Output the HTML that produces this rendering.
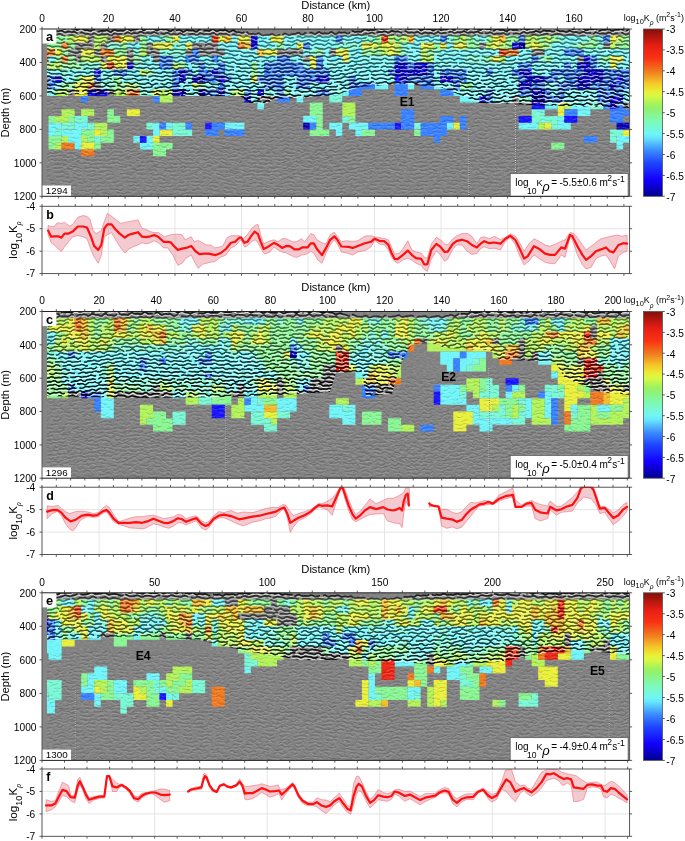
<!DOCTYPE html><html><head><meta charset="utf-8"><style>html,body{margin:0;padding:0;background:#fff;overflow:hidden;width:685px;height:841px;}svg{display:block;will-change:transform;}text{font-family:"Liberation Sans", sans-serif;}</style></head><body><svg width="685" height="841" viewBox="0 0 685 841"><defs><linearGradient id="cbar" x1="0" y1="1" x2="0" y2="0"><stop offset="0.000" stop-color="#00008c"/><stop offset="0.025" stop-color="#0500a9"/><stop offset="0.050" stop-color="#0a00c6"/><stop offset="0.075" stop-color="#0f00e2"/><stop offset="0.100" stop-color="#1400ff"/><stop offset="0.125" stop-color="#1611ff"/><stop offset="0.150" stop-color="#1923ff"/><stop offset="0.175" stop-color="#1c35ff"/><stop offset="0.200" stop-color="#1e46ff"/><stop offset="0.225" stop-color="#285dff"/><stop offset="0.250" stop-color="#3275ff"/><stop offset="0.275" stop-color="#3c8cff"/><stop offset="0.300" stop-color="#4aaaff"/><stop offset="0.325" stop-color="#59c8ff"/><stop offset="0.350" stop-color="#67e6ff"/><stop offset="0.375" stop-color="#70f6f4"/><stop offset="0.400" stop-color="#74f7df"/><stop offset="0.425" stop-color="#79f9c9"/><stop offset="0.450" stop-color="#7dfab4"/><stop offset="0.475" stop-color="#84f79d"/><stop offset="0.500" stop-color="#8bf486"/><stop offset="0.525" stop-color="#92f16f"/><stop offset="0.550" stop-color="#a3f25d"/><stop offset="0.575" stop-color="#bef550"/><stop offset="0.600" stop-color="#d9f843"/><stop offset="0.625" stop-color="#e9f038"/><stop offset="0.650" stop-color="#efdc30"/><stop offset="0.675" stop-color="#f5c828"/><stop offset="0.700" stop-color="#f3ad25"/><stop offset="0.725" stop-color="#f29321"/><stop offset="0.750" stop-color="#f0781e"/><stop offset="0.775" stop-color="#f3611b"/><stop offset="0.800" stop-color="#f74917"/><stop offset="0.825" stop-color="#fa3214"/><stop offset="0.850" stop-color="#f32b14"/><stop offset="0.875" stop-color="#ed2514"/><stop offset="0.900" stop-color="#e61e14"/><stop offset="0.925" stop-color="#cd1a11"/><stop offset="0.950" stop-color="#b4170f"/><stop offset="0.975" stop-color="#9b130d"/><stop offset="1.000" stop-color="#820f0a"/></linearGradient><filter id="tex" x="0" y="0" width="1" height="1" color-interpolation-filters="sRGB"><feTurbulence type="fractalNoise" baseFrequency="0.3 0.75" numOctaves="2" seed="7"/><feColorMatrix type="matrix" values="1.8 0 0 0 -0.4  1.8 0 0 0 -0.4  1.8 0 0 0 -0.4  0 0 0 0 0.08"/></filter><clipPath id="clip0"><rect x="42.0" y="29.0" width="587.6" height="167.3"/></clipPath><clipPath id="kclip0"><rect x="42.0" y="205.8" width="587.6" height="68.3"/></clipPath><linearGradient id="mg0" gradientUnits="userSpaceOnUse" x1="0" y1="29.0" x2="0" y2="99.0"><stop offset="0" stop-color="#fff"/><stop offset="0.1" stop-color="#888"/><stop offset="0.45" stop-color="#b0b0b0"/><stop offset="1" stop-color="#fff"/></linearGradient><mask id="mk0" maskUnits="userSpaceOnUse" x="0" y="0" width="685" height="841"><rect x="0" y="0" width="685" height="841" fill="url(#mg0)"/></mask><clipPath id="zone0"><polygon points="42.0,29.0 42.0,95.0 100.0,94.0 140.0,95.0 200.0,96.0 240.0,96.0 250.0,103.0 265.0,104.0 275.0,99.0 300.0,98.0 336.0,95.0 360.0,87.0 400.0,84.0 440.0,87.0 465.0,97.0 480.0,103.0 530.0,105.0 630.0,108.0 629.6,29.0"/></clipPath><clipPath id="clip1"><rect x="42.0" y="311.5" width="587.6" height="166.7"/></clipPath><clipPath id="kclip1"><rect x="42.0" y="486.7" width="587.6" height="68.3"/></clipPath><linearGradient id="mg1" gradientUnits="userSpaceOnUse" x1="0" y1="311.5" x2="0" y2="381.5"><stop offset="0" stop-color="#fff"/><stop offset="0.1" stop-color="#888"/><stop offset="0.45" stop-color="#b0b0b0"/><stop offset="1" stop-color="#fff"/></linearGradient><mask id="mk1" maskUnits="userSpaceOnUse" x="0" y="0" width="685" height="841"><rect x="0" y="0" width="685" height="841" fill="url(#mg1)"/></mask><clipPath id="zone1"><polygon points="42.0,311.5 42.0,396.0 140.0,398.0 230.0,397.0 300.0,394.0 330.0,392.0 336.0,373.0 362.0,372.0 366.0,396.0 392.0,394.0 398.0,372.0 404.0,357.0 412.0,344.0 432.0,343.0 445.0,348.0 490.0,350.0 500.0,360.0 555.0,362.0 565.0,378.0 600.0,392.0 630.0,395.0 629.6,311.5"/></clipPath><clipPath id="clip2"><rect x="42.0" y="592.8" width="587.6" height="167.6"/></clipPath><clipPath id="kclip2"><rect x="42.0" y="768.5" width="587.6" height="68.3"/></clipPath><linearGradient id="mg2" gradientUnits="userSpaceOnUse" x1="0" y1="592.8" x2="0" y2="662.8"><stop offset="0" stop-color="#fff"/><stop offset="0.1" stop-color="#888"/><stop offset="0.45" stop-color="#b0b0b0"/><stop offset="1" stop-color="#fff"/></linearGradient><mask id="mk2" maskUnits="userSpaceOnUse" x="0" y="0" width="685" height="841"><rect x="0" y="0" width="685" height="841" fill="url(#mg2)"/></mask><clipPath id="zone2"><polygon points="42.0,592.8 42.0,640.0 100.0,638.0 140.0,636.0 200.0,640.0 240.0,650.0 300.0,660.0 340.0,660.0 400.0,662.0 440.0,665.0 500.0,662.0 530.0,655.0 580.0,650.0 630.0,655.0 629.6,592.8"/></clipPath></defs><rect width="685" height="841" fill="#fff"/><g clip-path="url(#clip0)"><rect x="42.0" y="29.0" width="587.6" height="167.3" fill="#838383"/><rect x="42.0" y="29.0" width="587.6" height="167.3" fill="#888" filter="url(#tex)"/><path id="st0" d="M35 27.7l2 1.1 2 -.4 2 -1.8 2 .2 2 1.0 2 -.3 2 .3 2 .8 2 -1.3 2 -1.1 2 1.1 2 .5 2 -.3 2 1.0 2 .3 2 -1.6 2 -.1 2 1.3 2 .1 2 .3 2 1.2 2 -.7 2 -1.3 2 1.1 2 1.1 2 -.2 2 .6 2 .4 2 -1.4 2 -.1 2 1.9 2 .2 2 -.9 2 .2 2 -.2 2 -.6 2 1.3 2 .8 2 -1.8 2 -.8 2 1.1 2 .0 2 -.3 2 .5 2 -1.0 2 -1.4 2 1.1 2 1.1 2 -1.1 2 -.5 2 .2 2 -.9 2 .1 2 1.7 2 -.3 2 -1.5 2 .2 2 .3 2 -.5 2 1.1 2 1.1 2 -1.1 2 -.8 2 .8 2 -.2 2 .0 2 1.6 2 .3 2 -1.4 2 .0 2 .5 2 -.5 2 .7 2 1.5 2 -.9 2 -1.2 2 .5 2 .1 2 -.3 2 1.2 2 .3 2 -1.9 2 -.3 2 1.2 2 -.1 2 -.1 2 .6 2 -1.1 2 -1.1 2 1.5 2 1.0 2 -1.1 2 -.3 2 .4 2 -.5 2 .8 2 1.4 2 -.9 2 -1.2 2 1.2 2 1.0 2 -.2 2 .7 2 .2 2 -1.3 2 .5 2 1.9 2 .1 2 -.5 2 .6 2 -.4 2 -.7 2 1.5 2 1.2 2 -.8 2 -.2 2 .3 2 -1.1 2 .0 2 1.7 2 .1 2 -1.0 2 .2 2 -.4 2 -1.3 2 .8 2 1.3 2 -.8 2 -.7 2 .2 2 -1.0 2 -.5 2 1.6 2 .3 2 -1.5 2 -.2 2 .3 2 -.6 2 .8 2 1.0 2 -1.3 2 -1.2 2 1.1 2 .7 2 -.5 2 .4 2 -.3 2 -1.4 2 .9 2 1.6 2 -.9 2 -1.2 2 .5 2 -.2 2 -.2 2 1.2 2 -.3 2 -2.0 2 -.1 2 1.0 2 -.5 2 .0 2 .4 2 -1.5 2 -1.4 2 1.0 2 .4 2 -.8 2 .3 2 -.2 2 -1.8 2 -.3 2 1.2 2 -.3 2 -.3 2 .7 2 -.9 2 -1.5 2 .8 2 1.0 2 -.4 2 .4 2 .4 2 -1.5 2 -.3 2 1.7 2 .4 2 -.5 2 .4 2 -.3 2 -1.0 2 1.3 2 1.5 2 -1.1 2 -.8 2 .7 2 -.2 2 .2 2 1.3 2 -.7 2 -1.7 2 .7 2 1.3 2 -.6 2 -.3 2 .1 2 -1.2 2 -.1 2 1.7 2 .0 2 -1.6 2 .1 2 .1 2 -.5 2 .9 2 1.1 2 -1.4 2 -1.0 2 .9 2 .0 2 .0 2 1.4 2 .1 2 -1.6 2 .1 2 .8 2 -.3 2 .7 2 1.4 2 -.9 2 -1.2 2 .7 2 .3 2 -.3 2 1.2 2 .5 2 -1.7 2 -.5 2 1.0 2 -.2 2 .0 2 .9 2 -1.1 2 -1.6 2 .8 2 1.0 2 -.8 2 -.3 2 -.1 2 -1.4 2 .2 2 1.6 2 -.7 2 -1.6 2 .2 2 .4 2 -.3 2 .7 2 .2 2 -1.8 2 -.1 2 1.7 2 .1 2 -.6 2 .5 2 -.5 2 -.8 2 1.5 2 1.3 2 -.9 2 -.3 2 .5 2 -.7 2 .2 2 1.9 2 .1 2 -1.1 2 .3 2 .0 2 -.8 2 1.0 2 1.5 2 -.8 2 -.7 2 .4 2 -.7 2 -.4 2 1.7 2 .5 2 -1.3 2 -.2 2 .3 2 -.7 2 .7 2 1.6 2 -.9 2 -1.3 2 .8 2 .5M16 31.4l2 .5 2 -.4 2 -.8 2 1.1 2 .8 2 -1.0 2 -.3 2 .4 2 -.9 2 -.1 2 1.3 2 .0 2 -1.1 2 .3 2 -.1 2 -1.0 2 .7 2 1.2 2 -.7 2 -.5 2 .6 2 -.6 2 -.3 2 1.5 2 .5 2 -1.0 2 .2 2 .5 2 -.5 2 .8 2 1.4 2 -.8 2 -.8 2 1.0 2 .6 2 -.2 2 .8 2 .0 2 -1.2 2 .6 2 1.5 2 -.5 2 -.7 2 .4 2 -.3 2 -.3 2 1.2 2 .0 2 -1.6 2 -.1 2 .8 2 -.4 2 .0 2 .5 2 -1.1 2 -1.1 2 1.0 2 .5 2 -.8 2 .3 2 .1 2 -1.4 2 .0 2 1.3 2 -.2 2 -.3 2 .7 2 -.5 2 -1.1 2 .9 2 1.0 2 -.5 2 .4 2 .5 2 -1.1 2 -.3 2 1.5 2 .3 2 -.6 2 .6 2 -.2 2 -1.1 2 .8 2 1.3 2 -.8 2 -.6 2 .5 2 -.5 2 -.1 2 1.2 2 -.2 2 -1.6 2 .3 2 .9 2 -.4 2 .0 2 .3 2 -1.1 2 -.3 2 1.6 2 .2 2 -1.1 2 .2 2 .4 2 -.5 2 .9 2 1.1 2 -.9 2 -.6 2 1.1 2 .2 2 .0 2 1.3 2 .3 2 -1.2 2 .4 2 1.0 2 -.2 2 .5 2 1.2 2 -.7 2 -.9 2 .9 2 .4 2 -.4 2 .9 2 .5 2 -1.4 2 -.4 2 .9 2 -.2 2 -.1 2 .8 2 -.7 2 -1.4 2 .6 2 .7 2 -.6 2 .0 2 .1 2 -1.2 2 -.2 2 1.5 2 -.3 2 -1.2 2 .3 2 .1 2 -.4 2 .8 2 .5 2 -1.5 2 -.3 2 1.3 2 .0 2 -.4 2 .4 2 -.5 2 -.9 2 1.0 2 1.0 2 -1.1 2 -.4 2 .3 2 -.8 2 -.1 2 1.2 2 -.3 2 -1.3 2 .0 2 -.1 2 -1.0 2 .5 2 .8 2 -1.1 2 -1.0 2 .3 2 -.7 2 -.7 2 1.1 2 .1 2 -1.4 2 -.2 2 .2 2 -.9 2 .4 2 1.2 2 -.8 2 -1.1 2 .5 2 .2 2 -.3 2 1.0 2 .3 2 -1.4 2 .0 2 1.4 2 .0 2 -.3 2 .6 2 -.6 2 -.5 2 1.5 2 .6 2 -1.2 2 -.2 2 .7 2 -.3 2 .2 2 .9 2 -.9 2 -1.2 2 1.0 2 .6 2 -.7 2 .2 2 .0 2 -1.3 2 .0 2 1.3 2 -.2 2 -.7 2 .5 2 -.5 2 -1.1 2 1.0 2 .9 2 -.6 2 .0 2 .5 2 -1.0 2 -.3 2 1.5 2 .3 2 -.5 2 .5 2 .0 2 -1.1 2 .8 2 1.3 2 -.4 2 -.4 2 .5 2 -.6 2 -.4 2 1.5 2 .2 2 -1.4 2 -.1 2 .5 2 -.4 2 .2 2 .6 2 -1.3 2 -1.0 2 1.1 2 .3 2 -1.0 2 -.1 2 -.2 2 -1.0 2 .6 2 1.0 2 -1.1 2 -1.1 2 .6 2 .0 2 -.3 2 1.0 2 -.1 2 -1.4 2 .1 2 1.1 2 -.3 2 .3 2 .9 2 -.8 2 -.9 2 1.1 2 .6 2 -.3 2 .8 2 .5 2 -1.2 2 -.2 2 1.2 2 .0 2 -.1 2 1.0 2 -.4 2 -1.3 2 .7 2 .8 2 -.4 2 .3 2 .4 2 -1.2 2 -.4 2 1.4 2 .2 2 -.8 2 .3 2 -.1 2 -.7 2 1.0 2 1.1 2 -1.1 2 -.6 2 1.0M3 35.9l2 -1.0 2 -.9 2 .6 2 .6 2 .3 2 .5 2 -.4 2 -1.3 2 .0 2 1.0 2 .2 2 .1 2 .2 2 -1.0 2 -1.0 2 .6 2 .7 2 .0 2 .3 2 -.2 2 -1.3 2 -.4 2 .9 2 .5 2 .1 2 .4 2 -.7 2 -1.0 2 .6 2 1.2 2 .2 2 .0 2 .0 2 -.8 2 .3 2 1.6 2 .5 2 -.8 2 -.1 2 .2 2 .3 2 1.1 2 .5 2 -1.1 2 -.6 2 1.1 2 .7 2 -.1 2 -.1 2 -.7 2 -.6 2 1.0 2 1.0 2 -.8 2 -.9 2 -.1 2 -.3 2 .3 2 1.0 2 -.4 2 -1.4 2 -.3 2 .2 2 .0 2 .6 2 .6 2 -1.0 2 -1.0 2 .2 2 .1 2 .3 2 1.0 2 .2 2 -1.2 2 -.4 2 .4 2 .2 2 .7 2 1.0 2 -.6 2 -1.0 2 .2 2 .6 2 .3 2 .8 2 .0 2 -1.3 2 -.3 2 1.2 2 .5 2 -.2 2 -.2 2 -.8 2 -.5 2 1.2 2 .8 2 -1.1 2 -.8 2 .2 2 .2 2 .5 2 .5 2 -1.0 2 -1.1 2 .7 2 1.1 2 -.1 2 -.1 2 -.3 2 -.7 2 .4 2 1.5 2 .4 2 -.6 2 .0 2 -.2 2 .0 2 1.2 2 1.2 2 -.3 2 -.3 2 .1 2 -.3 2 .4 2 1.5 2 .5 2 -.6 2 -.1 2 -.2 2 -.4 2 .8 2 1.2 2 -.3 2 -.7 2 -.2 2 -.4 2 .0 2 1.2 2 .2 2 -1.3 2 -.7 2 .3 2 .1 2 .5 2 .3 2 -1.3 2 -1.0 2 .9 2 .8 2 -.4 2 -.4 2 -.4 2 -.6 2 .9 2 1.1 2 -.7 2 -1.1 2 .1 2 .5 2 .3 2 .7 2 -.4 2 -1.3 2 -.1 2 1.1 2 .2 2 .0 2 -.1 2 -1.0 2 -.9 2 .7 2 .7 2 -.3 2 -.2 2 -.5 2 -1.3 2 -.4 2 .9 2 .1 2 -.4 2 -.1 2 -1.0 2 -1.3 2 .3 2 .8 2 -.2 2 -.2 2 -.4 2 -1.2 2 -.4 2 1.2 2 .5 2 -.6 2 -.4 2 -.4 2 -.3 2 1.0 2 1.1 2 -.8 2 -1.0 2 .4 2 .6 2 .5 2 .5 2 -.6 2 -1.0 2 .7 2 1.3 2 -.1 2 -.5 2 -.2 2 -.4 2 .3 2 1.3 2 -.1 2 -1.3 2 -.4 2 .4 2 .0 2 .6 2 .5 2 -1.2 2 -1.0 2 .4 2 .3 2 .2 2 .6 2 -.1 2 -1.4 2 -.3 2 .6 2 .2 2 .5 2 .8 2 -.7 2 -1.1 2 .4 2 .6 2 .3 2 .8 2 .3 2 -1.2 2 -.4 2 .9 2 .6 2 .3 2 .3 2 -.8 2 -.9 2 .8 2 1.2 2 -.3 2 -.7 2 -.3 2 -.5 2 .5 2 1.0 2 -.6 2 -1.6 2 .0 2 .6 2 .0 2 .0 2 -.4 2 -1.4 2 -.2 2 1.2 2 .2 2 -.8 2 -.4 2 -.5 2 -.4 2 1.0 2 .9 2 -.7 2 -.8 2 .0 2 -.1 2 .3 2 1.4 2 .2 2 -.9 2 -.2 2 .1 2 -.1 2 .9 2 1.2 2 -.3 2 -.7 2 .0 2 -.2 2 .2 2 1.3 2 .5 2 -1.0 2 -.5 2 .1 2 .0 2 .7 2 .9 2 -.8 2 -1.2 2 .3 2 .8 2 .2 2 .2 2 -.4 2 -1.1 2 .4 2 1.5 2 .1 2 -.8 2 -.1 2 .1 2 .4M32 37.8l2 1.7 2 .0 2 -1.5 2 .0 2 .0 2 -.8 2 1.0 2 1.4 2 -1.0 2 -.9 2 .5 2 -.4 2 -.3 2 1.8 2 .7 2 -1.3 2 .0 2 .5 2 -.7 2 .8 2 1.9 2 -.4 2 -1.2 2 .6 2 .3 2 -.1 2 1.5 2 .6 2 -1.7 2 -.3 2 1.4 2 .1 2 .0 2 .6 2 -1.1 2 -1.1 2 1.6 2 1.0 2 -1.4 2 -.7 2 .4 2 -.6 2 .4 2 1.2 2 -1.2 2 -1.8 2 .9 2 .7 2 -.5 2 .4 2 -.1 2 -1.7 2 .0 2 1.7 2 .0 2 -.6 2 .5 2 -.6 2 -1.2 2 1.3 2 1.4 2 -.6 2 .0 2 .4 2 -1.2 2 -.4 2 1.8 2 .6 2 -.7 2 .5 2 -.3 2 -1.4 2 .7 2 1.6 2 -.4 2 -.6 2 .4 2 -1.1 2 -.5 2 1.7 2 .6 2 -1.6 2 -.3 2 .3 2 -.5 2 .7 2 1.1 2 -1.4 2 -1.4 2 1.3 2 .9 2 -.5 2 .3 2 -.2 2 -1.2 2 1.1 2 1.9 2 -.7 2 -1.0 2 .7 2 .2 2 .1 2 1.7 2 .3 2 -1.6 2 .2 2 1.3 2 .1 2 .5 2 1.2 2 -1.0 2 -1.2 2 1.1 2 .8 2 -.3 2 .9 2 .3 2 -1.7 2 -.5 2 1.2 2 .0 2 -.1 2 1.0 2 -.7 2 -1.8 2 .4 2 .9 2 -.5 2 .4 2 .4 2 -1.7 2 -.8 2 1.5 2 .5 2 -.8 2 .3 2 -.5 2 -1.2 2 1.2 2 1.5 2 -1.2 2 -1.0 2 .6 2 .1 2 .1 2 1.2 2 -.6 2 -1.9 2 .7 2 1.5 2 -.5 2 -.5 2 .2 2 -1.2 2 -.3 2 1.7 2 .0 2 -1.7 2 -.2 2 .0 2 -.9 2 .7 2 1.0 2 -1.4 2 -1.5 2 .4 2 -.5 2 -.5 2 1.3 2 .1 2 -1.8 2 -.5 2 .3 2 -.7 2 .3 2 1.5 2 -.7 2 -1.5 2 .4 2 .1 2 -.4 2 1.3 2 .9 2 -1.6 2 -.6 2 1.0 2 .1 2 .3 2 1.1 2 -.8 2 -1.5 2 1.1 2 1.4 2 -.6 2 -.2 2 .2 2 -1.1 2 .4 2 1.8 2 -.5 2 -1.8 2 .3 2 .7 2 -.4 2 .7 2 .1 2 -1.8 2 -.4 2 1.6 2 .1 2 -.7 2 .3 2 -.6 2 -1.2 2 1.2 2 1.4 2 -.8 2 -.4 2 .4 2 -1.0 2 -.2 2 1.9 2 .5 2 -.9 2 .3 2 .0 2 -1.1 2 .8 2 1.8 2 -.4 2 -.6 2 .5 2 -.8 2 -.7 2 1.7 2 .8 2 -1.2 2 -.3 2 .1 2 -1.0 2 .5 2 1.6 2 -1.1 2 -1.7 2 .4 2 .4 2 -.5 2 .7 2 -.3 2 -2.0 2 .0 2 1.7 2 -.3 2 -1.1 2 .1 2 -.5 2 -.4 2 1.5 2 .5 2 -1.9 2 -.3 2 1.1 2 -.1 2 .4 2 1.1 2 -1.1 2 -1.3 2 1.3 2 1.0 2 -.3 2 .6 2 .4 2 -1.6 2 -.2 2 1.7 2 .2 2 -.2 2 .9 2 -.6 2 -1.6 2 .7 2 1.2 2 -.4 2 .4 2 .5 2 -1.5 2 -.9 2 1.5 2 .5 2 -.5 2 .5 2 -.3 2 -1.5 2 .8 2 1.8 2 -.5 2 -.7 2 .4 2 -.4 2 .1M30 41.9l2 -.5 2 1.3 2 .4 2 -.7 2 -.5 2 -.2 2 -.2 2 .9 2 .8 2 -1.1 2 -.9 2 .8 2 .7 2 .1 2 .4 2 -.5 2 -.8 2 1.0 2 1.4 2 -.2 2 -.4 2 .1 2 -.2 2 .4 2 1.5 2 .3 2 -.9 2 -.2 2 .3 2 .0 2 .8 2 1.0 2 -.6 2 -.9 2 .1 2 -.1 2 .0 2 1.0 2 .3 2 -1.1 2 -.7 2 .1 2 -.4 2 .4 2 .9 2 -.4 2 -1.3 2 -.2 2 .1 2 .0 2 .8 2 .3 2 -1.3 2 -.7 2 .9 2 .4 2 .1 2 .2 2 -.7 2 -.7 2 1.1 2 1.2 2 -.6 2 -.6 2 .2 2 .0 2 .6 2 1.0 2 -.5 2 -1.3 2 .5 2 1.0 2 .0 2 .1 2 -.2 2 -1.1 2 -.1 2 1.3 2 .3 2 -.7 2 -.1 2 -.6 2 -.7 2 .8 2 1.0 2 -.4 2 -.6 2 .0 2 -.8 2 -.1 2 1.2 2 .6 2 -.5 2 .0 2 -.2 2 -.7 2 .7 2 1.4 2 .2 2 -.4 2 .1 2 -.2 2 .0 2 1.5 2 .9 2 -.7 2 -.3 2 .3 2 .2 2 .9 2 1.0 2 -.7 2 -1.1 2 .8 2 1.0 2 .0 2 -.1 2 -.3 2 -.9 2 .5 2 1.3 2 -.3 2 -1.2 2 -.1 2 .1 2 .0 2 .8 2 -.1 2 -1.4 2 -.5 2 .8 2 .2 2 .1 2 .3 2 -.9 2 -1.0 2 .6 2 .8 2 .0 2 .2 2 .0 2 -1.1 2 -.4 2 1.0 2 .5 2 .0 2 .4 2 -.5 2 -1.3 2 .3 2 .9 2 .0 2 .1 2 .0 2 -1.2 2 -.8 2 .9 2 .5 2 -.6 2 -.4 2 -.7 2 -1.0 2 .5 2 1.0 2 -.9 2 -1.3 2 -.2 2 .0 2 .0 2 .5 2 -.6 2 -1.6 2 .0 2 1.1 2 .0 2 -.5 2 -.3 2 -.7 2 -.1 2 1.4 2 .3 2 -1.0 2 -.4 2 .3 2 .0 2 .8 2 .9 2 -.7 2 -.9 2 .3 2 .4 2 .2 2 .9 2 .3 2 -1.2 2 -.4 2 .4 2 .0 2 .4 2 .9 2 -.5 2 -1.3 2 .0 2 .2 2 -.1 2 .8 2 .3 2 -1.2 2 -.9 2 .6 2 .2 2 .2 2 .5 2 -.6 2 -1.2 2 .5 2 1.2 2 .0 2 -.3 2 -.1 2 -.6 2 .4 2 1.4 2 .1 2 -1.1 2 -.1 2 .8 2 .3 2 .6 2 .2 2 -1.2 2 -.3 2 1.3 2 .6 2 -.5 2 -.1 2 -.5 2 -.7 2 .8 2 1.0 2 -.6 2 -.8 2 -.2 2 -.7 2 -.2 2 1.1 2 .2 2 -1.1 2 -.5 2 -.3 2 -.7 2 .4 2 1.0 2 -.3 2 -.9 2 -.1 2 -.5 2 -.3 2 1.1 2 .7 2 -.8 2 -.5 2 .1 2 -.2 2 .6 2 1.3 2 -.3 2 -1.2 2 .2 2 .7 2 .4 2 .6 2 .0 2 -1.2 2 .0 2 1.5 2 .4 2 -.7 2 -.2 2 -.2 2 -.1 2 1.2 2 .4 2 -1.2 2 -.7 2 .7 2 .3 2 .2 2 .4 2 -.8 2 -1.0 2 .7 2 1.0 2 -.1 2 .1 2 .0 2 -.9 2 -.1 2 1.3 2 .7 2 -.1M38 46.0l2 .6 2 -.4 2 .0 2 .0 2 -.7 2 .2 2 1.2 2 -.1 2 -.6 2 .2 2 .2 2 .1 2 .9 2 .4 2 -.9 2 .0 2 1.2 2 .3 2 .0 2 .3 2 -.3 2 -.2 2 1.1 2 .7 2 -.7 2 -.2 2 .3 2 -.1 2 .3 2 .8 2 -.5 2 -.9 2 .2 2 .2 2 -.2 2 .4 2 .2 2 -1.0 2 -.6 2 .4 2 -.1 2 -.1 2 .6 2 -.3 2 -1.1 2 .0 2 .4 2 -.2 2 .4 2 .6 2 -.8 2 -.6 2 .5 2 .3 2 .1 2 .6 2 .0 2 -1.0 2 .3 2 1.0 2 .1 2 -.2 2 .2 2 -.5 2 -.1 2 1.0 2 .4 2 -.9 2 -.2 2 .3 2 .0 2 .3 2 .3 2 -.9 2 -.7 2 .8 2 .4 2 -.5 2 .0 2 -.3 2 -.7 2 .4 2 .9 2 -.3 2 -.6 2 .2 2 -.2 2 -.2 2 1.0 2 .6 2 -.6 2 -.1 2 .3 2 -.2 2 .5 2 1.2 2 .1 2 -.4 2 .3 2 .2 2 -.2 2 1.0 2 1.0 2 -.4 2 -.3 2 .4 2 -.1 2 .2 2 1.1 2 .1 2 -1.0 2 .1 2 .4 2 -.1 2 .4 2 .3 2 -1.0 2 -.5 2 .8 2 .3 2 -.5 2 -.2 2 -.3 2 -.5 2 .6 2 .7 2 -.9 2 -.7 2 .4 2 .1 2 .1 2 .5 2 -.4 2 -1.0 2 .4 2 .9 2 -.2 2 .0 2 .2 2 -.7 2 -.3 2 .9 2 .4 2 -.4 2 .0 2 -.2 2 -.8 2 .1 2 .8 2 -.2 2 -.4 2 .0 2 -.7 2 -.9 2 .5 2 .4 2 -.6 2 -.3 2 -.3 2 -1.1 2 -.2 2 .8 2 -.3 2 -.8 2 -.2 2 -.5 2 -.5 2 .6 2 .4 2 -1.0 2 -.6 2 .4 2 .1 2 .0 2 .4 2 -.5 2 -.8 2 .8 2 .9 2 -.4 2 -.3 2 .2 2 -.3 2 .4 2 1.0 2 -.2 2 -.9 2 .2 2 .4 2 .0 2 .5 2 .3 2 -1.0 2 -.5 2 .7 2 .1 2 -.2 2 .5 2 -.4 2 -1.0 2 .0 2 .5 2 -.2 2 .2 2 .4 2 -.8 2 -.8 2 .6 2 .3 2 -.1 2 .5 2 .0 2 -1.0 2 .0 2 .9 2 .2 2 .1 2 .4 2 -.5 2 -.5 2 1.0 2 .8 2 -.4 2 -.1 2 .1 2 -.2 2 .5 2 .9 2 -.6 2 -.9 2 .5 2 .5 2 -.2 2 .1 2 -.2 2 -1.0 2 .1 2 .9 2 -.3 2 -.8 2 -.1 2 -.5 2 -.4 2 .7 2 .2 2 -1.0 2 -.5 2 .1 2 -.4 2 .2 2 .8 2 -.4 2 -.9 2 .1 2 .1 2 -.2 2 .7 2 .7 2 -.7 2 -.4 2 .4 2 -.1 2 .2 2 1.0 2 .2 2 -.8 2 .0 2 .4 2 .0 2 .6 2 .6 2 -.7 2 -.7 2 .7 2 .4 2 -.1 2 .3 2 -.3 2 -.9 2 .5 2 1.0 2 -.4 2 -.7 2 .1 2 .0 2 .0 2 .9 2 -.1 2 -1.1 2 .2 2 .9 2 .0 2 .2 2 .3 2 -.5 2 -.2 2 1.2M20 50.8l2 -.7 2 -.3 2 -.3 2 .4 2 1.0 2 -.5 2 -1.3 2 .0 2 .6 2 .2 2 .3 2 -.3 2 -1.1 2 .1 2 1.5 2 .3 2 -.7 2 -.2 2 .0 2 .3 2 1.2 2 .6 2 -1.0 2 -.4 2 .7 2 .6 2 .6 2 .7 2 -.4 2 -1.0 2 .4 2 1.0 2 .3 2 .4 2 .2 2 -1.0 2 -.6 2 .7 2 .5 2 .1 2 .4 2 -.4 2 -1.3 2 -.2 2 .7 2 .1 2 .2 2 .1 2 -1.1 2 -1.0 2 .6 2 .7 2 -.1 2 .0 2 -.5 2 -1.0 2 .3 2 1.4 2 .0 2 -.8 2 -.2 2 -.1 2 .4 2 1.1 2 .1 2 -1.2 2 -.2 2 1.0 2 .5 2 .1 2 .0 2 -.8 2 -.3 2 1.2 2 .8 2 -.7 2 -.6 2 -.1 2 -.2 2 .6 2 .9 2 -.5 2 -1.1 2 -.2 2 .1 2 .0 2 .8 2 .4 2 -1.1 2 -.7 2 .1 2 .0 2 .4 2 1.0 2 -.1 2 -1.0 2 -.2 2 .3 2 .1 2 1.0 2 .9 2 -.6 2 -.7 2 .4 2 .5 2 .6 2 1.1 2 -.1 2 -1.0 2 .2 2 1.2 2 .6 2 .1 2 .1 2 -.8 2 .0 2 1.5 2 .6 2 -.9 2 -.5 2 .2 2 .2 2 .7 2 .3 2 -1.1 2 -.9 2 .7 2 .7 2 -.2 2 -.1 2 -.6 2 -1.0 2 .5 2 1.1 2 -.1 2 -.6 2 -.3 2 -.6 2 -.2 2 1.2 2 .6 2 -.5 2 -.4 2 -.2 2 -.6 2 .4 2 1.3 2 .1 2 -.6 2 -.1 2 -.5 2 -.4 2 .9 2 .9 2 -.5 2 -.7 2 -.3 2 -.6 2 .1 2 1.1 2 -.2 2 -1.3 2 -.6 2 .0 2 -.1 2 .5 2 .0 2 -1.6 2 -.9 2 .7 2 .4 2 -.5 2 -.5 2 -.8 2 -.6 2 .8 2 .7 2 -1.0 2 -1.0 2 .2 2 .2 2 .4 2 .6 2 -.6 2 -1.2 2 .3 2 1.0 2 .2 2 .3 2 .0 2 -.9 2 -.4 2 1.0 2 .7 2 .0 2 .2 2 -.4 2 -1.0 2 .1 2 1.0 2 .2 2 .0 2 .1 2 -.9 2 -.9 2 .6 2 .7 2 -.1 2 .1 2 -.4 2 -1.2 2 -.1 2 1.2 2 .2 2 -.5 2 -.2 2 -.6 2 -.2 2 1.1 2 .8 2 -1.0 2 -.6 2 .4 2 .4 2 .6 2 .5 2 -.7 2 -.8 2 .9 2 1.2 2 -.1 2 -.3 2 -.2 2 -.4 2 .6 2 1.3 2 -.2 2 -1.1 2 -.1 2 .1 2 .1 2 .8 2 .2 2 -1.2 2 -.8 2 .3 2 .0 2 .2 2 .6 2 -.6 2 -1.4 2 -.3 2 .3 2 -.1 2 .5 2 .4 2 -1.0 2 -1.1 2 .2 2 .2 2 .2 2 .8 2 -.1 2 -1.3 2 -.2 2 .8 2 .4 2 .4 2 .3 2 -.9 2 -.6 2 1.1 2 1.0 2 -.3 2 -.3 2 -.2 2 -.3 2 .9 2 1.1 2 -.7 2 -1.0 2 .3 2 .6 2 .3 2 .3 2 -.5 2 -1.1 2 .2 2 1.3 2 .0 2 -.5 2 -.3 2 -.5 2 -.2 2 1.2 2 .7 2 -.7 2 -.5 2 .0 2 -.2 2 .6 2 1.3 2 .1 2 -.6 2 .0 2 .0M41 52.7l2 .4 2 1.3 2 .0 2 -1.1 2 -.1 2 .6 2 .4 2 .7 2 .1 2 -1.0 2 .0 2 1.4 2 .7 2 -.3 2 -.1 2 -.2 2 .0 2 1.3 2 .9 2 -.7 2 -.7 2 .3 2 .2 2 .5 2 1.0 2 -.4 2 -1.1 2 -.2 2 .4 2 .0 2 .6 2 .4 2 -1.0 2 -.9 2 .1 2 .1 2 .1 2 .7 2 -.1 2 -1.2 2 -.5 2 .3 2 .1 2 .5 2 .6 2 -.7 2 -1.1 2 .3 2 .7 2 .3 2 .5 2 -.3 2 -1.1 2 .2 2 1.4 2 .3 2 -.4 2 -.2 2 -.4 2 .2 2 1.2 2 .4 2 -1.2 2 -.5 2 .6 2 .4 2 .3 2 .0 2 -1.0 2 -.7 2 .8 2 .9 2 -.5 2 -.5 2 -.4 2 -.7 2 .4 2 1.2 2 -.1 2 -.9 2 -.2 2 -.3 2 -.2 2 1.1 2 .8 2 -.4 2 -.5 2 .0 2 -.2 2 .3 2 1.5 2 .5 2 -.6 2 .0 2 .0 2 -.1 2 1.0 2 1.3 2 -.2 2 -.6 2 .1 2 .1 2 .5 2 1.2 2 .2 2 -1.2 2 -.2 2 .8 2 .4 2 .3 2 .0 2 -1.1 2 -.5 2 1.2 2 .6 2 -.8 2 -.6 2 -.2 2 -.1 2 .7 2 .7 2 -1.1 2 -1.0 2 .4 2 .6 2 .1 2 .3 2 -.4 2 -1.1 2 .2 2 1.1 2 .2 2 .0 2 .0 2 -.8 2 -.6 2 1.0 2 .8 2 -.1 2 -.1 2 -.2 2 -1.1 2 -.1 2 1.0 2 .3 2 -.3 2 .0 2 -.9 2 -1.0 2 .4 2 .8 2 -.3 2 -.5 2 -.6 2 -1.1 2 -.2 2 1.0 2 .0 2 -1.1 2 -.7 2 -.4 2 -.2 2 .7 2 .3 2 -1.3 2 -1.0 2 .6 2 .5 2 .0 2 -.1 2 -.7 2 -.7 2 .9 2 1.1 2 -.5 2 -.7 2 .0 2 .0 2 .5 2 1.1 2 -.2 2 -1.2 2 .0 2 .6 2 .2 2 .6 2 .4 2 -1.1 2 -.8 2 .5 2 .4 2 .1 2 .6 2 -.3 2 -1.3 2 -.3 2 .5 2 .1 2 .3 2 .5 2 -.9 2 -1.1 2 .2 2 .6 2 .1 2 .6 2 -.1 2 -1.2 2 -.3 2 1.1 2 .6 2 .0 2 .0 2 -.6 2 -.4 2 1.2 2 1.1 2 -.6 2 -.6 2 .2 2 .2 2 .8 2 .7 2 -.7 2 -1.1 2 .6 2 1.0 2 .0 2 -.2 2 -.5 2 -.8 2 .2 2 1.2 2 -.1 2 -1.1 2 -.4 2 -.4 2 -.3 2 .8 2 .5 2 -1.0 2 -.9 2 -.1 2 -.3 2 .1 2 1.0 2 .0 2 -1.1 2 -.4 2 -.1 2 -.2 2 .8 2 1.0 2 -.5 2 -.8 2 .0 2 .0 2 .3 2 1.2 2 .3 2 -1.0 2 -.4 2 .5 2 .3 2 .7 2 .6 2 -.9 2 -.9 2 .7 2 1.0 2 -.1 2 -.2 2 -.5 2 -.6 2 .6 2 1.2 2 -.5 2 -1.1 2 -.1 2 .4 2 .3 2 .6 2 -.3 2 -1.2 2 .0 2 1.1 2 .4 2 .0 2 .0 2 -.6 2 -.4 2 1.2 2 1.1 2 -.1 2 .0 2 -.1M42 56.5l2 1.3 2 .7 2 -.7 2 -.2 2 .2 2 -.1 2 .8 2 1.0 2 -.7 2 -.8 2 1.0 2 .8 2 .0 2 .6 2 .0 2 -1.0 2 .5 2 1.4 2 .1 2 -.3 2 .2 2 -.5 2 -.5 2 1.1 2 .8 2 -.7 2 -.1 2 -.1 2 -.9 2 .0 2 1.2 2 .0 2 -.8 2 .1 2 -.5 2 -1.0 2 .7 2 .9 2 -.5 2 -.5 2 .1 2 -.8 2 -.1 2 1.3 2 .3 2 -1.0 2 -.1 2 .2 2 -.2 2 .8 2 .8 2 -1.0 2 -.7 2 1.0 2 .6 2 -.2 2 .4 2 -.4 2 -.8 2 .9 2 1.1 2 -.6 2 -.8 2 .3 2 -.1 2 .0 2 1.0 2 -.3 2 -1.4 2 .0 2 .7 2 -.2 2 .2 2 .3 2 -1.1 2 -.8 2 .8 2 .4 2 -.2 2 .4 2 -.1 2 -1.2 2 .1 2 1.0 2 .1 2 .2 2 .7 2 -.5 2 -.9 2 .9 2 1.0 2 .0 2 .6 2 .4 2 -1.0 2 .0 2 1.5 2 .5 2 -.2 2 .4 2 -.3 2 -.6 2 1.2 2 1.1 2 -.7 2 -.6 2 .4 2 -.1 2 .3 2 .9 2 -.7 2 -1.2 2 .5 2 .9 2 -.3 2 -.3 2 -.1 2 -.9 2 .1 2 1.3 2 -.1 2 -1.1 2 .0 2 .0 2 -.2 2 .8 2 .7 2 -1.0 2 -.7 2 .6 2 .0 2 .1 2 1.1 2 -.1 2 -1.1 2 .0 2 .4 2 -.2 2 .5 2 .9 2 -.8 2 -1.0 2 .3 2 .0 2 -.2 2 .8 2 .0 2 -1.5 2 -.5 2 .4 2 -.3 2 .0 2 .4 2 -1.1 2 -1.4 2 .6 2 .5 2 -.7 2 -.3 2 -.4 2 -1.0 2 .2 2 1.1 2 -.7 2 -1.2 2 .1 2 .3 2 -.1 2 .6 2 -.1 2 -1.3 2 .0 2 1.3 2 .0 2 -.3 2 .2 2 -.5 2 -.5 2 1.2 2 .8 2 -.7 2 -.2 2 .1 2 -.6 2 .2 2 1.3 2 -.1 2 -.8 2 .0 2 -.3 2 -.7 2 .8 2 .9 2 -.7 2 -.6 2 .1 2 -.7 2 -.3 2 1.2 2 .3 2 -1.0 2 -.2 2 .0 2 -.5 2 .7 2 1.1 2 -.8 2 -.9 2 .5 2 .4 2 .1 2 .9 2 -.2 2 -1.1 2 .4 2 1.4 2 .0 2 -.3 2 .2 2 -.4 2 .1 2 1.3 2 .2 2 -1.2 2 -.2 2 .7 2 .0 2 .3 2 .4 2 -1.2 2 -.9 2 .8 2 .5 2 -.5 2 .1 2 -.4 2 -1.3 2 .0 2 .9 2 -.2 2 -.4 2 .2 2 -.9 2 -1.0 2 .7 2 .7 2 -.4 2 .1 2 .1 2 -1.1 2 -.3 2 1.2 2 .3 2 -.3 2 .4 2 -.4 2 -.8 2 .8 2 1.3 2 -.4 2 -.4 2 .2 2 -.4 2 .2 2 1.4 2 -.1 2 -1.3 2 .1 2 .7 2 .0 2 .3 2 .2 2 -1.2 2 -.3 2 1.3 2 .3 2 -.9 2 -.1 2 -.1 2 -.4 2 .8 2 .8 2 -1.0 2 -.7 2 .6 2 .2 2 .2 2 1.0 2 .0 2 -1.1 2 .2 2 .9 2 .1 2 .7 2 .9M13 61.6l2 .4 2 .8 2 -.7 2 -1.0 2 .3 2 .2 2 -.3 2 .5 2 -.1 2 -1.1 2 -.1 2 .9 2 .0 2 -.1 2 .4 2 -.5 2 -.6 2 .8 2 .7 2 -.1 2 .3 2 .4 2 -.7 2 .0 2 1.1 2 .4 2 .0 2 .6 2 -.1 2 -.8 2 .7 2 .9 2 .0 2 .1 2 .3 2 -.7 2 -.3 2 1.1 2 .3 2 -.6 2 -.1 2 -.1 2 -.5 2 .5 2 .7 2 -.9 2 -.8 2 .4 2 .1 2 -.2 2 .4 2 -.5 2 -1.0 2 .5 2 .9 2 -.5 2 -.4 2 .1 2 -.3 2 .0 2 1.1 2 .1 2 -1.0 2 .1 2 .5 2 -.1 2 .5 2 .8 2 -.7 2 -.6 2 .6 2 .2 2 -.1 2 .8 2 .1 2 -1.0 2 -.2 2 .6 2 -.2 2 .1 2 .7 2 -.5 2 -1.1 2 .3 2 .2 2 -.3 2 .4 2 .3 2 -1.1 2 -.5 2 .7 2 .1 2 -.2 2 .4 2 -.4 2 -.8 2 .8 2 .9 2 -.4 2 -.2 2 .3 2 -.1 2 .4 2 1.1 2 -.1 2 -.8 2 .6 2 .9 2 .1 2 .4 2 .3 2 -.6 2 .1 2 1.4 2 .2 2 -.4 2 .2 2 .0 2 -.4 2 .8 2 .8 2 -.6 2 -.5 2 .3 2 -.4 2 -.1 2 1.0 2 .1 2 -1.0 2 .0 2 .0 2 -.6 2 .4 2 .9 2 -.5 2 -.7 2 .2 2 -.2 2 -.3 2 1.0 2 .4 2 -.8 2 -.3 2 .4 2 -.2 2 .4 2 .9 2 -.5 2 -1.0 2 .6 2 .6 2 -.2 2 .2 2 -.1 2 -.9 2 .1 2 1.1 2 -.4 2 -.9 2 .0 2 -.1 2 -.4 2 .5 2 .0 2 -1.4 2 -.5 2 .6 2 -.3 2 -.4 2 .1 2 -.9 2 -1.0 2 .5 2 .4 2 -.7 2 -.2 2 -.1 2 -1.0 2 -.2 2 .9 2 .0 2 -.5 2 .3 2 -.3 2 -.9 2 .6 2 .9 2 -.3 2 -.1 2 .3 2 -.6 2 -.3 2 1.0 2 .5 2 -.5 2 .1 2 -.1 2 -.6 2 .4 2 1.0 2 -.4 2 -.8 2 .2 2 -.1 2 -.1 2 .7 2 -.2 2 -1.2 2 -.1 2 .9 2 -.2 2 -.3 2 .1 2 -.7 2 -.3 2 1.0 2 .3 2 -1.0 2 -.1 2 .4 2 -.2 2 .5 2 .7 2 -.6 2 -.6 2 .7 2 .4 2 .0 2 .7 2 .2 2 -.9 2 .1 2 .8 2 .1 2 .2 2 .7 2 -.5 2 -.8 2 .4 2 .5 2 -.3 2 .4 2 .3 2 -1.1 2 -.6 2 .6 2 .0 2 -.3 2 .4 2 -.5 2 -1.2 2 .2 2 .7 2 -.5 2 -.3 2 -.1 2 -.8 2 -.2 2 1.0 2 .0 2 -1.0 2 -.1 2 .4 2 -.2 2 .5 2 .4 2 -.9 2 -.4 2 1.1 2 .4 2 -.4 2 .2 2 -.1 2 -.5 2 .8 2 1.0 2 -.6 2 -.5 2 .4 2 -.2 2 .0 2 1.0 2 .1 2 -1.0 2 -.1 2 .3 2 -.4 2 .4 2 .8 2 -.6 2 -.8 2 .3 2 -.1 2 -.3 2 .9 2 .4 2 -.9 2 -.2 2 .4 2 -.2 2 .3 2 1.1 2 -.2 2 -.8 2 .5 2 .6 2 .1 2 .8 2 .4 2 -.7M19 65.4l2 -.5 2 .7 2 .1 2 -1.5 2 .0 2 1.2 2 -.3 2 -.6 2 .5 2 -.5 2 -.5 2 1.3 2 .6 2 -1.1 2 .0 2 .8 2 -.4 2 .4 2 1.4 2 -.5 2 -.9 2 .9 2 .6 2 -.3 2 1.0 2 .7 2 -1.1 2 -.2 2 1.1 2 -.2 2 .0 2 1.2 2 -.2 2 -1.3 2 .4 2 .6 2 -.6 2 .4 2 .8 2 -1.1 2 -.9 2 .8 2 .0 2 -.5 2 .7 2 -.2 2 -1.5 2 .3 2 1.2 2 -.6 2 -.4 2 .4 2 -.6 2 -.4 2 1.4 2 .2 2 -1.4 2 .2 2 .9 2 -.3 2 .3 2 .7 2 -.9 2 -.6 2 1.4 2 .5 2 -.8 2 .4 2 .1 2 -.9 2 .6 2 1.2 2 -.7 2 -.7 2 .5 2 -.4 2 -.6 2 1.1 2 .4 2 -1.2 2 -.2 2 .4 2 -.9 2 .0 2 1.3 2 -.5 2 -1.0 2 .4 2 -.1 2 -.8 2 1.0 2 .9 2 -1.0 2 -.3 2 .7 2 -.3 2 .0 2 1.5 2 .0 2 -1.1 2 .6 2 .9 2 -.2 2 .6 2 .8 2 -.9 2 -.2 2 1.7 2 .3 2 -.7 2 .5 2 .2 2 -.5 2 1.0 2 .9 2 -1.2 2 -.5 2 1.0 2 .0 2 -.3 2 .8 2 -.4 2 -1.3 2 .6 2 1.0 2 -.7 2 -.1 2 .4 2 -1.0 2 -.6 2 1.3 2 .3 2 -.8 2 .4 2 .0 2 -1.1 2 .3 2 1.3 2 -.4 2 -.2 2 .7 2 -.7 2 -.8 2 1.2 2 .7 2 -.7 2 .2 2 .3 2 -1.1 2 .1 2 1.4 2 -.3 2 -1.0 2 .3 2 -.2 2 -.8 2 .9 2 .3 2 -1.6 2 -.5 2 .7 2 -.4 2 -.5 2 .4 2 -1.0 2 -1.2 2 .8 2 .6 2 -1.3 2 -.5 2 .2 2 -.8 2 .0 2 1.0 2 -.7 2 -1.3 2 .5 2 .4 2 -.6 2 .6 2 .5 2 -1.2 2 -.4 2 1.1 2 -.1 2 -.2 2 1.0 2 -.2 2 -1.3 2 .5 2 .8 2 -.4 2 .3 2 .8 2 -1.0 2 -.8 2 .9 2 .1 2 -.5 2 .8 2 -.1 2 -1.5 2 .1 2 1.0 2 -.4 2 -.3 2 .5 2 -.9 2 -.8 2 1.2 2 .5 2 -1.2 2 .0 2 .4 2 -.6 2 .4 2 1.1 2 -.8 2 -1.0 2 1.2 2 .6 2 -.5 2 .5 2 .2 2 -.9 2 .6 2 1.5 2 -.4 2 -.7 2 .7 2 -.2 2 -.4 2 1.3 2 .5 2 -1.2 2 -.2 2 .6 2 -.6 2 .0 2 1.2 2 -.6 2 -1.2 2 .3 2 .0 2 -.9 2 .7 2 .7 2 -1.3 2 -.7 2 .5 2 -.6 2 -.3 2 1.1 2 -.2 2 -1.4 2 .1 2 .5 2 -.6 2 .5 2 .8 2 -1.1 2 -.7 2 1.2 2 .3 2 -.5 2 .6 2 -.1 2 -.9 2 .8 2 1.3 2 -.8 2 -.7 2 .8 2 .0 2 -.2 2 1.1 2 -.2 2 -1.4 2 .5 2 1.0 2 -.5 2 -.2 2 .5 2 -.9 2 -.6 2 1.3 2 .2 2 -.9 2 .2 2 .1 2 -1.1 2 .5 2 1.3 2 -.5 2 -.5 2 .7 2 -.4 2 -.7 2 1.3 2 .9 2 -.6 2 .2 2 .6 2 -.7 2 .2 2 1.7 2 .2M33 68.1l2 1.3 2 -.4 2 -.2 2 .5 2 -.7 2 -.7 2 1.3 2 .8 2 -.4 2 .4 2 .3 2 -1.0 2 .3 2 1.6 2 .2 2 -.3 2 .5 2 -.3 2 -.6 2 1.2 2 1.1 2 -.7 2 -.3 2 .4 2 -.4 2 .2 2 1.3 2 -.5 2 -1.4 2 .4 2 .7 2 -.3 2 .1 2 .0 2 -1.2 2 -.1 2 1.4 2 -.2 2 -1.2 2 .1 2 .0 2 -.5 2 1.0 2 .6 2 -1.4 2 -.5 2 .9 2 .0 2 .0 2 1.0 2 -.4 2 -1.2 2 .5 2 .9 2 -.2 2 .5 2 .7 2 -1.1 2 -.6 2 .9 2 .3 2 -.2 2 .9 2 .0 2 -1.5 2 .0 2 .9 2 -.3 2 .1 2 .7 2 -1.1 2 -1.1 2 .8 2 .6 2 -.6 2 .2 2 -.2 2 -1.2 2 .2 2 1.4 2 -.4 2 -1.0 2 .3 2 .0 2 -.1 2 1.1 2 .3 2 -1.4 2 .1 2 1.4 2 .1 2 -.1 2 .6 2 -.4 2 -.4 2 1.5 2 1.0 2 -.8 2 .0 2 .5 2 -.4 2 .6 2 1.5 2 -.3 2 -1.0 2 .5 2 .2 2 -.4 2 1.1 2 .7 2 -1.1 2 -.5 2 .5 2 -.4 2 -.1 2 1.3 2 -.1 2 -1.3 2 .1 2 .2 2 -.6 2 .6 2 1.0 2 -.9 2 -.9 2 .6 2 .0 2 -.1 2 1.1 2 -.1 2 -1.4 2 .2 2 1.3 2 -.2 2 -.1 2 .4 2 -.8 2 -.3 2 1.5 2 .4 2 -1.3 2 -.1 2 .4 2 -.3 2 .4 2 .6 2 -1.3 2 -1.0 2 1.0 2 .3 2 -.8 2 .1 2 -.4 2 -1.4 2 .2 2 1.0 2 -.7 2 -.8 2 .0 2 -.9 2 -.9 2 1.0 2 .4 2 -1.0 2 -.2 2 -.1 2 -1.1 2 -.1 2 1.3 2 -.1 2 -.7 2 .3 2 -.4 2 -.9 2 1.0 2 1.0 2 -.7 2 -.3 2 .4 2 -.7 2 .1 2 1.4 2 .0 2 -1.2 2 .1 2 .5 2 -.4 2 .7 2 .4 2 -1.3 2 -.6 2 1.2 2 .2 2 -.8 2 .1 2 -.4 2 -.8 2 .9 2 .9 2 -1.2 2 -.8 2 .6 2 -.1 2 -.1 2 .9 2 -.4 2 -1.3 2 .4 2 1.0 2 -.3 2 .4 2 .6 2 -1.0 2 -.6 2 1.3 2 .5 2 -.2 2 .8 2 .0 2 -1.2 2 .3 2 1.2 2 -.1 2 .1 2 .8 2 -.8 2 -1.0 2 .9 2 .6 2 -.4 2 .3 2 .0 2 -1.4 2 -.2 2 1.3 2 -.2 2 -.8 2 .0 2 -.6 2 -.7 2 1.0 2 .5 2 -1.4 2 -.7 2 .6 2 -.2 2 .0 2 .6 2 -.8 2 -1.2 2 1.1 2 .9 2 -.7 2 -.2 2 .2 2 -.6 2 .3 2 1.5 2 -.3 2 -1.1 2 .4 2 .3 2 -.3 2 1.0 2 .7 2 -1.1 2 -.6 2 .8 2 -.2 2 .0 2 1.2 2 -.2 2 -1.4 2 .1 2 .4 2 -.5 2 .6 2 .9 2 -1.0 2 -1.0 2 .6 2 .0 2 -.2 2 1.0 2 .1 2 -1.4 2 .0 2 1.0 2 .0 2 .2 2 .8 2 -.8 2 -.6 2 1.4 2 1.0 2 -.6 2 .2 2 .4 2 -.4 2 .9M37 72.2l2 .4 2 .0 2 .5 2 -.2 2 -.9 2 .6 2 1.2 2 .0 2 .0 2 .2 2 -.4 2 .2 2 1.4 2 .4 2 -.8 2 .0 2 .5 2 .2 2 .6 2 .4 2 -.9 2 -.5 2 1.1 2 .5 2 -.5 2 -.1 2 -.3 2 -.5 2 .6 2 .8 2 -.7 2 -.8 2 .1 2 -.2 2 .0 2 .8 2 .0 2 -1.2 2 -.2 2 .3 2 -.1 2 .4 2 .8 2 -.6 2 -.8 2 .3 2 .2 2 .0 2 .9 2 .5 2 -.9 2 -.4 2 .5 2 .0 2 .4 2 .9 2 -.3 2 -1.0 2 .2 2 .6 2 -.1 2 .5 2 .1 2 -1.2 2 -.3 2 1.0 2 .2 2 -.6 2 -.2 2 -.4 2 -.5 2 .8 2 .6 2 -1.1 2 -.7 2 .4 2 .2 2 .0 2 .5 2 -.6 2 -.9 2 .7 2 .9 2 -.2 2 -.1 2 .2 2 -.5 2 .2 2 1.4 2 .4 2 -.5 2 .2 2 .1 2 -.3 2 .9 2 1.2 2 -.2 2 -.2 2 .3 2 -.3 2 -.1 2 1.2 2 .6 2 -.5 2 -.1 2 .0 2 -.5 2 .4 2 1.1 2 -.3 2 -.7 2 .0 2 -.2 2 -.2 2 .9 2 .3 2 -1.1 2 -.5 2 .6 2 .1 2 .1 2 .4 2 -.8 2 -.7 2 1.0 2 .8 2 -.5 2 -.3 2 .1 2 -.3 2 .6 2 1.0 2 -.5 2 -.9 2 .4 2 .5 2 .0 2 .5 2 .0 2 -1.2 2 -.1 2 .9 2 .0 2 -.3 2 .2 2 -.8 2 -1.0 2 .4 2 .5 2 -.5 2 -.2 2 -.1 2 -1.2 2 -.7 2 .6 2 .1 2 -.5 2 .0 2 -.6 2 -1.2 2 .1 2 .7 2 -.2 2 -.3 2 -.1 2 -.8 2 -.5 2 1.0 2 .5 2 -.7 2 -.2 2 .0 2 -.3 2 .6 2 .9 2 -.7 2 -.9 2 .6 2 .6 2 -.1 2 .3 2 -.3 2 -.9 2 .5 2 1.0 2 -.3 2 -.8 2 .0 2 -.2 2 -.1 2 .9 2 .0 2 -1.3 2 -.3 2 .4 2 -.2 2 .3 2 .5 2 -.7 2 -1.0 2 .4 2 .3 2 -.1 2 .6 2 .3 2 -1.0 2 -.3 2 .6 2 .2 2 .3 2 .9 2 -.2 2 -.9 2 .3 2 .7 2 .1 2 .6 2 .5 2 -.9 2 -.4 2 .9 2 .5 2 -.1 2 .2 2 -.4 2 -.8 2 .6 2 1.0 2 -.6 2 -.8 2 .0 2 -.2 2 .0 2 .7 2 -.5 2 -1.4 2 .1 2 .7 2 -.3 2 -.2 2 -.2 2 -.9 2 -.2 2 1.0 2 .2 2 -.8 2 -.2 2 -.1 2 -.4 2 .6 2 1.0 2 -.5 2 -.6 2 .2 2 -.2 2 .0 2 1.2 2 .4 2 -.8 2 -.1 2 .2 2 -.4 2 .4 2 1.1 2 -.2 2 -.7 2 .0 2 -.1 2 -.3 2 .9 2 .5 2 -1.0 2 -.5 2 .2 2 -.1 2 .2 2 .7 2 -.6 2 -1.1 2 .4 2 .8 2 -.1 2 .0 2 -.1 2 -.7 2 .4 2 1.3 2 .0 2 -.8 2 .3 2 .4 2 .3 2 .9 2 .4 2 -.8 2 .0 2 1.2 2 .5M4 77.4l2 .9 2 -.5 2 -1.0 2 -.2 2 -.4 2 -.2 2 1.0 2 .4 2 -1.0 2 -.7 2 .0 2 -.2 2 .6 2 1.0 2 -.6 2 -1.2 2 .3 2 .7 2 .3 2 .6 2 -.1 2 -1.1 2 .3 2 1.6 2 .4 2 -.5 2 -.1 2 .0 2 .3 2 1.4 2 .4 2 -1.1 2 -.3 2 .8 2 .6 2 .3 2 .3 2 -.8 2 -.8 2 .8 2 .9 2 -.2 2 -.2 2 -.3 2 -1.0 2 .0 2 1.1 2 .2 2 -.5 2 -.1 2 -.7 2 -.8 2 .5 2 1.0 2 -.1 2 -.2 2 -.2 2 -.9 2 -.2 2 1.1 2 .7 2 -.3 2 -.1 2 -.3 2 -.7 2 .7 2 1.4 2 -.1 2 -.7 2 -.1 2 -.1 2 .3 2 1.2 2 .1 2 -1.3 2 -.4 2 .8 2 .4 2 .1 2 -.1 2 -1.1 2 -.4 2 1.1 2 .6 2 -1.0 2 -.6 2 -.2 2 -.2 2 .7 2 .7 2 -1.0 2 -1.1 2 .3 2 .4 2 .2 2 .6 2 -.2 2 -1.1 2 -.2 2 1.0 2 .4 2 .4 2 .6 2 -.6 2 -.8 2 .6 2 .9 2 .4 2 .7 2 .4 2 -.9 2 -.4 2 1.0 2 .6 2 .4 2 .7 2 -.4 2 -1.1 2 .4 2 1.1 2 .3 2 .0 2 -.2 2 -.9 2 -.1 2 1.3 2 .4 2 -.9 2 -.5 2 -.1 2 .1 2 .8 2 .4 2 -1.2 2 -.8 2 .8 2 .7 2 -.1 2 .0 2 -.6 2 -.6 2 .9 2 1.2 2 -.4 2 -.7 2 .0 2 -.1 2 .4 2 1.2 2 .1 2 -1.0 2 -.3 2 .2 2 .0 2 .7 2 .8 2 -.7 2 -1.1 2 .0 2 -.1 2 -.1 2 .8 2 .2 2 -1.2 2 -.8 2 -.2 2 -.3 2 .2 2 .7 2 -.7 2 -1.4 2 -.4 2 .1 2 -.1 2 .5 2 -.1 2 -1.5 2 -.7 2 .8 2 .4 2 -.2 2 -.3 2 -.8 2 -.5 2 1.1 2 .9 2 -.9 2 -.8 2 .2 2 .3 2 .5 2 .7 2 -.7 2 -1.1 2 .5 2 1.0 2 .1 2 -.1 2 -.3 2 -1.0 2 .0 2 1.3 2 .2 2 -.7 2 -.3 2 -.5 2 -.6 2 .6 2 1.0 2 -.5 2 -.6 2 -.2 2 -.8 2 -.2 2 1.1 2 .5 2 -.6 2 -.2 2 -.4 2 -.6 2 .5 2 1.3 2 .0 2 -.5 2 -.1 2 -.3 2 .1 2 1.3 2 .7 2 -.8 2 -.5 2 .4 2 .4 2 .7 2 .7 2 -.9 2 -.9 2 .9 2 1.0 2 -.2 2 -.3 2 -.4 2 -.6 2 .6 2 1.1 2 -.6 2 -1.3 2 -.1 2 .2 2 .1 2 .5 2 -.3 2 -1.5 2 -.4 2 .8 2 .2 2 -.1 2 .1 2 -1.0 2 -1.0 2 .5 2 .8 2 .0 2 .2 2 -.1 2 -1.1 2 -.3 2 1.0 2 .5 2 .1 2 .4 2 -.5 2 -1.0 2 .4 2 1.0 2 .3 2 .1 2 .0 2 -.9 2 -.4 2 1.1 2 .7 2 -.4 2 -.4 2 -.4 2 -.5 2 .8 2 1.0 2 -.8 2 -1.2 2 .2 2 .4 2 .2 2 .4 2 -.6 2 -1.1 2 .4 2 1.2 2 .1 2 -.6 2 -.1 2 -.4 2 .4 2 1.4 2 .3 2 -.9 2 -.2 2 .5 2 .4 2 .9 2 1.0 2 -.5 2 -.7 2 .5M16 79.4l2 -.2 2 .9 2 .1 2 .1 2 .2 2 -1.3 2 -.7 2 1.4 2 .9 2 -.7 2 -.3 2 -.1 2 -.2 2 1.1 2 1.2 2 -.9 2 -1.0 2 1.0 2 .9 2 .2 2 .5 2 -.3 2 -1.0 2 .8 2 1.7 2 -.1 2 -.5 2 .1 2 -.5 2 -.1 2 1.5 2 .6 2 -1.1 2 -.4 2 .0 2 -.6 2 .5 2 1.4 2 -.4 2 -1.1 2 -.1 2 -.4 2 -.5 2 1.1 2 .9 2 -1.0 2 -.7 2 .1 2 -.6 2 .2 2 1.6 2 .0 2 -1.2 2 -.2 2 .2 2 .0 2 1.1 2 .8 2 -1.2 2 -.9 2 1.0 2 .7 2 .1 2 .4 2 -.7 2 -1.0 2 1.0 2 1.4 2 -.7 2 -.9 2 .1 2 -.1 2 .3 2 1.1 2 -.6 2 -1.7 2 .1 2 .9 2 -.1 2 .1 2 .0 2 -1.4 2 -.7 2 1.3 2 .5 2 -.5 2 .1 2 -.5 2 -1.1 2 .5 2 1.4 2 .0 2 -.2 2 .3 2 -.8 2 -.6 2 1.4 2 1.1 2 -.2 2 .3 2 .1 2 -1.0 2 .3 2 1.8 2 .4 2 -.3 2 .2 2 -.4 2 -.5 2 1.4 2 1.2 2 -.8 2 -.6 2 .2 2 -.1 2 .6 2 1.1 2 -.8 2 -1.5 2 .6 2 1.1 2 -.2 2 -.1 2 -.3 2 -1.1 2 .3 2 1.6 2 -.1 2 -1.3 2 -.1 2 .2 2 .0 2 1.1 2 .5 2 -1.4 2 -.6 2 .9 2 .4 2 .3 2 .9 2 -.5 2 -1.4 2 .4 2 .9 2 .1 2 .5 2 .5 2 -1.2 2 -1.0 2 .8 2 .3 2 -.1 2 .8 2 -.4 2 -1.7 2 -.3 2 .7 2 -.1 2 .0 2 .2 2 -1.4 2 -1.4 2 .8 2 .6 2 -.6 2 -.3 2 -.6 2 -1.3 2 .4 2 1.3 2 -.6 2 -1.4 2 -.1 2 .1 2 .1 2 .8 2 -.2 2 -1.7 2 .0 2 1.5 2 .2 2 -.5 2 .0 2 -.7 2 -.3 2 1.5 2 .7 2 -1.1 2 -.5 2 .2 2 -.4 2 .6 2 1.3 2 -.6 2 -1.3 2 .0 2 .0 2 -.3 2 1.0 2 .6 2 -1.2 2 -.9 2 .2 2 -.4 2 .1 2 1.3 2 -.1 2 -1.4 2 -.3 2 .2 2 -.3 2 .9 2 1.0 2 -1.0 2 -1.1 2 .6 2 .5 2 .3 2 1.0 2 -.3 2 -1.4 2 .4 2 1.6 2 .2 2 -.3 2 .1 2 -.7 2 .2 2 1.7 2 .3 2 -1.5 2 -.2 2 .7 2 .2 2 .5 2 .3 2 -1.5 2 -.8 2 1.2 2 .6 2 -.6 2 -.1 2 -.6 2 -1.3 2 .5 2 1.2 2 -.4 2 -.7 2 -.1 2 -1.0 2 -.6 2 1.2 2 .8 2 -.8 2 -.2 2 -.2 2 -1.1 2 .2 2 1.6 2 .2 2 -.6 2 .0 2 -.5 2 -.7 2 1.2 2 1.3 2 -.6 2 -.5 2 .1 2 -.5 2 .4 2 1.5 2 -.2 2 -1.5 2 .0 2 .6 2 .1 2 .5 2 .1 2 -1.6 2 -.4 2 1.5 2 .4 2 -.9 2 -.3 2 -.4 2 -.3 2 1.1 2 .8 2 -1.4 2 -.8 2 .7 2 .3 2 .3 2 .9 2 -.5 2 -1.3 2 .6 2 1.3 2 .2 2 .5 2 .5 2 -1.0 2 -.5 2 1.4 2 .9 2 .2 2 .8M6 84.7l2 -.9 2 .0 2 -.1 2 .0 2 .6 2 -.4 2 -1.3 2 .2 2 .9 2 -.1 2 -.3 2 .0 2 -.6 2 .0 2 1.3 2 .3 2 -.9 2 .0 2 .4 2 .1 2 .8 2 .8 2 -.7 2 -.5 2 .8 2 .5 2 .2 2 .8 2 .1 2 -.9 2 .0 2 .8 2 .2 2 .3 2 .6 2 -.6 2 -.9 2 .4 2 .4 2 -.1 2 .5 2 .2 2 -1.2 2 -.5 2 .6 2 .1 2 .0 2 .4 2 -.6 2 -1.1 2 .5 2 .8 2 -.2 2 -.2 2 .0 2 -.7 2 .2 2 1.3 2 .0 2 -1.0 2 .0 2 .5 2 .2 2 .6 2 .2 2 -1.0 2 -.2 2 1.2 2 .4 2 -.4 2 .0 2 -.3 2 -.5 2 .9 2 .8 2 -.7 2 -.7 2 .1 2 -.3 2 .0 2 .9 2 -.1 2 -1.1 2 -.3 2 .1 2 -.5 2 .5 2 .8 2 -.7 2 -.8 2 .1 2 -.2 2 -.1 2 1.0 2 .4 2 -.8 2 -.3 2 .4 2 -.1 2 .6 2 1.1 2 -.3 2 -.8 2 .5 2 .7 2 .2 2 .8 2 .2 2 -.9 2 .1 2 1.4 2 .3 2 -.3 2 .1 2 -.2 2 .0 2 1.1 2 .5 2 -1.1 2 -.4 2 .7 2 .2 2 .1 2 .4 2 -.8 2 -.8 2 .7 2 .7 2 -.3 2 -.1 2 -.1 2 -.9 2 .1 2 1.2 2 .1 2 -.5 2 .2 2 -.3 2 -.6 2 .8 2 1.0 2 -.3 2 -.1 2 .2 2 -.7 2 -.1 2 1.2 2 .5 2 -.5 2 .1 2 -.2 2 -.8 2 .5 2 1.1 2 -.4 2 -.7 2 -.1 2 -.4 2 -.2 2 .8 2 .0 2 -1.4 2 -.5 2 .4 2 -.2 2 -.1 2 -.1 2 -1.1 2 -.9 2 .8 2 .4 2 -1.0 2 -.5 2 -.2 2 -.5 2 .4 2 .7 2 -.9 2 -1.0 2 .3 2 .3 2 .0 2 .5 2 -.1 2 -1.2 2 .0 2 .9 2 .1 2 .1 2 .4 2 -.6 2 -.9 2 .6 2 .6 2 -.1 2 .3 2 .1 2 -1.1 2 -.5 2 .8 2 .1 2 -.1 2 .3 2 -.5 2 -1.2 2 .2 2 .8 2 -.2 2 -.2 2 .0 2 -1.0 2 -.3 2 1.1 2 .3 2 -.8 2 -.1 2 .0 2 -.2 2 .8 2 .7 2 -.9 2 -.6 2 .9 2 .6 2 .0 2 .4 2 -.3 2 -.6 2 .8 2 1.2 2 -.3 2 -.5 2 .3 2 -.2 2 .2 2 1.1 2 .0 2 -1.0 2 -.1 2 .3 2 -.3 2 .5 2 .6 2 -.8 2 -1.0 2 .2 2 -.1 2 -.3 2 .7 2 .1 2 -1.2 2 -.5 2 .2 2 -.3 2 .2 2 .8 2 -.6 2 -1.1 2 .2 2 .2 2 -.1 2 .7 2 .3 2 -1.1 2 -.4 2 .9 2 .4 2 .0 2 .2 2 -.5 2 -.6 2 1.0 2 1.0 2 -.7 2 -.5 2 .3 2 -.1 2 .3 2 .8 2 -.6 2 -1.1 2 .4 2 .8 2 -.3 2 .0 2 -.2 2 -.9 2 -.1 2 1.1 2 .0 2 -.7 2 .0 2 -.3 2 -.5 2 .7 2 .9 2 -.4 2 -.4 2 .2 2 -.4 2 .1 2 1.2 2 .6 2 -.5 2 .2 2 .1 2 -.3 2 .7 2 1.4 2 .0 2 -.3 2 .4 2 -.1M16 88.4l2 -.4 2 -.8 2 -.1 2 -.3 2 -.2 2 1.0 2 .6 2 -.8 2 -.3 2 .2 2 -.3 2 .5 2 1.3 2 .1 2 -.7 2 .2 2 .1 2 -.1 2 1.0 2 1.1 2 -.5 2 -.4 2 .3 2 -.1 2 .3 2 1.3 2 .1 2 -1.0 2 -.1 2 .4 2 .1 2 .5 2 .3 2 -1.1 2 -.7 2 .9 2 .5 2 -.4 2 -.2 2 -.4 2 -.6 2 .7 2 .8 2 -.8 2 -.9 2 .3 2 .3 2 .2 2 .6 2 -.4 2 -1.1 2 .3 2 1.1 2 .0 2 .1 2 .1 2 -.7 2 -.3 2 1.2 2 .6 2 -.3 2 .1 2 -.2 2 -.8 2 .4 2 1.1 2 .0 2 -.3 2 .1 2 -.7 2 -.7 2 .7 2 .7 2 -.4 2 -.2 2 -.2 2 -1.0 2 -.1 2 1.0 2 .1 2 -.8 2 -.2 2 -.4 2 -.4 2 .9 2 .7 2 -.9 2 -.7 2 .4 2 .3 2 .4 2 .6 2 -.6 2 -.8 2 .9 2 1.2 2 -.1 2 -.2 2 .1 2 -.1 2 .6 2 1.3 2 .0 2 -.9 2 .2 2 .6 2 .2 2 .8 2 .4 2 -.9 2 -.5 2 .8 2 .4 2 .1 2 .5 2 -.3 2 -1.1 2 .1 2 .6 2 .0 2 .3 2 .4 2 -.9 2 -.8 2 .5 2 .4 2 .0 2 .6 2 .0 2 -1.2 2 -.1 2 1.0 2 .3 2 .1 2 .3 2 -.6 2 -.6 2 1.0 2 .9 2 -.3 2 -.3 2 .0 2 -.3 2 .6 2 1.0 2 -.5 2 -1.1 2 .3 2 .5 2 -.1 2 .2 2 -.4 2 -1.2 2 .0 2 1.0 2 -.2 2 -.9 2 -.4 2 -.5 2 -.5 2 .7 2 .3 2 -1.2 2 -.8 2 -.1 2 -.4 2 .1 2 .8 2 -.5 2 -1.2 2 -.1 2 -.1 2 -.2 2 .6 2 .6 2 -.8 2 -.7 2 .2 2 -.1 2 .1 2 1.1 2 .1 2 -1.1 2 -.2 2 .3 2 .0 2 .6 2 .6 2 -.9 2 -.9 2 .5 2 .5 2 -.1 2 .2 2 -.5 2 -1.1 2 .3 2 1.1 2 -.4 2 -.8 2 -.2 2 -.3 2 .1 2 .8 2 -.2 2 -1.3 2 -.1 2 .8 2 .1 2 .0 2 .1 2 -.8 2 -.4 2 1.1 2 .7 2 -.3 2 .0 2 .0 2 -.6 2 .6 2 1.3 2 .1 2 -.4 2 .2 2 -.3 2 -.3 2 1.0 2 .9 2 -.4 2 -.2 2 .0 2 -.7 2 .0 2 1.2 2 .1 2 -.7 2 -.1 2 -.5 2 -.6 2 .6 2 .8 2 -.8 2 -.8 2 -.1 2 -.3 2 .1 2 .8 2 -.4 2 -1.4 2 .0 2 .8 2 -.1 2 .0 2 -.1 2 -.9 2 .0 2 1.3 2 .2 2 -.9 2 -.2 2 .3 2 .0 2 .8 2 .5 2 -1.0 2 -.5 2 .7 2 .4 2 .1 2 .5 2 -.4 2 -1.1 2 .3 2 .8 2 .0 2 .0 2 .2 2 -1.0 2 -.7 2 .6 2 .5 2 -.2 2 .2 2 -.2 2 -1.2 2 -.1 2 .8 2 .2 2 .0 2 .3 2 -.6 2 -.8 2 .8 2 .9 2 .0 2 .0 2 .1 2 -.6 2 .5 2 1.5 2 .2 2 -.6 2 .1 2 .5 2 .3 2 1.1 2 .4 2 -.9M11 91.7l2 -.6 2 -.4 2 -.5 2 .8 2 1.2 2 -1.0 2 -1.5 2 .5 2 .9 2 .1 2 .5 2 -.3 2 -1.3 2 .4 2 1.8 2 .3 2 -.4 2 .1 2 -.5 2 -.3 2 1.6 2 1.2 2 -.6 2 -.2 2 .0 2 -.6 2 .4 2 1.7 2 .3 2 -.8 2 .0 2 -.5 2 -.7 2 1.0 2 1.3 2 -.5 2 -.7 2 -.2 2 -.8 2 -.1 2 1.5 2 .4 2 -1.3 2 -.5 2 .0 2 -.3 2 1.0 2 1.0 2 -1.3 2 -1.2 2 .7 2 .8 2 .1 2 .4 2 -.6 2 -1.1 2 .9 2 1.7 2 -.4 2 -.9 2 .1 2 .0 2 .4 2 1.4 2 -.2 2 -1.6 2 -.1 2 1.1 2 .2 2 .3 2 .2 2 -1.3 2 -1.0 2 1.1 2 .7 2 -.4 2 .2 2 -.5 2 -1.6 2 .0 2 1.2 2 .1 2 -.2 2 .2 2 -1.1 2 -1.2 2 .8 2 1.0 2 -.1 2 .2 2 .0 2 -1.3 2 -.3 2 1.6 2 .7 2 -.2 2 .2 2 -.5 2 -.7 2 1.3 2 1.6 2 -.5 2 -.6 2 .2 2 .1 2 .7 2 1.5 2 -.4 2 -1.5 2 .5 2 1.3 2 .2 2 .0 2 -.2 2 -1.0 2 .1 2 1.8 2 .2 2 -1.3 2 -.3 2 .0 2 -.1 2 1.1 2 .7 2 -1.3 2 -1.0 2 .5 2 .3 2 .2 2 1.1 2 -.2 2 -1.5 2 -.1 2 .8 2 .1 2 .8 2 .9 2 -.9 2 -1.1 2 .5 2 .5 2 .2 2 1.2 2 .3 2 -1.5 2 -.5 2 .8 2 .3 2 .4 2 .6 2 -1.0 2 -1.5 2 .6 2 1.0 2 -.3 2 -.2 2 -.6 2 -1.4 2 .2 2 1.5 2 -.5 2 -1.7 2 -.4 2 .0 2 .0 2 .7 2 -.3 2 -2.0 2 -.5 2 1.3 2 .2 2 -.6 2 -.2 2 -.9 2 -.8 2 1.3 2 1.0 2 -.9 2 -.6 2 -.1 2 -.6 2 .5 2 1.5 2 .0 2 -1.2 2 -.1 2 -.2 2 -.4 2 1.1 2 1.2 2 -.8 2 -.9 2 .0 2 -.6 2 -.1 2 1.4 2 .4 2 -1.3 2 -.6 2 -.1 2 -.6 2 .8 2 1.1 2 -.9 2 -1.4 2 .1 2 .2 2 .2 2 .9 2 -.3 2 -1.8 2 .1 2 1.5 2 .3 2 -.4 2 -.1 2 -.7 2 .0 2 1.8 2 .6 2 -1.4 2 -.3 2 .8 2 .4 2 .7 2 .7 2 -1.1 2 -1.0 2 1.2 2 1.1 2 -.2 2 .2 2 -.3 2 -1.4 2 .3 2 1.5 2 .1 2 -.6 2 .0 2 -.9 2 -1.1 2 .9 2 1.0 2 -.5 2 -.3 2 -.2 2 -1.5 2 -.3 2 1.3 2 .4 2 -.6 2 .0 2 -.8 2 -1.1 2 .8 2 1.4 2 -.3 2 -.7 2 -.1 2 -.6 2 .2 2 1.7 2 .2 2 -1.5 2 -.3 2 .8 2 .2 2 .7 2 .3 2 -1.4 2 -.6 2 1.6 2 .7 2 -.8 2 -.4 2 -.3 2 -.5 2 1.1 2 1.0 2 -1.2 2 -1.3 2 .4 2 .2 2 .2 2 .9 2 -.5 2 -1.7 2 -.1 2 .9 2 .1 2 .5 2 .6 2 -1.2 2 -1.0 2 .8 2 .7 2 .2 2 1.0 2 .2 2 -1.3 2 -.2 2 1.2 2 .5 2 .6 2 1.0 2 -.5 2 -1.2 2 .8 2 1.3 2 .3 2 .5M8 95.1l2 .2 2 .8 2 -.4 2 -1.5 2 -.3 2 .5 2 .1 2 .7 2 .5 2 -1.1 2 -.9 2 .7 2 .8 2 .4 2 .4 2 -.4 2 -1.0 2 .7 2 1.6 2 .2 2 -.5 2 -.1 2 -.2 2 .6 2 1.5 2 .1 2 -1.3 2 -.2 2 1.0 2 .5 2 .3 2 -.1 2 -1.1 2 -.4 2 1.3 2 .7 2 -.6 2 -.5 2 -.4 2 -.6 2 .7 2 1.2 2 -.5 2 -.9 2 -.3 2 -.3 2 -.1 2 1.2 2 .6 2 -.8 2 -.6 2 -.1 2 -.3 2 .5 2 1.4 2 .1 2 -.8 2 -.2 2 -.2 2 -.1 2 1.2 2 1.1 2 -.7 2 -.8 2 .1 2 .0 2 .6 2 1.1 2 -.4 2 -1.4 2 -.1 2 .8 2 .3 2 .1 2 -.4 2 -1.2 2 -.2 2 1.3 2 .3 2 -1.1 2 -.7 2 -.1 2 .0 2 .9 2 .3 2 -1.4 2 -.9 2 .7 2 .7 2 .1 2 .2 2 -.6 2 -1.0 2 .6 2 1.3 2 .3 2 -.1 2 .0 2 -.7 2 -.2 2 1.4 2 1.0 2 .0 2 .1 2 -.2 2 -.8 2 .5 2 1.4 2 .4 2 .0 2 .1 2 -.8 2 -.6 2 1.1 2 1.0 2 -.1 2 -.3 2 -.4 2 -.8 2 .4 2 1.4 2 .0 2 -1.1 2 -.3 2 -.1 2 .3 2 1.0 2 .2 2 -1.4 2 -.5 2 1.0 2 .7 2 .0 2 -.1 2 -.8 2 -.3 2 1.4 2 1.0 2 -.7 2 -.7 2 .2 2 .2 2 .8 2 1.0 2 -.6 2 -1.2 2 .2 2 .6 2 .3 2 .6 2 .0 2 -1.3 2 -.8 2 .6 2 .3 2 .1 2 .4 2 -.7 2 -1.5 2 -.3 2 .4 2 .0 2 .2 2 .1 2 -1.3 2 -1.3 2 .3 2 .3 2 .0 2 .3 2 -.6 2 -1.5 2 -.2 2 1.1 2 .2 2 -.3 2 -.3 2 -.9 2 -.3 2 1.4 2 .7 2 -1.1 2 -.7 2 .2 2 .3 2 .7 2 .5 2 -1.2 2 -.9 2 .9 2 .9 2 -.2 2 -.4 2 -.6 2 -.7 2 .6 2 1.2 2 -.4 2 -1.1 2 -.4 2 -.3 2 .0 2 1.0 2 .3 2 -1.2 2 -.7 2 -.1 2 -.2 2 .5 2 1.1 2 -.3 2 -1.1 2 -.2 2 .0 2 .0 2 1.1 2 .9 2 -.7 2 -.7 2 .1 2 .1 2 .6 2 1.4 2 .1 2 -1.2 2 -.2 2 .7 2 .4 2 .8 2 .4 2 -1.2 2 -.7 2 1.1 2 .9 2 -.3 2 -.3 2 -.7 2 -.5 2 1.0 2 .9 2 -1.0 2 -1.2 2 .1 2 .3 2 .2 2 .4 2 -.8 2 -1.5 2 .2 2 1.1 2 .1 2 -.4 2 -.3 2 -1.0 2 -.3 2 1.2 2 .7 2 -.5 2 -.3 2 -.4 2 -.7 2 .6 2 1.3 2 .2 2 -.5 2 -.1 2 -.6 2 -.4 2 1.1 2 1.0 2 -.3 2 -.3 2 -.3 2 -.9 2 .2 2 1.4 2 .2 2 -.8 2 -.5 2 -.4 2 -.3 2 1.1 2 .7 2 -1.2 2 -1.1 2 .3 2 .4 2 .4 2 .3 2 -.9 2 -1.2 2 .8 2 1.3 2 -.2 2 -.5 2 -.2 2 -.3 2 .8 2 1.4 2 -.1 2 -1.1 2 .1 2 .8 2 .6 2 .9 2 .4 2 -1.0 2 -.3 2 1.1 2 .9 2 .4 2 .5M7 99.6l2 -.6 2 .2 2 -.6 2 -.4 2 .9 2 .3 2 -.7 2 -.1 2 .1 2 -.6 2 .4 2 1.1 2 -.1 2 -.4 2 .4 2 -.1 2 -.2 2 1.1 2 .8 2 -.7 2 -.1 2 .6 2 -.1 2 .4 2 1.0 2 -.3 2 -.8 2 .6 2 .7 2 -.2 2 .2 2 .1 2 -.8 2 .1 2 1.2 2 -.3 2 -.9 2 .1 2 .1 2 -.3 2 .6 2 .2 2 -1.1 2 -.3 2 .7 2 .0 2 -.1 2 .4 2 -.4 2 -.9 2 .6 2 .8 2 -.3 2 .2 2 .3 2 -.7 2 -.2 2 1.0 2 .3 2 -.2 2 .5 2 .0 2 -.9 2 .4 2 .9 2 -.1 2 -.1 2 .4 2 -.7 2 -.6 2 .9 2 .4 2 -.6 2 .0 2 -.2 2 -.8 2 .2 2 .9 2 -.5 2 -1.0 2 .2 2 -.1 2 -.3 2 .6 2 -.1 2 -1.2 2 .0 2 1.0 2 -.1 2 -.4 2 .3 2 -.4 2 -.2 2 1.1 2 .5 2 -.8 2 .0 2 .6 2 -.1 2 .6 2 1.0 2 -.4 2 -.6 2 .7 2 .4 2 .0 2 .9 2 .4 2 -.8 2 -.2 2 .8 2 .0 2 .1 2 .9 2 -.3 2 -.9 2 .2 2 .4 2 -.2 2 .4 2 .5 2 -.9 2 -.6 2 .7 2 .1 2 -.1 2 .6 2 -.3 2 -1.0 2 .4 2 1.0 2 -.2 2 -.1 2 .2 2 -.4 2 .0 2 1.2 2 .3 2 -1.0 2 .2 2 .6 2 .0 2 .4 2 .5 2 -.8 2 -.4 2 1.0 2 .4 2 -.5 2 .0 2 -.1 2 -.8 2 .5 2 .8 2 -.7 2 -.8 2 .1 2 -.5 2 -.5 2 .8 2 .0 2 -1.2 2 -.4 2 .0 2 -.8 2 .0 2 .7 2 -.5 2 -1.0 2 .1 2 -.4 2 -.6 2 .7 2 .5 2 -.9 2 -.4 2 .2 2 -.4 2 .1 2 1.0 2 -.3 2 -1.0 2 .2 2 .5 2 -.2 2 .4 2 .3 2 -1.1 2 -.2 2 1.0 2 .1 2 -.6 2 .0 2 -.2 2 -.5 2 .7 2 .4 2 -1.1 2 -.6 2 .5 2 -.1 2 -.2 2 .4 2 -.6 2 -1.1 2 .5 2 .7 2 -.5 2 -.1 2 .2 2 -.8 2 -.3 2 1.1 2 .2 2 -.4 2 .3 2 .0 2 -.7 2 .5 2 1.1 2 -.1 2 .0 2 .5 2 -.5 2 -.4 2 1.1 2 .7 2 -.4 2 .2 2 .2 2 -.8 2 .3 2 1.1 2 -.1 2 -.7 2 .2 2 -.3 2 -.3 2 .7 2 .3 2 -1.2 2 -.4 2 .5 2 -.1 2 -.2 2 .2 2 -.8 2 -.8 2 .8 2 .5 2 -.8 2 -.4 2 .2 2 -.5 2 .3 2 .9 2 -.5 2 -1.0 2 .5 2 .4 2 -.2 2 .6 2 .3 2 -1.0 2 -.2 2 .9 2 .1 2 .0 2 .6 2 -.3 2 -.9 2 .3 2 .6 2 -.3 2 .3 2 .4 2 -.9 2 -.7 2 .6 2 .1 2 -.3 2 .5 2 -.2 2 -1.2 2 .0 2 .8 2 -.3 2 -.1 2 .3 2 -.8 2 -.5 2 1.1 2 .5 2 -.7 2 -.1 2 .3 2 -.2 2 .7 2 .9 2 -.6 2 -.5 2 1.0 2 .6 2 .0 2 .6 2 .1 2 -.6 2 .7 2 1.3 2 -.1 2 -.3 2 .4 2 .0M23 104.0l2 -1.4 2 -.8 2 1.0 2 .4 2 .2 2 .7 2 -.5 2 -1.1 2 1.1 2 1.6 2 -.4 2 -.3 2 .4 2 -.6 2 .2 2 1.8 2 .3 2 -1.2 2 .1 2 .2 2 -.5 2 1.0 2 1.3 2 -.9 2 -.9 2 .3 2 -.4 2 -.2 2 1.4 2 .4 2 -1.4 2 -.3 2 .1 2 -.7 2 .5 2 1.4 2 -.5 2 -1.3 2 .3 2 .0 2 -.2 2 1.2 2 .6 2 -1.5 2 -.5 2 1.1 2 .3 2 .2 2 .7 2 -.9 2 -1.0 2 1.4 2 1.2 2 -.7 2 -.4 2 .2 2 -.4 2 .6 2 1.3 2 -.8 2 -1.5 2 .6 2 .7 2 -.3 2 .4 2 -.2 2 -1.6 2 -.2 2 1.4 2 .0 2 -.7 2 .1 2 -.8 2 -1.1 2 .9 2 1.1 2 -.7 2 -.3 2 .2 2 -1.2 2 -.3 2 1.6 2 .5 2 -.6 2 .3 2 -.2 2 -1.0 2 .8 2 1.6 2 -.1 2 -.3 2 .5 2 -.7 2 -.2 2 1.7 2 .9 2 -.9 2 -.1 2 .3 2 -.3 2 .9 2 1.3 2 -1.0 2 -1.2 2 .9 2 .8 2 -.2 2 .4 2 -.4 2 -1.3 2 .7 2 1.6 2 -.6 2 -1.1 2 .3 2 -.2 2 .0 2 1.3 2 .1 2 -1.6 2 -.1 2 1.0 2 .0 2 .4 2 .9 2 -1.0 2 -1.1 2 1.0 2 .9 2 -.1 2 .8 2 .3 2 -1.4 2 -.3 2 1.3 2 .2 2 .1 2 .9 2 -.6 2 -1.5 2 .5 2 .9 2 -.3 2 .3 2 .3 2 -1.6 2 -.9 2 1.1 2 .3 2 -.6 2 .0 2 -.8 2 -1.4 2 .7 2 1.1 2 -1.0 2 -1.2 2 .0 2 -.4 2 .0 2 1.0 2 -.6 2 -1.9 2 .3 2 1.1 2 -.3 2 -.2 2 .0 2 -1.1 2 -.2 2 1.6 2 .3 2 -1.2 2 -.2 2 .2 2 -.5 2 .9 2 1.1 2 -1.0 2 -1.1 2 .5 2 -.1 2 -.2 2 1.2 2 .2 2 -1.6 2 -.4 2 .4 2 -.6 2 .4 2 1.1 2 -.7 2 -1.5 2 .2 2 -.1 2 -.4 2 1.0 2 .6 2 -1.5 2 -.8 2 .7 2 .0 2 .2 2 1.0 2 -.7 2 -1.4 2 .7 2 1.3 2 -.2 2 .1 2 .1 2 -.9 2 .4 2 1.9 2 .0 2 -1.3 2 .3 2 .6 2 .0 2 1.0 2 .4 2 -1.5 2 -.4 2 1.5 2 .3 2 -.4 2 .2 2 -.7 2 -1.1 2 1.0 2 1.1 2 -.8 2 -.6 2 .0 2 -1.0 2 -.3 2 1.5 2 .1 2 -1.1 2 -.1 2 -.3 2 -1.1 2 .6 2 1.4 2 -.5 2 -.7 2 .2 2 -.7 2 -.5 2 1.5 2 .8 2 -1.0 2 -.2 2 .1 2 -.6 2 .6 2 1.6 2 -.5 2 -1.3 2 .3 2 .4 2 .0 2 .9 2 .0 2 -1.7 2 -.1 2 1.5 2 .0 2 -.7 2 .0 2 -.7 2 -.5 2 1.4 2 .4 2 -1.6 2 -.6 2 .6 2 -.1 2 .3 2 .7 2 -1.0 2 -1.3 2 .9 2 .9 2 -.3 2 .5 2 .2 2 -1.3 2 -.1 2 1.6 2 .4 2 -.1 2 .9 2 -.4 2 -1.1 2 .9 2 1.4 2 .0 2 .5 2 .7 2 -1.1 2 -.5 2 1.5 2 .8 2 -.2M24 105.8l2 .5 2 -.3 2 .5 2 1.6 2 -.4 2 -1.4 2 .5 2 1.0 2 .1 2 .7 2 .4 2 -1.4 2 .0 2 1.9 2 .5 2 -.9 2 .1 2 -.1 2 -.2 2 1.3 2 .8 2 -1.6 2 -.7 2 1.0 2 .3 2 -.1 2 .6 2 -.9 2 -1.4 2 .9 2 1.2 2 -.5 2 -.2 2 .0 2 -1.2 2 -.3 2 1.6 2 .4 2 -.7 2 .2 2 -.3 2 -1.1 2 .7 2 1.5 2 -.2 2 -.2 2 .4 2 -.9 2 -.6 2 1.5 2 1.0 2 -.6 2 .1 2 .0 2 -1.1 2 .5 2 1.7 2 -.3 2 -1.1 2 .1 2 -.2 2 -.3 2 1.3 2 .3 2 -1.9 2 -.6 2 1.0 2 .1 2 -.2 2 .2 2 -1.2 2 -1.0 2 1.4 2 .8 2 -1.2 2 -.6 2 .2 2 -.4 2 .6 2 1.3 2 -.9 2 -1.4 2 .7 2 .7 2 .0 2 1.0 2 .3 2 -1.4 2 -.2 2 1.4 2 .3 2 .3 2 1.0 2 -.4 2 -1.3 2 .7 2 1.1 2 -.1 2 .7 2 .7 2 -1.3 2 -.8 2 1.1 2 .5 2 -.1 2 .9 2 -.4 2 -1.6 2 .2 2 1.4 2 -.1 2 -.2 2 .2 2 -1.1 2 -.5 2 1.7 2 .6 2 -1.2 2 -.3 2 .3 2 -.2 2 .9 2 1.1 2 -1.3 2 -1.0 2 1.3 2 .9 2 -.2 2 .3 2 -.2 2 -1.0 2 .9 2 1.7 2 -.5 2 -.9 2 .3 2 -.2 2 -.1 2 1.5 2 .3 2 -1.5 2 -.5 2 .4 2 -.5 2 .4 2 1.1 2 -.9 2 -1.5 2 .0 2 -.1 2 -.6 2 .9 2 .5 2 -1.6 2 -.9 2 .2 2 -.6 2 .0 2 1.2 2 -.5 2 -1.7 2 -.1 2 .4 2 -.3 2 .7 2 .5 2 -1.6 2 -.8 2 1.3 2 .5 2 -.4 2 .2 2 -.6 2 -1.0 2 1.2 2 1.3 2 -1.1 2 -1.0 2 .5 2 .0 2 .1 2 1.0 2 -.7 2 -1.8 2 .5 2 1.2 2 -.4 2 -.3 2 .0 2 -1.4 2 -.4 2 1.4 2 .3 2 -1.0 2 -.1 2 -.4 2 -1.1 2 .7 2 1.4 2 -.5 2 -.7 2 .2 2 -.7 2 -.5 2 1.5 2 .9 2 -.7 2 .0 2 .1 2 -.9 2 .5 2 1.8 2 .1 2 -.8 2 .3 2 -.2 2 -.4 2 1.5 2 1.1 2 -1.3 2 -.7 2 .7 2 .0 2 .4 2 .9 2 -1.0 2 -1.5 2 .9 2 1.1 2 -.6 2 -.4 2 -.2 2 -1.1 2 .4 2 1.4 2 -.6 2 -1.7 2 .2 2 .3 2 -.2 2 .8 2 .2 2 -1.8 2 -.5 2 1.3 2 .2 2 -.1 2 .6 2 -.7 2 -1.3 2 .7 2 1.3 2 -.2 2 .2 2 .5 2 -1.3 2 -.7 2 1.3 2 .6 2 -.3 2 .6 2 -.3 2 -1.6 2 .2 2 1.3 2 -.1 2 -.2 2 .3 2 -1.2 2 -1.0 2 1.2 2 .8 2 -.9 2 -.3 2 -.2 2 -1.0 2 .7 2 1.4 2 -.8 2 -1.5 2 .5 2 .5 2 .0 2 .8 2 -.1 2 -1.5 2 .4 2 1.9 2 .0 2 -.6 2 .4 2 -.3 2 .0 2 1.8 2 .8 2 -1.2 2 -.2 2 .8 2 .1 2 .7 2 1.5 2 -.6 2 -1.2 2 .6" fill="none"/><g opacity="0.13"><use href="#st0" xlink:href="#st0" stroke="#000" stroke-width="1.1" stroke-dasharray="9 6 14 5" transform="translate(0,62)"/><use href="#st0" xlink:href="#st0" stroke="#fff" stroke-width="1.0" stroke-dasharray="9 6 14 5" transform="translate(0,63.6)"/><use href="#st0" xlink:href="#st0" stroke="#000" stroke-width="1.1" stroke-dasharray="9 6 14 5" transform="translate(0,118)"/><use href="#st0" xlink:href="#st0" stroke="#fff" stroke-width="1.0" stroke-dasharray="9 6 14 5" transform="translate(0,119.6)"/></g><g clip-path="url(#zone0)" mask="url(#mk0)"><use href="#st0" xlink:href="#st0" stroke="#fafafa" stroke-opacity="0.85" stroke-width="1.15" stroke-dasharray="41 3 29 2 33 3" transform="translate(0,1.8)"/><use href="#st0" xlink:href="#st0" stroke="#000" stroke-opacity="0.92" stroke-width="1.6" stroke-dasharray="37 2 27 3 45 2"/></g><g style="mix-blend-mode:overlay"><path d="M55.06 35.69h13.06v6.69h-13.06zM139.93 35.69h6.53v6.69h-6.53zM166.05 35.69h6.53v6.69h-6.53zM374.97 35.69h6.53v6.69h-6.53zM394.56 35.69h6.53v6.69h-6.53zM453.32 35.69h6.53v6.69h-6.53zM466.38 35.69h6.53v6.69h-6.53zM485.96 35.69h6.53v6.69h-6.53zM505.55 35.69h13.06v6.69h-13.06zM538.20 35.69h6.53v6.69h-6.53zM551.25 35.69h6.53v6.69h-6.53zM590.43 35.69h6.53v6.69h-6.53zM623.07 35.69h6.53v6.69h-6.53zM42.00 42.38h19.59v6.69h-19.59zM68.12 42.38h6.53v6.69h-6.53zM120.35 42.38h6.53v6.69h-6.53zM139.93 42.38h6.53v6.69h-6.53zM277.04 42.38h6.53v6.69h-6.53zM433.73 42.38h6.53v6.69h-6.53zM466.38 42.38h13.06v6.69h-13.06zM505.55 42.38h6.53v6.69h-6.53zM544.72 42.38h6.53v6.69h-6.53zM577.37 42.38h19.59v6.69h-19.59zM616.54 42.38h13.06v6.69h-13.06zM61.59 49.08h6.53v6.69h-6.53zM113.82 49.08h13.06v6.69h-13.06zM316.21 49.08h6.53v6.69h-6.53zM361.92 49.08h19.59v6.69h-19.59zM427.20 49.08h6.53v6.69h-6.53zM55.06 55.77h6.53v6.69h-6.53zM68.12 55.77h6.53v6.69h-6.53zM133.40 55.77h6.53v6.69h-6.53zM485.96 55.77h6.53v6.69h-6.53zM544.72 55.77h6.53v6.69h-6.53zM603.48 55.77h6.53v6.69h-6.53zM42.00 62.46h6.53v6.69h-6.53zM61.59 62.46h19.59v6.69h-19.59zM179.11 62.46h6.53v6.69h-6.53zM250.92 62.46h6.53v6.69h-6.53zM146.46 69.15h6.53v6.69h-6.53zM250.92 69.15h6.53v6.69h-6.53zM74.64 75.84h6.53v6.69h-6.53zM113.82 75.84h6.53v6.69h-6.53zM61.59 82.54h13.06v6.69h-13.06zM113.82 82.54h13.06v6.69h-13.06zM133.40 82.54h6.53v6.69h-6.53zM198.69 82.54h6.53v6.69h-6.53zM459.85 82.54h13.06v6.69h-13.06zM283.57 89.23h6.53v6.69h-6.53zM309.68 102.61h13.06v6.69h-13.06zM107.29 109.30h6.53v6.69h-6.53zM309.68 109.30h13.06v6.69h-13.06zM48.53 116.00h6.53v6.69h-6.53zM68.12 116.00h6.53v6.69h-6.53zM107.29 116.00h13.06v6.69h-13.06zM316.21 116.00h6.53v6.69h-6.53zM348.86 116.00h6.53v6.69h-6.53zM316.21 122.69h6.53v6.69h-6.53zM81.17 129.38h13.06v6.69h-13.06zM107.29 129.38h6.53v6.69h-6.53zM309.68 129.38h19.59v6.69h-19.59zM361.92 129.38h13.06v6.69h-13.06zM414.15 129.38h6.53v6.69h-6.53zM48.53 136.07h13.06v6.69h-13.06zM87.70 136.07h6.53v6.69h-6.53zM100.76 136.07h13.06v6.69h-13.06zM48.53 142.76h6.53v6.69h-6.53zM94.23 142.76h6.53v6.69h-6.53zM152.99 142.76h19.59v6.69h-19.59zM551.25 142.76h13.06v6.69h-13.06zM152.99 149.46h13.06v6.69h-13.06z" fill="#88f692"/><path d="M68.12 35.69h6.53v6.69h-6.53zM94.23 35.69h13.06v6.69h-13.06zM388.03 35.69h6.53v6.69h-6.53zM401.09 35.69h6.53v6.69h-6.53zM459.85 35.69h6.53v6.69h-6.53zM525.14 35.69h13.06v6.69h-13.06zM544.72 35.69h6.53v6.69h-6.53zM616.54 35.69h6.53v6.69h-6.53zM94.23 42.38h6.53v6.69h-6.53zM374.97 42.38h6.53v6.69h-6.53zM394.56 42.38h6.53v6.69h-6.53zM485.96 42.38h6.53v6.69h-6.53zM499.02 42.38h6.53v6.69h-6.53zM525.14 42.38h6.53v6.69h-6.53zM538.20 42.38h6.53v6.69h-6.53zM610.01 42.38h6.53v6.69h-6.53zM139.93 49.08h6.53v6.69h-6.53zM381.50 49.08h6.53v6.69h-6.53zM394.56 49.08h6.53v6.69h-6.53zM420.68 49.08h6.53v6.69h-6.53zM81.17 55.77h19.59v6.69h-19.59zM420.68 55.77h13.06v6.69h-13.06zM499.02 55.77h6.53v6.69h-6.53zM48.53 62.46h13.06v6.69h-13.06zM172.58 62.46h6.53v6.69h-6.53zM139.93 69.15h6.53v6.69h-6.53zM126.88 82.54h6.53v6.69h-6.53zM192.16 82.54h6.53v6.69h-6.53zM55.06 89.23h13.06v6.69h-13.06zM113.82 89.23h13.06v6.69h-13.06zM159.52 89.23h13.06v6.69h-13.06zM231.34 89.23h13.06v6.69h-13.06zM159.52 95.92h13.06v6.69h-13.06zM342.33 102.61h13.06v6.69h-13.06zM564.31 102.61h6.53v6.69h-6.53zM61.59 109.30h13.06v6.69h-13.06zM81.17 109.30h13.06v6.69h-13.06zM342.33 109.30h13.06v6.69h-13.06zM55.06 116.00h13.06v6.69h-13.06zM94.23 122.69h13.06v6.69h-13.06zM538.20 122.69h6.53v6.69h-6.53zM100.76 129.38h6.53v6.69h-6.53zM61.59 136.07h6.53v6.69h-6.53zM81.17 136.07h6.53v6.69h-6.53zM55.06 142.76h6.53v6.69h-6.53z" fill="#b1f357"/><path d="M74.64 35.69h13.06v6.69h-13.06zM120.35 35.69h13.06v6.69h-13.06zM172.58 35.69h6.53v6.69h-6.53zM218.28 35.69h6.53v6.69h-6.53zM237.87 35.69h13.06v6.69h-13.06zM270.51 35.69h13.06v6.69h-13.06zM492.49 35.69h6.53v6.69h-6.53zM610.01 35.69h6.53v6.69h-6.53zM152.99 42.38h19.59v6.69h-19.59zM185.64 42.38h6.53v6.69h-6.53zM296.63 42.38h6.53v6.69h-6.53zM361.92 42.38h13.06v6.69h-13.06zM381.50 42.38h13.06v6.69h-13.06zM420.68 42.38h13.06v6.69h-13.06zM440.26 42.38h6.53v6.69h-6.53zM453.32 42.38h13.06v6.69h-13.06zM492.49 42.38h6.53v6.69h-6.53zM531.67 42.38h6.53v6.69h-6.53zM55.06 49.08h6.53v6.69h-6.53zM81.17 49.08h13.06v6.69h-13.06zM263.98 49.08h13.06v6.69h-13.06zM335.80 49.08h13.06v6.69h-13.06zM388.03 49.08h6.53v6.69h-6.53zM107.29 55.77h19.59v6.69h-19.59zM309.68 55.77h6.53v6.69h-6.53zM342.33 55.77h6.53v6.69h-6.53zM492.49 55.77h6.53v6.69h-6.53zM610.01 55.77h13.06v6.69h-13.06zM100.76 62.46h6.53v6.69h-6.53zM113.82 62.46h13.06v6.69h-13.06zM309.68 62.46h6.53v6.69h-6.53zM610.01 62.46h6.53v6.69h-6.53zM81.17 75.84h13.06v6.69h-13.06zM250.92 75.84h6.53v6.69h-6.53zM74.64 82.54h13.06v6.69h-13.06zM74.64 89.23h13.06v6.69h-13.06zM152.99 89.23h6.53v6.69h-6.53zM557.78 102.61h6.53v6.69h-6.53zM126.88 109.30h13.06v6.69h-13.06zM557.78 109.30h6.53v6.69h-6.53zM453.32 122.69h6.53v6.69h-6.53zM544.72 122.69h6.53v6.69h-6.53zM94.23 129.38h6.53v6.69h-6.53zM159.52 129.38h13.06v6.69h-13.06zM623.07 129.38h6.53v6.69h-6.53zM152.99 136.07h6.53v6.69h-6.53zM81.17 142.76h13.06v6.69h-13.06z" fill="#e9f038"/><path d="M113.82 35.69h6.53v6.69h-6.53zM61.59 42.38h6.53v6.69h-6.53zM237.87 42.38h6.53v6.69h-6.53zM42.00 49.08h13.06v6.69h-13.06zM100.76 49.08h13.06v6.69h-13.06zM505.55 49.08h13.06v6.69h-13.06zM42.00 55.77h6.53v6.69h-6.53zM61.59 55.77h6.53v6.69h-6.53zM87.70 82.54h6.53v6.69h-6.53zM126.88 89.23h13.06v6.69h-13.06zM61.59 142.76h13.06v6.69h-13.06zM81.17 149.46h13.06v6.69h-13.06z" fill="#f0781e"/><path d="M146.46 35.69h13.06v6.69h-13.06zM179.11 35.69h32.64v6.69h-32.64zM231.34 35.69h6.53v6.69h-6.53zM257.45 35.69h13.06v6.69h-13.06zM283.57 35.69h52.23v6.69h-52.23zM342.33 35.69h19.59v6.69h-19.59zM414.15 35.69h26.12v6.69h-26.12zM479.44 35.69h6.53v6.69h-6.53zM564.31 35.69h19.59v6.69h-19.59zM596.96 35.69h6.53v6.69h-6.53zM126.88 42.38h13.06v6.69h-13.06zM218.28 42.38h19.59v6.69h-19.59zM257.45 42.38h19.59v6.69h-19.59zM283.57 42.38h13.06v6.69h-13.06zM309.68 42.38h26.12v6.69h-26.12zM407.62 42.38h13.06v6.69h-13.06zM446.79 42.38h6.53v6.69h-6.53zM551.25 42.38h19.59v6.69h-19.59zM224.81 49.08h32.64v6.69h-32.64zM303.16 49.08h6.53v6.69h-6.53zM322.74 49.08h6.53v6.69h-6.53zM348.86 49.08h13.06v6.69h-13.06zM407.62 49.08h13.06v6.69h-13.06zM440.26 49.08h58.76v6.69h-58.76zM518.61 49.08h13.06v6.69h-13.06zM544.72 49.08h19.59v6.69h-19.59zM583.90 49.08h45.70v6.69h-45.70zM48.53 55.77h6.53v6.69h-6.53zM146.46 55.77h6.53v6.69h-6.53zM172.58 55.77h13.06v6.69h-13.06zM198.69 55.77h13.06v6.69h-13.06zM218.28 55.77h58.76v6.69h-58.76zM290.10 55.77h13.06v6.69h-13.06zM322.74 55.77h19.59v6.69h-19.59zM348.86 55.77h45.70v6.69h-45.70zM407.62 55.77h13.06v6.69h-13.06zM433.73 55.77h32.64v6.69h-32.64zM505.55 55.77h26.12v6.69h-26.12zM551.25 55.77h26.12v6.69h-26.12zM623.07 55.77h6.53v6.69h-6.53zM139.93 62.46h19.59v6.69h-19.59zM185.64 62.46h13.06v6.69h-13.06zM205.22 62.46h13.06v6.69h-13.06zM224.81 62.46h26.12v6.69h-26.12zM257.45 62.46h6.53v6.69h-6.53zM303.16 62.46h6.53v6.69h-6.53zM322.74 62.46h71.82v6.69h-71.82zM433.73 62.46h84.88v6.69h-84.88zM531.67 62.46h32.64v6.69h-32.64zM570.84 62.46h6.53v6.69h-6.53zM596.96 62.46h13.06v6.69h-13.06zM616.54 62.46h13.06v6.69h-13.06zM42.00 69.15h19.59v6.69h-19.59zM68.12 69.15h26.12v6.69h-26.12zM100.76 69.15h13.06v6.69h-13.06zM126.88 69.15h13.06v6.69h-13.06zM152.99 69.15h19.59v6.69h-19.59zM192.16 69.15h6.53v6.69h-6.53zM224.81 69.15h26.12v6.69h-26.12zM257.45 69.15h6.53v6.69h-6.53zM329.27 69.15h58.76v6.69h-58.76zM433.73 69.15h6.53v6.69h-6.53zM466.38 69.15h19.59v6.69h-19.59zM492.49 69.15h19.59v6.69h-19.59zM531.67 69.15h19.59v6.69h-19.59zM61.59 75.84h13.06v6.69h-13.06zM100.76 75.84h6.53v6.69h-6.53zM120.35 75.84h52.23v6.69h-52.23zM185.64 75.84h6.53v6.69h-6.53zM231.34 75.84h19.59v6.69h-19.59zM283.57 75.84h13.06v6.69h-13.06zM329.27 75.84h19.59v6.69h-19.59zM355.39 75.84h39.17v6.69h-39.17zM433.73 75.84h6.53v6.69h-6.53zM466.38 75.84h52.23v6.69h-52.23zM557.78 75.84h6.53v6.69h-6.53zM55.06 82.54h6.53v6.69h-6.53zM139.93 82.54h32.64v6.69h-32.64zM179.11 82.54h13.06v6.69h-13.06zM205.22 82.54h13.06v6.69h-13.06zM224.81 82.54h39.17v6.69h-39.17zM283.57 82.54h13.06v6.69h-13.06zM309.68 82.54h39.17v6.69h-39.17zM374.97 82.54h13.06v6.69h-13.06zM407.62 82.54h6.53v6.69h-6.53zM433.73 82.54h19.59v6.69h-19.59zM472.91 82.54h45.70v6.69h-45.70zM544.72 82.54h13.06v6.69h-13.06zM48.53 89.23h6.53v6.69h-6.53zM185.64 89.23h13.06v6.69h-13.06zM224.81 89.23h6.53v6.69h-6.53zM250.92 89.23h6.53v6.69h-6.53zM270.51 89.23h6.53v6.69h-6.53zM290.10 89.23h26.12v6.69h-26.12zM329.27 89.23h6.53v6.69h-6.53zM342.33 89.23h6.53v6.69h-6.53zM453.32 89.23h32.64v6.69h-32.64zM492.49 89.23h26.12v6.69h-26.12zM551.25 89.23h6.53v6.69h-6.53zM564.31 89.23h32.64v6.69h-32.64zM623.07 89.23h6.53v6.69h-6.53zM250.92 95.92h6.53v6.69h-6.53zM296.63 95.92h6.53v6.69h-6.53zM459.85 95.92h19.59v6.69h-19.59zM492.49 95.92h19.59v6.69h-19.59zM564.31 95.92h32.64v6.69h-32.64zM623.07 95.92h6.53v6.69h-6.53zM257.45 102.61h6.53v6.69h-6.53zM544.72 102.61h13.06v6.69h-13.06zM570.84 102.61h19.59v6.69h-19.59zM577.37 109.30h13.06v6.69h-13.06zM303.16 116.00h13.06v6.69h-13.06zM557.78 116.00h6.53v6.69h-6.53zM48.53 122.69h13.06v6.69h-13.06zM74.64 122.69h13.06v6.69h-13.06zM152.99 122.69h6.53v6.69h-6.53zM166.05 122.69h6.53v6.69h-6.53zM224.81 122.69h19.59v6.69h-19.59zM329.27 122.69h13.06v6.69h-13.06zM348.86 122.69h19.59v6.69h-19.59zM446.79 122.69h6.53v6.69h-6.53zM518.61 122.69h19.59v6.69h-19.59zM557.78 122.69h13.06v6.69h-13.06zM48.53 129.38h6.53v6.69h-6.53zM61.59 129.38h19.59v6.69h-19.59zM152.99 129.38h6.53v6.69h-6.53zM335.80 129.38h6.53v6.69h-6.53zM355.39 129.38h6.53v6.69h-6.53zM68.12 136.07h13.06v6.69h-13.06zM133.40 136.07h6.53v6.69h-6.53zM146.46 136.07h6.53v6.69h-6.53zM616.54 136.07h13.06v6.69h-13.06zM74.64 142.76h6.53v6.69h-6.53zM139.93 142.76h13.06v6.69h-13.06zM616.54 142.76h6.53v6.69h-6.53z" fill="#6ff5f9"/><path d="M159.52 35.69h6.53v6.69h-6.53zM361.92 35.69h13.06v6.69h-13.06zM446.79 35.69h6.53v6.69h-6.53zM472.91 35.69h6.53v6.69h-6.53zM557.78 35.69h6.53v6.69h-6.53zM583.90 35.69h6.53v6.69h-6.53zM107.29 42.38h13.06v6.69h-13.06zM172.58 42.38h13.06v6.69h-13.06zM335.80 42.38h26.12v6.69h-26.12zM401.09 42.38h6.53v6.69h-6.53zM570.84 42.38h6.53v6.69h-6.53zM596.96 42.38h6.53v6.69h-6.53zM133.40 49.08h6.53v6.69h-6.53zM159.52 49.08h26.12v6.69h-26.12zM309.68 49.08h6.53v6.69h-6.53zM401.09 49.08h6.53v6.69h-6.53zM433.73 49.08h6.53v6.69h-6.53zM139.93 55.77h6.53v6.69h-6.53zM466.38 55.77h19.59v6.69h-19.59zM538.20 55.77h6.53v6.69h-6.53zM596.96 55.77h6.53v6.69h-6.53zM81.17 62.46h19.59v6.69h-19.59zM133.40 62.46h6.53v6.69h-6.53zM61.59 69.15h6.53v6.69h-6.53zM107.29 75.84h6.53v6.69h-6.53zM100.76 82.54h13.06v6.69h-13.06zM42.00 89.23h6.53v6.69h-6.53zM139.93 89.23h13.06v6.69h-13.06zM263.98 89.23h6.53v6.69h-6.53zM335.80 89.23h6.53v6.69h-6.53zM329.27 95.92h13.06v6.69h-13.06zM518.61 95.92h13.06v6.69h-13.06zM590.43 102.61h13.06v6.69h-13.06zM531.67 109.30h13.06v6.69h-13.06zM74.64 116.00h13.06v6.69h-13.06zM342.33 116.00h6.53v6.69h-6.53zM531.67 116.00h26.12v6.69h-26.12zM61.59 122.69h13.06v6.69h-13.06zM87.70 122.69h6.53v6.69h-6.53zM146.46 122.69h6.53v6.69h-6.53zM172.58 122.69h13.06v6.69h-13.06zM414.15 122.69h6.53v6.69h-6.53zM551.25 122.69h6.53v6.69h-6.53zM55.06 129.38h6.53v6.69h-6.53zM172.58 129.38h19.59v6.69h-19.59zM610.01 129.38h13.06v6.69h-13.06zM94.23 136.07h6.53v6.69h-6.53zM610.01 136.07h6.53v6.69h-6.53z" fill="#77f8d4"/><path d="M211.75 35.69h6.53v6.69h-6.53zM381.50 35.69h6.53v6.69h-6.53zM499.02 49.08h6.53v6.69h-6.53zM107.29 62.46h6.53v6.69h-6.53z" fill="#f83e16"/><path d="M224.81 35.69h6.53v6.69h-6.53zM407.62 35.69h6.53v6.69h-6.53zM499.02 35.69h6.53v6.69h-6.53zM244.40 42.38h6.53v6.69h-6.53zM257.45 49.08h6.53v6.69h-6.53z" fill="#f4bb26"/><path d="M250.92 35.69h6.53v6.69h-6.53zM250.92 42.38h6.53v6.69h-6.53zM512.08 42.38h6.53v6.69h-6.53zM583.90 55.77h6.53v6.69h-6.53zM126.88 62.46h6.53v6.69h-6.53zM394.56 62.46h13.06v6.69h-13.06zM414.15 62.46h13.06v6.69h-13.06zM577.37 62.46h13.06v6.69h-13.06zM94.23 69.15h6.53v6.69h-6.53zM179.11 69.15h6.53v6.69h-6.53zM211.75 69.15h6.53v6.69h-6.53zM394.56 69.15h32.64v6.69h-32.64zM518.61 69.15h13.06v6.69h-13.06zM583.90 69.15h19.59v6.69h-19.59zM55.06 75.84h6.53v6.69h-6.53zM179.11 75.84h6.53v6.69h-6.53zM192.16 75.84h6.53v6.69h-6.53zM218.28 75.84h6.53v6.69h-6.53zM316.21 75.84h13.06v6.69h-13.06zM394.56 75.84h13.06v6.69h-13.06zM440.26 75.84h13.06v6.69h-13.06zM525.14 75.84h19.59v6.69h-19.59zM577.37 75.84h26.12v6.69h-26.12zM616.54 75.84h6.53v6.69h-6.53zM518.61 82.54h13.06v6.69h-13.06zM577.37 82.54h13.06v6.69h-13.06zM610.01 82.54h6.53v6.69h-6.53zM87.70 89.23h6.53v6.69h-6.53zM100.76 89.23h6.53v6.69h-6.53zM172.58 89.23h6.53v6.69h-6.53zM218.28 89.23h6.53v6.69h-6.53zM257.45 89.23h6.53v6.69h-6.53zM531.67 89.23h13.06v6.69h-13.06zM244.40 95.92h6.53v6.69h-6.53zM479.44 95.92h6.53v6.69h-6.53zM610.01 95.92h13.06v6.69h-13.06zM531.67 102.61h13.06v6.69h-13.06zM610.01 102.61h6.53v6.69h-6.53zM518.61 116.00h13.06v6.69h-13.06zM564.31 116.00h13.06v6.69h-13.06zM205.22 122.69h6.53v6.69h-6.53zM394.56 122.69h6.53v6.69h-6.53zM139.93 136.07h6.53v6.69h-6.53z" fill="#1611ff"/><path d="M335.80 35.69h6.53v6.69h-6.53zM440.26 35.69h6.53v6.69h-6.53zM518.61 35.69h6.53v6.69h-6.53zM603.48 35.69h6.53v6.69h-6.53zM303.16 42.38h6.53v6.69h-6.53zM192.16 49.08h6.53v6.69h-6.53zM564.31 49.08h19.59v6.69h-19.59zM159.52 55.77h13.06v6.69h-13.06zM185.64 55.77h13.06v6.69h-13.06zM211.75 55.77h6.53v6.69h-6.53zM277.04 55.77h13.06v6.69h-13.06zM316.21 55.77h6.53v6.69h-6.53zM394.56 55.77h13.06v6.69h-13.06zM531.67 55.77h6.53v6.69h-6.53zM590.43 55.77h6.53v6.69h-6.53zM159.52 62.46h13.06v6.69h-13.06zM198.69 62.46h6.53v6.69h-6.53zM218.28 62.46h6.53v6.69h-6.53zM263.98 62.46h39.17v6.69h-39.17zM316.21 62.46h6.53v6.69h-6.53zM407.62 62.46h6.53v6.69h-6.53zM427.20 62.46h6.53v6.69h-6.53zM518.61 62.46h13.06v6.69h-13.06zM564.31 62.46h6.53v6.69h-6.53zM590.43 62.46h6.53v6.69h-6.53zM113.82 69.15h13.06v6.69h-13.06zM172.58 69.15h6.53v6.69h-6.53zM185.64 69.15h6.53v6.69h-6.53zM198.69 69.15h13.06v6.69h-13.06zM218.28 69.15h6.53v6.69h-6.53zM263.98 69.15h65.29v6.69h-65.29zM388.03 69.15h6.53v6.69h-6.53zM427.20 69.15h6.53v6.69h-6.53zM440.26 69.15h26.12v6.69h-26.12zM485.96 69.15h6.53v6.69h-6.53zM512.08 69.15h6.53v6.69h-6.53zM551.25 69.15h32.64v6.69h-32.64zM603.48 69.15h26.12v6.69h-26.12zM48.53 75.84h6.53v6.69h-6.53zM94.23 75.84h6.53v6.69h-6.53zM172.58 75.84h6.53v6.69h-6.53zM205.22 75.84h13.06v6.69h-13.06zM224.81 75.84h6.53v6.69h-6.53zM257.45 75.84h26.12v6.69h-26.12zM296.63 75.84h19.59v6.69h-19.59zM348.86 75.84h6.53v6.69h-6.53zM407.62 75.84h26.12v6.69h-26.12zM453.32 75.84h13.06v6.69h-13.06zM518.61 75.84h6.53v6.69h-6.53zM544.72 75.84h13.06v6.69h-13.06zM564.31 75.84h13.06v6.69h-13.06zM603.48 75.84h13.06v6.69h-13.06zM623.07 75.84h6.53v6.69h-6.53zM48.53 82.54h6.53v6.69h-6.53zM172.58 82.54h6.53v6.69h-6.53zM218.28 82.54h6.53v6.69h-6.53zM263.98 82.54h19.59v6.69h-19.59zM296.63 82.54h13.06v6.69h-13.06zM348.86 82.54h26.12v6.69h-26.12zM394.56 82.54h13.06v6.69h-13.06zM420.68 82.54h13.06v6.69h-13.06zM453.32 82.54h6.53v6.69h-6.53zM531.67 82.54h13.06v6.69h-13.06zM557.78 82.54h19.59v6.69h-19.59zM590.43 82.54h19.59v6.69h-19.59zM616.54 82.54h13.06v6.69h-13.06zM205.22 89.23h13.06v6.69h-13.06zM244.40 89.23h6.53v6.69h-6.53zM277.04 89.23h6.53v6.69h-6.53zM316.21 89.23h13.06v6.69h-13.06zM348.86 89.23h13.06v6.69h-13.06zM394.56 89.23h13.06v6.69h-13.06zM440.26 89.23h13.06v6.69h-13.06zM485.96 89.23h6.53v6.69h-6.53zM518.61 89.23h13.06v6.69h-13.06zM544.72 89.23h6.53v6.69h-6.53zM557.78 89.23h6.53v6.69h-6.53zM596.96 89.23h26.12v6.69h-26.12zM81.17 95.92h6.53v6.69h-6.53zM152.99 95.92h6.53v6.69h-6.53zM277.04 95.92h13.06v6.69h-13.06zM485.96 95.92h6.53v6.69h-6.53zM544.72 95.92h19.59v6.69h-19.59zM596.96 95.92h13.06v6.69h-13.06zM603.48 102.61h6.53v6.69h-6.53zM616.54 102.61h6.53v6.69h-6.53zM401.09 109.30h13.06v6.69h-13.06zM564.31 109.30h13.06v6.69h-13.06zM610.01 109.30h19.59v6.69h-19.59zM401.09 116.00h13.06v6.69h-13.06zM440.26 116.00h13.06v6.69h-13.06zM459.85 116.00h6.53v6.69h-6.53zM610.01 116.00h13.06v6.69h-13.06zM159.52 122.69h6.53v6.69h-6.53zM185.64 122.69h6.53v6.69h-6.53zM211.75 122.69h13.06v6.69h-13.06zM309.68 122.69h6.53v6.69h-6.53zM368.44 122.69h26.12v6.69h-26.12zM401.09 122.69h13.06v6.69h-13.06zM420.68 122.69h26.12v6.69h-26.12zM459.85 122.69h6.53v6.69h-6.53zM205.22 129.38h13.06v6.69h-13.06zM224.81 129.38h19.59v6.69h-19.59zM420.68 129.38h26.12v6.69h-26.12zM433.73 136.07h6.53v6.69h-6.53zM583.90 136.07h13.06v6.69h-13.06z" fill="#3780ff"/><path d="M518.61 42.38h6.53v6.69h-6.53zM198.69 75.84h6.53v6.69h-6.53zM94.23 89.23h6.53v6.69h-6.53zM179.11 89.23h6.53v6.69h-6.53zM198.69 89.23h6.53v6.69h-6.53zM531.67 95.92h13.06v6.69h-13.06zM303.16 122.69h6.53v6.69h-6.53zM616.54 122.69h13.06v6.69h-13.06z" fill="#0800b7"/></g><g opacity="1.00"><path d="M469.0 128.0V196.0" stroke="#e8e8e8" stroke-width="0.9" stroke-dasharray="1 1.2"/><path d="M469.4 128.0V196.0" stroke="#333" stroke-width="0.6" stroke-dasharray="1 1.2" stroke-dashoffset="1.1"/></g><g opacity="1.00"><path d="M515.5 105.0V196.0" stroke="#e8e8e8" stroke-width="0.9" stroke-dasharray="1 1.2"/><path d="M515.9 105.0V196.0" stroke="#333" stroke-width="0.6" stroke-dasharray="1 1.2" stroke-dashoffset="1.1"/></g><rect x="42.0" y="29.0" width="5" height="167.3" fill="#858585"/></g><text x="399.7" y="106.3" font-size="12.2" font-weight="bold">E1</text><rect x="42.0" y="29.0" width="14.4" height="14.6" fill="#fff"/><text x="46.0" y="41.2" font-size="12.8" font-weight="bold">a</text><rect x="42.0" y="185.5" width="29" height="10.8" fill="#fff"/><text x="45.8" y="194.0" font-size="9.8">1294</text><rect x="510.2" y="173.6" width="117.9" height="22.7" fill="#fff" stroke="#555" stroke-width="0.7"/><text x="515.3" y="186.3" font-size="10">log</text><text x="527.1" y="193.9" font-size="8.6">10</text><text x="536.4" y="186.3" font-size="9.2">K</text><text x="542.3" y="191.3" font-size="13" font-style="italic" font-family="Liberation Serif">&#961;</text><text x="551.2" y="186.3" font-size="10">=</text><text x="559.4" y="186.3" font-size="10" textLength="37.6" lengthAdjust="spacingAndGlyphs">-5.5±0.6</text><text x="599.6" y="186.3" font-size="10">m</text><text x="607.3" y="181.3" font-size="8.6">2</text><text x="612.2" y="186.3" font-size="10">s</text><text x="617.2" y="181.8" font-size="8.6">-1</text><path d="M42.0 29.0H629.6" stroke="#222" stroke-width="1"/><path d="M42.0 196.3H629.6" stroke="#222" stroke-width="1"/><path d="M42.0 29.0V196.3" stroke="#555" stroke-width="1"/><path d="M629.6 29.0V196.3" stroke="#555" stroke-width="1"/><path d="M42.0 29.0v-2.3M42.0 196.3v2.3M42.0 206.3v-2.3M42.0 273.6v2.3M58.6 29.0v-2.3M58.6 196.3v2.3M58.6 206.3v-2.3M58.6 273.6v2.3M75.3 29.0v-2.3M75.3 196.3v2.3M75.3 206.3v-2.3M75.3 273.6v2.3M91.9 29.0v-2.3M91.9 196.3v2.3M91.9 206.3v-2.3M91.9 273.6v2.3M108.5 29.0v-2.3M108.5 196.3v2.3M108.5 206.3v-2.3M108.5 273.6v2.3M125.1 29.0v-2.3M125.1 196.3v2.3M125.1 206.3v-2.3M125.1 273.6v2.3M141.8 29.0v-2.3M141.8 196.3v2.3M141.8 206.3v-2.3M141.8 273.6v2.3M158.4 29.0v-2.3M158.4 196.3v2.3M158.4 206.3v-2.3M158.4 273.6v2.3M175.0 29.0v-2.3M175.0 196.3v2.3M175.0 206.3v-2.3M175.0 273.6v2.3M191.6 29.0v-2.3M191.6 196.3v2.3M191.6 206.3v-2.3M191.6 273.6v2.3M208.3 29.0v-2.3M208.3 196.3v2.3M208.3 206.3v-2.3M208.3 273.6v2.3M224.9 29.0v-2.3M224.9 196.3v2.3M224.9 206.3v-2.3M224.9 273.6v2.3M241.5 29.0v-2.3M241.5 196.3v2.3M241.5 206.3v-2.3M241.5 273.6v2.3M258.2 29.0v-2.3M258.2 196.3v2.3M258.2 206.3v-2.3M258.2 273.6v2.3M274.8 29.0v-2.3M274.8 196.3v2.3M274.8 206.3v-2.3M274.8 273.6v2.3M291.4 29.0v-2.3M291.4 196.3v2.3M291.4 206.3v-2.3M291.4 273.6v2.3M308.0 29.0v-2.3M308.0 196.3v2.3M308.0 206.3v-2.3M308.0 273.6v2.3M324.7 29.0v-2.3M324.7 196.3v2.3M324.7 206.3v-2.3M324.7 273.6v2.3M341.3 29.0v-2.3M341.3 196.3v2.3M341.3 206.3v-2.3M341.3 273.6v2.3M357.9 29.0v-2.3M357.9 196.3v2.3M357.9 206.3v-2.3M357.9 273.6v2.3M374.5 29.0v-2.3M374.5 196.3v2.3M374.5 206.3v-2.3M374.5 273.6v2.3M391.2 29.0v-2.3M391.2 196.3v2.3M391.2 206.3v-2.3M391.2 273.6v2.3M407.8 29.0v-2.3M407.8 196.3v2.3M407.8 206.3v-2.3M407.8 273.6v2.3M424.4 29.0v-2.3M424.4 196.3v2.3M424.4 206.3v-2.3M424.4 273.6v2.3M441.0 29.0v-2.3M441.0 196.3v2.3M441.0 206.3v-2.3M441.0 273.6v2.3M457.7 29.0v-2.3M457.7 196.3v2.3M457.7 206.3v-2.3M457.7 273.6v2.3M474.3 29.0v-2.3M474.3 196.3v2.3M474.3 206.3v-2.3M474.3 273.6v2.3M490.9 29.0v-2.3M490.9 196.3v2.3M490.9 206.3v-2.3M490.9 273.6v2.3M507.6 29.0v-2.3M507.6 196.3v2.3M507.6 206.3v-2.3M507.6 273.6v2.3M524.2 29.0v-2.3M524.2 196.3v2.3M524.2 206.3v-2.3M524.2 273.6v2.3M540.8 29.0v-2.3M540.8 196.3v2.3M540.8 206.3v-2.3M540.8 273.6v2.3M557.4 29.0v-2.3M557.4 196.3v2.3M557.4 206.3v-2.3M557.4 273.6v2.3M574.1 29.0v-2.3M574.1 196.3v2.3M574.1 206.3v-2.3M574.1 273.6v2.3M590.7 29.0v-2.3M590.7 196.3v2.3M590.7 206.3v-2.3M590.7 273.6v2.3M607.3 29.0v-2.3M607.3 196.3v2.3M607.3 206.3v-2.3M607.3 273.6v2.3M623.9 29.0v-2.3M623.9 196.3v2.3M623.9 206.3v-2.3M623.9 273.6v2.3" stroke="#333" stroke-width="0.8"/><text x="42.0" y="21.7" font-size="10.2" text-anchor="middle">0</text><text x="108.5" y="21.7" font-size="10.2" text-anchor="middle">20</text><text x="175.0" y="21.7" font-size="10.2" text-anchor="middle">40</text><text x="241.5" y="21.7" font-size="10.2" text-anchor="middle">60</text><text x="308.0" y="21.7" font-size="10.2" text-anchor="middle">80</text><text x="374.5" y="21.7" font-size="10.2" text-anchor="middle">100</text><text x="441.0" y="21.7" font-size="10.2" text-anchor="middle">120</text><text x="507.6" y="21.7" font-size="10.2" text-anchor="middle">140</text><text x="574.1" y="21.7" font-size="10.2" text-anchor="middle">160</text><text x="335.8" y="9.0" font-size="11.2" text-anchor="middle">Distance (km)</text><text x="36.5" y="32.7" font-size="10.2" text-anchor="end">200</text><text x="36.5" y="66.2" font-size="10.2" text-anchor="end">400</text><text x="36.5" y="99.6" font-size="10.2" text-anchor="end">600</text><text x="36.5" y="133.1" font-size="10.2" text-anchor="end">800</text><text x="36.5" y="166.5" font-size="10.2" text-anchor="end">1000</text><text x="36.5" y="200.0" font-size="10.2" text-anchor="end">1200</text><path d="M42.0 29.0h-2.5M629.6 29.0h2.5M42.0 62.5h-2.5M629.6 62.5h2.5M42.0 95.9h-2.5M629.6 95.9h2.5M42.0 129.4h-2.5M629.6 129.4h2.5M42.0 162.8h-2.5M629.6 162.8h2.5M42.0 196.3h-2.5M629.6 196.3h2.5" stroke="#333" stroke-width="0.8"/><text transform="translate(8.6,112.7) rotate(-90)" font-size="11.2" text-anchor="middle">Depth (m)</text><rect x="643.5" y="29.0" width="19.0" height="167.3" fill="url(#cbar)" stroke="#555" stroke-width="0.8"/><text x="666.3" y="33.4" font-size="10.2">-3</text><text x="666.3" y="54.3" font-size="10.2">-3.5</text><text x="666.3" y="75.2" font-size="10.2">-4</text><text x="666.3" y="96.1" font-size="10.2">-4.5</text><text x="666.3" y="117.1" font-size="10.2">-5</text><text x="666.3" y="138.0" font-size="10.2">-5.5</text><text x="666.3" y="158.9" font-size="10.2">-6</text><text x="666.3" y="179.8" font-size="10.2">-6.5</text><text x="666.3" y="200.7" font-size="10.2">-7</text><path d="M662.5 29.0h2.3M662.5 49.9h2.3M662.5 70.8h2.3M662.5 91.7h2.3M662.5 112.7h2.3M662.5 133.6h2.3M662.5 154.5h2.3M662.5 175.4h2.3M662.5 196.3h2.3" stroke="#333" stroke-width="0.8"/><text x="623.7" y="20.7" font-size="8.9">log<tspan font-size="7.4" dy="3.2">10</tspan><tspan dy="-3.2">K</tspan><tspan font-size="6.6" font-style="italic" dy="4.4">&#961;</tspan><tspan dy="-4.4"> (m</tspan><tspan font-size="7" dy="-3.6">2</tspan><tspan dy="3.6">s</tspan><tspan font-size="7" dy="-3.6">-1</tspan><tspan dy="3.6">)</tspan></text><rect x="42.0" y="206.3" width="587.6" height="67.3" fill="#fff"/><path d="M108.5 206.3V273.6M175.0 206.3V273.6M241.5 206.3V273.6M308.0 206.3V273.6M374.5 206.3V273.6M441.0 206.3V273.6M507.6 206.3V273.6M574.1 206.3V273.6M42.0 228.7H629.6M42.0 251.2H629.6" stroke="#e2e2e2" stroke-width="0.9"/><g clip-path="url(#kclip0)"><polygon points="48.1,225.5 51.2,226.5 54.3,226.5 57.3,222.8 61.4,223.4 64.5,222.4 69.6,226.1 72.7,224.4 77.8,217.3 82.9,215.6 87.0,216.3 90.0,219.3 93.1,230.6 96.2,233.6 101.3,230.6 104.3,221.4 107.4,213.2 111.5,216.3 115.6,219.3 120.7,223.4 124.8,222.4 129.9,221.4 138.1,219.9 142.1,228.5 146.2,229.5 150.3,231.6 154.4,232.6 158.5,232.6 164.6,236.7 170.8,234.7 176.9,234.2 182.0,234.7 185.1,239.8 191.2,236.7 194.3,241.8 198.3,240.4 202.4,242.8 206.5,244.9 210.6,244.9 214.7,247.9 218.8,247.3 222.9,245.9 227.0,237.7 231.0,235.7 239.2,235.7 241.3,236.7 243.3,238.7 247.4,234.7 251.5,228.5 255.6,225.1 258.0,224.4 260.7,234.7 263.7,243.9 269.9,240.8 274.0,239.8 278.1,241.8 282.1,238.7 286.2,238.7 292.4,241.8 296.4,241.8 301.6,238.7 304.6,241.8 307.7,237.7 310.8,233.6 313.8,234.7 316.9,239.8 322.0,242.8 326.1,243.9 330.2,234.7 334.3,232.2 337.3,236.7 341.4,241.8 346.5,240.8 352.7,241.4 357.8,240.8 364.9,236.1 371.0,235.7 374.7,236.7 379.2,237.7 385.4,238.7 388.4,239.8 391.5,246.9 394.6,254.1 399.7,253.0 402.7,249.0 407.8,240.8 411.9,250.0 416.0,252.0 421.1,253.0 424.2,257.1 427.3,258.2 431.3,243.9 436.4,237.3 440.5,239.8 444.6,243.9 447.7,244.9 452.8,238.7 456.9,235.7 462.0,233.6 467.0,233.3 471.9,236.3 476.9,243.7 480.6,237.5 484.3,236.8 489.3,238.7 494.3,236.3 500.5,239.5 505.4,237.5 510.4,233.8 515.4,236.3 520.3,243.7 524.1,251.2 529.0,243.7 534.0,238.7 538.9,241.2 545.1,245.0 550.1,246.2 556.3,243.7 561.3,241.2 565.0,240.0 570.0,232.5 573.7,233.3 577.4,237.5 582.4,245.0 586.1,249.9 591.1,246.2 596.0,242.5 601.0,238.7 606.0,237.5 610.9,236.3 617.1,235.0 622.1,236.3 627.1,235.0 627.1,251.2 623.3,252.4 618.4,256.1 614.6,269.0 610.9,262.3 606.0,254.9 601.0,256.1 596.0,258.6 591.1,267.3 586.1,269.0 582.4,264.8 577.4,254.9 572.4,240.0 570.0,237.5 565.0,257.4 561.3,254.9 555.1,263.6 550.1,263.6 545.1,262.3 538.9,258.6 534.0,254.9 529.0,261.1 524.1,264.8 520.3,257.4 515.4,245.0 510.4,237.5 505.4,241.2 500.5,249.9 494.3,248.2 489.3,248.7 484.3,246.7 480.6,248.7 476.9,253.6 471.9,254.4 467.0,251.2 462.0,244.9 456.9,244.9 452.8,249.0 447.7,259.2 444.6,261.2 440.5,255.1 436.4,251.0 431.3,259.2 427.3,271.4 424.2,269.4 421.1,265.3 416.0,263.3 411.9,260.2 407.8,258.2 402.7,260.2 397.6,263.3 394.6,261.2 391.5,257.1 388.4,250.0 384.3,244.9 379.2,243.9 374.7,240.4 371.0,246.9 364.9,250.6 357.8,252.0 352.7,255.1 346.5,253.0 341.4,252.0 337.3,243.9 334.3,239.8 330.2,244.9 326.1,253.0 322.0,263.3 317.9,260.2 313.8,253.0 310.8,251.4 306.7,254.1 301.6,255.1 296.4,257.5 292.4,256.1 286.2,253.0 282.1,252.0 278.1,250.0 274.0,246.9 269.9,252.0 264.8,254.1 261.7,250.0 258.6,243.9 255.6,239.8 251.5,241.8 247.4,245.9 244.3,246.9 241.3,239.8 239.2,241.8 235.1,245.9 231.0,247.9 225.9,255.1 220.8,257.1 214.7,261.6 210.6,262.2 206.5,263.3 202.4,264.3 198.3,268.4 195.3,263.3 191.2,255.1 186.1,258.2 182.0,263.3 177.9,265.3 172.8,255.1 167.7,247.9 163.6,247.9 158.5,242.8 154.4,240.8 150.3,242.8 146.2,243.9 142.1,242.8 138.1,244.9 132.9,246.9 128.9,249.0 124.8,253.0 120.7,247.9 115.6,239.8 111.5,232.6 107.4,234.7 104.3,236.7 101.3,255.1 98.2,263.3 93.1,255.1 90.0,246.9 87.0,238.7 82.9,236.7 77.8,235.7 72.7,236.7 68.6,241.8 64.5,246.9 61.4,251.4 58.3,249.0 54.3,244.9 51.2,242.8 48.1,234.7" fill="#e58a96" fill-opacity="0.45" stroke="#f06070" stroke-width="0.6" stroke-opacity="0.9"/><polyline points="48.1,230.6 51.2,236.7 54.3,236.3 58.3,236.3 61.4,237.7 64.5,233.6 68.6,233.6 72.7,231.6 77.8,226.5 82.9,226.5 87.0,227.5 91.0,236.7 94.1,245.9 98.2,250.0 101.3,244.9 104.3,228.5 107.4,224.4 111.5,224.4 115.6,229.5 119.7,233.6 124.8,237.7 128.9,234.7 132.9,233.6 138.1,232.2 142.1,236.7 146.2,237.1 150.3,236.3 154.4,235.1 158.5,237.1 163.6,241.8 167.7,241.8 170.8,242.4 174.8,246.9 177.9,250.0 182.0,248.6 186.1,247.9 191.2,245.9 195.3,251.0 199.4,254.1 204.5,253.7 208.6,253.7 215.7,255.1 220.8,253.0 225.9,249.0 231.0,242.8 235.1,241.8 239.2,237.7 241.3,237.7 244.3,242.8 247.4,241.8 251.5,235.7 254.6,231.6 258.0,234.2 260.7,241.8 263.7,249.0 267.8,246.9 274.0,242.8 278.1,244.9 282.1,247.9 286.2,245.9 290.3,246.3 294.4,249.4 298.5,249.4 302.6,247.3 307.7,247.3 310.8,243.4 313.8,243.4 316.9,249.0 322.0,255.1 326.1,247.9 330.2,239.8 334.3,236.3 337.3,239.8 341.4,246.5 348.6,246.9 352.7,247.9 357.8,245.9 364.9,243.2 371.0,241.8 374.7,238.7 379.2,240.8 384.3,241.2 388.4,244.9 391.5,253.0 394.6,258.8 397.6,259.2 402.7,255.1 407.8,250.6 411.9,255.1 416.0,258.2 421.1,258.8 424.2,264.3 427.3,264.3 431.3,250.0 436.4,243.9 440.5,246.9 444.6,252.0 447.7,251.6 452.8,243.9 456.9,240.8 462.0,239.8 467.0,241.2 471.9,245.0 476.9,247.4 480.6,243.7 484.3,241.2 489.3,243.2 494.3,242.5 500.5,243.7 505.4,238.7 510.4,235.8 515.4,240.0 520.3,249.9 524.1,258.6 527.8,256.1 534.0,246.2 538.9,248.7 545.1,253.6 550.1,254.9 555.1,254.9 561.3,247.4 565.0,248.7 570.0,235.0 572.4,236.3 577.4,246.2 582.4,254.9 586.1,259.8 591.1,256.1 596.0,251.2 601.0,249.4 606.0,247.4 609.7,251.2 613.4,252.4 618.4,245.0 623.3,243.2 627.1,243.7" fill="none" stroke="#ff1010" stroke-width="2.2" stroke-linejoin="round" stroke-linecap="round"/></g><rect x="42.0" y="206.3" width="587.6" height="67.3" fill="none" stroke="#444" stroke-width="0.9"/><text x="35.2" y="210.0" font-size="10.2" text-anchor="end">-4</text><text x="35.2" y="232.4" font-size="10.2" text-anchor="end">-5</text><text x="35.2" y="254.9" font-size="10.2" text-anchor="end">-6</text><text x="35.2" y="277.3" font-size="10.2" text-anchor="end">-7</text><path d="M42.0 206.3h-2.5M629.6 206.3h2.5M42.0 228.7h-2.5M629.6 228.7h2.5M42.0 251.2h-2.5M629.6 251.2h2.5M42.0 273.6h-2.5M629.6 273.6h2.5" stroke="#333" stroke-width="0.8"/><text x="46.2" y="218.7" font-size="12.4" font-weight="bold">b</text><text transform="translate(17.3,240.0) rotate(-90)" font-size="11.6" text-anchor="middle">log<tspan font-size="9.2" dy="5">10</tspan><tspan dy="-5">K</tspan><tspan font-size="8" font-style="italic" font-family="Liberation Serif" dy="4">&#961;</tspan></text><g clip-path="url(#clip1)"><rect x="42.0" y="311.5" width="587.6" height="166.7" fill="#838383"/><rect x="42.0" y="311.5" width="587.6" height="166.7" fill="#888" filter="url(#tex)"/><path id="st1" d="M25 317.6l2 -.2 2 -1.4 2 -.3 2 .7 2 -.1 2 .3 2 .1 2 -1.4 2 -.9 2 1.0 2 .4 2 -.9 2 -.5 2 -.6 2 -.8 2 .7 2 .7 2 -1.4 2 -1.3 2 .4 2 .2 2 -.2 2 .3 2 -.7 2 -1.4 2 .3 2 1.2 2 -.2 2 -.5 2 .0 2 -.9 2 -.3 2 1.3 2 .6 2 -.7 2 -.1 2 -.2 2 -.8 2 .4 2 1.4 2 -.1 2 -.6 2 .0 2 -.6 2 -.7 2 1.1 2 .9 2 -.7 2 -.4 2 -.2 2 -.9 2 .0 2 1.3 2 .0 2 -1.1 2 -.2 2 -.3 2 -.3 2 1.0 2 .6 2 -1.2 2 -.9 2 .7 2 .4 2 .2 2 .5 2 -.7 2 -.9 2 1.0 2 1.4 2 -.4 2 -.5 2 .2 2 .0 2 .6 2 1.4 2 -.2 2 -1.2 2 .3 2 .9 2 .2 2 .6 2 .4 2 -1.2 2 -.5 2 1.1 2 .5 2 -.1 2 .4 2 -.5 2 -1.3 2 .2 2 .9 2 -.1 2 .0 2 .2 2 -1.1 2 -1.0 2 .7 2 .5 2 -.2 2 .3 2 -.3 2 -1.4 2 -.1 2 1.2 2 .2 2 -.2 2 .1 2 -.7 2 -.7 2 1.2 2 1.1 2 -.7 2 -.5 2 .1 2 -.2 2 .7 2 1.2 2 -.6 2 -1.3 2 .6 2 .9 2 .0 2 .1 2 -.2 2 -1.1 2 .3 2 1.4 2 -.1 2 -1.1 2 -.1 2 -.2 2 -.2 2 1.0 2 .4 2 -1.3 2 -.7 2 .4 2 -.1 2 .3 2 1.0 2 -.5 2 -1.3 2 .2 2 .4 2 .0 2 .9 2 .8 2 -.9 2 -.7 2 .7 2 .3 2 .4 2 1.3 2 .2 2 -1.1 2 .1 2 .8 2 .3 2 .8 2 .9 2 -.9 2 -.8 2 1.1 2 .9 2 .0 2 .3 2 -.3 2 -1.0 2 .6 2 1.5 2 -.4 2 -1.0 2 .0 2 .1 2 .1 2 .9 2 -.2 2 -1.6 2 .0 2 1.1 2 .1 2 -.3 2 .0 2 -.9 2 -.4 2 1.3 2 .7 2 -.8 2 -.2 2 -.1 2 -.6 2 .6 2 1.4 2 -.2 2 -.8 2 .1 2 -.3 2 -.3 2 1.1 2 .9 2 -.8 2 -.5 2 .0 2 -.7 2 .1 2 1.3 2 .0 2 -1.1 2 -.4 2 -.3 2 -.7 2 .7 2 .8 2 -1.2 2 -1.2 2 .0 2 -.2 2 .0 2 .6 2 -.7 2 -1.7 2 .1 2 .9 2 -.2 2 -.4 2 -.3 2 -.9 2 -.1 2 1.4 2 .1 2 -1.4 2 -.2 2 .5 2 .0 2 .8 2 .4 2 -1.2 2 -.7 2 1.1 2 .7 2 -.1 2 .3 2 -.4 2 -1.1 2 .4 2 1.3 2 -.1 2 -.2 2 .1 2 -.9 2 -.8 2 1.0 2 .7 2 -.5 2 .1 2 -.3 2 -1.3 2 -.1 2 1.1 2 .2 2 -.4 2 .1 2 -.8 2 -.9 2 .9 2 1.1 2 -.5 2 -.3 2 -.1 2 -.6 2 .4 2 1.5 2 .0 2 -1.2 2 .1 2 .6 2 .2 2 .8 2 .3 2 -1.3 2 -.2 2 1.5 2 .4 2 -.5 2 -.1 2 -.4 2 -.4 2 1.2 2 .7 2 -1.2 2 -.8 2 .3 2 -.1 2 .1 2 .8 2 -.7 2 -1.5 2 -.1 2 .5 2 -.2 2 .3 2 .3M14 319.8l2 1.7 2 -.4 2 -.5 2 .4 2 -1.0 2 -.8 2 1.5 2 .8 2 -1.0 2 -.1 2 -.3 2 -1.4 2 .1 2 1.6 2 -.5 2 -1.3 2 -.2 2 -.6 2 -.7 2 1.2 2 .4 2 -2.0 2 -.9 2 .8 2 -.2 2 -.1 2 .4 2 -1.3 2 -1.4 2 1.4 2 1.0 2 -1.2 2 -.6 2 .2 2 -.7 2 .6 2 1.5 2 -.9 2 -1.6 2 .6 2 .7 2 -.2 2 .9 2 .2 2 -1.8 2 -.4 2 1.4 2 .1 2 -.2 2 .8 2 -.8 2 -1.7 2 .6 2 1.0 2 -.5 2 .3 2 .5 2 -1.7 2 -1.0 2 1.1 2 .3 2 -.3 2 .7 2 -.4 2 -1.8 2 .2 2 1.5 2 -.2 2 .0 2 .4 2 -1.2 2 -.6 2 1.8 2 1.0 2 -1.0 2 -.1 2 .3 2 -.4 2 1.1 2 1.5 2 -1.1 2 -1.2 2 1.3 2 1.0 2 -.2 2 .5 2 -.2 2 -1.3 2 .8 2 1.9 2 -.6 2 -1.0 2 .3 2 -.4 2 -.3 2 1.6 2 .3 2 -1.8 2 -.5 2 .5 2 -.5 2 .4 2 1.3 2 -1.0 2 -1.5 2 .3 2 .1 2 -.4 2 1.2 2 .7 2 -1.6 2 -.7 2 .7 2 -.3 2 .2 2 1.6 2 -.2 2 -1.6 2 .2 2 .7 2 -.2 2 1.0 2 .8 2 -1.5 2 -.9 2 1.4 2 .6 2 -.3 2 .5 2 -.6 2 -1.4 2 1.1 2 1.6 2 -1.0 2 -1.1 2 .3 2 -.2 2 .1 2 1.2 2 -.6 2 -2.0 2 .4 2 1.3 2 -.3 2 -.1 2 .1 2 -1.3 2 -.4 2 1.8 2 .5 2 -1.0 2 .2 2 -.1 2 -.9 2 1.1 2 1.7 2 -.4 2 -.6 2 .6 2 -.5 2 -.3 2 1.9 2 1.1 2 -.8 2 .1 2 .3 2 -.9 2 .6 2 2.0 2 .0 2 -.9 2 .4 2 -.3 2 -.6 2 1.5 2 1.1 2 -1.3 2 -.8 2 .6 2 -.2 2 .3 2 1.2 2 -.9 2 -1.8 2 .8 2 1.2 2 -.5 2 -.1 2 -.1 2 -1.2 2 .3 2 1.9 2 -.3 2 -1.5 2 .2 2 .5 2 -.2 2 1.1 2 .5 2 -1.7 2 -.5 2 1.5 2 .3 2 -.1 2 .7 2 -.7 2 -1.5 2 .8 2 1.3 2 -.5 2 .0 2 .3 2 -1.5 2 -.9 2 1.3 2 .4 2 -.7 2 .3 2 -.5 2 -2.0 2 .0 2 1.3 2 -.5 2 -.4 2 .2 2 -1.4 2 -1.3 2 1.2 2 .8 2 -1.1 2 -.3 2 -.2 2 -1.3 2 .5 2 1.7 2 -.7 2 -1.5 2 .4 2 .3 2 -.1 2 1.1 2 .0 2 -1.8 2 .1 2 1.8 2 .1 2 -.7 2 .2 2 -.6 2 -.4 2 1.7 2 .7 2 -1.6 2 -.5 2 .6 2 -.4 2 .5 2 1.2 2 -1.0 2 -1.6 2 .5 2 .4 2 -.4 2 .9 2 .4 2 -1.7 2 -.8 2 .8 2 -.1 2 .1 2 1.3 2 -.5 2 -1.7 2 .2 2 .8 2 -.3 2 .9 2 1.0 2 -1.3 2 -1.1 2 1.2 2 .6 2 .0 2 1.0 2 -.3 2 -1.6 2 .6 2 1.8 2 -.2 2 -.5 2 .2 2 -.8 2 -.1 2 1.8 2 .1 2 -1.9 2 -.2 2 .9 2 -.3 2 .3 2 .3 2 -1.7 2 -1.0 2 1.5 2 .5 2 -1.1 2 -.2 2 -.4 2 -1.2M12 324.6l2 -.5 2 .7 2 1.0 2 -1.2 2 -.7 2 .9 2 .0 2 -.4 2 .8 2 -.4 2 -1.6 2 .3 2 1.0 2 -.8 2 -.5 2 .2 2 -1.1 2 -.5 2 1.1 2 -.2 2 -1.7 2 -.1 2 .4 2 -.7 2 .1 2 .4 2 -1.4 2 -.9 2 1.2 2 .2 2 -1.0 2 .3 2 -.1 2 -1.2 2 .6 2 1.3 2 -.8 2 -.6 2 .6 2 -.6 2 -.5 2 1.4 2 .4 2 -1.1 2 .1 2 .3 2 -1.0 2 .2 2 1.4 2 -.5 2 -.9 2 .4 2 -.4 2 -.9 2 1.0 2 .7 2 -1.2 2 -.4 2 .4 2 -.8 2 -.1 2 1.3 2 -.5 2 -1.4 2 .4 2 .5 2 -.5 2 .6 2 .5 2 -1.3 2 -.3 2 1.6 2 .2 2 -.8 2 .6 2 .0 2 -.5 2 1.3 2 1.0 2 -1.2 2 -.3 2 1.2 2 .1 2 .0 2 1.1 2 -.3 2 -1.2 2 .9 2 1.0 2 -.5 2 .1 2 .6 2 -1.2 2 -.5 2 1.3 2 .2 2 -.8 2 .5 2 -.2 2 -1.4 2 .2 2 1.1 2 -.6 2 -.3 2 .6 2 -.9 2 -1.1 2 1.1 2 .6 2 -.8 2 .3 2 .2 2 -1.3 2 .2 2 1.6 2 -.3 2 -.8 2 .6 2 -.2 2 -.5 2 1.3 2 .7 2 -1.4 2 -.2 2 1.2 2 -.2 2 -.1 2 .8 2 -.7 2 -1.0 2 1.3 2 .7 2 -1.1 2 -.2 2 .4 2 -.8 2 .2 2 1.2 2 -.8 2 -1.3 2 .5 2 .3 2 -.7 2 .8 2 .4 2 -1.4 2 -.4 2 1.0 2 -.3 2 -.1 2 1.2 2 -.3 2 -1.2 2 .6 2 .8 2 -.4 2 .7 2 1.1 2 -.9 2 -.5 2 1.2 2 .3 2 -.1 2 1.3 2 .2 2 -1.2 2 .4 2 1.4 2 -.2 2 .1 2 .8 2 -.8 2 -.6 2 1.5 2 .6 2 -1.1 2 .1 2 .3 2 -.6 2 .5 2 1.0 2 -1.1 2 -1.0 2 1.0 2 .4 2 -.7 2 .5 2 -.1 2 -1.3 2 .6 2 1.3 2 -.6 2 -.7 2 .6 2 -.4 2 -.4 2 1.4 2 .5 2 -1.2 2 .1 2 .5 2 -.6 2 .3 2 1.4 2 -.4 2 -1.0 2 .6 2 -.1 2 -.8 2 1.0 2 .8 2 -1.2 2 -.5 2 .5 2 -.8 2 -.3 2 1.2 2 -.4 2 -1.6 2 .1 2 .1 2 -.8 2 .3 2 .6 2 -1.6 2 -1.0 2 .9 2 .0 2 -.8 2 .4 2 -.5 2 -1.3 2 .7 2 1.1 2 -1.1 2 -.8 2 .7 2 -.3 2 -.1 2 1.1 2 -.3 2 -1.4 2 .6 2 1.1 2 -.5 2 .1 2 .6 2 -1.0 2 -.5 2 1.4 2 .3 2 -.8 2 .4 2 .0 2 -1.2 2 .4 2 1.2 2 -.6 2 -.5 2 .6 2 -.9 2 -.9 2 1.1 2 .5 2 -1.0 2 .2 2 .1 2 -1.3 2 .0 2 1.4 2 -.2 2 -.8 2 .5 2 -.3 2 -.8 2 1.2 2 1.0 2 -1.1 2 -.3 2 .8 2 -.3 2 .2 2 1.3 2 -.5 2 -1.2 2 1.1 2 1.0 2 -.6 2 .1 2 .4 2 -.9 2 .2 2 1.5 2 -.4 2 -1.3 2 .5 2 .2 2 -.7 2 .7 2 .4 2 -1.5 2 -.6 2 .9 2 -.3 2 -.5 2 .7 2 -.6 2 -1.5 2 .4 2 .6M9 327.6l2 1.1 2 -.4 2 .5 2 .6 2 -1.5 2 -.7 2 1.3 2 .2 2 -.4 2 .7 2 -.6 2 -1.8 2 .4 2 1.2 2 -.7 2 -.5 2 .1 2 -1.3 2 -.8 2 1.5 2 .1 2 -1.7 2 -.4 2 .1 2 -.7 2 .6 2 .6 2 -1.7 2 -1.2 2 1.3 2 .4 2 -.8 2 .2 2 -.4 2 -1.2 2 .9 2 1.5 2 -1.0 2 -.9 2 .5 2 -.3 2 -.2 2 1.6 2 .1 2 -1.7 2 -.1 2 .7 2 -.5 2 .4 2 1.3 2 -1.1 2 -1.4 2 .6 2 .0 2 -.6 2 1.1 2 .5 2 -1.7 2 -.6 2 .6 2 -.5 2 .0 2 1.4 2 -.7 2 -1.7 2 .4 2 .6 2 -.3 2 .7 2 .6 2 -1.6 2 -.5 2 1.7 2 .4 2 -.5 2 .5 2 -.3 2 -.8 2 1.5 2 1.5 2 -1.2 2 -.6 2 1.0 2 .2 2 .2 2 1.2 2 -.5 2 -1.5 2 1.0 2 1.4 2 -.5 2 -.1 2 .2 2 -1.1 2 -.2 2 1.7 2 .1 2 -1.2 2 .1 2 -.3 2 -1.1 2 .9 2 1.3 2 -1.0 2 -.8 2 .3 2 -.8 2 -.5 2 1.5 2 .5 2 -1.2 2 .0 2 .1 2 -1.0 2 .5 2 1.7 2 -.3 2 -1.0 2 .4 2 -.2 2 -.4 2 1.5 2 .9 2 -1.6 2 -.4 2 1.0 2 -.2 2 .3 2 1.0 2 -1.0 2 -1.4 2 1.3 2 1.0 2 -.9 2 -.2 2 .0 2 -1.0 2 .4 2 1.6 2 -.9 2 -1.7 2 .6 2 .4 2 -.4 2 .7 2 .2 2 -1.8 2 -.3 2 1.5 2 .1 2 -.3 2 .7 2 -.7 2 -1.2 2 1.2 2 1.3 2 -.4 2 .4 2 .6 2 -1.2 2 -.3 2 1.8 2 .6 2 -.3 2 1.0 2 -.1 2 -1.4 2 .8 2 1.7 2 -.2 2 .0 2 .6 2 -1.0 2 -.6 2 1.7 2 .8 2 -1.1 2 .0 2 .1 2 -.9 2 .8 2 1.4 2 -1.1 2 -1.4 2 .8 2 .4 2 -.3 2 .7 2 -.2 2 -1.7 2 .6 2 1.7 2 -.5 2 -.8 2 .4 2 -.4 2 -.2 2 1.6 2 .4 2 -1.6 2 -.1 2 .9 2 -.3 2 .6 2 1.2 2 -1.0 2 -1.3 2 .8 2 .5 2 -.5 2 1.0 2 .3 2 -1.7 2 -.6 2 .9 2 -.4 2 -.1 2 1.0 2 -.8 2 -1.8 2 .1 2 .5 2 -.8 2 .5 2 .5 2 -1.9 2 -1.1 2 1.0 2 .1 2 -.6 2 .5 2 -.7 2 -1.7 2 .8 2 1.4 2 -.8 2 -.8 2 .3 2 -.5 2 .0 2 1.6 2 -.3 2 -1.8 2 .4 2 1.2 2 -.2 2 .2 2 .4 2 -1.3 2 -.4 2 1.8 2 .4 2 -1.2 2 .1 2 -.1 2 -.9 2 .9 2 1.3 2 -1.0 2 -1.1 2 .5 2 -.6 2 -.5 2 1.5 2 .3 2 -1.5 2 -.2 2 .2 2 -.9 2 .4 2 1.6 2 -.6 2 -1.2 2 .5 2 -.2 2 -.6 2 1.4 2 1.0 2 -1.3 2 -.4 2 .7 2 -.2 2 .4 2 1.5 2 -.5 2 -1.5 2 .8 2 1.1 2 -.3 2 .4 2 .3 2 -1.4 2 .0 2 1.9 2 -.1 2 -1.4 2 .2 2 .0 2 -.5 2 1.0 2 .4 2 -1.9 2 -.7 2 1.2 2 -.1 2 -.5 2 .5 2 -1.0 2 -1.5 2 .9 2 1.0 2 -.8M41 330.1l2 1.4 2 -.6 2 -1.7 2 -.1 2 .1 2 -.6 2 .6 2 .4 2 -1.7 2 -1.0 2 .7 2 -.1 2 -.2 2 1.0 2 -.5 2 -1.6 2 .0 2 .8 2 -.4 2 .5 2 .9 2 -1.1 2 -1.2 2 .8 2 .3 2 -.2 2 1.0 2 .1 2 -1.6 2 -.3 2 1.0 2 -.1 2 .1 2 .6 2 -1.1 2 -1.3 2 1.0 2 .9 2 -.8 2 -.4 2 -.1 2 -1.0 2 .4 2 1.4 2 -.9 2 -1.5 2 .4 2 .5 2 -.2 2 .6 2 -.1 2 -1.6 2 .2 2 1.7 2 .0 2 -.7 2 .4 2 -.4 2 -.4 2 1.6 2 1.0 2 -1.0 2 -.2 2 .5 2 -.4 2 .5 2 1.7 2 .0 2 -1.1 2 .3 2 .2 2 -.5 2 1.1 2 1.2 2 -.9 2 -.8 2 .4 2 -.5 2 -.2 2 1.5 2 .2 2 -1.5 2 -.2 2 .1 2 -.6 2 .7 2 1.0 2 -1.2 2 -1.3 2 .7 2 .4 2 -.2 2 .6 2 -.3 2 -1.6 2 .5 2 1.6 2 -.3 2 -.8 2 .3 2 -.3 2 .0 2 1.5 2 .2 2 -1.6 2 .0 2 1.2 2 .0 2 .2 2 .6 2 -1.2 2 -.8 2 1.4 2 .7 2 -.7 2 .2 2 -.2 2 -1.4 2 .3 2 1.4 2 -.3 2 -.6 2 .2 2 -.8 2 -1.1 2 1.1 2 .9 2 -.8 2 -.1 2 .1 2 -1.2 2 -.2 2 1.6 2 .2 2 -.6 2 .3 2 -.3 2 -.9 2 1.2 2 1.5 2 -.6 2 -.5 2 .6 2 -.2 2 .4 2 1.7 2 .0 2 -1.4 2 .5 2 1.2 2 .1 2 .4 2 .4 2 -1.1 2 -.1 2 1.9 2 .3 2 -1.1 2 .0 2 .2 2 -.4 2 1.0 2 .9 2 -1.4 2 -.9 2 .9 2 .1 2 -.1 2 .9 2 -.4 2 -1.6 2 .3 2 1.0 2 -.2 2 .3 2 .7 2 -1.1 2 -1.0 2 1.0 2 .6 2 -.2 2 .9 2 .2 2 -1.5 2 -.1 2 1.2 2 .1 2 .1 2 .9 2 -.8 2 -1.4 2 .9 2 1.0 2 -.4 2 .0 2 .0 2 -1.4 2 -.1 2 1.5 2 -.2 2 -1.4 2 -.2 2 -.2 2 -.5 2 .8 2 .2 2 -1.9 2 -.8 2 1.1 2 -.1 2 -.6 2 .1 2 -1.0 2 -1.1 2 1.1 2 .9 2 -1.2 2 -.6 2 .2 2 -.6 2 .2 2 1.5 2 -.4 2 -1.4 2 .2 2 .4 2 -.4 2 1.0 2 1.0 2 -1.2 2 -.8 2 .6 2 -.2 2 .0 2 1.4 2 .2 2 -1.5 2 -.2 2 .4 2 -.6 2 .6 2 1.1 2 -1.0 2 -1.3 2 .4 2 .1 2 -.2 2 .9 2 -.1 2 -1.8 2 -.2 2 1.3 2 .0 2 -.4 2 .3 2 -.9 2 -.6 2 1.6 2 .8 2 -1.4 2 -.3 2 .7 2 -.1 2 .6 2 1.1 2 -1.1 2 -1.0 2 1.3 2 1.0 2 -.4 2 .3 2 .0 2 -1.1 2 .4 2 1.7 2 -.2 2 -.8 2 .3 2 -.6 2 -.8 2 1.2 2 .9 2 -1.0 2 -.5 2 .1 2 -1.2 2 -.2 2 1.4 2 -.1 2 -1.1 2 .0 2 -.5 2 -1.2 2 .8 2 1.2 2 -.8M40 333.4l2 .7 2 .7 2 -.9 2 -1.0 2 -.3 2 -.8 2 .0 2 1.0 2 -.1 2 -1.3 2 -.5 2 -.1 2 -.2 2 .7 2 .6 2 -1.3 2 -1.0 2 .6 2 .6 2 .1 2 .1 2 -.7 2 -.9 2 .8 2 1.2 2 -.4 2 -.9 2 -.1 2 -.1 2 .4 2 1.0 2 -.5 2 -1.5 2 .0 2 .8 2 .0 2 .1 2 -.1 2 -1.3 2 -.7 2 1.0 2 .5 2 -.4 2 -.1 2 -.6 2 -1.1 2 .2 2 1.1 2 .1 2 -.3 2 .1 2 -.9 2 -.7 2 1.0 2 1.0 2 -.1 2 .2 2 -.1 2 -1.0 2 .2 2 1.5 2 .6 2 -.2 2 .1 2 -.5 2 -.3 2 1.3 2 1.2 2 -.6 2 -.6 2 .1 2 .1 2 .6 2 1.0 2 -.6 2 -1.3 2 .4 2 1.0 2 .0 2 -.2 2 -.4 2 -1.0 2 .2 2 1.3 2 -.1 2 -1.2 2 -.4 2 .0 2 .0 2 .9 2 .3 2 -1.2 2 -.8 2 .6 2 .3 2 .3 2 .7 2 -.4 2 -1.3 2 .2 2 .8 2 .2 2 .6 2 .5 2 -.9 2 -.8 2 .6 2 .5 2 .2 2 .8 2 -.1 2 -1.3 2 -.2 2 .7 2 .2 2 .3 2 .4 2 -1.1 2 -1.1 2 .7 2 .8 2 -.3 2 -.2 2 -.5 2 -1.0 2 .4 2 1.3 2 -.4 2 -1.2 2 -.1 2 .2 2 .3 2 .8 2 -.1 2 -1.4 2 .0 2 1.4 2 .5 2 -.2 2 .0 2 -.5 2 .0 2 1.4 2 1.0 2 -.6 2 -.3 2 .3 2 -.1 2 .8 2 1.5 2 -.1 2 -.9 2 .1 2 .2 2 .0 2 1.1 2 .9 2 -.8 2 -.7 2 .2 2 -.3 2 .3 2 1.2 2 .1 2 -1.1 2 -.4 2 .1 2 -.2 2 .8 2 .9 2 -.9 2 -1.1 2 .3 2 .4 2 .3 2 .8 2 -.4 2 -1.3 2 .3 2 1.3 2 .3 2 -.3 2 -.2 2 -.5 2 .2 2 1.4 2 .4 2 -1.3 2 -.3 2 .6 2 .3 2 .5 2 .2 2 -1.2 2 -.8 2 .9 2 .6 2 -.4 2 -.2 2 -.7 2 -1.1 2 .2 2 1.0 2 -.2 2 -.8 2 -.4 2 -1.0 2 -.7 2 .8 2 .6 2 -.7 2 -.5 2 -.4 2 -1.1 2 -.1 2 1.1 2 .2 2 -.6 2 -.2 2 -.6 2 -.7 2 .8 2 1.1 2 -.4 2 -.6 2 -.1 2 -.4 2 .4 2 1.3 2 .0 2 -1.3 2 -.2 2 .6 2 .3 2 .5 2 .0 2 -1.3 2 -.4 2 1.2 2 .5 2 -.8 2 -.4 2 -.4 2 -.3 2 .9 2 .6 2 -1.2 2 -1.0 2 .3 2 .3 2 .2 2 .6 2 -.6 2 -1.4 2 .2 2 .9 2 .2 2 .3 2 .2 2 -1.0 2 -.6 2 .9 2 .7 2 .2 2 .6 2 -.1 2 -1.1 2 .0 2 1.1 2 .4 2 .3 2 .5 2 -.7 2 -1.0 2 .7 2 .9 2 .0 2 .1 2 -.3 2 -1.2 2 -.1 2 1.3 2 .2 2 -.9 2 -.5 2 -.5 2 -.2 2 .9 2 .3 2 -1.5 2 -.9 2 .6 2 .3 2 .0 2 .0 2 -1.0M12 340.0l2 1.2 2 -1.1 2 -.6 2 .7 2 -.5 2 -.2 2 1.1 2 -.5 2 -1.7 2 .4 2 .7 2 -.9 2 .0 2 .3 2 -1.5 2 -.8 2 1.2 2 -.1 2 -1.1 2 .3 2 -.3 2 -1.6 2 .4 2 1.1 2 -.9 2 -.4 2 .6 2 -1.0 2 -1.0 2 1.3 2 .4 2 -.9 2 .4 2 .2 2 -1.3 2 .1 2 1.4 2 -.3 2 -.7 2 .6 2 -.4 2 -1.0 2 1.1 2 .8 2 -1.3 2 -.4 2 .6 2 -.6 2 -.1 2 1.1 2 -.9 2 -1.5 2 .8 2 .7 2 -1.0 2 .0 2 .2 2 -1.2 2 .0 2 1.4 2 -.5 2 -1.3 2 .6 2 .2 2 -.7 2 1.0 2 .7 2 -1.4 2 -.2 2 1.2 2 -.1 2 -.1 2 1.3 2 -.3 2 -1.2 2 .9 2 1.0 2 -.5 2 .7 2 1.0 2 -1.1 2 -.5 2 1.3 2 .1 2 -.4 2 1.2 2 .0 2 -1.5 2 .3 2 1.1 2 -.6 2 .0 2 .8 2 -1.0 2 -1.1 2 1.1 2 .5 2 -1.0 2 .2 2 .1 2 -1.2 2 .3 2 1.4 2 -.8 2 -1.1 2 .7 2 .1 2 -.5 2 1.0 2 .2 2 -1.6 2 .4 2 1.4 2 -.4 2 -.4 2 .8 2 -.6 2 -.5 2 1.5 2 .6 2 -1.3 2 .1 2 .6 2 -.7 2 .3 2 1.3 2 -.6 2 -1.2 2 .6 2 .0 2 -.8 2 .9 2 .7 2 -1.4 2 -.5 2 .7 2 -.8 2 -.3 2 1.4 2 -.3 2 -1.4 2 .3 2 .3 2 -.8 2 .7 2 1.1 2 -1.2 2 -.7 2 1.1 2 .1 2 -.3 2 1.2 2 .0 2 -1.3 2 .8 2 1.5 2 -.4 2 -.1 2 .8 2 -.5 2 .0 2 1.7 2 .3 2 -1.3 2 .5 2 1.0 2 -.4 2 .4 2 .9 2 -1.1 2 -.6 2 1.5 2 .3 2 -.8 2 .5 2 .0 2 -1.3 2 .6 2 1.3 2 -.7 2 -.5 2 .6 2 -.7 2 -.7 2 1.3 2 .6 2 -1.0 2 .2 2 .5 2 -1.2 2 .2 2 1.6 2 -.2 2 -.7 2 .8 2 -.2 2 -1.0 2 1.3 2 1.1 2 -1.0 2 -.2 2 .7 2 -.7 2 -.1 2 1.5 2 -.3 2 -1.5 2 .5 2 .5 2 -.7 2 .3 2 .4 2 -1.6 2 -.5 2 1.4 2 -.4 2 -1.2 2 .2 2 -.3 2 -1.1 2 .7 2 .6 2 -1.7 2 -.8 2 .9 2 -.5 2 -.4 2 .8 2 -.6 2 -1.5 2 .6 2 .8 2 -.7 2 .1 2 .7 2 -1.2 2 -.6 2 1.3 2 .2 2 -.6 2 .8 2 .1 2 -1.5 2 .3 2 1.2 2 -.5 2 .0 2 .9 2 -.9 2 -1.2 2 1.1 2 .5 2 -.8 2 .3 2 .2 2 -1.5 2 .0 2 1.4 2 -.5 2 -1.0 2 .5 2 -.4 2 -.7 2 1.1 2 .4 2 -1.6 2 -.2 2 1.1 2 -.3 2 -.2 2 .8 2 -.7 2 -.8 2 1.4 2 .8 2 -1.0 2 .1 2 .7 2 -.7 2 .4 2 1.6 2 -.5 2 -1.1 2 .9 2 .3 2 -.6 2 1.0 2 .8 2 -1.4 2 -.4 2 1.0 2 -.5 2 -.2 2 1.2 2 -.3 2 -1.6 2 .3 2 .4 2 -1.0 2 .4 2 .9 2 -1.3 2 -1.0 2 .7 2 -.2 2 -.7 2 1.0 2 -.1 2 -1.7 2 .1M27 343.6l2 -.5 2 .1 2 -1.2 2 -.9 2 1.0 2 .6 2 -1.1 2 -.4 2 -.4 2 -1.1 2 .4 2 1.2 2 -.9 2 -1.5 2 .2 2 .1 2 -.2 2 .7 2 -.3 2 -1.7 2 .1 2 1.4 2 -.1 2 -.7 2 .1 2 -.6 2 -.3 2 1.4 2 .5 2 -1.5 2 -.4 2 .6 2 -.2 2 .4 2 .9 2 -1.0 2 -1.4 2 .6 2 .4 2 -.3 2 .6 2 .0 2 -1.6 2 -.6 2 .8 2 -.1 2 -.1 2 .8 2 -.7 2 -1.6 2 .2 2 .7 2 -.3 2 .5 2 .5 2 -1.3 2 -.8 2 1.0 2 .5 2 -.1 2 .7 2 -.2 2 -1.3 2 .7 2 1.6 2 -.1 2 -.3 2 .3 2 -.5 2 .2 2 1.7 2 .3 2 -1.4 2 .1 2 1.0 2 .0 2 .5 2 .4 2 -1.2 2 -.6 2 1.5 2 .6 2 -.9 2 -.1 2 -.3 2 -.8 2 .8 2 1.2 2 -.9 2 -1.1 2 .3 2 -.4 2 -.2 2 1.3 2 .2 2 -1.3 2 -.4 2 .4 2 -.5 2 .5 2 1.3 2 -.4 2 -1.1 2 .3 2 .1 2 -.3 2 1.2 2 .9 2 -1.1 2 -.5 2 .5 2 -.1 2 .3 2 1.3 2 -.4 2 -1.4 2 .2 2 .8 2 -.1 2 .3 2 .2 2 -1.5 2 -.4 2 1.5 2 .2 2 -1.1 2 -.2 2 -.3 2 -.5 2 1.0 2 .6 2 -1.5 2 -.9 2 1.0 2 .2 2 -.1 2 .5 2 -.6 2 -1.2 2 .9 2 1.3 2 -.3 2 -.1 2 .3 2 -.8 2 .0 2 1.7 2 .6 2 -.5 2 .3 2 .0 2 -.7 2 .8 2 1.6 2 -.1 2 -.2 2 .4 2 -.6 2 -.5 2 1.4 2 1.0 2 -.7 2 .0 2 .0 2 -.9 2 .3 2 1.6 2 -.2 2 -1.1 2 .1 2 -.1 2 -.3 2 1.2 2 .4 2 -1.5 2 -.5 2 1.1 2 .2 2 .0 2 .4 2 -.8 2 -.8 2 1.4 2 1.1 2 -1.0 2 -.4 2 .5 2 -.2 2 .6 2 1.3 2 -.7 2 -1.3 2 .7 2 .7 2 -.1 2 .6 2 .2 2 -1.5 2 -.4 2 1.1 2 .1 2 -.3 2 .5 2 -.8 2 -1.5 2 .3 2 .7 2 -.5 2 .1 2 .1 2 -1.5 2 -1.1 2 .8 2 .2 2 -.5 2 .4 2 -.6 2 -1.6 2 .0 2 1.1 2 -.2 2 -.4 2 .2 2 -1.1 2 -.6 2 1.5 2 .6 2 -1.1 2 -.4 2 .3 2 -.3 2 .8 2 .9 2 -1.1 2 -1.1 2 1.0 2 .8 2 -.4 2 .1 2 -.3 2 -1.1 2 .6 2 1.4 2 -.6 2 -1.1 2 .1 2 -.2 2 -.3 2 1.1 2 .2 2 -1.5 2 -.5 2 .4 2 -.3 2 .3 2 1.0 2 -.7 2 -1.3 2 .3 2 .2 2 -.2 2 1.0 2 .7 2 -1.2 2 -.6 2 .7 2 .0 2 .3 2 1.4 2 -.1 2 -1.4 2 .3 2 .8 2 .0 2 .7 2 .7 2 -1.2 2 -.7 2 1.3 2 .6 2 -.4 2 .2 2 -.5 2 -1.0 2 .9 2 1.2 2 -1.0 2 -1.1 2 .3 2 -.1 2 .0 2 .7 2 -.7 2 -1.7 2 .3 2 1.1 2 -.4 2 -.4 2 .0 2 -1.2 2 -.4 2 1.5 2 .3M7 347.7l2 .0 2 .7 2 -.3 2 -1.7 2 .4 2 1.8 2 -.5 2 -1.1 2 .1 2 -.7 2 -.5 2 1.4 2 .3 2 -1.9 2 -.7 2 .3 2 -.6 2 .3 2 1.1 2 -1.1 2 -1.8 2 .2 2 .1 2 -.5 2 1.0 2 .5 2 -1.7 2 -.8 2 .6 2 -.4 2 .1 2 1.5 2 -.4 2 -1.7 2 .1 2 .5 2 -.3 2 .9 2 .8 2 -1.5 2 -1.2 2 1.1 2 .5 2 -.3 2 .6 2 -.7 2 -1.7 2 .7 2 1.6 2 -.8 2 -1.0 2 .0 2 -.6 2 -.1 2 1.5 2 -.5 2 -2.1 2 .1 2 1.1 2 -.3 2 .0 2 .2 2 -1.5 2 -.6 2 1.8 2 .6 2 -1.0 2 .1 2 -.1 2 -.9 2 1.0 2 1.8 2 -.5 2 -.7 2 .5 2 -.5 2 -.3 2 1.9 2 1.0 2 -1.0 2 .0 2 .3 2 -.9 2 .5 2 1.9 2 -.1 2 -1.0 2 .3 2 -.4 2 -.7 2 1.4 2 1.1 2 -1.3 2 -.8 2 .3 2 -.4 2 .2 2 1.4 2 -.7 2 -1.9 2 .4 2 1.0 2 -.3 2 .2 2 .0 2 -1.5 2 .0 2 1.9 2 .1 2 -1.4 2 .1 2 .2 2 -.2 2 1.3 2 .7 2 -1.7 2 -.6 2 1.4 2 .4 2 -.1 2 .8 2 -.6 2 -1.5 2 .8 2 1.4 2 -.4 2 .0 2 .3 2 -1.4 2 -.8 2 1.5 2 .5 2 -.7 2 .4 2 -.4 2 -1.8 2 .2 2 1.4 2 -.3 2 -.3 2 .4 2 -1.2 2 -1.2 2 1.3 2 1.0 2 -.7 2 .0 2 .0 2 -1.2 2 .5 2 2.0 2 -.2 2 -1.2 2 .4 2 .3 2 .0 2 1.6 2 .4 2 -1.7 2 .0 2 1.9 2 .4 2 -.2 2 .4 2 -.7 2 -.4 2 1.8 2 1.1 2 -1.3 2 -.5 2 .6 2 -.3 2 .6 2 1.4 2 -.8 2 -1.6 2 .6 2 .5 2 -.2 2 .9 2 .5 2 -1.7 2 -.7 2 1.0 2 .1 2 .0 2 1.3 2 -.3 2 -1.7 2 .3 2 .8 2 -.2 2 .9 2 1.0 2 -1.3 2 -1.0 2 1.1 2 .5 2 .0 2 1.1 2 -.2 2 -1.7 2 .3 2 1.7 2 -.1 2 -.4 2 .2 2 -1.1 2 -.4 2 1.7 2 .4 2 -1.8 2 -.5 2 .5 2 -.4 2 .4 2 .5 2 -1.8 2 -1.3 2 1.2 2 .5 2 -1.0 2 -.2 2 -.5 2 -1.4 2 .6 2 1.4 2 -.8 2 -1.3 2 .2 2 -.6 2 -.4 2 1.5 2 .6 2 -1.5 2 -.4 2 .3 2 -.7 2 .5 2 1.7 2 -.3 2 -1.3 2 .2 2 -.1 2 -.7 2 1.3 2 1.2 2 -1.2 2 -.8 2 .3 2 -.5 2 .1 2 1.6 2 -.3 2 -1.9 2 .0 2 .5 2 -.3 2 .6 2 .4 2 -1.8 2 -.9 2 1.6 2 .4 2 -.9 2 .0 2 -.5 2 -.8 2 1.3 2 1.3 2 -1.5 2 -1.0 2 1.0 2 .3 2 .2 2 1.0 2 -.5 2 -1.6 2 .9 2 1.6 2 -.2 2 .0 2 .5 2 -1.2 2 -.4 2 1.8 2 .7 2 -.7 2 .3 2 -.3 2 -1.4 2 .6 2 1.6 2 -.4 2 -.5 2 .3 2 -1.1 2 -1.2 2 1.2 2 .9 2 -.9 2 -.2 2 -.2 2 -1.5 2 .0 2 1.7 2 -.2 2 -1.2 2 .0 2 -.5 2 -.7 2 1.4 2 .9M5 351.2l2 -1.0 2 .8 2 1.2 2 -.4 2 -.6 2 .0 2 -.7 2 -.1 2 1.2 2 .0 2 -1.2 2 -.4 2 -.2 2 -.7 2 .4 2 .9 2 -.9 2 -1.1 2 -.1 2 -.5 2 -.5 2 .9 2 .4 2 -1.2 2 -.6 2 .0 2 -.7 2 .3 2 1.1 2 -.3 2 -1.2 2 .0 2 .0 2 -.1 2 .9 2 .4 2 -1.3 2 -.6 2 .8 2 .3 2 .0 2 .3 2 -.9 2 -.9 2 .9 2 .9 2 -.8 2 -.7 2 -.1 2 -.3 2 .2 2 .9 2 -.8 2 -1.5 2 .2 2 .6 2 -.2 2 .1 2 -.2 2 -1.3 2 -.3 2 1.2 2 .2 2 -.5 2 .1 2 -.5 2 -.8 2 .7 2 1.2 2 -.2 2 -.1 2 .3 2 -.8 2 -.2 2 1.4 2 .7 2 -.2 2 .3 2 -.1 2 -.8 2 .5 2 1.5 2 .1 2 -.3 2 .2 2 -.6 2 -.3 2 1.3 2 .7 2 -.9 2 -.5 2 .1 2 -.2 2 .5 2 .9 2 -1.0 2 -1.3 2 .6 2 .7 2 -.3 2 .0 2 -.3 2 -1.1 2 .5 2 1.3 2 -.4 2 -1.0 2 .1 2 .1 2 .0 2 1.1 2 .2 2 -1.3 2 -.2 2 .9 2 .2 2 .3 2 .7 2 -.7 2 -1.0 2 .6 2 .8 2 .0 2 .5 2 .2 2 -1.2 2 -.5 2 .8 2 .2 2 .0 2 .6 2 -.5 2 -1.4 2 .0 2 .7 2 -.2 2 .2 2 .2 2 -1.2 2 -.9 2 .9 2 .6 2 -.5 2 .0 2 -.4 2 -.9 2 .7 2 1.3 2 -.5 2 -.8 2 .3 2 .2 2 .3 2 1.1 2 -.1 2 -1.2 2 .5 2 1.4 2 .2 2 .0 2 .2 2 -.5 2 .1 2 1.5 2 .6 2 -.8 2 -.1 2 .3 2 -.2 2 .8 2 1.1 2 -.6 2 -.9 2 .3 2 .0 2 -.1 2 1.1 2 .4 2 -1.2 2 -.4 2 .3 2 -.3 2 .4 2 1.1 2 -.3 2 -1.1 2 .1 2 .2 2 -.2 2 1.0 2 .8 2 -1.0 2 -.6 2 .6 2 .3 2 .4 2 .9 2 -.5 2 -1.1 2 .6 2 1.2 2 -.1 2 -.1 2 .0 2 -.7 2 .2 2 1.3 2 -.1 2 -1.3 2 -.1 2 .4 2 -.2 2 .4 2 .0 2 -1.5 2 -.6 2 .9 2 .2 2 -.7 2 -.2 2 -.7 2 -1.1 2 .5 2 .8 2 -.6 2 -.7 2 -.2 2 -.9 2 -.4 2 1.1 2 .4 2 -.9 2 -.1 2 -.3 2 -.8 2 .4 2 1.2 2 -.1 2 -.6 2 .1 2 -.5 2 -.5 2 1.1 2 .9 2 -.8 2 -.4 2 .1 2 -.6 2 .4 2 1.2 2 -.4 2 -1.4 2 .1 2 .4 2 -.1 2 .5 2 -.2 2 -1.5 2 -.2 2 1.2 2 .0 2 -.8 2 -.2 2 -.4 2 -.3 2 1.0 2 .5 2 -1.3 2 -.6 2 .7 2 .1 2 .3 2 .7 2 -.6 2 -1.1 2 .8 2 .9 2 .0 2 .5 2 .2 2 -1.0 2 -.2 2 1.2 2 .5 2 .0 2 .6 2 -.4 2 -1.1 2 .4 2 1.0 2 -.1 2 .2 2 .3 2 -1.1 2 -.9 2 .9 2 .5 2 -.4 2 .1 2 -.5 2 -1.3 2 .2 2 1.1 2 -.3 2 -.8 2 -.2 2 -.6 2 -.2 2 1.1 2 .2 2 -1.5 2 -.4 2 .7 2 .1M13 355.6l2 -.6 2 -1.3 2 .5 2 .9 2 -.4 2 -.1 2 .0 2 -1.4 2 -.8 2 1.1 2 .2 2 -.8 2 -.1 2 -.6 2 -1.3 2 .6 2 1.1 2 -.9 2 -1.1 2 .1 2 -.3 2 .0 2 1.0 2 -.4 2 -1.7 2 .2 2 1.1 2 -.2 2 -.2 2 .1 2 -1.0 2 -.2 2 1.6 2 .2 2 -1.3 2 -.2 2 .2 2 -.4 2 .7 2 .8 2 -1.2 2 -1.1 2 .5 2 .1 2 -.2 2 .8 2 -.2 2 -1.7 2 -.3 2 .5 2 -.3 2 .2 2 .7 2 -.9 2 -1.3 2 .3 2 .3 2 -.3 2 .8 2 .4 2 -1.4 2 -.5 2 .9 2 .1 2 .2 2 .9 2 -.5 2 -1.2 2 .9 2 1.3 2 -.1 2 .1 2 .2 2 -.8 2 .3 2 1.8 2 .1 2 -1.2 2 .2 2 .5 2 .0 2 .9 2 .3 2 -1.4 2 -.4 2 1.4 2 .3 2 -.6 2 .1 2 -.6 2 -.8 2 .9 2 1.0 2 -.9 2 -.7 2 .2 2 -.6 2 .0 2 1.3 2 .1 2 -1.2 2 -.1 2 .1 2 -.6 2 .8 2 1.3 2 -.6 2 -.7 2 .3 2 -.3 2 -.2 2 1.5 2 .6 2 -1.0 2 -.2 2 .3 2 -.4 2 .5 2 1.4 2 -.6 2 -1.3 2 .4 2 .3 2 -.1 2 .7 2 .0 2 -1.6 2 -.3 2 1.3 2 .0 2 -.7 2 -.1 2 -.7 2 -.5 2 1.2 2 .5 2 -1.5 2 -.6 2 .7 2 -.1 2 .3 2 .6 2 -.9 2 -1.1 2 1.1 2 1.0 2 -.3 2 .3 2 .1 2 -1.0 2 .2 2 1.7 2 .4 2 -.3 2 .5 2 -.3 2 -.8 2 1.1 2 1.3 2 -.2 2 .1 2 .4 2 -.9 2 -.3 2 1.4 2 .6 2 -.5 2 .2 2 -.2 2 -1.1 2 .6 2 1.4 2 -.3 2 -.7 2 .1 2 -.5 2 -.2 2 1.4 2 .3 2 -1.4 2 -.2 2 .7 2 .1 2 .4 2 .5 2 -1.1 2 -.6 2 1.5 2 .9 2 -.8 2 .0 2 .1 2 -.4 2 .9 2 1.3 2 -.8 2 -1.0 2 .7 2 .3 2 .0 2 .9 2 .0 2 -1.5 2 -.2 2 .9 2 -.1 2 .0 2 .6 2 -1.1 2 -1.4 2 .5 2 .4 2 -.5 2 .3 2 .1 2 -1.7 2 -.8 2 .7 2 -.1 2 -.2 2 .5 2 -.7 2 -1.6 2 .2 2 .9 2 -.4 2 .1 2 .1 2 -1.3 2 -.4 2 1.4 2 .4 2 -.9 2 .0 2 -.1 2 -.5 2 1.0 2 .9 2 -1.2 2 -.9 2 .9 2 .4 2 -.2 2 .4 2 -.6 2 -1.2 2 .8 2 1.2 2 -.8 2 -.7 2 .0 2 -.6 2 -.2 2 1.3 2 -.1 2 -1.4 2 -.2 2 .1 2 -.5 2 .6 2 1.0 2 -.9 2 -1.0 2 .3 2 -.1 2 -.1 2 1.2 2 .5 2 -1.1 2 -.3 2 .5 2 -.3 2 .6 2 1.4 2 -.3 2 -1.0 2 .4 2 .4 2 -.1 2 1.1 2 .6 2 -1.4 2 -.4 2 1.1 2 .3 2 -.1 2 .4 2 -.8 2 -1.0 2 1.0 2 1.0 2 -1.0 2 -.7 2 .1 2 -.5 2 .3 2 .9 2 -.9 2 -1.6 2 .4 2 .8 2 -.4 2 .0 2 -.1 2 -1.3 2 -.2 2 1.4 2 .1 2 -.7 2 .1M20 358.3l2 -1.1 2 .2 2 -.3 2 .2 2 1.0 2 -.9 2 -1.9 2 .0 2 .6 2 -.3 2 .4 2 .2 2 -1.7 2 -1.2 2 .9 2 .3 2 -.2 2 .7 2 -.4 2 -1.8 2 -.1 2 .9 2 .0 2 .4 2 .7 2 -1.2 2 -1.4 2 .8 2 .7 2 -.1 2 .6 2 -.2 2 -1.7 2 -.2 2 1.5 2 .2 2 -.6 2 -.1 2 -1.0 2 -.8 2 1.4 2 .8 2 -1.6 2 -.9 2 .2 2 -.1 2 .4 2 .6 2 -1.3 2 -1.6 2 1.0 2 1.1 2 -.6 2 -.3 2 -.3 2 -1.0 2 .5 2 1.8 2 -.3 2 -1.2 2 .1 2 .1 2 -.1 2 1.5 2 1.0 2 -1.2 2 -.6 2 .6 2 .0 2 .5 2 1.7 2 .0 2 -1.3 2 .0 2 .4 2 -.3 2 1.2 2 1.2 2 -1.0 2 -1.0 2 .3 2 -.1 2 .1 2 1.3 2 .1 2 -1.8 2 -.4 2 .7 2 .0 2 .4 2 .6 2 -1.5 2 -1.2 2 1.3 2 .9 2 -.6 2 -.2 2 -.4 2 -.7 2 1.0 2 1.5 2 -.9 2 -1.3 2 .6 2 .6 2 .2 2 .9 2 -.3 2 -1.6 2 .4 2 1.7 2 .1 2 -.4 2 .2 2 -1.0 2 -.5 2 1.5 2 .9 2 -.9 2 -.3 2 -.2 2 -1.2 2 .3 2 1.5 2 -.1 2 -1.0 2 .0 2 -.8 2 -1.0 2 1.0 2 1.2 2 -.8 2 -.5 2 -.1 2 -1.1 2 .0 2 1.7 2 .3 2 -1.1 2 -.1 2 -.1 2 -.4 2 1.3 2 1.4 2 -1.1 2 -1.0 2 .9 2 .6 2 .4 2 1.0 2 -.5 2 -1.3 2 1.0 2 1.8 2 -.2 2 -.6 2 .2 2 -.4 2 .5 2 1.7 2 -.1 2 -1.6 2 .0 2 .9 2 .1 2 .6 2 .4 2 -1.5 2 -.9 2 1.2 2 .7 2 -.2 2 .5 2 -.4 2 -1.6 2 .3 2 1.4 2 .1 2 .1 2 .5 2 -1.0 2 -1.1 2 1.1 2 1.1 2 -.1 2 .6 2 .1 2 -1.4 2 -.1 2 1.6 2 .5 2 -.1 2 .4 2 -.8 2 -1.1 2 1.3 2 1.4 2 -.8 2 -.6 2 -.1 2 -.6 2 .4 2 1.4 2 -.8 2 -1.9 2 .1 2 .8 2 -.2 2 .0 2 -.4 2 -1.8 2 -.2 2 1.6 2 -.1 2 -1.4 2 -.4 2 -.4 2 -.5 2 1.1 2 .7 2 -1.6 2 -1.0 2 .5 2 -.1 2 .2 2 1.3 2 -.5 2 -1.6 2 .0 2 .6 2 -.2 2 .9 2 .9 2 -1.2 2 -1.1 2 .5 2 .1 2 .1 2 1.2 2 .1 2 -1.7 2 -.5 2 .6 2 -.1 2 .5 2 .8 2 -1.3 2 -1.6 2 .7 2 .7 2 -.2 2 .1 2 -.5 2 -1.5 2 .3 2 1.7 2 -.3 2 -1.2 2 -.1 2 -.1 2 .1 2 1.3 2 .2 2 -1.8 2 -.2 2 1.5 2 .4 2 .0 2 .3 2 -.9 2 -.6 2 1.7 2 1.2 2 -.7 2 -.3 2 .1 2 -.7 2 .6 2 1.7 2 -.1 2 -1.1 2 .0 2 -.3 2 -.6 2 1.2 2 1.0 2 -.9 2 -.8 2 -.1 2 -.9 2 -.1 2 1.5 2 .1 2 -1.3 2 -.4 2 -.3 2 -.8 2 .9 2 1.2 2 -1.0 2 -1.3 2 .2 2 .0 2 .1 2 1.3 2 -.3M22 361.4l2 -.4 2 .0 2 -.6 2 .6 2 1.0 2 -1.2 2 -1.3 2 .0 2 -.3 2 -.2 2 1.1 2 .0 2 -1.9 2 -.5 2 .7 2 .0 2 .3 2 .4 2 -1.4 2 -1.1 2 1.3 2 .9 2 -.7 2 -.4 2 -.2 2 -.6 2 .9 2 1.2 2 -1.0 2 -1.5 2 .6 2 .5 2 .0 2 .5 2 -.6 2 -1.7 2 .2 2 1.3 2 -.1 2 -.7 2 -.1 2 -1.1 2 -.8 2 1.2 2 .7 2 -.9 2 -.5 2 -.3 2 -1.2 2 .2 2 1.5 2 .0 2 -.8 2 .0 2 -.6 2 -.9 2 1.2 2 1.3 2 -.4 2 -.3 2 .1 2 -.8 2 .1 2 1.9 2 .6 2 -.9 2 -.1 2 .1 2 -.2 2 1.3 2 1.2 2 -1.1 2 -1.0 2 .8 2 .7 2 .2 2 .5 2 -.7 2 -1.3 2 .8 2 1.6 2 -.6 2 -.9 2 -.1 2 -.4 2 .2 2 1.4 2 -.4 2 -1.7 2 -.1 2 .8 2 .0 2 .5 2 .3 2 -1.3 2 -1.0 2 1.2 2 .7 2 -.1 2 .6 2 -.3 2 -1.4 2 .2 2 1.3 2 .2 2 .3 2 .6 2 -1.0 2 -1.1 2 .9 2 1.0 2 -.1 2 .5 2 .0 2 -1.5 2 -.4 2 1.4 2 .3 2 -.3 2 .1 2 -.9 2 -1.2 2 1.1 2 1.1 2 -.9 2 -.9 2 -.1 2 -.5 2 .4 2 1.2 2 -.8 2 -1.7 2 .3 2 1.1 2 -.1 2 .1 2 -.1 2 -1.3 2 .3 2 1.8 2 .3 2 -1.1 2 .1 2 .1 2 -.1 2 1.5 2 1.0 2 -1.1 2 -.6 2 .7 2 .3 2 .5 2 1.4 2 -.1 2 -1.3 2 .1 2 .6 2 .0 2 .9 2 1.1 2 -1.0 2 -1.1 2 .4 2 .1 2 .1 2 1.3 2 .2 2 -1.6 2 -.5 2 .7 2 .0 2 .6 2 .9 2 -1.1 2 -1.3 2 .9 2 1.0 2 .0 2 .2 2 -.2 2 -1.2 2 .7 2 1.9 2 -.1 2 -1.1 2 .1 2 .3 2 .3 2 1.3 2 .1 2 -1.6 2 -.2 2 1.5 2 .4 2 -.3 2 .2 2 -1.0 2 -.8 2 1.3 2 1.0 2 -1.0 2 -.6 2 -.3 2 -1.0 2 .2 2 1.4 2 -.3 2 -1.4 2 -.3 2 -.6 2 -.8 2 .8 2 1.0 2 -1.0 2 -.9 2 -.1 2 -1.0 2 -.2 2 1.5 2 .3 2 -1.2 2 -.3 2 -.3 2 -.6 2 .9 2 1.4 2 -.9 2 -1.2 2 .3 2 .1 2 .2 2 1.2 2 -.3 2 -1.8 2 .1 2 1.4 2 .1 2 -.4 2 -.1 2 -1.1 2 -.2 2 1.6 2 .2 2 -1.6 2 -.6 2 .4 2 -.1 2 .5 2 .5 2 -1.5 2 -1.3 2 1.0 2 .6 2 -.3 2 .3 2 -.5 2 -1.4 2 .2 2 1.4 2 .1 2 -.1 2 .3 2 -.9 2 -.9 2 1.2 2 1.2 2 -.2 2 .4 2 .1 2 -1.2 2 -.1 2 1.6 2 .5 2 -.1 2 .4 2 -.7 2 -1.1 2 1.0 2 1.4 2 -.4 2 -.5 2 -.1 2 -.9 2 .1 2 1.6 2 -.1 2 -1.7 2 -.3 2 .3 2 .0 2 .5 2 .1 2 -1.7 2 -.8 2 1.4 2 .5 2 -.8 2 -.3 2 -.6 2 -.6 2 1.2 2 1.1 2 -1.2 2 -1.1 2 .5M18 366.6l2 -.5 2 -1.3 2 .0 2 .4 2 -.4 2 .1 2 .1 2 -1.2 2 -.8 2 .7 2 .1 2 -.5 2 .0 2 -.5 2 -1.0 2 .5 2 .9 2 -.7 2 -.8 2 .2 2 -.1 2 .0 2 .8 2 -.4 2 -1.2 2 .3 2 .9 2 -.2 2 -.2 2 .0 2 -.7 2 -.2 2 1.1 2 .1 2 -1.0 2 -.2 2 -.1 2 -.6 2 .5 2 .7 2 -.9 2 -1.0 2 .2 2 -.4 2 -.3 2 .7 2 .1 2 -1.2 2 -.4 2 .2 2 -.6 2 .2 2 1.0 2 -.4 2 -1.0 2 .2 2 .1 2 -.3 2 .9 2 .7 2 -.9 2 -.4 2 .7 2 .2 2 .3 2 .9 2 -.3 2 -.9 2 .7 2 1.1 2 -.1 2 .0 2 .2 2 -.6 2 .3 2 1.3 2 -.1 2 -1.0 2 .2 2 .4 2 -.2 2 .5 2 .2 2 -1.2 2 -.3 2 .9 2 .2 2 -.5 2 .2 2 -.5 2 -.8 2 .6 2 .9 2 -.5 2 -.3 2 .1 2 -.6 2 -.2 2 1.1 2 .4 2 -.6 2 .2 2 .0 2 -.7 2 .5 2 1.2 2 -.1 2 -.3 2 .3 2 -.4 2 -.4 2 1.1 2 .6 2 -.6 2 -.2 2 .1 2 -.6 2 .3 2 1.1 2 -.6 2 -1.0 2 .1 2 .2 2 -.2 2 .4 2 -.1 2 -1.4 2 -.1 2 1.0 2 -.2 2 -.6 2 -.1 2 -.4 2 -.3 2 .9 2 .4 2 -1.1 2 -.3 2 .6 2 .0 2 .4 2 .7 2 -.5 2 -.8 2 .8 2 .8 2 .0 2 .5 2 .4 2 -.8 2 -.1 2 1.2 2 .3 2 .1 2 .7 2 -.2 2 -.9 2 .5 2 .9 2 -.1 2 .3 2 .4 2 -.8 2 -.6 2 .9 2 .4 2 -.3 2 .4 2 -.3 2 -1.0 2 .4 2 1.1 2 -.2 2 -.5 2 .2 2 -.4 2 .0 2 1.1 2 .3 2 -1.1 2 .0 2 .8 2 .1 2 .4 2 .5 2 -.8 2 -.3 2 1.3 2 .6 2 -.5 2 .0 2 .2 2 -.4 2 .6 2 1.1 2 -.6 2 -.8 2 .3 2 .0 2 -.2 2 .8 2 .0 2 -1.2 2 -.4 2 .3 2 -.5 2 .1 2 .6 2 -.7 2 -1.2 2 .0 2 -.1 2 -.5 2 .5 2 .3 2 -1.2 2 -.7 2 .3 2 -.3 2 .0 2 .7 2 -.4 2 -1.3 2 .2 2 .7 2 -.2 2 .2 2 .2 2 -1.0 2 -.3 2 1.2 2 .3 2 -.8 2 .0 2 -.1 2 -.3 2 .7 2 .6 2 -1.1 2 -.7 2 .7 2 .2 2 -.3 2 .2 2 -.6 2 -1.0 2 .4 2 .8 2 -.5 2 -.6 2 .0 2 -.7 2 -.3 2 1.0 2 .2 2 -.9 2 -.1 2 .0 2 -.7 2 .5 2 1.1 2 -.4 2 -.5 2 .3 2 -.2 2 -.3 2 1.1 2 .8 2 -.6 2 .0 2 .3 2 -.5 2 .4 2 1.3 2 .0 2 -.8 2 .2 2 .2 2 -.2 2 .9 2 .4 2 -1.1 2 -.5 2 .8 2 .1 2 -.2 2 .1 2 -.7 2 -.8 2 .8 2 .6 2 -1.0 2 -.6 2 .1 2 -.3 2 .1 2 .7 2 -.7 2 -1.2 2 .4 2 .6 2 -.3 2 .3 2 .1 2 -1.1 2 -.2 2 1.1M26 368.4l2 .5 2 -.4 2 -.3 2 -.7 2 -1.1 2 .5 2 1.2 2 -.8 2 -1.3 2 .0 2 .1 2 .1 2 .7 2 -.5 2 -1.5 2 .1 2 1.2 2 .1 2 -.4 2 -.1 2 -.8 2 -.4 2 1.3 2 .6 2 -.9 2 -.4 2 -.2 2 -.6 2 .5 2 1.2 2 -.5 2 -1.0 2 -.2 2 -.5 2 -.5 2 .9 2 .6 2 -1.0 2 -.7 2 -.3 2 -.8 2 .1 2 1.1 2 .0 2 -1.2 2 -.3 2 -.3 2 -.4 2 .9 2 .9 2 -1.0 2 -.9 2 .3 2 .4 2 .3 2 .9 2 -.4 2 -1.3 2 .7 2 1.4 2 .1 2 -.2 2 .0 2 -.5 2 .4 2 1.6 2 .2 2 -1.3 2 .0 2 .7 2 .2 2 .7 2 .3 2 -1.3 2 -.6 2 1.1 2 .6 2 -.3 2 .2 2 -.6 2 -1.2 2 .4 2 1.2 2 -.2 2 -.2 2 .0 2 -1.0 2 -.7 2 1.0 2 .8 2 -.3 2 .1 2 -.2 2 -1.1 2 .1 2 1.4 2 .3 2 -.2 2 .2 2 -.7 2 -.6 2 1.1 2 1.2 2 -.4 2 -.4 2 .0 2 -.5 2 .5 2 1.4 2 -.3 2 -1.3 2 .0 2 .5 2 .1 2 .5 2 -.2 2 -1.5 2 -.2 2 1.3 2 .1 2 -.9 2 -.4 2 -.5 2 -.3 2 1.0 2 .5 2 -1.3 2 -.8 2 .4 2 .1 2 .3 2 .8 2 -.6 2 -1.2 2 .2 2 .9 2 .1 2 .7 2 .5 2 -1.0 2 -.6 2 .9 2 .6 2 .3 2 1.1 2 .0 2 -1.2 2 .1 2 .9 2 .3 2 .6 2 .8 2 -.9 2 -1.0 2 .8 2 .8 2 .1 2 .4 2 -.3 2 -1.3 2 .3 2 1.4 2 .1 2 -.7 2 -.2 2 -.4 2 .1 2 1.2 2 .3 2 -1.4 2 -.4 2 1.0 2 .4 2 .2 2 .3 2 -.9 2 -.5 2 1.4 2 1.0 2 -.5 2 -.2 2 .0 2 -.3 2 .7 2 1.5 2 -.2 2 -1.0 2 .1 2 .1 2 -.1 2 1.2 2 .7 2 -1.1 2 -.6 2 .1 2 -.4 2 .2 2 1.1 2 -.2 2 -1.3 2 -.4 2 -.2 2 -.5 2 .6 2 .7 2 -1.1 2 -1.2 2 .0 2 -.3 2 .0 2 .9 2 -.4 2 -1.6 2 -.3 2 .8 2 .0 2 .1 2 .0 2 -1.2 2 -.5 2 1.4 2 .6 2 -1.0 2 -.4 2 .0 2 -.1 2 .9 2 .7 2 -1.2 2 -1.0 2 .8 2 .6 2 -.1 2 .2 2 -.6 2 -1.3 2 .4 2 1.2 2 -.2 2 -.6 2 -.2 2 -.9 2 -.6 2 1.0 2 .6 2 -.7 2 -.3 2 -.4 2 -1.1 2 .2 2 1.2 2 .1 2 -.6 2 .0 2 -.6 2 -.7 2 1.0 2 1.1 2 -.3 2 -.3 2 .0 2 -.6 2 .3 2 1.6 2 .4 2 -1.0 2 -.1 2 .3 2 .1 2 1.1 2 .6 2 -1.2 2 -.7 2 1.1 2 .6 2 -.1 2 .0 2 -.7 2 -.8 2 1.0 2 1.1 2 -1.0 2 -1.0 2 .1 2 -.2 2 .3 2 .8 2 -.7 2 -1.5 2 .0 2 .6 2 .0 2 .3 2 .1 2 -1.3 2 -.8 2 .9 2 .5 2 -.1 2 .5 2 -.4 2 -1.3 2 .1M35 371.9l2 -.7 2 -.7 2 .1 2 -.7 2 -.1 2 1.1 2 -.3 2 -1.4 2 .1 2 .6 2 -.2 2 .2 2 .2 2 -1.2 2 -.3 2 1.4 2 .1 2 -.9 2 .0 2 -.1 2 -.5 2 .7 2 .8 2 -1.1 2 -.9 2 .4 2 -.2 2 -.2 2 .8 2 -.3 2 -1.5 2 -.2 2 .4 2 -.6 2 .2 2 .7 2 -1.0 2 -1.1 2 .3 2 -.1 2 -.3 2 .8 2 .2 2 -1.3 2 -.4 2 .7 2 -.2 2 .2 2 1.0 2 -.5 2 -1.1 2 .7 2 .9 2 -.1 2 .4 2 .3 2 -.9 2 .1 2 1.6 2 .2 2 -.7 2 .3 2 .1 2 -.2 2 1.1 2 .5 2 -1.3 2 -.3 2 1.0 2 .1 2 -.2 2 .4 2 -.7 2 -.9 2 1.0 2 .8 2 -.8 2 -.3 2 .1 2 -.8 2 .0 2 1.3 2 -.1 2 -1.0 2 .2 2 -.1 2 -.6 2 .8 2 1.1 2 -.6 2 -.5 2 .5 2 -.5 2 -.1 2 1.4 2 .4 2 -.8 2 .1 2 .2 2 -.6 2 .6 2 1.3 2 -.5 2 -.9 2 .4 2 -.1 2 -.2 2 1.0 2 .1 2 -1.5 2 -.2 2 .9 2 -.2 2 -.3 2 .2 2 -1.0 2 -.7 2 1.1 2 .4 2 -1.2 2 -.4 2 .3 2 -.4 2 .4 2 .7 2 -.9 2 -1.0 2 .8 2 .6 2 -.2 2 .5 2 .1 2 -1.1 2 .3 2 1.4 2 .1 2 -.1 2 .6 2 -.4 2 -.7 2 1.1 2 1.0 2 -.2 2 .2 2 .4 2 -.9 2 -.1 2 1.3 2 .3 2 -.3 2 .5 2 -.3 2 -1.0 2 .6 2 1.1 2 -.4 2 -.3 2 .3 2 -.8 2 -.2 2 1.3 2 .3 2 -1.1 2 .0 2 .3 2 -.2 2 .7 2 .7 2 -1.0 2 -.6 2 1.2 2 .6 2 -.3 2 .3 2 .0 2 -.6 2 .9 2 1.3 2 -.6 2 -.6 2 .6 2 .1 2 .0 2 1.1 2 .0 2 -1.2 2 .0 2 .7 2 -.2 2 .2 2 .6 2 -1.0 2 -1.0 2 .5 2 .1 2 -.5 2 .5 2 .0 2 -1.5 2 -.5 2 .5 2 -.4 2 -.1 2 .6 2 -.8 2 -1.3 2 .2 2 .5 2 -.5 2 .3 2 .2 2 -1.3 2 -.4 2 1.1 2 .2 2 -.6 2 .2 2 -.3 2 -.7 2 .9 2 .9 2 -1.0 2 -.6 2 .5 2 .0 2 .0 2 .7 2 -.6 2 -1.2 2 .6 2 .9 2 -.7 2 -.3 2 .0 2 -.9 2 -.2 2 1.2 2 -.2 2 -1.2 2 -.1 2 -.1 2 -.6 2 .6 2 .8 2 -1.0 2 -.7 2 .3 2 -.3 2 -.2 2 1.2 2 .3 2 -1.1 2 .0 2 .4 2 -.5 2 .6 2 1.3 2 -.3 2 -.8 2 .5 2 .1 2 -.1 2 1.2 2 .6 2 -1.1 2 -.3 2 .8 2 .0 2 .3 2 .7 2 -.8 2 -1.0 2 .9 2 .8 2 -.7 2 -.3 2 .0 2 -.8 2 .2 2 1.1 2 -.7 2 -1.4 2 .4 2 .3 2 -.4 2 .4 2 -.1 2 -1.3 2 -.2 2 1.2 2 -.1 2 -.5 2 .3 2 -.5 2 -.8 2 .9 2 .9 2 -.5 2 -.1M12 377.7l2 .2 2 -1.2 2 -.4 2 .2 2 -.5 2 .1 2 .7 2 -1.0 2 -1.1 2 .3 2 .1 2 -.5 2 .5 2 .1 2 -1.3 2 -.4 2 .6 2 -.3 2 .0 2 .7 2 -.5 2 -1.1 2 .3 2 .4 2 -.3 2 .5 2 .5 2 -1.1 2 -.6 2 .7 2 .1 2 -.3 2 .6 2 -.4 2 -1.3 2 .3 2 .8 2 -.5 2 -.4 2 .0 2 -.9 2 -.3 2 .9 2 -.1 2 -1.4 2 -.2 2 .3 2 -.4 2 .2 2 .2 2 -1.2 2 -.6 2 1.0 2 .2 2 -.6 2 .1 2 -.2 2 -.7 2 .7 2 1.1 2 -.5 2 -.5 2 .5 2 -.2 2 .0 2 1.2 2 .5 2 -.8 2 .1 2 .4 2 -.3 2 .5 2 1.2 2 -.3 2 -.6 2 .4 2 -.1 2 -.4 2 1.0 2 .6 2 -.9 2 -.4 2 .4 2 -.5 2 .1 2 1.0 2 -.4 2 -1.1 2 .2 2 .4 2 -.3 2 .4 2 .2 2 -1.1 2 -.3 2 1.2 2 .1 2 -.5 2 .2 2 -.2 2 -.3 2 1.0 2 .7 2 -1.0 2 -.3 2 .8 2 .2 2 .1 2 .7 2 -.4 2 -.9 2 .7 2 .9 2 -.4 2 .0 2 .3 2 -.9 2 -.3 2 1.1 2 .1 2 -.7 2 .2 2 -.3 2 -1.1 2 .4 2 .8 2 -.5 2 -.4 2 .1 2 -.8 2 -.7 2 .9 2 .4 2 -.7 2 .0 2 .0 2 -.9 2 .3 2 1.2 2 -.2 2 -.6 2 .3 2 -.1 2 -.1 2 1.1 2 .6 2 -1.0 2 .0 2 .9 2 .2 2 .2 2 .7 2 -.5 2 -.5 2 1.2 2 .8 2 -.6 2 -.1 2 .3 2 -.3 2 .4 2 1.1 2 -.6 2 -.9 2 .5 2 .3 2 -.2 2 .6 2 .2 2 -1.1 2 -.3 2 .9 2 .0 2 .0 2 .7 2 -.4 2 -1.0 2 .6 2 .7 2 -.2 2 .5 2 .6 2 -.8 2 -.4 2 1.0 2 .4 2 .0 2 .8 2 .0 2 -1.0 2 .4 2 1.1 2 -.1 2 .1 2 .4 2 -.7 2 -.4 2 1.1 2 .4 2 -.8 2 -.2 2 .1 2 -.6 2 .4 2 .6 2 -1.1 2 -1.0 2 .6 2 .1 2 -.6 2 .1 2 -.4 2 -1.2 2 .2 2 .9 2 -.7 2 -.8 2 .1 2 -.4 2 -.4 2 .9 2 .2 2 -1.2 2 -.2 2 .4 2 -.4 2 .3 2 .9 2 -.6 2 -.8 2 .3 2 .1 2 -.4 2 .8 2 .6 2 -1.1 2 -.4 2 .4 2 -.4 2 .0 2 .9 2 -.3 2 -1.2 2 .0 2 .2 2 -.5 2 .4 2 .4 2 -1.2 2 -.8 2 .7 2 .1 2 -.5 2 .3 2 -.5 2 -1.0 2 .7 2 .9 2 -.8 2 -.5 2 .4 2 -.1 2 .1 2 .9 2 -.2 2 -1.1 2 .6 2 1.0 2 -.1 2 .1 2 .5 2 -.8 2 .0 2 1.3 2 .4 2 -.6 2 .3 2 .0 2 -.7 2 .6 2 1.0 2 -.4 2 -.5 2 .3 2 -.6 2 -.5 2 .9 2 .4 2 -.9 2 -.1 2 -.1 2 -.9 2 .0 2 1.0 2 -.3 2 -.8 2 .1 2 -.4 2 -.6 2 .9 2 .6 2 -1.0 2 -.5 2 .5 2 -.2 2 .1 2 .9 2 -.5 2 -1.0 2 .7M33 379.0l2 .5 2 -1.1 2 -.9 2 .5 2 .2 2 -.2 2 .3 2 -.4 2 -1.1 2 .3 2 1.0 2 -.3 2 -.2 2 .2 2 -.8 2 -.5 2 1.0 2 .4 2 -.5 2 .0 2 -.2 2 -1.0 2 .1 2 .9 2 -.2 2 -.5 2 .1 2 -.8 2 -.9 2 .5 2 .6 2 -.7 2 -.3 2 -.2 2 -1.0 2 -.2 2 1.0 2 -.2 2 -1.0 2 -.1 2 -.2 2 -.4 2 .8 2 .4 2 -1.1 2 -.5 2 .8 2 .3 2 -.1 2 .4 2 -.4 2 -.6 2 1.1 2 1.0 2 -.5 2 -.3 2 .4 2 -.1 2 .4 2 1.1 2 -.2 2 -.9 2 .3 2 .6 2 .0 2 .5 2 .4 2 -1.0 2 -.5 2 .8 2 .1 2 -.1 2 .6 2 -.3 2 -1.2 2 .1 2 .6 2 -.2 2 .2 2 .5 2 -.8 2 -.9 2 .6 2 .4 2 -.2 2 .6 2 .1 2 -1.1 2 .0 2 1.1 2 .1 2 .0 2 .3 2 -.5 2 -.4 2 1.1 2 .8 2 -.7 2 -.2 2 .3 2 -.1 2 .4 2 .8 2 -.7 2 -.9 2 .6 2 .6 2 -.3 2 -.1 2 -.2 2 -.9 2 .1 2 1.0 2 -.3 2 -1.0 2 .0 2 -.3 2 -.4 2 .7 2 .4 2 -1.1 2 -.5 2 .3 2 -.4 2 .2 2 1.0 2 -.2 2 -.9 2 .1 2 .2 2 -.2 2 .8 2 .9 2 -.5 2 -.5 2 .5 2 .1 2 .1 2 1.3 2 .3 2 -.9 2 .0 2 .7 2 .0 2 .6 2 .7 2 -.8 2 -.7 2 .9 2 .6 2 -.2 2 .1 2 -.2 2 -.7 2 .6 2 1.1 2 -.6 2 -.8 2 .3 2 .1 2 .0 2 .8 2 -.2 2 -1.1 2 .3 2 1.0 2 .0 2 .0 2 .3 2 -.5 2 -.3 2 1.2 2 .7 2 -.4 2 .2 2 .1 2 -.5 2 .5 2 1.3 2 .0 2 -.4 2 .3 2 -.3 2 -.5 2 .9 2 .8 2 -.5 2 -.2 2 .1 2 -.8 2 -.2 2 1.0 2 .0 2 -.9 2 -.1 2 -.4 2 -.7 2 .5 2 .6 2 -1.0 2 -1.0 2 .2 2 -.2 2 -.1 2 .5 2 -.6 2 -1.3 2 .3 2 .8 2 -.4 2 -.3 2 -.1 2 -.6 2 .0 2 1.2 2 -.1 2 -1.2 2 .1 2 .4 2 -.1 2 .5 2 .3 2 -1.0 2 -.6 2 .8 2 .2 2 -.2 2 .3 2 -.3 2 -1.2 2 .1 2 .7 2 -.3 2 -.1 2 .2 2 -1.0 2 -.9 2 .5 2 .4 2 -.5 2 .3 2 -.2 2 -1.2 2 -.2 2 .8 2 .0 2 -.2 2 .4 2 -.6 2 -.8 2 .8 2 .9 2 -.4 2 -.1 2 .2 2 -.5 2 .4 2 1.4 2 -.2 2 -.9 2 .4 2 .6 2 .1 2 .6 2 .1 2 -1.0 2 .1 2 1.2 2 .1 2 -.6 2 .1 2 -.3 2 -.4 2 .9 2 .5 2 -1.1 2 -.6 2 .3 2 -.3 2 .0 2 .8 2 -.5 2 -1.2 2 .0 2 .3 2 -.4 2 .5 2 .5 2 -.9 2 -.8 2 .5 2 -.1 2 .0 2 .9 2 .1 2 -1.1 2 -.1 2 .5 2 -.1 2 .5M35 382.3l2 .3 2 -.7 2 -1.1 2 1.1 2 1.0 2 -.9 2 -.4 2 .3 2 -1.0 2 -.3 2 1.6 2 .2 2 -1.0 2 .3 2 -.2 2 -1.3 2 .7 2 1.4 2 -.7 2 -.7 2 .3 2 -.9 2 -.7 2 1.5 2 .3 2 -1.6 2 -.4 2 .2 2 -.8 2 .4 2 .9 2 -1.5 2 -1.4 2 .9 2 .4 2 -.7 2 .1 2 -.3 2 -1.4 2 .6 2 1.5 2 -.9 2 -1.1 2 .5 2 .0 2 -.1 2 1.3 2 .1 2 -1.6 2 .1 2 1.4 2 -.1 2 .3 2 .9 2 -.9 2 -1.0 2 1.3 2 .9 2 -.4 2 .7 2 .3 2 -1.4 2 -.2 2 1.5 2 .0 2 -.2 2 .8 2 -.6 2 -1.5 2 .7 2 1.0 2 -.6 2 .3 2 .4 2 -1.5 2 -.6 2 1.4 2 .3 2 -.7 2 .3 2 -.3 2 -1.1 2 1.0 2 1.4 2 -1.0 2 -.8 2 .7 2 .0 2 .1 2 1.3 2 -.4 2 -1.5 2 .8 2 1.5 2 -.4 2 -.2 2 .4 2 -.8 2 -.1 2 1.8 2 .1 2 -1.4 2 .1 2 .3 2 -.6 2 .7 2 1.0 2 -1.3 2 -1.1 2 .6 2 -.1 2 -.4 2 1.1 2 .0 2 -1.8 2 -.3 2 .6 2 -.6 2 .2 2 1.2 2 -.8 2 -1.4 2 .5 2 .2 2 -.4 2 1.1 2 .7 2 -1.5 2 -.5 2 1.2 2 .1 2 .1 2 1.2 2 -.6 2 -1.2 2 1.1 2 1.4 2 -.5 2 .1 2 .3 2 -.8 2 .4 2 1.8 2 -.2 2 -1.4 2 .5 2 .7 2 -.3 2 .7 2 .4 2 -1.6 2 -.2 2 1.6 2 .1 2 -.7 2 .3 2 -.4 2 -1.0 2 1.2 2 1.2 2 -.9 2 -.5 2 .5 2 -.7 2 .0 2 1.8 2 .3 2 -1.1 2 .4 2 .2 2 -.8 2 1.0 2 1.6 2 -.5 2 -.5 2 .6 2 -.4 2 -.4 2 1.7 2 .8 2 -1.1 2 -.1 2 .4 2 -.7 2 .5 2 1.5 2 -.9 2 -1.4 2 .5 2 .3 2 -.4 2 .6 2 -.2 2 -1.8 2 -.1 2 1.4 2 -.4 2 -1.1 2 .1 2 -.7 2 -.6 2 1.2 2 .3 2 -1.9 2 -.4 2 .8 2 -.3 2 .0 2 .8 2 -1.1 2 -1.3 2 1.1 2 .8 2 -.6 2 .3 2 .1 2 -1.4 2 -.1 2 1.5 2 .0 2 -.6 2 .6 2 -.6 2 -1.4 2 .8 2 1.0 2 -.6 2 -.1 2 .3 2 -1.4 2 -.8 2 1.3 2 .2 2 -.8 2 .2 2 -.4 2 -1.6 2 .5 2 1.4 2 -.8 2 -.9 2 .3 2 -.6 2 -.3 2 1.5 2 .0 2 -1.7 2 .0 2 1.1 2 -.1 2 .2 2 .6 2 -1.1 2 -.5 2 1.8 2 .7 2 -1.0 2 .1 2 .4 2 -.5 2 .9 2 1.4 2 -1.0 2 -1.0 2 .9 2 .2 2 -.2 2 1.1 2 .1 2 -1.7 2 -.1 2 .9 2 -.4 2 .2 2 .9 2 -1.0 2 -1.5 2 .6 2 .3 2 -.6 2 .8 2 .4 2 -1.7 2 -.6 2 .9 2 -.2 2 -.1 2 1.0 2 -.5 2 -1.6 2 .5 2 1.1 2 -.4 2 .3 2 .3 2 -1.2 2 -.3 2 1.8 2 .3M41 384.9l2 -.7 2 1.5 2 .5 2 -1.0 2 -.2 2 .0 2 -.7 2 .8 2 1.2 2 -.9 2 -1.2 2 .5 2 -.1 2 -.2 2 1.1 2 .2 2 -1.7 2 -.4 2 .5 2 -.5 2 .2 2 1.0 2 -.9 2 -1.5 2 .1 2 .0 2 -.7 2 .9 2 .5 2 -1.6 2 -1.0 2 .5 2 -.3 2 -.1 2 1.1 2 -.6 2 -1.7 2 .3 2 .9 2 -.2 2 .3 2 .3 2 -1.3 2 -.3 2 1.8 2 .5 2 -1.0 2 .2 2 .1 2 -.2 2 1.2 2 1.0 2 -1.4 2 -.6 2 1.3 2 .5 2 -.2 2 .7 2 -.6 2 -1.2 2 1.0 2 1.4 2 -.6 2 -.5 2 .2 2 -.9 2 -.2 2 1.5 2 .3 2 -1.2 2 .0 2 -.1 2 -1.0 2 .7 2 1.4 2 -.6 2 -.8 2 .4 2 -.6 2 -.6 2 1.5 2 .9 2 -.9 2 -.2 2 .3 2 -.8 2 .5 2 1.8 2 -.2 2 -1.1 2 .3 2 .2 2 -.2 2 1.3 2 .6 2 -1.6 2 -.5 2 1.3 2 .2 2 -.3 2 .4 2 -.9 2 -1.0 2 1.3 2 .9 2 -1.3 2 -.8 2 .3 2 -.4 2 .2 2 1.0 2 -1.0 2 -1.6 2 .5 2 .7 2 -.4 2 .3 2 .1 2 -1.5 2 -.3 2 1.4 2 .2 2 -.3 2 .6 2 -.5 2 -1.2 2 .9 2 1.3 2 -.2 2 .3 2 .6 2 -1.1 2 -.5 2 1.5 2 .7 2 -.2 2 .6 2 -.1 2 -1.3 2 .5 2 1.6 2 -.1 2 -.3 2 .3 2 -.8 2 -.5 2 1.5 2 .8 2 -1.3 2 -.4 2 .4 2 -.3 2 .6 2 1.0 2 -1.2 2 -1.2 2 1.2 2 .9 2 -.5 2 .2 2 -.1 2 -.9 2 .8 2 1.7 2 -.5 2 -.9 2 .6 2 .2 2 .0 2 1.5 2 .4 2 -1.4 2 .0 2 1.0 2 .0 2 .4 2 1.2 2 -.7 2 -1.3 2 .6 2 .6 2 -.3 2 .8 2 .5 2 -1.5 2 -.8 2 .7 2 -.2 2 -.2 2 1.0 2 -.5 2 -1.9 2 .0 2 .6 2 -.4 2 .2 2 .4 2 -1.6 2 -1.0 2 1.1 2 .5 2 -.8 2 .0 2 -.4 2 -1.1 2 .9 2 1.3 2 -1.1 2 -1.1 2 .6 2 .1 2 .1 2 .9 2 -.5 2 -1.6 2 .6 2 1.3 2 -.4 2 -.4 2 .1 2 -1.0 2 -.3 2 1.5 2 .2 2 -1.3 2 -.3 2 .0 2 -.9 2 .5 2 1.2 2 -.9 2 -1.2 2 .2 2 -.6 2 -.5 2 1.2 2 .5 2 -1.3 2 -.5 2 .2 2 -.8 2 .3 2 1.5 2 -.2 2 -1.2 2 .3 2 .0 2 -.4 2 1.3 2 1.0 2 -1.2 2 -.6 2 .9 2 .3 2 .2 2 1.1 2 -.6 2 -1.3 2 1.0 2 1.4 2 -.5 2 -.3 2 .2 2 -.8 2 .3 2 1.6 2 -.5 2 -1.6 2 .2 2 .6 2 -.3 2 .5 2 .1 2 -1.6 2 -.6 2 1.3 2 .2 2 -.7 2 .3 2 -.6 2 -1.3 2 .7 2 1.2 2 -.5 2 -.3 2 .3 2 -1.1 2 -.5 2 1.5 2 .6 2 -.7 2 .4 2 -.2 2 -1.2 2 .4 2 1.5M13 391.5l2 .0 2 -.3 2 -1.0 2 .3 2 .8 2 -.7 2 -.7 2 .0 2 -.3 2 -.2 2 .7 2 -.1 2 -1.2 2 -.1 2 .8 2 -.2 2 -.1 2 .2 2 -.7 2 -.4 2 1.0 2 .3 2 -.9 2 -.1 2 .2 2 -.4 2 .4 2 .6 2 -.8 2 -.9 2 .4 2 .1 2 -.4 2 .4 2 -.2 2 -1.2 2 -.4 2 .5 2 -.4 2 -.2 2 .4 2 -.8 2 -1.1 2 .2 2 .2 2 -.5 2 .3 2 .2 2 -1.1 2 -.5 2 .6 2 .1 2 -.2 2 .6 2 -.3 2 -.9 2 .5 2 .9 2 -.2 2 .1 2 .3 2 -.5 2 .0 2 1.3 2 .3 2 -.8 2 .2 2 .4 2 -.1 2 .6 2 .6 2 -.9 2 -.4 2 1.0 2 .2 2 -.4 2 .2 2 -.2 2 -.7 2 .6 2 .8 2 -.7 2 -.5 2 .2 2 -.4 2 -.1 2 .9 2 .1 2 -1.0 2 .0 2 .3 2 -.4 2 .5 2 .9 2 -.5 2 -.6 2 .5 2 .0 2 -.2 2 1.0 2 .6 2 -.8 2 -.1 2 .5 2 -.2 2 .3 2 1.0 2 -.2 2 -.9 2 .4 2 .3 2 -.2 2 .5 2 .2 2 -1.1 2 -.3 2 .8 2 .0 2 -.5 2 .0 2 -.5 2 -.6 2 .7 2 .4 2 -1.1 2 -.5 2 .3 2 -.2 2 .0 2 .5 2 -.6 2 -1.0 2 .6 2 .7 2 -.4 2 .1 2 .2 2 -.7 2 .1 2 1.2 2 .2 2 -.4 2 .4 2 .0 2 -.5 2 .8 2 1.0 2 -.3 2 -.1 2 .5 2 -.5 2 -.1 2 1.0 2 .5 2 -.5 2 .2 2 .0 2 -.7 2 .4 2 1.0 2 -.2 2 -.6 2 .3 2 -.3 2 -.3 2 .9 2 .4 2 -1.0 2 -.2 2 .6 2 -.1 2 .3 2 .6 2 -.6 2 -.6 2 1.0 2 .7 2 -.3 2 .1 2 .3 2 -.4 2 .7 2 1.1 2 -.3 2 -.6 2 .6 2 .4 2 .0 2 .7 2 .3 2 -.9 2 .0 2 .8 2 .0 2 -.1 2 .5 2 -.6 2 -.9 2 .5 2 .4 2 -.4 2 .0 2 .1 2 -1.1 2 -.6 2 .6 2 -.1 2 -.4 2 .3 2 -.5 2 -1.2 2 .1 2 .6 2 -.4 2 -.1 2 .2 2 -.9 2 -.5 2 .9 2 .3 2 -.7 2 .0 2 .0 2 -.6 2 .6 2 .8 2 -.8 2 -.7 2 .5 2 .3 2 -.3 2 .4 2 -.3 2 -1.0 2 .4 2 .8 2 -.5 2 -.6 2 .0 2 -.5 2 -.3 2 .8 2 -.1 2 -1.2 2 -.2 2 .2 2 -.5 2 .1 2 .6 2 -.8 2 -.9 2 .3 2 .0 2 -.3 2 .7 2 .3 2 -.9 2 -.2 2 .5 2 -.2 2 .3 2 .9 2 -.1 2 -.8 2 .4 2 .4 2 -.1 2 .8 2 .6 2 -.8 2 -.3 2 .8 2 .3 2 -.1 2 .5 2 -.3 2 -.8 2 .6 2 .9 2 -.6 2 -.5 2 .2 2 -.4 2 .0 2 .8 2 -.5 2 -1.2 2 .2 2 .5 2 -.3 2 .0 2 .0 2 -.9 2 -.3 2 1.0 2 .0 2 -.6 2 .1 2 -.1 2 -.6 2 .6 2 .8 2 -.5 2 -.3 2 .3 2 -.3 2 -.2 2 1.0 2 .4 2 -.7M4 396.2l2 -1.3 2 .2 2 1.4 2 -.6 2 -1.0 2 .2 2 -.6 2 -.9 2 1.1 2 .7 2 -1.3 2 -.5 2 .3 2 -1.0 2 -.1 2 1.4 2 -.1 2 -1.1 2 .2 2 -.2 2 -.9 2 .8 2 1.3 2 -.9 2 -.7 2 .4 2 -.6 2 -.2 2 1.4 2 .1 2 -1.5 2 -.1 2 .5 2 -.5 2 .3 2 .6 2 -1.5 2 -1.1 2 1.2 2 .3 2 -1.0 2 -.1 2 -.4 2 -1.2 2 .6 2 1.1 2 -1.4 2 -1.2 2 .5 2 .0 2 -.4 2 .8 2 -.4 2 -1.6 2 .2 2 1.2 2 -.3 2 -.1 2 .6 2 -1.0 2 -.7 2 1.4 2 .7 2 -.5 2 .5 2 .2 2 -1.2 2 .2 2 1.6 2 .0 2 -.2 2 .8 2 -.6 2 -1.1 2 1.1 2 1.0 2 -.5 2 .1 2 .4 2 -1.3 2 -.3 2 1.6 2 .1 2 -.9 2 .1 2 -.2 2 -.9 2 1.0 2 1.1 2 -1.4 2 -.8 2 .8 2 .0 2 .0 2 .9 2 -.6 2 -1.3 2 1.0 2 1.3 2 -.7 2 -.3 2 .5 2 -.6 2 .3 2 1.6 2 -.1 2 -1.3 2 .4 2 .7 2 -.4 2 .9 2 .8 2 -1.2 2 -.8 2 1.0 2 .1 2 -.3 2 1.0 2 -.1 2 -1.7 2 .0 2 .8 2 -.6 2 .2 2 .9 2 -1.2 2 -1.3 2 .6 2 .2 2 -.6 2 .8 2 .2 2 -1.7 2 -.4 2 1.1 2 -.1 2 -.1 2 .7 2 -.8 2 -1.1 2 1.2 2 1.1 2 -.7 2 -.1 2 .4 2 -.6 2 .6 2 1.6 2 -.5 2 -1.3 2 .9 2 .9 2 -.3 2 .7 2 .2 2 -1.3 2 .2 2 1.7 2 .0 2 -.9 2 .4 2 -.3 2 -.6 2 1.2 2 .9 2 -1.2 2 -.4 2 .5 2 -.6 2 .0 2 1.6 2 -.2 2 -1.2 2 .3 2 .2 2 -.7 2 1.0 2 1.3 2 -.8 2 -.6 2 .7 2 -.2 2 -.1 2 1.6 2 .6 2 -1.2 2 .1 2 .7 2 -.3 2 .8 2 1.4 2 -.9 2 -1.1 2 1.1 2 .6 2 -.3 2 .6 2 -.1 2 -1.4 2 .5 2 1.5 2 -.6 2 -1.1 2 .3 2 -.4 2 -.4 2 1.1 2 -.1 2 -1.9 2 -.2 2 1.0 2 -.5 2 -.2 2 .4 2 -1.3 2 -1.0 2 1.1 2 .6 2 -.9 2 .0 2 .0 2 -1.3 2 .1 2 1.5 2 -.3 2 -.6 2 .4 2 -.5 2 -1.1 2 1.0 2 1.1 2 -.8 2 .0 2 .3 2 -1.3 2 -.3 2 1.4 2 .2 2 -1.0 2 .2 2 -.4 2 -1.2 2 .7 2 1.2 2 -1.1 2 -1.0 2 .3 2 -.5 2 -.3 2 1.1 2 -.4 2 -1.8 2 .1 2 1.0 2 -.5 2 -.1 2 .2 2 -1.1 2 -.3 2 1.6 2 .2 2 -1.3 2 .1 2 .5 2 -.4 2 .9 2 1.0 2 -1.1 2 -.8 2 1.2 2 .4 2 -.1 2 1.0 2 .0 2 -1.4 2 .3 2 1.3 2 -.3 2 .2 2 .9 2 -1.0 2 -1.1 2 .9 2 .5 2 -.6 2 .7 2 .2 2 -1.7 2 -.4 2 1.1 2 -.2 2 -.3 2 .7 2 -.8 2 -1.5 2 .8 2 .9 2 -.6 2 -.1 2 .2 2 -1.2 2 .0 2 1.7 2 -.2 2 -1.2 2 .2 2 .4 2 -.3 2 .9 2 .5 2 -1.5 2 -.3 2 1.5 2 .2M17 399.0l2 .1 2 -.6 2 -.1 2 -1.0 2 -.9 2 1.1 2 1.0 2 -.8 2 -.6 2 -.3 2 -.6 2 .6 2 1.4 2 -.6 2 -1.5 2 .1 2 .7 2 .2 2 .4 2 -.3 2 -1.4 2 -.1 2 1.6 2 .1 2 -1.0 2 -.4 2 -.4 2 -.3 2 1.1 2 .4 2 -1.6 2 -1.0 2 .4 2 -.1 2 .1 2 .6 2 -1.0 2 -1.7 2 .1 2 .5 2 -.2 2 .4 2 .1 2 -1.5 2 -.9 2 .6 2 .3 2 .1 2 .8 2 -.3 2 -1.5 2 -.1 2 .9 2 .3 2 .6 2 .6 2 -1.0 2 -1.0 2 1.0 2 1.0 2 .1 2 .4 2 -.2 2 -1.2 2 .5 2 1.7 2 .0 2 -.8 2 -.1 2 -.3 2 .2 2 1.3 2 .2 2 -1.7 2 -.4 2 1.0 2 .3 2 .0 2 .0 2 -1.2 2 -.6 2 1.4 2 .8 2 -.9 2 -.5 2 -.1 2 -.5 2 .8 2 1.4 2 -.4 2 -1.1 2 .1 2 .0 2 .1 2 1.4 2 .8 2 -1.1 2 -.5 2 .4 2 -.2 2 .6 2 1.5 2 -.1 2 -1.1 2 -.1 2 .1 2 -.2 2 1.0 2 1.0 2 -1.0 2 -1.1 2 .1 2 .0 2 .2 2 1.0 2 -.4 2 -1.8 2 -.2 2 .9 2 .0 2 .0 2 -.3 2 -1.3 2 -.4 2 1.5 2 .4 2 -1.2 2 -.6 2 .1 2 .0 2 .9 2 .7 2 -1.3 2 -.9 2 1.1 2 .9 2 .0 2 .3 2 -.4 2 -1.0 2 .8 2 1.6 2 .0 2 -.3 2 .1 2 -.7 2 -.2 2 1.5 2 .9 2 -.5 2 -.2 2 -.2 2 -.9 2 .4 2 1.5 2 .1 2 -.5 2 .0 2 -.8 2 -.7 2 1.1 2 1.2 2 -.6 2 -.4 2 -.1 2 -.8 2 .4 2 1.6 2 .2 2 -1.2 2 -.1 2 .3 2 .2 2 1.2 2 .7 2 -1.4 2 -.5 2 1.5 2 .8 2 .0 2 .2 2 -.6 2 -.4 2 1.5 2 1.3 2 -.9 2 -.8 2 .4 2 .1 2 .6 2 1.0 2 -.7 2 -1.5 2 .2 2 .8 2 .0 2 .3 2 .0 2 -1.6 2 -.9 2 .9 2 .4 2 -.3 2 .3 2 -.7 2 -1.6 2 -.1 2 .9 2 .0 2 .1 2 .2 2 -1.2 2 -1.2 2 .8 2 .7 2 -.1 2 .3 2 -.2 2 -1.5 2 .0 2 1.4 2 .3 2 -.5 2 -.1 2 -.8 2 -.5 2 1.4 2 .8 2 -1.3 2 -.8 2 .2 2 .1 2 .4 2 .5 2 -1.3 2 -1.4 2 .8 2 1.0 2 -.6 2 -.6 2 -.5 2 -1.0 2 .4 2 1.3 2 -.5 2 -1.4 2 -.2 2 -.1 2 -.1 2 1.1 2 .4 2 -1.3 2 -.8 2 .5 2 .1 2 .5 2 1.2 2 -.3 2 -1.2 2 .0 2 .5 2 .1 2 1.1 2 1.0 2 -.9 2 -.9 2 .5 2 .2 2 .3 2 1.3 2 .0 2 -1.5 2 -.2 2 .7 2 .2 2 .5 2 .3 2 -1.3 2 -1.1 2 1.1 2 .9 2 -.6 2 -.4 2 -.6 2 -.7 2 .8 2 1.2 2 -1.0 2 -1.4 2 .3 2 .4 2 .2 2 .6 2 -.6 2 -1.4 2 .3 2 1.5 2 .1 2 -.5 2 .0 2 -.8 2 -.2 2 1.5 2 .8 2 -.8 2 -.3 2 -.1 2 -.7M42 402.0l2 -.4 2 -.8 2 -.1 2 -.3 2 .3 2 1.2 2 -.3 2 -1.5 2 -.1 2 .9 2 .1 2 -.1 2 -.2 2 -1.2 2 -.4 2 1.3 2 .2 2 -1.2 2 -.6 2 -.3 2 -.6 2 .7 2 .7 2 -1.2 2 -1.2 2 .0 2 -.3 2 .0 2 .9 2 -.1 2 -1.5 2 -.5 2 .3 2 -.3 2 .6 2 1.0 2 -.6 2 -1.1 2 .1 2 .2 2 .0 2 1.2 2 .6 2 -1.0 2 -.6 2 .6 2 .3 2 .5 2 1.1 2 -.6 2 -1.2 2 .5 2 1.0 2 .2 2 .1 2 -.1 2 -1.1 2 .1 2 1.5 2 .1 2 -1.1 2 -.3 2 .1 2 .0 2 .9 2 .2 2 -1.5 2 -.6 2 1.1 2 .4 2 -.2 2 .1 2 -.7 2 -.8 2 1.0 2 1.2 2 -.4 2 -.4 2 .1 2 -.7 2 .2 2 1.6 2 .5 2 -.7 2 .0 2 -.1 2 -.6 2 .9 2 1.4 2 -.2 2 -.6 2 .1 2 -.6 2 -.3 2 1.3 2 .7 2 -.8 2 -.4 2 -.3 2 -.7 2 .4 2 1.3 2 -.6 2 -1.3 2 -.2 2 .0 2 .0 2 .8 2 -.1 2 -1.7 2 -.4 2 1.0 2 .3 2 -.3 2 -.1 2 -.9 2 -.3 2 1.4 2 .7 2 -1.1 2 -.5 2 .4 2 .2 2 .7 2 .9 2 -.8 2 -1.0 2 .8 2 1.0 2 .2 2 .5 2 .0 2 -1.2 2 .0 2 1.3 2 .4 2 .0 2 .3 2 -.6 2 -1.1 2 .7 2 1.0 2 -.1 2 .2 2 .1 2 -1.2 2 -.6 2 1.1 2 .6 2 -.2 2 .3 2 -.4 2 -1.2 2 .5 2 1.4 2 .1 2 -.3 2 .0 2 -.5 2 .0 2 1.7 2 .6 2 -1.0 2 -.2 2 .6 2 .3 2 .9 2 .7 2 -1.0 2 -.7 2 1.4 2 1.0 2 -.4 2 -.1 2 -.2 2 -.6 2 .9 2 1.3 2 -.7 2 -1.2 2 .1 2 .0 2 .1 2 .9 2 -.1 2 -1.6 2 -.5 2 .4 2 -.1 2 .2 2 .6 2 -1.0 2 -1.3 2 .1 2 .2 2 -.1 2 .7 2 .2 2 -1.4 2 -.7 2 .4 2 .1 2 .3 2 .9 2 -.5 2 -1.4 2 .1 2 .7 2 .1 2 .4 2 .1 2 -1.3 2 -.6 2 1.3 2 .5 2 -.6 2 -.3 2 -.6 2 -.6 2 1.0 2 .8 2 -1.3 2 -1.2 2 .4 2 .2 2 .0 2 .2 2 -.9 2 -1.4 2 .4 2 1.1 2 -.4 2 -.6 2 -.3 2 -.9 2 .0 2 1.3 2 .3 2 -1.0 2 -.3 2 -.1 2 -.4 2 .9 2 1.3 2 -.4 2 -.8 2 .2 2 -.2 2 .1 2 1.4 2 .7 2 -.7 2 -.3 2 .1 2 -.4 2 .6 2 1.4 2 -.2 2 -1.0 2 -.1 2 .0 2 -.1 2 1.1 2 .4 2 -1.4 2 -.8 2 .6 2 .2 2 .2 2 .3 2 -1.1 2 -1.2 2 .9 2 1.0 2 -.6 2 -.7 2 -.2 2 -.4 2 .6 2 1.1 2 -.6 2 -1.4 2 .3 2 .8 2 .2 2 .4 2 .0 2 -1.3 2 -.1 2 1.3 2 .5 2 -.3 2 .2 2 -.6 2 -.9" fill="none"/><g opacity="0.13"><use href="#st1" xlink:href="#st1" stroke="#000" stroke-width="1.1" stroke-dasharray="9 6 14 5" transform="translate(0,62)"/><use href="#st1" xlink:href="#st1" stroke="#fff" stroke-width="1.0" stroke-dasharray="9 6 14 5" transform="translate(0,63.6)"/><use href="#st1" xlink:href="#st1" stroke="#000" stroke-width="1.1" stroke-dasharray="9 6 14 5" transform="translate(0,118)"/><use href="#st1" xlink:href="#st1" stroke="#fff" stroke-width="1.0" stroke-dasharray="9 6 14 5" transform="translate(0,119.6)"/></g><g clip-path="url(#zone1)" mask="url(#mk1)"><use href="#st1" xlink:href="#st1" stroke="#fafafa" stroke-opacity="0.85" stroke-width="1.15" stroke-dasharray="41 3 29 2 33 3" transform="translate(0,1.8)"/><use href="#st1" xlink:href="#st1" stroke="#000" stroke-opacity="0.92" stroke-width="1.6" stroke-dasharray="37 2 27 3 45 2"/></g><g style="mix-blend-mode:overlay"><path d="M55.06 318.17h13.06v6.67h-13.06zM87.70 318.17h6.53v6.67h-6.53zM107.29 318.17h6.53v6.67h-6.53zM126.88 318.17h6.53v6.67h-6.53zM139.93 318.17h13.06v6.67h-13.06zM198.69 318.17h19.59v6.67h-19.59zM322.74 318.17h26.12v6.67h-26.12zM394.56 318.17h6.53v6.67h-6.53zM407.62 318.17h6.53v6.67h-6.53zM453.32 318.17h6.53v6.67h-6.53zM472.91 318.17h13.06v6.67h-13.06zM499.02 318.17h6.53v6.67h-6.53zM544.72 318.17h6.53v6.67h-6.53zM570.84 318.17h13.06v6.67h-13.06zM610.01 318.17h19.59v6.67h-19.59zM87.70 324.84h6.53v6.67h-6.53zM100.76 324.84h13.06v6.67h-13.06zM133.40 324.84h6.53v6.67h-6.53zM205.22 324.84h13.06v6.67h-13.06zM231.34 324.84h6.53v6.67h-6.53zM257.45 324.84h13.06v6.67h-13.06zM309.68 324.84h26.12v6.67h-26.12zM355.39 324.84h13.06v6.67h-13.06zM407.62 324.84h6.53v6.67h-6.53zM446.79 324.84h13.06v6.67h-13.06zM466.38 324.84h19.59v6.67h-19.59zM499.02 324.84h6.53v6.67h-6.53zM538.20 324.84h13.06v6.67h-13.06zM564.31 324.84h19.59v6.67h-19.59zM596.96 324.84h19.59v6.67h-19.59zM61.59 331.50h6.53v6.67h-6.53zM87.70 331.50h6.53v6.67h-6.53zM100.76 331.50h13.06v6.67h-13.06zM126.88 331.50h13.06v6.67h-13.06zM166.05 331.50h13.06v6.67h-13.06zM192.16 331.50h6.53v6.67h-6.53zM205.22 331.50h13.06v6.67h-13.06zM224.81 331.50h6.53v6.67h-6.53zM250.92 331.50h6.53v6.67h-6.53zM263.98 331.50h6.53v6.67h-6.53zM303.16 331.50h6.53v6.67h-6.53zM322.74 331.50h6.53v6.67h-6.53zM342.33 331.50h6.53v6.67h-6.53zM355.39 331.50h6.53v6.67h-6.53zM407.62 331.50h6.53v6.67h-6.53zM433.73 331.50h13.06v6.67h-13.06zM453.32 331.50h6.53v6.67h-6.53zM472.91 331.50h6.53v6.67h-6.53zM485.96 331.50h13.06v6.67h-13.06zM531.67 331.50h13.06v6.67h-13.06zM610.01 331.50h6.53v6.67h-6.53zM55.06 338.17h6.53v6.67h-6.53zM68.12 338.17h6.53v6.67h-6.53zM87.70 338.17h13.06v6.67h-13.06zM107.29 338.17h6.53v6.67h-6.53zM139.93 338.17h13.06v6.67h-13.06zM237.87 338.17h6.53v6.67h-6.53zM263.98 338.17h6.53v6.67h-6.53zM316.21 338.17h6.53v6.67h-6.53zM342.33 338.17h6.53v6.67h-6.53zM401.09 338.17h13.06v6.67h-13.06zM427.20 338.17h6.53v6.67h-6.53zM446.79 338.17h19.59v6.67h-19.59zM525.14 338.17h13.06v6.67h-13.06zM551.25 338.17h19.59v6.67h-19.59zM596.96 338.17h13.06v6.67h-13.06zM55.06 344.84h26.12v6.67h-26.12zM87.70 344.84h19.59v6.67h-19.59zM231.34 344.84h6.53v6.67h-6.53zM316.21 344.84h13.06v6.67h-13.06zM427.20 344.84h39.17v6.67h-39.17zM499.02 344.84h6.53v6.67h-6.53zM525.14 344.84h19.59v6.67h-19.59zM564.31 344.84h13.06v6.67h-13.06zM590.43 344.84h6.53v6.67h-6.53zM492.49 351.51h6.53v6.67h-6.53zM525.14 351.51h6.53v6.67h-6.53zM551.25 358.18h13.06v6.67h-13.06zM42.00 364.84h13.06v6.67h-13.06zM107.29 364.84h6.53v6.67h-6.53zM368.44 364.84h6.53v6.67h-6.53zM388.03 364.84h13.06v6.67h-13.06zM564.31 364.84h6.53v6.67h-6.53zM42.00 371.51h13.06v6.67h-13.06zM107.29 371.51h6.53v6.67h-6.53zM394.56 371.51h6.53v6.67h-6.53zM283.57 378.18h6.53v6.67h-6.53zM355.39 378.18h6.53v6.67h-6.53zM466.38 378.18h13.06v6.67h-13.06zM159.52 384.85h13.06v6.67h-13.06zM211.75 384.85h13.06v6.67h-13.06zM283.57 384.85h13.06v6.67h-13.06zM466.38 384.85h13.06v6.67h-13.06zM577.37 384.85h6.53v6.67h-6.53zM42.00 391.52h6.53v6.67h-6.53zM61.59 391.52h6.53v6.67h-6.53zM185.64 391.52h13.06v6.67h-13.06zM257.45 391.52h19.59v6.67h-19.59zM283.57 391.52h13.06v6.67h-13.06zM472.91 391.52h6.53v6.67h-6.53zM512.08 391.52h13.06v6.67h-13.06zM583.90 391.52h6.53v6.67h-6.53zM185.64 398.18h13.06v6.67h-13.06zM237.87 398.18h6.53v6.67h-6.53zM335.80 398.18h13.06v6.67h-13.06zM531.67 398.18h13.06v6.67h-13.06zM623.07 398.18h6.53v6.67h-6.53zM139.93 404.85h13.06v6.67h-13.06zM231.34 404.85h13.06v6.67h-13.06zM492.49 404.85h6.53v6.67h-6.53zM512.08 404.85h6.53v6.67h-6.53zM531.67 404.85h13.06v6.67h-13.06zM590.43 404.85h6.53v6.67h-6.53zM623.07 404.85h6.53v6.67h-6.53zM139.93 411.52h13.06v6.67h-13.06zM231.34 411.52h13.06v6.67h-13.06zM512.08 411.52h6.53v6.67h-6.53zM531.67 411.52h13.06v6.67h-13.06zM590.43 411.52h6.53v6.67h-6.53zM610.01 411.52h19.59v6.67h-19.59zM139.93 418.19h6.53v6.67h-6.53zM270.51 418.19h6.53v6.67h-6.53zM531.67 418.19h19.59v6.67h-19.59zM590.43 418.19h32.64v6.67h-32.64zM401.09 424.86h13.06v6.67h-13.06z" fill="#b1f357"/><path d="M68.12 318.17h6.53v6.67h-6.53zM348.86 318.17h13.06v6.67h-13.06zM401.09 318.17h6.53v6.67h-6.53zM48.53 324.84h26.12v6.67h-26.12zM139.93 324.84h6.53v6.67h-6.53zM152.99 324.84h13.06v6.67h-13.06zM192.16 324.84h13.06v6.67h-13.06zM335.80 324.84h19.59v6.67h-19.59zM394.56 324.84h13.06v6.67h-13.06zM583.90 324.84h6.53v6.67h-6.53zM616.54 324.84h6.53v6.67h-6.53zM68.12 331.50h13.06v6.67h-13.06zM113.82 331.50h13.06v6.67h-13.06zM139.93 331.50h13.06v6.67h-13.06zM198.69 331.50h6.53v6.67h-6.53zM231.34 331.50h13.06v6.67h-13.06zM257.45 331.50h6.53v6.67h-6.53zM309.68 331.50h13.06v6.67h-13.06zM329.27 331.50h13.06v6.67h-13.06zM348.86 331.50h6.53v6.67h-6.53zM394.56 331.50h13.06v6.67h-13.06zM446.79 331.50h6.53v6.67h-6.53zM479.44 331.50h6.53v6.67h-6.53zM557.78 331.50h26.12v6.67h-26.12zM596.96 331.50h13.06v6.67h-13.06zM623.07 331.50h6.53v6.67h-6.53zM61.59 338.17h6.53v6.67h-6.53zM74.64 338.17h13.06v6.67h-13.06zM100.76 338.17h6.53v6.67h-6.53zM152.99 338.17h6.53v6.67h-6.53zM231.34 338.17h6.53v6.67h-6.53zM250.92 338.17h13.06v6.67h-13.06zM322.74 338.17h19.59v6.67h-19.59zM433.73 338.17h13.06v6.67h-13.06zM466.38 338.17h19.59v6.67h-19.59zM538.20 338.17h13.06v6.67h-13.06zM570.84 338.17h13.06v6.67h-13.06zM81.17 344.84h6.53v6.67h-6.53zM329.27 344.84h6.53v6.67h-6.53zM342.33 344.84h6.53v6.67h-6.53zM472.91 344.84h26.12v6.67h-26.12zM283.57 351.51h6.53v6.67h-6.53zM499.02 351.51h6.53v6.67h-6.53zM583.90 351.51h13.06v6.67h-13.06zM348.86 364.84h6.53v6.67h-6.53zM374.97 364.84h13.06v6.67h-13.06zM551.25 364.84h13.06v6.67h-13.06zM570.84 364.84h13.06v6.67h-13.06zM374.97 371.51h19.59v6.67h-19.59zM557.78 371.51h26.12v6.67h-26.12zM107.29 378.18h6.53v6.67h-6.53zM257.45 378.18h13.06v6.67h-13.06zM361.92 378.18h6.53v6.67h-6.53zM374.97 378.18h13.06v6.67h-13.06zM557.78 378.18h26.12v6.67h-26.12zM603.48 378.18h6.53v6.67h-6.53zM107.29 384.85h6.53v6.67h-6.53zM257.45 384.85h19.59v6.67h-19.59zM564.31 384.85h13.06v6.67h-13.06zM610.01 384.85h13.06v6.67h-13.06zM107.29 391.52h6.53v6.67h-6.53zM564.31 391.52h19.59v6.67h-19.59zM610.01 391.52h19.59v6.67h-19.59zM479.44 398.18h19.59v6.67h-19.59zM564.31 398.18h13.06v6.67h-13.06zM610.01 398.18h13.06v6.67h-13.06zM479.44 404.85h13.06v6.67h-13.06zM564.31 404.85h6.53v6.67h-6.53zM263.98 411.52h13.06v6.67h-13.06zM453.32 411.52h19.59v6.67h-19.59zM453.32 418.19h19.59v6.67h-19.59zM453.32 424.86h13.06v6.67h-13.06z" fill="#e9f038"/><path d="M74.64 318.17h6.53v6.67h-6.53zM113.82 318.17h6.53v6.67h-6.53zM74.64 324.84h6.53v6.67h-6.53zM113.82 324.84h6.53v6.67h-6.53zM159.52 331.50h6.53v6.67h-6.53zM551.25 331.50h6.53v6.67h-6.53zM414.15 338.17h6.53v6.67h-6.53zM583.90 338.17h13.06v6.67h-13.06zM407.62 344.84h6.53v6.67h-6.53zM505.55 351.51h13.06v6.67h-13.06zM499.02 358.18h13.06v6.67h-13.06zM388.03 378.18h13.06v6.67h-13.06zM590.43 391.52h13.06v6.67h-13.06zM590.43 398.18h13.06v6.67h-13.06zM564.31 411.52h6.53v6.67h-6.53zM564.31 418.19h6.53v6.67h-6.53z" fill="#f0781e"/><path d="M81.17 318.17h6.53v6.67h-6.53zM120.35 318.17h6.53v6.67h-6.53zM596.96 318.17h13.06v6.67h-13.06zM81.17 324.84h6.53v6.67h-6.53zM120.35 324.84h6.53v6.67h-6.53zM146.46 324.84h6.53v6.67h-6.53zM623.07 324.84h6.53v6.67h-6.53zM81.17 331.50h6.53v6.67h-6.53zM152.99 331.50h6.53v6.67h-6.53zM544.72 331.50h6.53v6.67h-6.53zM616.54 331.50h6.53v6.67h-6.53zM159.52 338.17h6.53v6.67h-6.53zM485.96 338.17h6.53v6.67h-6.53zM466.38 344.84h6.53v6.67h-6.53zM505.55 344.84h13.06v6.67h-13.06zM577.37 344.84h13.06v6.67h-13.06zM577.37 351.51h6.53v6.67h-6.53zM368.44 371.51h6.53v6.67h-6.53zM368.44 378.18h6.53v6.67h-6.53zM603.48 391.52h6.53v6.67h-6.53zM603.48 398.18h6.53v6.67h-6.53zM263.98 404.85h13.06v6.67h-13.06z" fill="#f4bb26"/><path d="M94.23 318.17h13.06v6.67h-13.06zM133.40 318.17h6.53v6.67h-6.53zM152.99 318.17h26.12v6.67h-26.12zM218.28 318.17h6.53v6.67h-6.53zM263.98 318.17h13.06v6.67h-13.06zM283.57 318.17h13.06v6.67h-13.06zM303.16 318.17h19.59v6.67h-19.59zM361.92 318.17h6.53v6.67h-6.53zM381.50 318.17h13.06v6.67h-13.06zM414.15 318.17h6.53v6.67h-6.53zM446.79 318.17h6.53v6.67h-6.53zM459.85 318.17h13.06v6.67h-13.06zM485.96 318.17h13.06v6.67h-13.06zM505.55 318.17h13.06v6.67h-13.06zM538.20 318.17h6.53v6.67h-6.53zM564.31 318.17h6.53v6.67h-6.53zM583.90 318.17h13.06v6.67h-13.06zM42.00 324.84h6.53v6.67h-6.53zM94.23 324.84h6.53v6.67h-6.53zM126.88 324.84h6.53v6.67h-6.53zM166.05 324.84h13.06v6.67h-13.06zM237.87 324.84h19.59v6.67h-19.59zM270.51 324.84h39.17v6.67h-39.17zM368.44 324.84h26.12v6.67h-26.12zM414.15 324.84h13.06v6.67h-13.06zM459.85 324.84h6.53v6.67h-6.53zM485.96 324.84h13.06v6.67h-13.06zM505.55 324.84h6.53v6.67h-6.53zM551.25 324.84h6.53v6.67h-6.53zM55.06 331.50h6.53v6.67h-6.53zM94.23 331.50h6.53v6.67h-6.53zM179.11 331.50h13.06v6.67h-13.06zM218.28 331.50h6.53v6.67h-6.53zM244.40 331.50h6.53v6.67h-6.53zM270.51 331.50h32.64v6.67h-32.64zM361.92 331.50h6.53v6.67h-6.53zM374.97 331.50h6.53v6.67h-6.53zM388.03 331.50h6.53v6.67h-6.53zM414.15 331.50h19.59v6.67h-19.59zM459.85 331.50h13.06v6.67h-13.06zM499.02 331.50h32.64v6.67h-32.64zM113.82 338.17h26.12v6.67h-26.12zM166.05 338.17h19.59v6.67h-19.59zM198.69 338.17h19.59v6.67h-19.59zM244.40 338.17h6.53v6.67h-6.53zM270.51 338.17h19.59v6.67h-19.59zM296.63 338.17h19.59v6.67h-19.59zM348.86 338.17h13.06v6.67h-13.06zM381.50 338.17h19.59v6.67h-19.59zM499.02 338.17h19.59v6.67h-19.59zM42.00 344.84h13.06v6.67h-13.06zM107.29 344.84h6.53v6.67h-6.53zM237.87 344.84h52.23v6.67h-52.23zM303.16 344.84h13.06v6.67h-13.06zM348.86 344.84h6.53v6.67h-6.53zM388.03 344.84h19.59v6.67h-19.59zM544.72 344.84h19.59v6.67h-19.59zM596.96 344.84h13.06v6.67h-13.06zM257.45 351.51h26.12v6.67h-26.12zM309.68 351.51h26.12v6.67h-26.12zM551.25 351.51h26.12v6.67h-26.12zM596.96 351.51h13.06v6.67h-13.06zM42.00 358.18h13.06v6.67h-13.06zM263.98 358.18h26.12v6.67h-26.12zM309.68 358.18h26.12v6.67h-26.12zM388.03 358.18h13.06v6.67h-13.06zM479.44 358.18h6.53v6.67h-6.53zM564.31 358.18h13.06v6.67h-13.06zM55.06 364.84h6.53v6.67h-6.53zM263.98 364.84h32.64v6.67h-32.64zM309.68 364.84h13.06v6.67h-13.06zM472.91 364.84h13.06v6.67h-13.06zM603.48 364.84h13.06v6.67h-13.06zM623.07 364.84h6.53v6.67h-6.53zM55.06 371.51h6.53v6.67h-6.53zM277.04 371.51h45.70v6.67h-45.70zM603.48 371.51h26.12v6.67h-26.12zM42.00 378.18h19.59v6.67h-19.59zM159.52 378.18h6.53v6.67h-6.53zM250.92 378.18h6.53v6.67h-6.53zM270.51 378.18h6.53v6.67h-6.53zM290.10 378.18h6.53v6.67h-6.53zM479.44 378.18h6.53v6.67h-6.53zM610.01 378.18h19.59v6.67h-19.59zM42.00 384.85h26.12v6.67h-26.12zM113.82 384.85h26.12v6.67h-26.12zM179.11 384.85h6.53v6.67h-6.53zM459.85 384.85h6.53v6.67h-6.53zM479.44 384.85h6.53v6.67h-6.53zM518.61 384.85h6.53v6.67h-6.53zM557.78 384.85h6.53v6.67h-6.53zM583.90 384.85h6.53v6.67h-6.53zM48.53 391.52h13.06v6.67h-13.06zM211.75 391.52h19.59v6.67h-19.59zM211.75 398.18h19.59v6.67h-19.59zM263.98 398.18h13.06v6.67h-13.06zM499.02 398.18h19.59v6.67h-19.59zM505.55 404.85h6.53v6.67h-6.53zM518.61 404.85h6.53v6.67h-6.53zM577.37 404.85h13.06v6.67h-13.06zM610.01 404.85h13.06v6.67h-13.06zM152.99 411.52h13.06v6.67h-13.06zM361.92 411.52h19.59v6.67h-19.59zM505.55 411.52h6.53v6.67h-6.53zM577.37 411.52h13.06v6.67h-13.06zM596.96 411.52h13.06v6.67h-13.06zM146.46 418.19h26.12v6.67h-26.12zM361.92 418.19h19.59v6.67h-19.59zM388.03 418.19h13.06v6.67h-13.06zM570.84 418.19h19.59v6.67h-19.59zM152.99 424.86h19.59v6.67h-19.59zM388.03 424.86h13.06v6.67h-13.06zM564.31 424.86h26.12v6.67h-26.12z" fill="#88f692"/><path d="M179.11 318.17h19.59v6.67h-19.59zM244.40 318.17h19.59v6.67h-19.59zM296.63 318.17h6.53v6.67h-6.53zM427.20 318.17h19.59v6.67h-19.59zM551.25 318.17h13.06v6.67h-13.06zM224.81 324.84h6.53v6.67h-6.53zM433.73 324.84h6.53v6.67h-6.53zM525.14 324.84h6.53v6.67h-6.53zM557.78 324.84h6.53v6.67h-6.53zM42.00 331.50h13.06v6.67h-13.06zM381.50 331.50h6.53v6.67h-6.53zM42.00 338.17h13.06v6.67h-13.06zM218.28 338.17h6.53v6.67h-6.53zM290.10 338.17h6.53v6.67h-6.53zM610.01 338.17h19.59v6.67h-19.59zM185.64 344.84h39.17v6.67h-39.17zM296.63 344.84h6.53v6.67h-6.53zM361.92 344.84h13.06v6.67h-13.06zM610.01 344.84h19.59v6.67h-19.59zM55.06 351.51h13.06v6.67h-13.06zM74.64 351.51h130.58v6.67h-130.58zM211.75 351.51h19.59v6.67h-19.59zM237.87 351.51h13.06v6.67h-13.06zM296.63 351.51h13.06v6.67h-13.06zM355.39 351.51h13.06v6.67h-13.06zM374.97 351.51h6.53v6.67h-6.53zM440.26 351.51h19.59v6.67h-19.59zM466.38 351.51h19.59v6.67h-19.59zM538.20 351.51h13.06v6.67h-13.06zM610.01 351.51h19.59v6.67h-19.59zM61.59 358.18h45.70v6.67h-45.70zM113.82 358.18h26.12v6.67h-26.12zM146.46 358.18h13.06v6.67h-13.06zM166.05 358.18h32.64v6.67h-32.64zM211.75 358.18h45.70v6.67h-45.70zM296.63 358.18h6.53v6.67h-6.53zM348.86 358.18h26.12v6.67h-26.12zM440.26 358.18h13.06v6.67h-13.06zM459.85 358.18h13.06v6.67h-13.06zM538.20 358.18h13.06v6.67h-13.06zM610.01 358.18h13.06v6.67h-13.06zM61.59 364.84h39.17v6.67h-39.17zM113.82 364.84h26.12v6.67h-26.12zM146.46 364.84h117.52v6.67h-117.52zM355.39 364.84h13.06v6.67h-13.06zM446.79 364.84h6.53v6.67h-6.53zM459.85 364.84h6.53v6.67h-6.53zM68.12 371.51h32.64v6.67h-32.64zM113.82 371.51h91.40v6.67h-91.40zM211.75 371.51h26.12v6.67h-26.12zM244.40 371.51h32.64v6.67h-32.64zM355.39 371.51h13.06v6.67h-13.06zM551.25 371.51h6.53v6.67h-6.53zM61.59 378.18h45.70v6.67h-45.70zM224.81 378.18h26.12v6.67h-26.12zM296.63 378.18h13.06v6.67h-13.06zM74.64 384.85h32.64v6.67h-32.64zM224.81 384.85h13.06v6.67h-13.06zM244.40 384.85h13.06v6.67h-13.06zM296.63 384.85h6.53v6.67h-6.53zM440.26 384.85h19.59v6.67h-19.59zM512.08 384.85h6.53v6.67h-6.53zM100.76 391.52h6.53v6.67h-6.53zM172.58 391.52h13.06v6.67h-13.06zM244.40 391.52h13.06v6.67h-13.06zM440.26 391.52h19.59v6.67h-19.59zM505.55 391.52h6.53v6.67h-6.53zM544.72 391.52h6.53v6.67h-6.53zM100.76 398.18h13.06v6.67h-13.06zM250.92 398.18h6.53v6.67h-6.53zM277.04 398.18h19.59v6.67h-19.59zM440.26 398.18h26.12v6.67h-26.12zM525.14 398.18h6.53v6.67h-6.53zM544.72 398.18h6.53v6.67h-6.53zM100.76 404.85h13.06v6.67h-13.06zM244.40 404.85h19.59v6.67h-19.59zM277.04 404.85h19.59v6.67h-19.59zM329.27 404.85h13.06v6.67h-13.06zM348.86 404.85h6.53v6.67h-6.53zM466.38 404.85h13.06v6.67h-13.06zM525.14 404.85h6.53v6.67h-6.53zM544.72 404.85h6.53v6.67h-6.53zM570.84 404.85h6.53v6.67h-6.53zM596.96 404.85h13.06v6.67h-13.06zM100.76 411.52h13.06v6.67h-13.06zM329.27 411.52h26.12v6.67h-26.12zM472.91 411.52h6.53v6.67h-6.53zM525.14 411.52h6.53v6.67h-6.53zM544.72 411.52h6.53v6.67h-6.53zM342.33 418.19h13.06v6.67h-13.06zM472.91 418.19h39.17v6.67h-39.17zM479.44 424.86h13.06v6.67h-13.06z" fill="#6ff5f9"/><path d="M224.81 318.17h19.59v6.67h-19.59zM277.04 318.17h6.53v6.67h-6.53zM368.44 318.17h13.06v6.67h-13.06zM420.68 318.17h6.53v6.67h-6.53zM518.61 318.17h6.53v6.67h-6.53zM179.11 324.84h13.06v6.67h-13.06zM218.28 324.84h6.53v6.67h-6.53zM427.20 324.84h6.53v6.67h-6.53zM440.26 324.84h6.53v6.67h-6.53zM512.08 324.84h13.06v6.67h-13.06zM531.67 324.84h6.53v6.67h-6.53zM368.44 331.50h6.53v6.67h-6.53zM185.64 338.17h13.06v6.67h-13.06zM224.81 338.17h6.53v6.67h-6.53zM361.92 338.17h19.59v6.67h-19.59zM113.82 344.84h71.82v6.67h-71.82zM224.81 344.84h6.53v6.67h-6.53zM355.39 344.84h6.53v6.67h-6.53zM374.97 344.84h13.06v6.67h-13.06zM42.00 351.51h13.06v6.67h-13.06zM231.34 351.51h6.53v6.67h-6.53zM250.92 351.51h6.53v6.67h-6.53zM348.86 351.51h6.53v6.67h-6.53zM368.44 351.51h6.53v6.67h-6.53zM381.50 351.51h6.53v6.67h-6.53zM55.06 358.18h6.53v6.67h-6.53zM107.29 358.18h6.53v6.67h-6.53zM257.45 358.18h6.53v6.67h-6.53zM290.10 358.18h6.53v6.67h-6.53zM303.16 358.18h6.53v6.67h-6.53zM374.97 358.18h13.06v6.67h-13.06zM472.91 358.18h6.53v6.67h-6.53zM596.96 358.18h13.06v6.67h-13.06zM623.07 358.18h6.53v6.67h-6.53zM100.76 364.84h6.53v6.67h-6.53zM296.63 364.84h13.06v6.67h-13.06zM466.38 364.84h6.53v6.67h-6.53zM616.54 364.84h6.53v6.67h-6.53zM61.59 371.51h6.53v6.67h-6.53zM100.76 371.51h6.53v6.67h-6.53zM237.87 371.51h6.53v6.67h-6.53zM113.82 378.18h45.70v6.67h-45.70zM166.05 378.18h58.76v6.67h-58.76zM485.96 378.18h6.53v6.67h-6.53zM139.93 384.85h13.06v6.67h-13.06zM172.58 384.85h6.53v6.67h-6.53zM185.64 384.85h26.12v6.67h-26.12zM485.96 384.85h13.06v6.67h-13.06zM544.72 384.85h13.06v6.67h-13.06zM198.69 391.52h13.06v6.67h-13.06zM459.85 391.52h6.53v6.67h-6.53zM479.44 391.52h19.59v6.67h-19.59zM551.25 391.52h13.06v6.67h-13.06zM198.69 398.18h13.06v6.67h-13.06zM257.45 398.18h6.53v6.67h-6.53zM518.61 398.18h6.53v6.67h-6.53zM342.33 404.85h6.53v6.67h-6.53zM499.02 404.85h6.53v6.67h-6.53zM172.58 411.52h13.06v6.67h-13.06zM250.92 411.52h13.06v6.67h-13.06zM277.04 411.52h13.06v6.67h-13.06zM479.44 411.52h26.12v6.67h-26.12zM518.61 411.52h6.53v6.67h-6.53zM570.84 411.52h6.53v6.67h-6.53zM172.58 418.19h13.06v6.67h-13.06zM250.92 418.19h19.59v6.67h-19.59zM512.08 418.19h13.06v6.67h-13.06zM263.98 424.86h13.06v6.67h-13.06z" fill="#77f8d4"/><path d="M525.14 318.17h13.06v6.67h-13.06zM290.10 344.84h6.53v6.67h-6.53zM68.12 351.51h6.53v6.67h-6.53zM205.22 351.51h6.53v6.67h-6.53zM388.03 351.51h19.59v6.67h-19.59zM459.85 351.51h6.53v6.67h-6.53zM139.93 358.18h6.53v6.67h-6.53zM159.52 358.18h6.53v6.67h-6.53zM198.69 358.18h13.06v6.67h-13.06zM453.32 358.18h6.53v6.67h-6.53zM139.93 364.84h6.53v6.67h-6.53zM453.32 364.84h6.53v6.67h-6.53zM205.22 371.51h6.53v6.67h-6.53zM68.12 384.85h6.53v6.67h-6.53zM303.16 384.85h6.53v6.67h-6.53zM361.92 384.85h13.06v6.67h-13.06zM433.73 384.85h6.53v6.67h-6.53zM505.55 384.85h6.53v6.67h-6.53zM87.70 391.52h13.06v6.67h-13.06zM361.92 391.52h13.06v6.67h-13.06zM538.20 391.52h6.53v6.67h-6.53zM94.23 398.18h6.53v6.67h-6.53zM244.40 398.18h6.53v6.67h-6.53zM551.25 398.18h6.53v6.67h-6.53zM94.23 404.85h6.53v6.67h-6.53zM551.25 404.85h6.53v6.67h-6.53zM551.25 411.52h6.53v6.67h-6.53zM551.25 418.19h6.53v6.67h-6.53zM420.68 424.86h13.06v6.67h-13.06z" fill="#3780ff"/><path d="M583.90 331.50h6.53v6.67h-6.53zM342.33 351.51h6.53v6.67h-6.53zM342.33 358.18h6.53v6.67h-6.53zM583.90 358.18h13.06v6.67h-13.06zM335.80 364.84h6.53v6.67h-6.53zM583.90 364.84h13.06v6.67h-13.06zM583.90 371.51h13.06v6.67h-13.06z" fill="#ed2514"/><path d="M290.10 351.51h6.53v6.67h-6.53zM81.17 391.52h6.53v6.67h-6.53z" fill="#0800b7"/><path d="M335.80 351.51h6.53v6.67h-6.53zM335.80 358.18h6.53v6.67h-6.53zM342.33 364.84h6.53v6.67h-6.53zM596.96 364.84h6.53v6.67h-6.53z" fill="#f83e16"/><path d="M505.55 378.18h13.06v6.67h-13.06zM433.73 391.52h6.53v6.67h-6.53zM433.73 398.18h6.53v6.67h-6.53zM211.75 404.85h13.06v6.67h-13.06zM211.75 411.52h13.06v6.67h-13.06z" fill="#1611ff"/></g><g opacity="0.80"><path d="M226.0 405.0V478.0" stroke="#e8e8e8" stroke-width="0.9" stroke-dasharray="1 1.2"/><path d="M226.4 405.0V478.0" stroke="#333" stroke-width="0.6" stroke-dasharray="1 1.2" stroke-dashoffset="1.1"/></g><g opacity="0.80"><path d="M489.0 368.0V478.0" stroke="#e8e8e8" stroke-width="0.9" stroke-dasharray="1 1.2"/><path d="M489.4 368.0V478.0" stroke="#333" stroke-width="0.6" stroke-dasharray="1 1.2" stroke-dashoffset="1.1"/></g><rect x="42.0" y="311.5" width="5" height="166.7" fill="#858585"/></g><text x="441.2" y="381.1" font-size="12.2" font-weight="bold">E2</text><rect x="42.0" y="311.5" width="14.4" height="14.6" fill="#fff"/><text x="46.0" y="323.7" font-size="12.8" font-weight="bold">c</text><rect x="42.0" y="467.4" width="29" height="10.8" fill="#fff"/><text x="45.8" y="475.9" font-size="9.8">1296</text><rect x="510.2" y="455.5" width="117.9" height="22.7" fill="#fff" stroke="#555" stroke-width="0.7"/><text x="515.3" y="468.2" font-size="10">log</text><text x="527.1" y="475.8" font-size="8.6">10</text><text x="536.4" y="468.2" font-size="9.2">K</text><text x="542.3" y="473.2" font-size="13" font-style="italic" font-family="Liberation Serif">&#961;</text><text x="551.2" y="468.2" font-size="10">=</text><text x="559.4" y="468.2" font-size="10" textLength="37.6" lengthAdjust="spacingAndGlyphs">-5.0±0.4</text><text x="599.6" y="468.2" font-size="10">m</text><text x="607.3" y="463.2" font-size="8.6">2</text><text x="612.2" y="468.2" font-size="10">s</text><text x="617.2" y="463.7" font-size="8.6">-1</text><path d="M42.0 311.5H629.6" stroke="#222" stroke-width="1"/><path d="M42.0 478.2H629.6" stroke="#222" stroke-width="1"/><path d="M42.0 311.5V478.2" stroke="#555" stroke-width="1"/><path d="M629.6 311.5V478.2" stroke="#555" stroke-width="1"/><path d="M42.0 311.5v-2.3M42.0 478.2v2.3M42.0 487.2v-2.3M42.0 554.5v2.3M56.3 311.5v-2.3M56.3 478.2v2.3M56.3 487.2v-2.3M56.3 554.5v2.3M70.6 311.5v-2.3M70.6 478.2v2.3M70.6 487.2v-2.3M70.6 554.5v2.3M84.8 311.5v-2.3M84.8 478.2v2.3M84.8 487.2v-2.3M84.8 554.5v2.3M99.1 311.5v-2.3M99.1 478.2v2.3M99.1 487.2v-2.3M99.1 554.5v2.3M113.4 311.5v-2.3M113.4 478.2v2.3M113.4 487.2v-2.3M113.4 554.5v2.3M127.7 311.5v-2.3M127.7 478.2v2.3M127.7 487.2v-2.3M127.7 554.5v2.3M141.9 311.5v-2.3M141.9 478.2v2.3M141.9 487.2v-2.3M141.9 554.5v2.3M156.2 311.5v-2.3M156.2 478.2v2.3M156.2 487.2v-2.3M156.2 554.5v2.3M170.5 311.5v-2.3M170.5 478.2v2.3M170.5 487.2v-2.3M170.5 554.5v2.3M184.8 311.5v-2.3M184.8 478.2v2.3M184.8 487.2v-2.3M184.8 554.5v2.3M199.0 311.5v-2.3M199.0 478.2v2.3M199.0 487.2v-2.3M199.0 554.5v2.3M213.3 311.5v-2.3M213.3 478.2v2.3M213.3 487.2v-2.3M213.3 554.5v2.3M227.6 311.5v-2.3M227.6 478.2v2.3M227.6 487.2v-2.3M227.6 554.5v2.3M241.9 311.5v-2.3M241.9 478.2v2.3M241.9 487.2v-2.3M241.9 554.5v2.3M256.1 311.5v-2.3M256.1 478.2v2.3M256.1 487.2v-2.3M256.1 554.5v2.3M270.4 311.5v-2.3M270.4 478.2v2.3M270.4 487.2v-2.3M270.4 554.5v2.3M284.7 311.5v-2.3M284.7 478.2v2.3M284.7 487.2v-2.3M284.7 554.5v2.3M299.0 311.5v-2.3M299.0 478.2v2.3M299.0 487.2v-2.3M299.0 554.5v2.3M313.2 311.5v-2.3M313.2 478.2v2.3M313.2 487.2v-2.3M313.2 554.5v2.3M327.5 311.5v-2.3M327.5 478.2v2.3M327.5 487.2v-2.3M327.5 554.5v2.3M341.8 311.5v-2.3M341.8 478.2v2.3M341.8 487.2v-2.3M341.8 554.5v2.3M356.1 311.5v-2.3M356.1 478.2v2.3M356.1 487.2v-2.3M356.1 554.5v2.3M370.3 311.5v-2.3M370.3 478.2v2.3M370.3 487.2v-2.3M370.3 554.5v2.3M384.6 311.5v-2.3M384.6 478.2v2.3M384.6 487.2v-2.3M384.6 554.5v2.3M398.9 311.5v-2.3M398.9 478.2v2.3M398.9 487.2v-2.3M398.9 554.5v2.3M413.2 311.5v-2.3M413.2 478.2v2.3M413.2 487.2v-2.3M413.2 554.5v2.3M427.5 311.5v-2.3M427.5 478.2v2.3M427.5 487.2v-2.3M427.5 554.5v2.3M441.7 311.5v-2.3M441.7 478.2v2.3M441.7 487.2v-2.3M441.7 554.5v2.3M456.0 311.5v-2.3M456.0 478.2v2.3M456.0 487.2v-2.3M456.0 554.5v2.3M470.3 311.5v-2.3M470.3 478.2v2.3M470.3 487.2v-2.3M470.3 554.5v2.3M484.6 311.5v-2.3M484.6 478.2v2.3M484.6 487.2v-2.3M484.6 554.5v2.3M498.8 311.5v-2.3M498.8 478.2v2.3M498.8 487.2v-2.3M498.8 554.5v2.3M513.1 311.5v-2.3M513.1 478.2v2.3M513.1 487.2v-2.3M513.1 554.5v2.3M527.4 311.5v-2.3M527.4 478.2v2.3M527.4 487.2v-2.3M527.4 554.5v2.3M541.7 311.5v-2.3M541.7 478.2v2.3M541.7 487.2v-2.3M541.7 554.5v2.3M555.9 311.5v-2.3M555.9 478.2v2.3M555.9 487.2v-2.3M555.9 554.5v2.3M570.2 311.5v-2.3M570.2 478.2v2.3M570.2 487.2v-2.3M570.2 554.5v2.3M584.5 311.5v-2.3M584.5 478.2v2.3M584.5 487.2v-2.3M584.5 554.5v2.3M598.8 311.5v-2.3M598.8 478.2v2.3M598.8 487.2v-2.3M598.8 554.5v2.3M613.0 311.5v-2.3M613.0 478.2v2.3M613.0 487.2v-2.3M613.0 554.5v2.3M627.3 311.5v-2.3M627.3 478.2v2.3M627.3 487.2v-2.3M627.3 554.5v2.3" stroke="#333" stroke-width="0.8"/><text x="42.0" y="304.2" font-size="10.2" text-anchor="middle">0</text><text x="99.1" y="304.2" font-size="10.2" text-anchor="middle">20</text><text x="156.2" y="304.2" font-size="10.2" text-anchor="middle">40</text><text x="213.3" y="304.2" font-size="10.2" text-anchor="middle">60</text><text x="270.4" y="304.2" font-size="10.2" text-anchor="middle">80</text><text x="327.5" y="304.2" font-size="10.2" text-anchor="middle">100</text><text x="384.6" y="304.2" font-size="10.2" text-anchor="middle">120</text><text x="441.7" y="304.2" font-size="10.2" text-anchor="middle">140</text><text x="498.8" y="304.2" font-size="10.2" text-anchor="middle">160</text><text x="555.9" y="304.2" font-size="10.2" text-anchor="middle">180</text><text x="613.0" y="304.2" font-size="10.2" text-anchor="middle">200</text><text x="335.8" y="291.3" font-size="11.2" text-anchor="middle">Distance (km)</text><text x="36.5" y="315.2" font-size="10.2" text-anchor="end">200</text><text x="36.5" y="348.5" font-size="10.2" text-anchor="end">400</text><text x="36.5" y="381.9" font-size="10.2" text-anchor="end">600</text><text x="36.5" y="415.2" font-size="10.2" text-anchor="end">800</text><text x="36.5" y="448.6" font-size="10.2" text-anchor="end">1000</text><text x="36.5" y="481.9" font-size="10.2" text-anchor="end">1200</text><path d="M42.0 311.5h-2.5M629.6 311.5h2.5M42.0 344.8h-2.5M629.6 344.8h2.5M42.0 378.2h-2.5M629.6 378.2h2.5M42.0 411.5h-2.5M629.6 411.5h2.5M42.0 444.9h-2.5M629.6 444.9h2.5M42.0 478.2h-2.5M629.6 478.2h2.5" stroke="#333" stroke-width="0.8"/><text transform="translate(8.6,394.9) rotate(-90)" font-size="11.2" text-anchor="middle">Depth (m)</text><rect x="643.5" y="311.5" width="19.0" height="166.7" fill="url(#cbar)" stroke="#555" stroke-width="0.8"/><text x="666.3" y="315.9" font-size="10.2">-3</text><text x="666.3" y="336.7" font-size="10.2">-3.5</text><text x="666.3" y="357.6" font-size="10.2">-4</text><text x="666.3" y="378.4" font-size="10.2">-4.5</text><text x="666.3" y="399.2" font-size="10.2">-5</text><text x="666.3" y="420.1" font-size="10.2">-5.5</text><text x="666.3" y="440.9" font-size="10.2">-6</text><text x="666.3" y="461.8" font-size="10.2">-6.5</text><text x="666.3" y="482.6" font-size="10.2">-7</text><path d="M662.5 311.5h2.3M662.5 332.3h2.3M662.5 353.2h2.3M662.5 374.0h2.3M662.5 394.9h2.3M662.5 415.7h2.3M662.5 436.5h2.3M662.5 457.4h2.3M662.5 478.2h2.3" stroke="#333" stroke-width="0.8"/><text x="623.7" y="303.2" font-size="8.9">log<tspan font-size="7.4" dy="3.2">10</tspan><tspan dy="-3.2">K</tspan><tspan font-size="6.6" font-style="italic" dy="4.4">&#961;</tspan><tspan dy="-4.4"> (m</tspan><tspan font-size="7" dy="-3.6">2</tspan><tspan dy="3.6">s</tspan><tspan font-size="7" dy="-3.6">-1</tspan><tspan dy="3.6">)</tspan></text><rect x="42.0" y="487.2" width="587.6" height="67.3" fill="#fff"/><path d="M99.1 487.2V554.5M156.2 487.2V554.5M213.3 487.2V554.5M270.4 487.2V554.5M327.5 487.2V554.5M384.6 487.2V554.5M441.7 487.2V554.5M498.8 487.2V554.5M555.9 487.2V554.5M613.0 487.2V554.5M42.0 509.6H629.6M42.0 532.1H629.6" stroke="#e2e2e2" stroke-width="0.9"/><g clip-path="url(#kclip1)"><polygon points="47.1,505.8 52.2,506.5 58.3,505.4 61.4,508.5 65.5,511.6 69.6,513.6 75.7,511.6 82.9,511.2 89.0,512.2 93.1,513.6 98.2,512.6 103.3,507.5 106.4,505.4 109.4,507.5 113.5,514.6 118.6,521.8 123.7,520.2 129.9,518.1 136.0,516.7 142.1,516.7 148.3,515.7 153.4,515.2 158.5,516.7 163.6,518.7 168.7,517.7 173.8,516.7 177.9,514.2 182.0,515.2 186.1,518.7 191.2,516.7 196.3,515.7 201.4,520.8 205.5,522.8 208.6,521.8 213.7,515.7 218.8,511.6 223.9,512.6 231.0,510.5 237.2,513.2 243.3,512.0 252.5,512.6 259.7,510.5 265.8,508.5 271.9,507.5 278.1,507.5 283.2,504.4 286.2,505.4 289.3,510.5 293.4,515.7 298.5,513.6 304.6,511.6 310.8,509.5 314.8,506.5 318.9,503.4 322.0,503.8 327.1,501.3 332.2,498.3 336.3,493.2 340.4,486.6 342.4,486.0 344.5,488.1 348.6,499.3 352.7,509.5 355.7,514.6 359.8,511.6 364.9,505.4 370.0,498.9 376.2,503.8 383.3,500.3 387.4,498.3 393.5,498.3 399.7,495.2 403.7,492.2 405.8,488.1 408.9,487.5 409.5,491.1 408.9,506.5 405.8,501.3 403.7,513.6 402.1,527.5 399.7,523.8 393.5,522.8 387.4,520.8 383.3,513.6 376.2,514.0 370.0,514.6 364.9,516.7 359.8,519.7 355.7,521.8 352.7,519.7 348.6,510.5 344.5,497.3 342.4,488.7 340.4,489.1 336.3,502.4 332.2,515.2 327.1,509.5 322.0,507.9 318.9,507.1 314.8,509.5 310.8,513.6 304.6,517.7 298.5,520.8 293.4,526.9 290.3,532.4 287.3,517.7 284.2,508.5 280.1,511.6 276.0,516.1 271.9,517.7 265.8,518.7 259.7,520.8 252.5,522.2 243.3,525.9 237.2,523.8 231.0,520.8 223.9,517.7 218.8,518.1 213.7,520.8 208.6,527.9 205.5,530.0 201.4,527.9 196.3,520.8 191.2,522.8 186.1,524.9 182.0,522.8 177.9,522.8 173.8,525.9 168.7,528.3 163.6,526.9 158.5,524.9 153.4,523.8 146.2,527.9 142.1,528.9 136.0,528.3 129.9,527.9 123.7,525.9 118.6,524.4 113.5,521.8 109.4,515.7 106.4,511.6 102.3,513.6 98.2,516.7 93.1,517.3 87.0,516.7 80.8,519.7 75.7,527.9 72.7,531.0 69.6,528.9 65.5,523.8 61.4,515.7 57.3,511.6 52.2,513.6 47.1,518.7" fill="#e58a96" fill-opacity="0.45" stroke="#f06070" stroke-width="0.6" stroke-opacity="0.9"/><polygon points="429.3,503.0 433.4,505.0 438.5,505.4 441.6,509.5 446.7,509.1 452.8,512.6 456.9,513.6 462.0,511.6 465.7,507.3 470.7,502.4 475.7,502.9 479.4,501.9 484.3,500.4 488.1,501.1 493.0,502.4 499.2,494.9 505.4,491.9 512.9,488.0 515.4,499.9 521.6,504.9 526.5,502.4 531.5,500.4 535.2,502.4 540.2,504.4 547.6,506.1 550.1,501.1 556.3,506.1 561.3,506.1 566.2,502.4 572.4,497.4 577.4,491.9 581.1,487.0 586.1,487.0 593.5,487.0 597.3,497.4 599.8,506.1 604.7,506.8 609.7,509.8 613.4,512.8 618.4,509.8 623.3,504.4 627.1,502.4 627.1,511.1 623.3,516.0 618.4,521.0 613.4,524.7 609.7,519.7 604.7,512.3 599.8,513.5 596.0,504.9 591.1,498.7 583.6,496.9 581.1,499.9 577.4,502.9 572.4,511.1 566.2,511.8 561.3,512.3 556.3,515.3 550.1,509.8 547.6,518.5 540.2,521.0 535.2,518.5 531.5,506.1 526.5,506.1 521.6,507.3 515.4,507.3 512.9,496.9 505.4,498.7 499.2,501.1 493.0,504.4 488.1,504.4 484.3,505.4 479.4,506.1 475.7,509.8 470.7,516.0 465.7,522.2 462.0,526.9 456.9,528.9 452.8,526.9 446.7,528.3 441.6,525.9 438.5,507.1 433.4,506.5 429.3,507.1" fill="#e58a96" fill-opacity="0.45" stroke="#f06070" stroke-width="0.6" stroke-opacity="0.9"/><polyline points="47.1,511.6 52.2,510.1 57.3,509.9 61.4,512.6 65.5,517.7 70.6,521.4 75.7,519.7 81.9,515.7 88.0,514.6 93.1,515.7 97.2,515.2 102.3,511.6 106.4,509.9 109.4,512.6 113.5,518.7 118.6,522.8 123.7,522.8 129.9,522.8 136.0,522.2 142.1,522.8 147.3,521.4 153.4,518.7 158.5,520.8 163.6,522.8 167.7,523.2 172.8,521.4 177.9,518.3 182.0,519.3 186.1,521.8 191.2,519.7 196.3,518.1 201.4,523.8 205.5,525.9 208.6,524.9 213.7,518.7 218.8,515.7 223.9,514.6 231.0,516.1 239.2,519.3 245.4,518.1 252.5,516.7 259.7,515.7 265.8,514.0 271.9,512.6 276.0,511.6 280.1,509.1 284.2,507.5 287.3,513.6 290.3,522.8 293.4,520.8 298.5,517.7 304.6,515.2 310.8,511.6 314.8,507.9 318.9,505.0 322.0,505.8 327.1,505.4 332.2,506.5 336.3,497.3 340.4,488.1 342.4,487.5 344.5,493.2 348.6,505.4 352.7,514.6 355.7,518.7 359.8,515.7 364.9,510.5 370.0,507.1 376.2,509.1 383.3,507.1 387.4,509.5 393.5,510.5 397.6,509.1 399.7,507.9 402.1,510.5 403.7,501.3 405.8,495.2 407.8,493.6 408.9,505.4" fill="none" stroke="#ff1010" stroke-width="2.2" stroke-linejoin="round" stroke-linecap="round"/><polyline points="429.3,503.4 430.3,504.8 433.4,505.8 438.5,506.5 441.6,517.7 446.7,518.7 452.8,519.7 456.9,521.8 462.0,519.7 465.7,514.8 470.7,509.8 475.7,506.8 479.4,504.4 484.3,503.6 488.1,501.9 493.0,503.6 499.2,498.7 505.4,496.2 512.9,494.9 515.4,506.8 521.6,506.8 526.5,503.6 531.5,502.9 535.2,509.8 540.2,512.3 547.6,513.5 550.1,506.8 556.3,510.3 561.3,509.3 566.2,506.8 572.4,504.9 577.4,497.9 581.1,488.0 583.6,487.0 591.1,487.0 593.5,490.0 596.0,497.4 599.8,508.6 604.7,507.8 608.4,512.3 613.4,518.0 618.4,515.3 623.3,509.3 627.1,506.8" fill="none" stroke="#ff1010" stroke-width="2.2" stroke-linejoin="round" stroke-linecap="round"/></g><rect x="42.0" y="487.2" width="587.6" height="67.3" fill="none" stroke="#444" stroke-width="0.9"/><text x="35.2" y="490.9" font-size="10.2" text-anchor="end">-4</text><text x="35.2" y="513.3" font-size="10.2" text-anchor="end">-5</text><text x="35.2" y="535.8" font-size="10.2" text-anchor="end">-6</text><text x="35.2" y="558.2" font-size="10.2" text-anchor="end">-7</text><path d="M42.0 487.2h-2.5M629.6 487.2h2.5M42.0 509.6h-2.5M629.6 509.6h2.5M42.0 532.1h-2.5M629.6 532.1h2.5M42.0 554.5h-2.5M629.6 554.5h2.5" stroke="#333" stroke-width="0.8"/><text x="46.2" y="499.6" font-size="12.4" font-weight="bold">d</text><text transform="translate(17.3,520.9) rotate(-90)" font-size="11.6" text-anchor="middle">log<tspan font-size="9.2" dy="5">10</tspan><tspan dy="-5">K</tspan><tspan font-size="8" font-style="italic" font-family="Liberation Serif" dy="4">&#961;</tspan></text><g clip-path="url(#clip2)"><rect x="42.0" y="592.8" width="587.6" height="167.6" fill="#838383"/><rect x="42.0" y="592.8" width="587.6" height="167.6" fill="#888" filter="url(#tex)"/><path id="st2" d="M39 594.2l2 -.9 2 1.0 2 .8 2 -.9 2 -.4 2 .2 2 -.7 2 .0 2 1.1 2 -.5 2 -1.5 2 .3 2 .3 2 -.6 2 .2 2 .0 2 -1.4 2 -.4 2 1.1 2 -.2 2 -1.1 2 .1 2 -.3 2 -.7 2 .8 2 .5 2 -1.3 2 -.5 2 .8 2 -.1 2 -.1 2 .9 2 -.4 2 -1.1 2 .7 2 .9 2 -.3 2 .5 2 .7 2 -.9 2 -.4 2 1.2 2 .3 2 -.1 2 .9 2 .0 2 -1.1 2 .3 2 1.0 2 -.2 2 .2 2 .7 2 -.8 2 -.9 2 .9 2 .5 2 -.5 2 .3 2 .0 2 -1.1 2 .1 2 1.3 2 -.3 2 -.8 2 .3 2 -.2 2 -.4 2 1.1 2 .4 2 -1.3 2 -.1 2 1.1 2 .0 2 -.1 2 .7 2 -.6 2 -.6 2 1.4 2 .8 2 -.9 2 .1 2 .4 2 -.5 2 .5 2 1.3 2 -.5 2 -.9 2 .5 2 .1 2 -.5 2 .9 2 .5 2 -1.2 2 -.5 2 .5 2 -.4 2 -.2 2 1.0 2 -.3 2 -1.4 2 .1 2 .2 2 -.7 2 .4 2 .8 2 -1.0 2 -.9 2 .6 2 -.1 2 -.2 2 .9 2 .0 2 -1.3 2 .2 2 1.1 2 -.2 2 .1 2 .6 2 -.7 2 -.3 2 1.5 2 .5 2 -.9 2 .2 2 .5 2 -.2 2 .7 2 .9 2 -.9 2 -.7 2 1.1 2 .5 2 -.4 2 .4 2 -.1 2 -1.0 2 .5 2 1.2 2 -.5 2 -.5 2 .4 2 -.6 2 -.5 2 1.2 2 .5 2 -.9 2 .0 2 .3 2 -.8 2 .2 2 1.4 2 -.1 2 -.6 2 .5 2 -.1 2 -.6 2 1.1 2 1.1 2 -.6 2 -.1 2 .5 2 -.5 2 .2 2 1.4 2 .2 2 -1.0 2 .3 2 .4 2 -.4 2 .7 2 .7 2 -1.3 2 -.6 2 1.1 2 .1 2 -.7 2 .3 2 -.5 2 -1.1 2 .7 2 .8 2 -1.3 2 -.8 2 .4 2 -.4 2 -.3 2 .7 2 -.6 2 -1.5 2 .3 2 .6 2 -.6 2 .1 2 .3 2 -1.1 2 -.7 2 1.1 2 .2 2 -.6 2 .5 2 -.1 2 -1.3 2 .3 2 1.0 2 -.3 2 -.1 2 .6 2 -.9 2 -.9 2 .8 2 .5 2 -.6 2 .2 2 .1 2 -1.4 2 -.1 2 1.1 2 -.3 2 -.8 2 .2 2 -.6 2 -.9 2 .9 2 .5 2 -1.2 2 -.6 2 .4 2 -.3 2 .0 2 .7 2 -.7 2 -1.1 2 .8 2 .9 2 -.6 2 -.1 2 .3 2 -.6 2 .3 2 1.5 2 -.3 2 -.9 2 .6 2 .4 2 -.3 2 1.0 2 .7 2 -1.0 2 -.3 2 .9 2 .0 2 .0 2 1.1 2 -.3 2 -1.2 2 .3 2 .5 2 -.5 2 .5 2 .7 2 -1.0 2 -.9 2 .6 2 -.1 2 -.4 2 .8 2 .0 2 -1.5 2 -.1 2 .8 2 -.4 2 .1 2 .6 2 -.9 2 -.9 2 1.1 2 .6 2 -.6 2 .1 2 .1 2 -.7 2 .5 2 1.3 2 -.6 2 -1.0 2 .8 2 .3 2 -.2 2 .7 2 .0 2 -1.3 2 .3 2 1.2 2 -.3 2 -.6 2 .3 2 -.6M15 599.0l2 -.9 2 -.8 2 .8 2 1.0 2 -.6 2 -.8 2 -.1 2 .0 2 .5 2 .8 2 -.6 2 -1.2 2 .1 2 .8 2 .1 2 .1 2 -.3 2 -1.2 2 -.3 2 .9 2 .3 2 -.4 2 -.3 2 -.8 2 -1.0 2 .4 2 .8 2 -.3 2 -.5 2 -.4 2 -1.1 2 -.5 2 .7 2 .5 2 -.4 2 -.2 2 -.6 2 -1.0 2 .3 2 1.1 2 .1 2 -.4 2 -.1 2 -.6 2 -.2 2 1.2 2 .9 2 -.6 2 -.5 2 .2 2 .2 2 .8 2 .9 2 -.6 2 -.9 2 .7 2 1.0 2 .2 2 .0 2 -.3 2 -.7 2 .5 2 1.3 2 -.1 2 -1.0 2 -.1 2 .0 2 .3 2 .8 2 .1 2 -1.3 2 -.5 2 .6 2 .3 2 .3 2 .4 2 -.7 2 -1.0 2 .3 2 .7 2 .2 2 .5 2 .2 2 -1.0 2 -.4 2 .7 2 .6 2 .4 2 .7 2 -.3 2 -1.0 2 .2 2 .8 2 .4 2 .5 2 .2 2 -.9 2 -.6 2 .9 2 .8 2 -.2 2 -.1 2 -.6 2 -.7 2 .6 2 1.0 2 -.5 2 -1.1 2 -.2 2 .0 2 .2 2 .6 2 -.6 2 -1.4 2 .0 2 1.0 2 .0 2 -.4 2 -.3 2 -.7 2 -.1 2 1.2 2 .4 2 -.8 2 -.4 2 .1 2 .0 2 .8 2 1.0 2 -.4 2 -.7 2 .1 2 .2 2 .3 2 1.2 2 .5 2 -.7 2 -.4 2 .2 2 .0 2 .6 2 1.1 2 -.1 2 -.9 2 -.2 2 .1 2 .1 2 .9 2 .5 2 -.9 2 -.8 2 .3 2 .3 2 .3 2 .6 2 -.6 2 -1.1 2 .3 2 1.1 2 .2 2 -.3 2 -.2 2 -.5 2 .4 2 1.4 2 .1 2 -1.0 2 .0 2 .6 2 .5 2 .7 2 .2 2 -.9 2 -.2 2 1.2 2 .7 2 -.1 2 .0 2 -.4 2 -.6 2 .7 2 1.1 2 -.2 2 -.5 2 -.2 2 -.7 2 -.3 2 1.0 2 .4 2 -.7 2 -.5 2 -.5 2 -.9 2 .1 2 .9 2 -.1 2 -.8 2 -.3 2 -.9 2 -.5 2 .8 2 .6 2 -.7 2 -.7 2 -.3 2 -.4 2 .4 2 1.0 2 -.4 2 -1.2 2 -.1 2 .5 2 .2 2 .5 2 -.2 2 -1.2 2 -.1 2 1.1 2 .4 2 -.7 2 -.4 2 -.4 2 -.1 2 .9 2 .3 2 -1.2 2 -.8 2 .2 2 .2 2 .2 2 .2 2 -.9 2 -1.3 2 .2 2 .6 2 .0 2 .0 2 -.2 2 -1.2 2 -.6 2 .8 2 .4 2 .0 2 .3 2 -.5 2 -1.1 2 .3 2 .9 2 .3 2 .3 2 .3 2 -.8 2 -.5 2 .9 2 .9 2 .2 2 .2 2 -.2 2 -.8 2 .4 2 1.4 2 .2 2 -.6 2 -.2 2 -.3 2 .2 2 1.1 2 .2 2 -1.2 2 -.6 2 .6 2 .3 2 .2 2 -.1 2 -1.1 2 -.6 2 1.0 2 .6 2 -.7 2 -.6 2 -.3 2 -.3 2 .6 2 .9 2 -.5 2 -1.0 2 .0 2 .2 2 .2 2 .9 2 .3 2 -1.0 2 -.5 2 .4 2 .2 2 .6 2 .8 2 -.3 2 -1.0 2 .0 2 .3 2 .1 2 .7 2 .5 2 -.9 2 -.9 2 .2 2 .2 2 .2M35 602.4l2 .9 2 -.8 2 -.6 2 -.2 2 -.6 2 .1 2 1.2 2 .1 2 -1.0 2 -.4 2 -.5 2 -.8 2 .6 2 1.0 2 -.7 2 -1.0 2 -.4 2 -.7 2 -.1 2 1.1 2 .1 2 -1.5 2 -.7 2 .1 2 .0 2 .6 2 .4 2 -1.2 2 -1.1 2 .9 2 .9 2 -.2 2 -.1 2 -.4 2 -.6 2 1.0 2 1.4 2 -.5 2 -1.0 2 .3 2 .5 2 .5 2 1.0 2 -.2 2 -1.3 2 .2 2 1.2 2 .4 2 .1 2 .2 2 -.9 2 -.7 2 1.0 2 .9 2 -.2 2 .0 2 -.3 2 -1.2 2 .0 2 1.1 2 .3 2 -.2 2 .2 2 -.8 2 -1.0 2 .6 2 1.1 2 .0 2 .0 2 .0 2 -1.1 2 -.1 2 1.4 2 .7 2 -.4 2 -.1 2 -.3 2 -.4 2 1.3 2 1.2 2 -.7 2 -.9 2 .4 2 .5 2 .5 2 .8 2 -.7 2 -1.3 2 .6 2 1.3 2 -.1 2 -.6 2 -.3 2 -.7 2 .2 2 1.3 2 -.2 2 -1.4 2 -.5 2 .2 2 .0 2 .6 2 .4 2 -1.3 2 -1.1 2 .4 2 .3 2 .1 2 .8 2 -.3 2 -1.4 2 -.2 2 .7 2 .2 2 .6 2 .8 2 -.8 2 -1.0 2 .5 2 .7 2 .3 2 .9 2 .3 2 -1.2 2 -.4 2 1.1 2 .5 2 .4 2 .5 2 -.8 2 -1.0 2 .9 2 1.3 2 -.3 2 -.4 2 -.3 2 -.5 2 .5 2 1.4 2 -.5 2 -1.4 2 .0 2 .7 2 .3 2 .4 2 -.2 2 -1.3 2 .0 2 1.5 2 .4 2 -.6 2 -.1 2 -.3 2 -.2 2 1.3 2 1.1 2 -.6 2 -.6 2 .2 2 -.1 2 .6 2 1.5 2 .2 2 -.9 2 -.1 2 .1 2 -.1 2 1.0 2 1.1 2 -.6 2 -.8 2 .0 2 -.4 2 .1 2 1.2 2 .3 2 -1.3 2 -.7 2 .0 2 -.4 2 .6 2 .7 2 -1.0 2 -1.5 2 .1 2 .4 2 .0 2 .2 2 -.6 2 -1.5 2 .1 2 1.3 2 -.1 2 -1.0 2 -.3 2 -.4 2 .1 2 1.2 2 .1 2 -1.5 2 -.5 2 .9 2 .3 2 .2 2 .1 2 -1.0 2 -.9 2 1.0 2 .9 2 -.4 2 -.2 2 -.5 2 -1.1 2 .1 2 1.2 2 .0 2 -.6 2 -.3 2 -.8 2 -1.0 2 .6 2 .9 2 -.4 2 -.5 2 -.3 2 -1.2 2 -.3 2 1.1 2 .5 2 -.6 2 -.3 2 -.5 2 -.8 2 .8 2 1.3 2 -.3 2 -.8 2 .0 2 -.1 2 .5 2 1.3 2 .1 2 -1.4 2 .0 2 1.2 2 .5 2 .3 2 .0 2 -1.0 2 -.1 2 1.6 2 .7 2 -1.0 2 -.4 2 .0 2 .0 2 .9 2 .7 2 -1.2 2 -1.1 2 .5 2 .4 2 .1 2 .5 2 -.5 2 -1.5 2 -.2 2 .9 2 .1 2 .2 2 .3 2 -1.0 2 -1.1 2 .5 2 .8 2 .0 2 .6 2 .0 2 -1.2 2 -.5 2 1.0 2 .5 2 .3 2 .5 2 -.6 2 -1.2 2 .6 2 1.1 2 .1 2 .0 2 -.2 2 -1.1 2 .0 2 1.5 2 .3 2 -1.2 2 -.5 2 .0 2 .0M16 605.9l2 .2 2 .6 2 -.4 2 .3 2 .4 2 -1.1 2 -.5 2 1.2 2 .2 2 -.7 2 .3 2 -.3 2 -1.0 2 .6 2 1.0 2 -.8 2 -.6 2 .3 2 -.8 2 -.7 2 1.0 2 .2 2 -1.1 2 -.2 2 -.1 2 -1.2 2 .0 2 1.0 2 -.5 2 -.9 2 .2 2 -.6 2 -.9 2 .9 2 .6 2 -1.0 2 -.3 2 .3 2 -.6 2 .1 2 1.3 2 -.3 2 -1.1 2 .5 2 .7 2 -.3 2 .7 2 .4 2 -1.1 2 .1 2 1.6 2 .1 2 -.7 2 .5 2 .0 2 -.4 2 1.1 2 .7 2 -1.2 2 -.4 2 .9 2 -.1 2 .0 2 .8 2 -.6 2 -1.2 2 .6 2 .8 2 -.6 2 .3 2 .3 2 -1.1 2 -.5 2 1.2 2 .1 2 -.4 2 .7 2 -.1 2 -1.2 2 .4 2 1.1 2 -.2 2 .2 2 .7 2 -.7 2 -.6 2 1.2 2 .6 2 -.4 2 .5 2 .2 2 -1.0 2 .4 2 1.5 2 -.3 2 -.7 2 .4 2 -.2 2 -.4 2 1.1 2 .3 2 -1.5 2 -.2 2 .8 2 -.3 2 -.2 2 .4 2 -1.0 2 -.9 2 1.1 2 .4 2 -1.1 2 -.3 2 .2 2 -.7 2 .3 2 1.0 2 -.7 2 -1.0 2 .5 2 .2 2 -.3 2 .9 2 .5 2 -1.1 2 -.2 2 .9 2 -.1 2 .1 2 1.3 2 -.2 2 -1.0 2 .5 2 .6 2 -.4 2 .8 2 .9 2 -.9 2 -.6 2 .9 2 .0 2 -.2 2 1.0 2 -.1 2 -1.3 2 .2 2 1.0 2 -.4 2 .0 2 .4 2 -.9 2 -.5 2 1.3 2 .4 2 -1.0 2 .0 2 .4 2 -.5 2 .7 2 .9 2 -.9 2 -.7 2 1.2 2 .5 2 -.3 2 .7 2 .0 2 -.9 2 .8 2 1.4 2 -.3 2 -.4 2 .7 2 -.4 2 -.2 2 1.3 2 .5 2 -.9 2 .0 2 .3 2 -.8 2 .3 2 1.2 2 -.5 2 -.9 2 .3 2 -.4 2 -.9 2 .8 2 .6 2 -1.2 2 -.5 2 .2 2 -.9 2 -.2 2 1.1 2 -.4 2 -1.3 2 .1 2 .1 2 -.6 2 .6 2 .5 2 -1.3 2 -.7 2 1.1 2 .1 2 -.5 2 .4 2 -.4 2 -.9 2 .9 2 .9 2 -1.0 2 -.6 2 .6 2 -.3 2 -.1 2 .9 2 -.5 2 -1.4 2 .4 2 .7 2 -.6 2 -.1 2 .2 2 -1.2 2 -.7 2 1.0 2 .0 2 -.8 2 .3 2 -.4 2 -1.3 2 .2 2 1.0 2 -.6 2 -.3 2 .5 2 -.9 2 -.8 2 1.0 2 .6 2 -.6 2 .4 2 .2 2 -1.1 2 .3 2 1.4 2 .0 2 -.4 2 .5 2 -.2 2 -.5 2 1.3 2 .8 2 -.9 2 -.2 2 .7 2 -.2 2 .2 2 1.0 2 -.7 2 -1.1 2 .9 2 .8 2 -.7 2 -.1 2 .1 2 -.9 2 .2 2 1.2 2 -.6 2 -1.2 2 .3 2 .1 2 -.5 2 .8 2 .3 2 -1.3 2 -.4 2 .9 2 -.2 2 -.1 2 1.0 2 -.4 2 -1.2 2 .5 2 .7 2 -.4 2 .6 2 .8 2 -1.0 2 -.6 2 .9 2 .1 2 -.2 2 1.0 2 .0 2 -1.4 2 .2 2 .8 2 -.3 2 .0 2 .6 2 -1.1 2 -.9 2 1.0M25 610.5l2 1.1 2 -1.0 2 -.7 2 .3 2 -.4 2 .2 2 1.3 2 -.7 2 -1.7 2 .4 2 .9 2 -.4 2 -.1 2 -.2 2 -1.5 2 -.1 2 1.5 2 -.3 2 -1.6 2 -.2 2 -.1 2 -.6 2 .9 2 .4 2 -1.8 2 -.9 2 .8 2 -.1 2 -.2 2 .9 2 -.6 2 -1.7 2 .4 2 .9 2 -.2 2 .5 2 .7 2 -1.2 2 -.9 2 1.1 2 .5 2 .0 2 1.1 2 .1 2 -1.5 2 .1 2 1.3 2 .0 2 .3 2 .9 2 -.9 2 -1.2 2 1.2 2 1.0 2 -.5 2 .2 2 -.1 2 -1.3 2 .4 2 1.7 2 -.4 2 -1.3 2 .2 2 .1 2 -.2 2 1.1 2 .1 2 -1.8 2 -.1 2 1.6 2 .0 2 -.4 2 .4 2 -.7 2 -.6 2 1.6 2 1.0 2 -1.1 2 -.2 2 .5 2 -.4 2 .6 2 1.6 2 -.3 2 -1.2 2 .5 2 .2 2 -.3 2 1.2 2 1.0 2 -1.2 2 -.7 2 .5 2 -.4 2 .0 2 1.5 2 -.1 2 -1.5 2 -.2 2 .2 2 -.7 2 .7 2 1.0 2 -1.3 2 -1.3 2 .5 2 .0 2 -.2 2 .9 2 -.3 2 -1.8 2 .2 2 1.4 2 -.2 2 -.4 2 .3 2 -.9 2 -.2 2 1.8 2 .4 2 -1.4 2 -.1 2 .9 2 .0 2 .7 2 .8 2 -1.2 2 -.8 2 1.5 2 .9 2 -.5 2 .4 2 -.2 2 -1.2 2 .7 2 1.6 2 -.3 2 -.7 2 .4 2 -.8 2 -.7 2 1.4 2 .9 2 -.9 2 -.2 2 .1 2 -1.1 2 .1 2 1.6 2 .1 2 -.8 2 .4 2 -.5 2 -.8 2 1.2 2 1.4 2 -.7 2 -.3 2 .4 2 -.5 2 .3 2 1.8 2 .2 2 -1.4 2 .3 2 .8 2 .0 2 .9 2 .6 2 -1.4 2 -.5 2 1.8 2 .5 2 -.9 2 .1 2 -.3 2 -.7 2 1.1 2 1.0 2 -1.5 2 -1.0 2 .6 2 -.1 2 -.1 2 .8 2 -.8 2 -1.8 2 .2 2 .9 2 -.5 2 .1 2 .3 2 -1.5 2 -1.0 2 1.0 2 .4 2 -.5 2 .6 2 -.2 2 -1.7 2 .0 2 1.2 2 -.1 2 .0 2 .7 2 -1.0 2 -1.3 2 .9 2 .9 2 -.5 2 .3 2 .0 2 -1.6 2 -.1 2 1.6 2 -.1 2 -1.0 2 -.1 2 -.5 2 -.7 2 1.1 2 .6 2 -1.8 2 -.9 2 .8 2 -.1 2 -.2 2 .4 2 -1.1 2 -1.4 2 1.1 2 1.0 2 -1.0 2 -.5 2 .1 2 -.7 2 .4 2 1.5 2 -.3 2 -1.4 2 .3 2 .5 2 -.2 2 1.1 2 .9 2 -1.2 2 -.6 2 .9 2 .1 2 .2 2 1.4 2 .0 2 -1.4 2 .1 2 .7 2 -.4 2 .8 2 1.1 2 -1.0 2 -1.2 2 .6 2 .1 2 -.2 2 1.1 2 .0 2 -1.8 2 -.3 2 1.0 2 -.1 2 .0 2 .4 2 -1.2 2 -1.0 2 1.4 2 .8 2 -1.1 2 -.3 2 .2 2 -.5 2 .7 2 1.3 2 -1.1 2 -1.2 2 1.0 2 .8 2 -.3 2 .5 2 -.1 2 -1.3 2 .5 2 1.6 2 -.2 2 -.7 2 .3 2 -.6 2 -.6 2 1.4 2 .8 2 -1.2 2 -.5 2 .1 2 -.9 2 .0 2 1.5M22 614.3l2 -.4 2 -.7 2 .9 2 .8 2 -1.0 2 -.5 2 .4 2 -.3 2 -.1 2 .9 2 -.4 2 -1.3 2 .1 2 .3 2 -.5 2 .2 2 .3 2 -1.2 2 -.9 2 .4 2 -.1 2 -.5 2 .5 2 -.2 2 -1.4 2 -.3 2 .5 2 -.5 2 .0 2 .7 2 -.8 2 -1.1 2 .6 2 .3 2 -.3 2 .6 2 .2 2 -1.1 2 .0 2 1.2 2 .1 2 -.2 2 .4 2 -.3 2 -.4 2 1.2 2 .8 2 -.9 2 -.2 2 .7 2 -.1 2 .3 2 .8 2 -.7 2 -.9 2 .9 2 .8 2 -.6 2 .0 2 .0 2 -.8 2 .2 2 1.2 2 -.3 2 -.9 2 .2 2 -.1 2 -.5 2 .9 2 .7 2 -.9 2 -.3 2 .5 2 -.4 2 .1 2 1.2 2 .2 2 -.9 2 .3 2 .3 2 -.4 2 .8 2 1.1 2 -.5 2 -.5 2 .6 2 -.1 2 .0 2 1.1 2 .3 2 -1.1 2 .0 2 .6 2 -.2 2 .2 2 .6 2 -1.0 2 -.8 2 .9 2 .4 2 -.8 2 -.1 2 -.2 2 -.8 2 .4 2 .9 2 -1.0 2 -1.0 2 .5 2 .1 2 -.3 2 .5 2 -.1 2 -1.3 2 .2 2 1.1 2 -.2 2 -.2 2 .5 2 -.6 2 -.5 2 1.2 2 .7 2 -.5 2 .2 2 .3 2 -.7 2 .2 2 1.3 2 .1 2 -.4 2 .5 2 -.2 2 -.8 2 .8 2 .9 2 -.4 2 -.1 2 .3 2 -.8 2 -.3 2 1.2 2 .2 2 -.9 2 .1 2 .0 2 -.6 2 .7 2 .9 2 -.9 2 -.7 2 .7 2 .3 2 -.1 2 .7 2 -.2 2 -.9 2 .7 2 1.3 2 -.4 2 -.3 2 .6 2 -.2 2 .2 2 1.3 2 .1 2 -.9 2 .3 2 .8 2 -.1 2 .5 2 .7 2 -.9 2 -.6 2 .9 2 .3 2 -.4 2 .6 2 -.1 2 -1.3 2 .0 2 .7 2 -.4 2 -.1 2 .4 2 -.8 2 -1.2 2 .4 2 .3 2 -.5 2 .2 2 .1 2 -1.4 2 -.4 2 .9 2 -.1 2 -.4 2 .3 2 -.5 2 -1.0 2 .8 2 .8 2 -.7 2 -.4 2 .2 2 -.4 2 .1 2 1.1 2 -.5 2 -1.2 2 .4 2 .6 2 -.4 2 .1 2 .1 2 -1.2 2 -.1 2 1.1 2 -.2 2 -1.1 2 .0 2 -.2 2 -.7 2 .6 2 .4 2 -1.2 2 -.7 2 .3 2 -.4 2 -.3 2 .9 2 -.3 2 -1.2 2 .0 2 .3 2 -.5 2 .5 2 .8 2 -.7 2 -.7 2 .6 2 .0 2 -.2 2 1.2 2 .4 2 -1.0 2 .0 2 .7 2 -.1 2 .4 2 1.0 2 -.5 2 -.9 2 .8 2 .7 2 -.3 2 .3 2 .1 2 -1.0 2 .2 2 1.3 2 -.4 2 -.9 2 .2 2 .0 2 -.4 2 .8 2 .1 2 -1.4 2 -.2 2 .9 2 -.2 2 -.2 2 .3 2 -.7 2 -.7 2 .9 2 .7 2 -.7 2 .0 2 .2 2 -.8 2 .2 2 1.3 2 .0 2 -.6 2 .3 2 -.1 2 -.6 2 .8 2 1.0 2 -.6 2 -.2 2 .3 2 -.6 2 -.3 2 1.2 2 .2 2 -.9 2 .0 2 -.1 2 -.8 2 .4 2 .9 2 -.8M24 618.6l2 -.6 2 -1.1 2 .5 2 1.5 2 -.3 2 -1.1 2 -.4 2 .0 2 .3 2 .8 2 -.4 2 -1.7 2 -.4 2 1.0 2 .1 2 -.4 2 -.4 2 -1.2 2 -.7 2 1.0 2 .6 2 -.9 2 -.8 2 -.5 2 -.8 2 .3 2 1.2 2 -.2 2 -1.0 2 -.3 2 -.5 2 -.3 2 1.0 2 1.0 2 -.5 2 -.6 2 -.1 2 -.5 2 .3 2 1.5 2 .5 2 -.7 2 -.2 2 -.1 2 -.2 2 1.1 2 1.2 2 -.6 2 -.9 2 .1 2 .3 2 .5 2 .9 2 -.3 2 -1.5 2 .0 2 1.2 2 .3 2 -.3 2 -.4 2 -.8 2 .0 2 1.5 2 .2 2 -1.3 2 -.5 2 .4 2 .3 2 .7 2 .4 2 -1.2 2 -.7 2 .9 2 .9 2 .2 2 .3 2 -.4 2 -1.0 2 .5 2 1.4 2 .4 2 .0 2 .2 2 -.8 2 -.6 2 1.1 2 1.0 2 .0 2 .2 2 -.3 2 -1.1 2 -.1 2 1.2 2 .4 2 -.2 2 -.1 2 -.9 2 -1.0 2 .7 2 1.0 2 -.3 2 -.7 2 -.5 2 -.8 2 .1 2 1.3 2 -.1 2 -1.4 2 -.4 2 .3 2 .3 2 .6 2 .0 2 -1.4 2 -.4 2 1.4 2 .7 2 -.4 2 -.3 2 -.3 2 -.2 2 1.4 2 1.0 2 -.8 2 -.8 2 .3 2 .4 2 .6 2 1.1 2 -.4 2 -1.2 2 .0 2 .7 2 .3 2 .6 2 .5 2 -1.1 2 -1.0 2 .5 2 .4 2 .3 2 .7 2 -.1 2 -1.4 2 -.4 2 .6 2 .2 2 .6 2 .6 2 -.8 2 -1.1 2 .4 2 .9 2 .4 2 .5 2 -.1 2 -1.1 2 .1 2 1.6 2 .6 2 -.3 2 -.1 2 -.4 2 .2 2 1.5 2 .8 2 -1.1 2 -.6 2 .8 2 .6 2 .5 2 .2 2 -1.0 2 -.8 2 1.0 2 1.1 2 -.5 2 -.6 2 -.4 2 -.8 2 .4 2 1.2 2 -.3 2 -1.2 2 -.5 2 -.4 2 -.2 2 .8 2 .6 2 -1.0 2 -1.0 2 -.2 2 -.4 2 .2 2 1.2 2 .0 2 -1.1 2 -.5 2 -.1 2 -.3 2 .8 2 1.1 2 -.7 2 -1.0 2 -.1 2 -.1 2 .3 2 1.1 2 .0 2 -1.5 2 -.5 2 .6 2 .3 2 .3 2 -.1 2 -1.3 2 -.9 2 1.1 2 .7 2 -.9 2 -.8 2 -.5 2 -.4 2 .7 2 .7 2 -1.2 2 -1.4 2 .2 2 .6 2 .1 2 .1 2 -.6 2 -1.4 2 .2 2 1.3 2 .2 2 -.3 2 -.1 2 -.8 2 -.4 2 1.2 2 1.1 2 -.2 2 -.1 2 -.2 2 -.8 2 .3 2 1.5 2 .5 2 -.2 2 .0 2 -.5 2 -.7 2 .8 2 1.3 2 -.1 2 -.4 2 -.3 2 -.8 2 .0 2 1.3 2 .4 2 -1.0 2 -.6 2 -.2 2 -.1 2 .9 2 .6 2 -1.3 2 -1.1 2 .6 2 .6 2 .2 2 .0 2 -.8 2 -.9 2 .9 2 1.3 2 -.4 2 -.9 2 .0 2 .0 2 .6 2 1.2 2 -.2 2 -1.4 2 .0 2 .8 2 .4 2 .5 2 .3 2 -1.1 2 -.9 2 .8 2 .6 2 .1 2 .4 2 -.4 2 -1.5 2 -.3 2 .8 2 .2 2 .1 2 .2M26 621.6l2 -.1 2 .9 2 -.3 2 -1.6 2 .1 2 1.1 2 -.3 2 -.2 2 .2 2 -1.2 2 -1.0 2 .9 2 .5 2 -.8 2 .0 2 -.3 2 -1.6 2 -.3 2 1.1 2 -.2 2 -.6 2 .2 2 -.9 2 -1.4 2 .7 2 .9 2 -.6 2 .0 2 .1 2 -1.3 2 -.3 2 1.5 2 .4 2 -.8 2 .2 2 -.2 2 -.6 2 1.2 2 1.2 2 -1.0 2 -.7 2 .8 2 .2 2 .3 2 .9 2 -.5 2 -1.3 2 .9 2 1.4 2 -.5 2 -.4 2 .1 2 -.6 2 .1 2 1.5 2 -.2 2 -1.4 2 .0 2 .4 2 -.3 2 .7 2 .7 2 -1.3 2 -.8 2 .8 2 .2 2 -.1 2 1.1 2 -.1 2 -1.4 2 .1 2 .9 2 -.1 2 .6 2 1.1 2 -.8 2 -1.0 2 .8 2 .6 2 .0 2 1.1 2 .4 2 -1.4 2 -.2 2 1.2 2 .2 2 .1 2 .6 2 -.8 2 -1.1 2 1.0 2 1.1 2 -.8 2 -.4 2 .0 2 -.8 2 .3 2 1.2 2 -.7 2 -1.6 2 .3 2 .5 2 -.3 2 .3 2 -.2 2 -1.5 2 .0 2 1.4 2 .0 2 -.9 2 .2 2 -.4 2 -.6 2 1.3 2 1.0 2 -1.0 2 -.5 2 .5 2 -.4 2 .3 2 1.6 2 .1 2 -1.1 2 .2 2 .3 2 -.5 2 1.0 2 1.3 2 -.8 2 -.7 2 .4 2 -.3 2 -.2 2 1.5 2 .3 2 -1.3 2 -.2 2 .3 2 -.4 2 .5 2 1.1 2 -.9 2 -1.3 2 .7 2 .6 2 -.2 2 .6 2 -.2 2 -1.3 2 .4 2 1.7 2 -.2 2 -.7 2 .3 2 .0 2 .1 2 1.4 2 .4 2 -1.4 2 .1 2 1.3 2 .2 2 .3 2 .7 2 -.8 2 -.7 2 1.3 2 1.0 2 -.5 2 .1 2 .0 2 -1.1 2 .2 2 1.4 2 -.1 2 -.6 2 .2 2 -.7 2 -1.1 2 .8 2 .9 2 -.8 2 -.3 2 .0 2 -1.3 2 -.5 2 1.3 2 .1 2 -.9 2 .0 2 -.4 2 -1.1 2 .7 2 1.2 2 -.8 2 -.8 2 .2 2 -.3 2 .0 2 1.2 2 -.1 2 -1.7 2 .1 2 1.1 2 -.2 2 .0 2 .2 2 -1.2 2 -.4 2 1.5 2 .2 2 -1.3 2 -.3 2 .1 2 -.6 2 .6 2 .7 2 -1.5 2 -1.2 2 .7 2 .0 2 -.3 2 .5 2 -.4 2 -1.7 2 -.1 2 .8 2 -.3 2 .0 2 .6 2 -1.1 2 -1.2 2 .8 2 .6 2 -.3 2 .7 2 .3 2 -1.4 2 -.3 2 1.3 2 .2 2 .1 2 .9 2 -.6 2 -1.1 2 .9 2 1.2 2 -.2 2 .1 2 .2 2 -1.0 2 .1 2 1.6 2 .1 2 -1.2 2 .1 2 .1 2 -.2 2 .8 2 .4 2 -1.6 2 -.6 2 1.3 2 .2 2 -.6 2 .1 2 -.6 2 -.9 2 1.0 2 1.1 2 -1.1 2 -.6 2 .3 2 -.4 2 .2 2 1.4 2 -.2 2 -1.3 2 .2 2 .4 2 -.3 2 .9 2 1.1 2 -.9 2 -.8 2 .6 2 -.1 2 -.1 2 1.4 2 .3 2 -1.4 2 -.2 2 .4 2 -.5 2 .5 2 1.1 2 -.9 2 -1.3 2 .3 2 .2 2 -.3 2 .6 2 .0M19 624.0l2 1.4 2 1.2 2 -1.0 2 -.5 2 .1 2 -1.1 2 -.1 2 1.7 2 .2 2 -1.2 2 -.2 2 -.5 2 -1.1 2 .9 2 1.3 2 -1.2 2 -1.3 2 .0 2 -.6 2 -.1 2 1.3 2 -.5 2 -2.2 2 -.2 2 1.0 2 -.3 2 .0 2 -.1 2 -1.6 2 -.5 2 1.9 2 .4 2 -1.5 2 -.3 2 .2 2 -.2 2 1.1 2 1.0 2 -1.5 2 -1.0 2 1.2 2 .7 2 .0 2 .9 2 -.4 2 -1.5 2 .5 2 1.6 2 .0 2 .0 2 .5 2 -1.1 2 -1.1 2 1.4 2 .9 2 -.4 2 .4 2 -.1 2 -1.7 2 -.2 2 1.5 2 .1 2 -.2 2 .5 2 -.9 2 -1.5 2 1.1 2 1.3 2 -.4 2 -.1 2 .0 2 -1.2 2 .2 2 2.1 2 .2 2 -1.3 2 .1 2 .3 2 .0 2 1.4 2 .7 2 -1.6 2 -.6 2 1.7 2 .7 2 -.3 2 .3 2 -.6 2 -.8 2 1.5 2 1.4 2 -1.2 2 -.9 2 .4 2 -.4 2 .3 2 1.4 2 -.5 2 -1.9 2 .0 2 .5 2 -.3 2 .7 2 .6 2 -1.6 2 -1.3 2 .7 2 .1 2 -.1 2 1.2 2 -.2 2 -1.8 2 -.2 2 .7 2 -.1 2 .6 2 1.2 2 -1.0 2 -1.4 2 .7 2 .8 2 .0 2 1.1 2 .1 2 -1.7 2 .0 2 1.7 2 .4 2 -.3 2 .3 2 -.8 2 -.6 2 1.7 2 1.1 2 -1.5 2 -.7 2 .6 2 .0 2 .5 2 .9 2 -1.3 2 -1.5 2 1.3 2 1.1 2 -.6 2 -.1 2 -.2 2 -1.2 2 .5 2 1.9 2 -.2 2 -1.1 2 .2 2 -.2 2 -.4 2 1.6 2 1.2 2 -1.0 2 -.5 2 .5 2 -.4 2 .4 2 2.0 2 .3 2 -1.1 2 .2 2 .1 2 -.6 2 1.2 2 1.7 2 -.7 2 -1.0 2 .4 2 -.4 2 .0 2 1.7 2 .2 2 -1.8 2 -.4 2 .6 2 -.2 2 .5 2 .6 2 -1.7 2 -1.4 2 1.3 2 .8 2 -.9 2 -.4 2 -.4 2 -1.1 2 .9 2 1.4 2 -1.3 2 -1.5 2 .5 2 .4 2 -.1 2 .9 2 -.4 2 -1.9 2 .2 2 1.6 2 -.1 2 -.2 2 .3 2 -1.2 2 -1.0 2 1.5 2 .9 2 -.8 2 .0 2 -.2 2 -1.6 2 .0 2 1.5 2 .0 2 -.7 2 .1 2 -1.0 2 -1.5 2 .8 2 1.1 2 -.7 2 -.4 2 -.1 2 -1.6 2 -.5 2 1.7 2 .2 2 -1.2 2 -.3 2 -.4 2 -.7 2 1.2 2 1.2 2 -1.4 2 -1.2 2 .9 2 .4 2 .2 2 .9 2 -.7 2 -1.5 2 1.2 2 1.8 2 -.5 2 -.6 2 .2 2 -.4 2 .4 2 1.8 2 -.1 2 -1.7 2 .1 2 .8 2 -.1 2 .8 2 .7 2 -1.6 2 -1.1 2 1.0 2 .4 2 -.2 2 .9 2 -.3 2 -1.9 2 -.2 2 1.1 2 -.2 2 .3 2 .9 2 -1.2 2 -1.5 2 .7 2 .7 2 -.2 2 .9 2 .3 2 -1.8 2 -.4 2 1.5 2 .4 2 .0 2 .6 2 -.9 2 -1.2 2 1.4 2 1.5 2 -.8 2 -.5 2 .1 2 -.6 2 .6 2 1.6 2 -.8 2 -1.8 2 .4 2 1.0 2 -.3 2 .2 2 -.2 2 -1.8 2 -.1 2 1.8 2 -.1 2 -1.3M40 628.3l2 -.2 2 -.3 2 .7 2 -.6 2 -1.6 2 .0 2 .4 2 -.6 2 .2 2 .4 2 -1.3 2 -1.1 2 .5 2 -.1 2 -.4 2 .7 2 -.2 2 -1.6 2 -.1 2 .9 2 -.2 2 .0 2 .4 2 -.9 2 -.7 2 1.3 2 .8 2 -.8 2 -.1 2 .3 2 -.4 2 .7 2 1.2 2 -.8 2 -.9 2 .9 2 .6 2 -.2 2 .5 2 -.1 2 -1.2 2 .5 2 1.4 2 -.4 2 -.7 2 .3 2 -.5 2 -.4 2 1.2 2 .5 2 -1.2 2 -.3 2 .3 2 -.6 2 .3 2 1.3 2 -.3 2 -1.0 2 .3 2 .0 2 -.4 2 1.1 2 .9 2 -.8 2 -.3 2 .5 2 -.3 2 .2 2 1.5 2 .2 2 -1.0 2 .2 2 .5 2 -.2 2 .9 2 .9 2 -1.0 2 -.8 2 1.1 2 .3 2 -.2 2 .4 2 -.4 2 -1.1 2 .7 2 1.1 2 -.8 2 -.9 2 .3 2 -.4 2 -.1 2 .9 2 -.4 2 -1.6 2 .1 2 .9 2 -.4 2 .0 2 .2 2 -1.1 2 -.6 2 1.3 2 .4 2 -.6 2 .2 2 .0 2 -1.0 2 .5 2 1.4 2 -.2 2 -.3 2 .6 2 -.6 2 -.6 2 1.3 2 .8 2 -.5 2 .2 2 .2 2 -1.0 2 .1 2 1.5 2 .0 2 -.6 2 .3 2 -.4 2 -.8 2 1.0 2 1.0 2 -1.0 2 -.6 2 .4 2 -.4 2 .2 2 1.1 2 -.6 2 -1.3 2 .6 2 1.0 2 -.3 2 .0 2 .3 2 -.9 2 .3 2 1.6 2 .0 2 -1.0 2 .5 2 .4 2 .0 2 1.0 2 .8 2 -1.1 2 -.3 2 1.2 2 .3 2 .1 2 .9 2 -.3 2 -1.1 2 .5 2 .9 2 -.2 2 .3 2 .5 2 -1.1 2 -.8 2 .8 2 .2 2 -.4 2 .6 2 -.2 2 -1.6 2 -.2 2 .9 2 -.4 2 -.1 2 .4 2 -1.0 2 -1.2 2 .9 2 .6 2 -.7 2 .0 2 -.1 2 -1.0 2 .2 2 1.4 2 -.5 2 -1.1 2 .3 2 .2 2 -.2 2 .8 2 .1 2 -1.5 2 .0 2 1.2 2 -.1 2 -.6 2 .2 2 -.7 2 -.7 2 1.1 2 .5 2 -1.3 2 -.5 2 .1 2 -.7 2 .1 2 1.0 2 -.8 2 -1.4 2 .1 2 .0 2 -.7 2 .7 2 .5 2 -1.3 2 -.8 2 .5 2 -.4 2 -.2 2 1.2 2 -.1 2 -1.2 2 .1 2 .4 2 -.4 2 .7 2 1.1 2 -.9 2 -.8 2 .9 2 .3 2 .0 2 1.0 2 -.1 2 -1.2 2 .4 2 1.4 2 -.2 2 -.3 2 .3 2 -.6 2 -.2 2 1.3 2 .2 2 -1.4 2 -.1 2 .7 2 -.3 2 .2 2 .5 2 -1.2 2 -.9 2 1.2 2 .4 2 -.7 2 .1 2 -.2 2 -1.0 2 .4 2 1.3 2 -.4 2 -.6 2 .4 2 -.5 2 -.5 2 1.3 2 .8 2 -.8 2 .0 2 .3 2 -.8 2 .2 2 1.5 2 .0 2 -.7 2 .4 2 -.3 2 -.8 2 1.0 2 1.0 2 -.8 2 -.6 2 .2 2 -.6 2 -.1 2 1.2 2 -.3 2 -1.5 2 -.1 2 .5 2 -.4 2 .2M22 632.6l2 1.3 2 -.6 2 -1.0 2 .0 2 -.6 2 -.4 2 1.3 2 .5 2 -1.2 2 -.6 2 -.3 2 -.9 2 .3 2 1.3 2 -.6 2 -1.6 2 -.3 2 -.3 2 -.3 2 .9 2 .2 2 -1.8 2 -.9 2 .8 2 .2 2 -.1 2 .1 2 -1.1 2 -1.0 2 1.3 2 1.1 2 -.9 2 -.7 2 .2 2 -.1 2 .7 2 1.2 2 -.8 2 -1.3 2 .7 2 1.0 2 .1 2 .5 2 .0 2 -1.3 2 -.1 2 1.5 2 .4 2 -.3 2 .2 2 -.7 2 -1.1 2 .9 2 1.2 2 -.3 2 -.2 2 .1 2 -1.3 2 -.5 2 1.3 2 .6 2 -.4 2 .1 2 -.4 2 -1.3 2 .5 2 1.5 2 .1 2 -.4 2 .1 2 -.7 2 -.3 2 1.7 2 .9 2 -.9 2 -.4 2 .4 2 .0 2 1.0 2 1.1 2 -.9 2 -1.2 2 1.1 2 1.1 2 -.1 2 .1 2 -.4 2 -.9 2 .7 2 1.6 2 -.6 2 -1.2 2 .0 2 .0 2 .0 2 1.1 2 -.1 2 -1.7 2 -.6 2 .7 2 .0 2 .2 2 .6 2 -1.0 2 -1.5 2 .4 2 .6 2 -.1 2 .7 2 .2 2 -1.4 2 -.7 2 .9 2 .3 2 .3 2 1.0 2 -.4 2 -1.4 2 .3 2 1.0 2 .2 2 .6 2 .5 2 -1.3 2 -.7 2 1.4 2 .8 2 -.2 2 .0 2 -.4 2 -.9 2 1.0 2 1.4 2 -.8 2 -1.1 2 .2 2 .2 2 .2 2 .9 2 -.6 2 -1.6 2 .4 2 1.4 2 -.1 2 -.4 2 -.1 2 -.8 2 .0 2 1.7 2 .5 2 -1.1 2 -.2 2 .2 2 -.2 2 1.1 2 1.4 2 -.5 2 -.9 2 .4 2 .1 2 .2 2 1.6 2 .7 2 -1.0 2 -.3 2 .4 2 -.3 2 .7 2 1.5 2 -.2 2 -1.3 2 .1 2 .0 2 -.2 2 1.1 2 .7 2 -1.5 2 -1.0 2 .5 2 .0 2 .2 2 .6 2 -.9 2 -1.7 2 .5 2 1.2 2 -.4 2 -.6 2 -.3 2 -1.0 2 .3 2 1.5 2 -.3 2 -1.7 2 .0 2 .6 2 .1 2 .6 2 .0 2 -1.5 2 -.4 2 1.4 2 .4 2 -.4 2 .0 2 -.7 2 -1.0 2 .9 2 1.2 2 -.6 2 -.5 2 -.2 2 -1.1 2 -.5 2 1.3 2 .4 2 -.9 2 -.3 2 -.6 2 -1.4 2 .3 2 1.2 2 -.3 2 -.8 2 -.2 2 -1.0 2 -.8 2 1.2 2 .8 2 -1.0 2 -.5 2 -.2 2 -.6 2 .6 2 1.5 2 -.6 2 -1.4 2 .3 2 .7 2 .3 2 .8 2 -.1 2 -1.4 2 .2 2 1.8 2 .3 2 -.7 2 .0 2 -.3 2 .0 2 1.5 2 .5 2 -1.5 2 -.6 2 .8 2 .2 2 .3 2 .7 2 -1.0 2 -1.4 2 .5 2 .9 2 -.2 2 .3 2 .0 2 -1.5 2 -.6 2 1.1 2 .3 2 -.1 2 .6 2 -.6 2 -1.4 2 .3 2 1.1 2 .1 2 .4 2 .4 2 -1.2 2 -.8 2 1.2 2 .9 2 -.1 2 .4 2 -.4 2 -1.2 2 .6 2 1.6 2 -.1 2 -.8 2 -.1 2 -.4 2 .0 2 1.4 2 .1 2 -1.8 2 -.4 2 .8 2 .1 2 .0 2 .0 2 -1.4 2 -.8 2 1.4 2 .5M15 634.9l2 1.4 2 .6 2 -.5 2 .6 2 -.3 2 -1.8 2 .2 2 1.4 2 -.2 2 -.4 2 .3 2 -1.4 2 -1.2 2 1.3 2 .8 2 -1.3 2 -.5 2 -.2 2 -1.2 2 .4 2 1.4 2 -1.2 2 -1.9 2 .4 2 .4 2 -.4 2 .5 2 -.4 2 -1.9 2 .2 2 1.8 2 -.3 2 -1.1 2 .2 2 -.4 2 -.3 2 1.6 2 .7 2 -1.7 2 -.4 2 1.0 2 -.2 2 .5 2 1.5 2 -.8 2 -1.5 2 .7 2 .7 2 -.3 2 1.1 2 .7 2 -1.6 2 -.8 2 1.0 2 -.1 2 .0 2 1.4 2 -.4 2 -1.8 2 .1 2 .8 2 -.4 2 .7 2 .8 2 -1.5 2 -1.2 2 1.2 2 .7 2 -.3 2 .7 2 -.4 2 -1.5 2 .8 2 1.9 2 -.4 2 -.8 2 .5 2 -.2 2 .2 2 1.8 2 .1 2 -1.8 2 .3 2 1.5 2 .1 2 .2 2 .5 2 -1.3 2 -.5 2 1.9 2 .7 2 -1.1 2 -.1 2 -.1 2 -1.0 2 .8 2 1.5 2 -.9 2 -1.2 2 .2 2 -.5 2 -.6 2 1.4 2 .6 2 -1.5 2 -.5 2 .1 2 -.9 2 .2 2 1.7 2 -.3 2 -1.4 2 .2 2 -.1 2 -.7 2 1.4 2 1.2 2 -1.2 2 -.8 2 .7 2 -.2 2 .3 2 1.7 2 -.4 2 -1.8 2 .6 2 1.4 2 -.2 2 .3 2 .3 2 -1.4 2 -.1 2 2.0 2 .2 2 -1.5 2 .0 2 .3 2 -.4 2 1.1 2 .7 2 -1.8 2 -.9 2 1.3 2 .4 2 -.4 2 .7 2 -.7 2 -1.5 2 .9 2 1.5 2 -.4 2 -.2 2 .5 2 -1.1 2 -.5 2 1.8 2 .9 2 -.6 2 .5 2 .1 2 -1.3 2 .6 2 1.9 2 .1 2 -.2 2 .7 2 -.8 2 -.9 2 1.6 2 1.3 2 -.7 2 .0 2 .1 2 -1.1 2 .3 2 1.9 2 -.3 2 -1.5 2 .1 2 .1 2 -.4 2 1.1 2 .2 2 -2.1 2 -.6 2 1.5 2 .0 2 -.7 2 .2 2 -1.0 2 -.9 2 1.5 2 .9 2 -1.7 2 -.7 2 .5 2 -.3 2 .3 2 1.4 2 -.9 2 -1.7 2 .6 2 .8 2 -.4 2 .8 2 .4 2 -1.7 2 -.7 2 1.2 2 .1 2 -.2 2 1.0 2 -.6 2 -2.0 2 .2 2 .8 2 -.5 2 .3 2 .7 2 -1.7 2 -1.5 2 .9 2 .3 2 -.5 2 .5 2 -.4 2 -2.1 2 .0 2 1.5 2 -.4 2 -.6 2 .1 2 -1.1 2 -.6 2 1.7 2 .7 2 -1.7 2 -.4 2 .8 2 -.1 2 .6 2 .9 2 -1.3 2 -1.0 2 1.6 2 1.1 2 -.7 2 .2 2 .0 2 -1.0 2 .8 2 1.9 2 -.6 2 -1.2 2 .4 2 -.1 2 -.4 2 1.6 2 .6 2 -1.7 2 -.5 2 .5 2 -.6 2 .3 2 1.5 2 -.5 2 -1.6 2 .2 2 .0 2 -.7 2 1.2 2 1.1 2 -1.4 2 -.9 2 .6 2 -.3 2 .1 2 1.6 2 .0 2 -1.8 2 .1 2 1.0 2 -.1 2 .7 2 .8 2 -1.5 2 -.8 2 1.8 2 .8 2 -.8 2 .0 2 -.2 2 -.8 2 1.1 2 1.4 2 -1.4 2 -1.3 2 .8 2 .2 2 -.2 2 .8 2 -.8 2 -1.9 2 .5 2 1.4 2 -.6 2 -.5 2 .1 2 -1.3M34 641.0l2 -1.4 2 -1.0 2 .2 2 -.6 2 -.3 2 1.3 2 -.2 2 -1.8 2 -.4 2 .1 2 -.9 2 .4 2 1.1 2 -1.1 2 -1.4 2 .3 2 -.4 2 -.6 2 1.3 2 .5 2 -1.6 2 -.5 2 .5 2 -.4 2 .5 2 1.3 2 -.7 2 -1.5 2 .7 2 .9 2 -.1 2 .5 2 .2 2 -1.4 2 .1 2 1.9 2 .1 2 -1.1 2 .2 2 .0 2 -.3 2 1.3 2 .5 2 -1.8 2 -.4 2 1.2 2 .1 2 -.2 2 .5 2 -.9 2 -1.3 2 1.2 2 1.1 2 -.8 2 -.1 2 .1 2 -1.1 2 .0 2 1.7 2 .2 2 -.8 2 .4 2 -.3 2 -.9 2 1.1 2 1.5 2 -.4 2 -.2 2 .5 2 -.8 2 -.3 2 1.8 2 .8 2 -.7 2 .2 2 .0 2 -.9 2 .8 2 1.7 2 -.6 2 -1.0 2 .3 2 -.1 2 -.2 2 1.3 2 .1 2 -1.9 2 -.3 2 1.2 2 -.2 2 -.3 2 .2 2 -1.2 2 -.8 2 1.5 2 .6 2 -1.5 2 -.5 2 .4 2 -.5 2 .6 2 1.1 2 -1.2 2 -1.3 2 1.0 2 .6 2 -.2 2 .8 2 .1 2 -1.6 2 .1 2 1.5 2 .1 2 .0 2 .9 2 -.8 2 -1.2 2 1.0 2 1.0 2 -.3 2 .5 2 .4 2 -1.4 2 -.6 2 1.3 2 .2 2 -.3 2 .7 2 -.5 2 -1.6 2 .6 2 1.3 2 -.4 2 -.3 2 .2 2 -1.1 2 -.3 2 1.8 2 .4 2 -1.4 2 .0 2 .4 2 -.2 2 1.0 2 .9 2 -1.3 2 -.7 2 1.6 2 .8 2 -.3 2 .4 2 -.1 2 -.8 2 1.3 2 1.6 2 -.7 2 -.7 2 .6 2 -.1 2 .1 2 1.6 2 .2 2 -1.6 2 .0 2 .6 2 -.4 2 .6 2 1.1 2 -1.1 2 -1.3 2 .5 2 .0 2 -.5 2 1.1 2 .3 2 -1.7 2 -.6 2 .5 2 -.5 2 .2 2 1.2 2 -.7 2 -1.7 2 .3 2 .6 2 -.4 2 .8 2 .3 2 -1.6 2 -.6 2 1.5 2 .3 2 -.6 2 .3 2 -.6 2 -.9 2 1.3 2 1.1 2 -1.4 2 -.9 2 .6 2 -.1 2 .0 2 .8 2 -1.0 2 -1.6 2 .7 2 1.0 2 -.8 2 -.4 2 -.1 2 -1.5 2 -.3 2 1.5 2 -.1 2 -1.4 2 -.1 2 -.4 2 -1.1 2 .9 2 1.1 2 -.9 2 -.9 2 .3 2 -.7 2 -.4 2 1.6 2 .5 2 -1.1 2 .1 2 .1 2 -.9 2 .7 2 1.7 2 -.3 2 -.9 2 .4 2 -.2 2 -.2 2 1.5 2 .8 2 -1.5 2 -.4 2 .8 2 .0 2 .3 2 .9 2 -1.1 2 -1.3 2 1.2 2 1.0 2 -.9 2 -.3 2 .0 2 -1.0 2 .5 2 1.5 2 -.9 2 -1.5 2 .5 2 .5 2 -.3 2 .8 2 .1 2 -1.7 2 -.1 2 1.5 2 .1 2 -.2 2 .7 2 -.8 2 -1.1 2 1.2 2 1.2 2 -.4 2 .2 2 .4 2 -1.3 2 -.3 2 1.5 2 .4 2 -.5 2 .6 2 -.4 2 -1.5 2 .5 2 1.3 2 -.4 2 -.3 2 .2 2 -1.3 2 -.8 2 1.4 2 .5 2 -1.2 2 -.3 2 -.2 2 -1.0 2 .7M18 643.7l2 .5 2 1.4 2 -.7 2 -1.5 2 .1 2 -.1 2 -.4 2 1.0 2 .7 2 -1.6 2 -1.1 2 .2 2 -.4 2 .0 2 1.1 2 -.7 2 -2.1 2 -.1 2 .6 2 -.3 2 .3 2 -.1 2 -1.8 2 -.7 2 1.6 2 .3 2 -1.0 2 -.3 2 -.4 2 -.5 2 1.3 2 1.0 2 -1.5 2 -1.0 2 1.1 2 .5 2 .1 2 .7 2 -.7 2 -1.4 2 1.1 2 1.5 2 -.3 2 -.3 2 .1 2 -1.0 2 -.1 2 1.7 2 .5 2 -1.0 2 -.1 2 -.3 2 -1.0 2 .7 2 1.6 2 -.5 2 -.8 2 .2 2 -.9 2 -.6 2 1.4 2 1.0 2 -.9 2 -.3 2 .0 2 -1.0 2 .5 2 1.8 2 .0 2 -1.1 2 .1 2 .0 2 .0 2 1.6 2 .8 2 -1.5 2 -.5 2 1.3 2 .5 2 .3 2 .6 2 -.9 2 -.9 2 1.6 2 1.3 2 -.9 2 -.6 2 .2 2 -.3 2 .6 2 1.3 2 -.9 2 -1.7 2 .4 2 .7 2 -.2 2 .5 2 -.1 2 -1.8 2 -.5 2 1.3 2 .1 2 -.3 2 .4 2 -.8 2 -1.6 2 .6 2 1.2 2 -.3 2 .2 2 .4 2 -1.4 2 -.8 2 1.4 2 .7 2 -.2 2 .7 2 -.3 2 -1.5 2 .4 2 1.7 2 .1 2 -.1 2 .3 2 -1.0 2 -.6 2 1.7 2 1.0 2 -1.2 2 -.4 2 .1 2 -.3 2 .8 2 1.1 2 -1.2 2 -1.5 2 .9 2 .9 2 -.3 2 .1 2 -.5 2 -1.3 2 .7 2 1.8 2 -.5 2 -1.2 2 .2 2 -.1 2 .1 2 1.5 2 .5 2 -1.5 2 -.3 2 .9 2 .1 2 .8 2 1.4 2 -.6 2 -1.3 2 .7 2 .7 2 .1 2 1.3 2 .8 2 -1.3 2 -.7 2 .9 2 .1 2 .3 2 1.4 2 -.2 2 -1.7 2 .0 2 .7 2 -.1 2 .6 2 .5 2 -1.6 2 -1.1 2 1.1 2 .6 2 -.5 2 .0 2 -.7 2 -1.3 2 .8 2 1.5 2 -1.0 2 -1.3 2 .3 2 -.1 2 .2 2 1.1 2 -.5 2 -1.9 2 .4 2 1.5 2 -.2 2 -.2 2 .0 2 -1.1 2 -.3 2 1.7 2 .5 2 -1.2 2 -.2 2 -.2 2 -.9 2 .8 2 1.4 2 -.8 2 -1.2 2 .0 2 -.7 2 -.6 2 1.3 2 .5 2 -1.4 2 -.7 2 -.2 2 -1.1 2 .1 2 1.5 2 -.4 2 -1.4 2 -.2 2 -.4 2 -.7 2 1.2 2 .9 2 -1.4 2 -1.0 2 .5 2 .1 2 .3 2 1.2 2 -.8 2 -1.6 2 .8 2 1.5 2 -.2 2 -.1 2 .0 2 -.9 2 .5 2 1.9 2 -.1 2 -1.5 2 .1 2 .7 2 .0 2 .9 2 .3 2 -1.7 2 -.6 2 1.4 2 .4 2 -.4 2 .4 2 -.8 2 -1.5 2 .8 2 1.3 2 -.4 2 -.3 2 .1 2 -1.3 2 -.6 2 1.4 2 .7 2 -.5 2 .3 2 -.3 2 -1.5 2 .4 2 1.7 2 .0 2 -.2 2 .4 2 -.9 2 -.8 2 1.6 2 1.2 2 -.7 2 -.2 2 .0 2 -.8 2 .6 2 1.8 2 -.6 2 -1.5 2 .2 2 .5 2 -.1 2 .8 2 -.3 2 -1.9 2 -.1 2 1.6 2 -.1 2 -1.0 2 -.2 2 -.8 2 -.5 2 1.4 2 .5 2 -1.8M19 649.4l2 -1.5 2 -1.1 2 .9 2 -.1 2 -.3 2 1.1 2 -.2 2 -2.0 2 -.3 2 .7 2 -.6 2 .1 2 .8 2 -1.5 2 -1.6 2 .7 2 .4 2 -.7 2 .2 2 -.3 2 -1.8 2 .1 2 1.6 2 -.5 2 -1.2 2 .2 2 -.4 2 -.4 2 1.4 2 .3 2 -1.8 2 -.2 2 1.4 2 .0 2 -.1 2 .7 2 -1.0 2 -.8 2 1.6 2 1.0 2 -1.0 2 -.1 2 .3 2 -.9 2 .5 2 1.7 2 -.5 2 -1.2 2 .4 2 -.2 2 -.7 2 1.3 2 .9 2 -1.3 2 -.6 2 .4 2 -.8 2 .0 2 1.7 2 .0 2 -1.4 2 .1 2 .1 2 -.8 2 1.1 2 1.4 2 -1.0 2 -.9 2 .8 2 .0 2 .0 2 1.6 2 .2 2 -1.7 2 .4 2 1.5 2 -.1 2 .2 2 .7 2 -1.1 2 -.4 2 2.0 2 .6 2 -1.3 2 .0 2 .4 2 -.4 2 .8 2 1.0 2 -1.5 2 -1.2 2 1.2 2 .5 2 -.6 2 .4 2 -.4 2 -1.7 2 .4 2 1.4 2 -.6 2 -.5 2 .4 2 -1.1 2 -1.0 2 1.4 2 .7 2 -.9 2 .2 2 .1 2 -1.4 2 .1 2 1.7 2 .0 2 -.5 2 .7 2 -.6 2 -1.1 2 1.3 2 1.4 2 -.7 2 -.1 2 .4 2 -1.0 2 .0 2 1.9 2 .1 2 -1.4 2 .1 2 .4 2 -.5 2 1.0 2 .7 2 -1.7 2 -.8 2 1.5 2 .2 2 -.6 2 .3 2 -.6 2 -1.1 2 1.3 2 1.3 2 -1.4 2 -.8 2 .8 2 -.2 2 .2 2 1.4 2 -.3 2 -1.6 2 .6 2 1.2 2 -.2 2 .7 2 1.0 2 -1.2 2 -.7 2 1.5 2 .5 2 -.1 2 1.3 2 .1 2 -1.5 2 .2 2 1.4 2 -.2 2 .4 2 1.1 2 -1.0 2 -1.4 2 1.0 2 .7 2 -.5 2 .7 2 .1 2 -1.9 2 -.2 2 1.5 2 -.1 2 -.8 2 .3 2 -.8 2 -1.0 2 1.3 2 .9 2 -1.7 2 -.7 2 .7 2 -.2 2 .1 2 1.0 2 -1.1 2 -1.5 2 1.3 2 1.1 2 -.9 2 -.1 2 .2 2 -1.1 2 .3 2 1.8 2 -.5 2 -1.3 2 .3 2 -.1 2 -.6 2 1.1 2 .8 2 -1.6 2 -.8 2 .5 2 -.7 2 -.2 2 1.4 2 -.4 2 -1.8 2 -.1 2 .0 2 -.9 2 .6 2 1.0 2 -1.3 2 -1.4 2 .4 2 -.3 2 -.5 2 1.3 2 .1 2 -1.9 2 -.2 2 .9 2 -.3 2 .3 2 .9 2 -1.2 2 -1.1 2 1.5 2 1.0 2 -.8 2 .1 2 .2 2 -.9 2 .9 2 1.7 2 -.9 2 -1.3 2 .9 2 .5 2 -.2 2 .9 2 -.1 2 -1.7 2 .3 2 1.6 2 -.4 2 -.5 2 .4 2 -1.0 2 -.9 2 1.5 2 .7 2 -1.1 2 -.2 2 .2 2 -1.3 2 .1 2 1.8 2 -.2 2 -.9 2 .4 2 -.5 2 -1.0 2 1.2 2 1.4 2 -.8 2 -.2 2 .5 2 -1.0 2 -.1 2 1.9 2 .4 2 -1.1 2 .2 2 .1 2 -.7 2 1.1 2 1.3 2 -1.3 2 -1.1 2 1.0 2 .2 2 -.3 2 .8 2 -.6 2 -1.7 2 .7 2 1.4 2 -.9 2 -.9 2 .2 2 -.8 2 -.2 2 1.4 2 -.3 2 -2.0 2 .1 2 .7M40 649.9l2 .3 2 -.1 2 -1.4 2 -.7 2 .6 2 .1 2 -.5 2 -.2 2 -.7 2 -1.0 2 .4 2 .7 2 -.3 2 -.5 2 -.1 2 -.8 2 -.3 2 1.0 2 .5 2 -.5 2 .0 2 -.1 2 -.8 2 .4 2 1.1 2 .2 2 -.3 2 .1 2 -.5 2 -.4 2 1.0 2 .8 2 -.4 2 -.3 2 -.1 2 -.5 2 .3 2 1.1 2 -.2 2 -1.1 2 .0 2 .2 2 .0 2 .6 2 -.1 2 -1.2 2 -.2 2 1.0 2 .3 2 -.5 2 -.1 2 -.4 2 -.1 2 1.0 2 .7 2 -.9 2 -.4 2 .5 2 .3 2 .5 2 .8 2 -.4 2 -.8 2 .6 2 .9 2 .2 2 .5 2 .3 2 -.8 2 -.3 2 1.0 2 .4 2 .1 2 .5 2 -.3 2 -1.0 2 .1 2 .8 2 .0 2 .1 2 .2 2 -.9 2 -.9 2 .6 2 .4 2 -.2 2 .1 2 -.4 2 -1.2 2 .1 2 .9 2 .0 2 -.6 2 -.1 2 -.5 2 -.1 2 1.0 2 .3 2 -1.0 2 -.4 2 .7 2 .2 2 .4 2 .3 2 -.7 2 -.5 2 1.1 2 .8 2 -.4 2 -.2 2 .0 2 -.4 2 .7 2 1.0 2 -.4 2 -.8 2 .1 2 .1 2 .0 2 .8 2 .2 2 -1.0 2 -.5 2 .3 2 -.1 2 .2 2 .8 2 -.3 2 -1.1 2 .0 2 .2 2 -.1 2 .7 2 .7 2 -.8 2 -.6 2 .4 2 .2 2 .4 2 1.0 2 .0 2 -.9 2 .1 2 1.0 2 .3 2 .5 2 .4 2 -.7 2 -.2 2 1.4 2 .7 2 -.4 2 -.1 2 .1 2 -.1 2 .9 2 .7 2 -.8 2 -.8 2 .6 2 .5 2 -.1 2 .2 2 -.5 2 -1.0 2 .3 2 1.0 2 -.3 2 -.6 2 -.2 2 -.7 2 -.2 2 .9 2 .3 2 -.8 2 -.3 2 -.2 2 -.6 2 .4 2 1.0 2 -.2 2 -.6 2 .0 2 -.4 2 -.4 2 .9 2 .7 2 -.5 2 -.3 2 -.1 2 -.6 2 .2 2 1.1 2 -.1 2 -.9 2 -.3 2 -.1 2 -.3 2 .7 2 .2 2 -1.2 2 -.9 2 .4 2 .2 2 -.3 2 -.1 2 -.9 2 -1.0 2 .6 2 .6 2 -.8 2 -.9 2 -.1 2 -.3 2 .2 2 .6 2 -.5 2 -1.2 2 .1 2 .6 2 .0 2 .3 2 .1 2 -.9 2 -.4 2 1.0 2 .5 2 .0 2 .3 2 -.3 2 -.8 2 .5 2 1.0 2 .1 2 .1 2 .2 2 -.7 2 -.6 2 .8 2 .6 2 -.1 2 .2 2 -.3 2 -1.0 2 .0 2 .9 2 .1 2 -.3 2 -.1 2 -.7 2 -.5 2 .9 2 .6 2 -.7 2 -.6 2 .1 2 -.1 2 .4 2 .8 2 -.7 2 -.9 2 .6 2 .8 2 .0 2 .1 2 -.1 2 -.6 2 .5 2 1.2 2 .0 2 -.8 2 .1 2 .1 2 .1 2 .9 2 .4 2 -1.0 2 -.5 2 .5 2 .0 2 .2 2 .6 2 -.6 2 -1.1 2 .0 2 .2 2 -.2 2 .4 2 .2 2 -1.1 2 -.8 2 .2 2 .0 2 -.1 2 .6 2 -.2M15 655.1l2 .0 2 .3 2 .0 2 .6 2 -.1 2 -1.6 2 -.5 2 1.0 2 .1 2 -.5 2 -.1 2 -.9 2 -1.2 2 .5 2 .8 2 -.7 2 -.5 2 -.3 2 -1.2 2 -.5 2 1.0 2 .2 2 -.7 2 -.1 2 -.5 2 -1.2 2 .4 2 1.2 2 -.2 2 -.4 2 .1 2 -.8 2 -.5 2 1.3 2 .8 2 -.6 2 -.2 2 -.1 2 -.5 2 .7 2 1.4 2 -.5 2 -1.1 2 .2 2 .4 2 .1 2 .8 2 -.2 2 -1.5 2 .1 2 1.3 2 .0 2 -.6 2 -.2 2 -.5 2 -.2 2 1.2 2 .4 2 -1.4 2 -.5 2 .5 2 .1 2 .5 2 .7 2 -.8 2 -1.1 2 .7 2 .7 2 .1 2 .7 2 .3 2 -1.2 2 -.1 2 1.1 2 .5 2 .3 2 .9 2 -.4 2 -1.1 2 .5 2 1.0 2 .1 2 .6 2 .5 2 -1.1 2 -.7 2 1.0 2 .5 2 -.1 2 .4 2 -.5 2 -1.3 2 .3 2 1.3 2 -.3 2 -.7 2 -.2 2 -.7 2 -.1 2 1.2 2 .0 2 -1.6 2 -.3 2 .7 2 .0 2 .3 2 .1 2 -1.2 2 -.5 2 1.4 2 .6 2 -.7 2 -.1 2 -.2 2 -.4 2 1.0 2 1.2 2 -.6 2 -.8 2 .3 2 .0 2 .2 2 1.2 2 .4 2 -1.2 2 -.3 2 .3 2 -.2 2 .6 2 1.1 2 -.6 2 -1.1 2 .0 2 .0 2 -.2 2 1.0 2 .6 2 -1.2 2 -.8 2 .3 2 -.1 2 .3 2 1.1 2 -.4 2 -1.4 2 .2 2 .9 2 .1 2 .5 2 .2 2 -1.1 2 -.1 2 1.7 2 .6 2 -.6 2 .0 2 .1 2 .1 2 1.3 2 .9 2 -1.1 2 -.5 2 1.1 2 .6 2 .2 2 .5 2 -.6 2 -.9 2 .9 2 1.2 2 -.3 2 -.4 2 .0 2 -.9 2 -.2 2 1.3 2 .3 2 -.9 2 -.2 2 -.4 2 -.9 2 .5 2 1.2 2 -.4 2 -.7 2 -.1 2 -.7 2 -.6 2 1.2 2 .7 2 -.7 2 -.3 2 -.2 2 -.8 2 .4 2 1.5 2 -.2 2 -1.0 2 -.1 2 .0 2 -.1 2 1.1 2 .3 2 -1.4 2 -.6 2 .9 2 .2 2 -.1 2 .0 2 -1.0 2 -.9 2 1.0 2 .7 2 -1.2 2 -.8 2 -.1 2 -.4 2 .2 2 .7 2 -1.0 2 -1.6 2 .2 2 .5 2 -.3 2 .2 2 -.2 2 -1.5 2 -.4 2 1.0 2 .2 2 -.2 2 .4 2 -.7 2 -1.2 2 .6 2 1.0 2 .0 2 .3 2 .3 2 -1.0 2 -.6 2 1.1 2 .7 2 .0 2 .5 2 -.3 2 -1.2 2 .3 2 1.3 2 .1 2 -.2 2 .0 2 -.9 2 -.4 2 1.3 2 .6 2 -1.0 2 -.6 2 .1 2 -.2 2 .6 2 .7 2 -1.2 2 -1.1 2 .8 2 .7 2 -.3 2 .0 2 -.4 2 -.9 2 .8 2 1.4 2 -.5 2 -.9 2 .2 2 .1 2 .2 2 1.2 2 .4 2 -1.2 2 -.3 2 .7 2 .1 2 .5 2 1.0 2 -.6 2 -1.1 2 .3 2 .4 2 -.1 2 .8 2 .5 2 -1.3 2 -.8 2 .4 2 -.1 2 .1 2 .8 2 -.5 2 -1.5 2 -.2 2 .4 2 -.2 2 .4 2 .2 2 -1.4 2 -.9 2 1.0 2 .5M33 657.8l2 -.7 2 .2 2 -.2 2 .1 2 .2 2 -1.1 2 -1.3 2 .4 2 .6 2 -.5 2 -.5 2 -.5 2 -.8 2 .3 2 1.0 2 -.5 2 -1.2 2 .0 2 .3 2 .1 2 .5 2 -.1 2 -1.1 2 -.1 2 1.2 2 .3 2 -.3 2 .1 2 -.5 2 -.4 2 .9 2 .9 2 -.4 2 -.3 2 -.1 2 -.6 2 .1 2 1.2 2 .1 2 -.6 2 -.1 2 -.4 2 -.7 2 .6 2 .9 2 -.3 2 -.5 2 -.1 2 -.6 2 -.2 2 1.0 2 .5 2 -.7 2 -.2 2 -.1 2 -.3 2 .8 2 1.0 2 -.4 2 -.8 2 .4 2 .5 2 .4 2 .7 2 -.1 2 -.9 2 .5 2 1.4 2 .2 2 -.4 2 .1 2 -.2 2 .2 2 1.2 2 .3 2 -1.1 2 -.2 2 .5 2 .2 2 .3 2 .3 2 -.9 2 -.9 2 .6 2 .5 2 -.2 2 .1 2 -.3 2 -1.2 2 -.2 2 .8 2 .1 2 -.2 2 .2 2 -.7 2 -1.0 2 .5 2 .7 2 .0 2 .2 2 .1 2 -1.0 2 -.3 2 1.0 2 .5 2 .0 2 .2 2 -.3 2 -.8 2 .7 2 1.2 2 -.1 2 -.5 2 .0 2 -.3 2 .3 2 1.1 2 -.1 2 -1.2 2 -.1 2 .7 2 .1 2 .2 2 -.1 2 -1.1 2 -.3 2 1.2 2 .3 2 -.8 2 -.3 2 -.2 2 -.2 2 .7 2 .8 2 -.8 2 -.7 2 .3 2 .2 2 .3 2 1.0 2 .1 2 -.9 2 .0 2 .7 2 .2 2 .7 2 .9 2 -.4 2 -.6 2 .4 2 .5 2 .3 2 1.0 2 .5 2 -.9 2 -.3 2 .6 2 .2 2 .4 2 .8 2 -.6 2 -1.0 2 .2 2 .7 2 .0 2 .1 2 -.2 2 -1.1 2 -.1 2 1.1 2 .1 2 -.9 2 -.4 2 -.1 2 -.2 2 .8 2 .2 2 -1.2 2 -.6 2 .8 2 .3 2 .0 2 .0 2 -.6 2 -.7 2 .9 2 .9 2 -.4 2 -.5 2 .0 2 -.5 2 .1 2 1.2 2 .0 2 -.8 2 -.3 2 -.2 2 -.5 2 .6 2 .7 2 -.6 2 -.8 2 -.2 2 -.7 2 -.3 2 .8 2 .2 2 -1.1 2 -.6 2 -.3 2 -.7 2 .2 2 .8 2 -.6 2 -1.1 2 -.2 2 -.1 2 -.1 2 .7 2 .0 2 -1.3 2 -.3 2 .8 2 .3 2 .0 2 .0 2 -.6 2 -.4 2 1.2 2 .8 2 -.8 2 -.4 2 .3 2 .2 2 .6 2 .7 2 -.7 2 -.9 2 .6 2 .7 2 .0 2 .2 2 -.2 2 -1.1 2 .0 2 1.0 2 .1 2 -.3 2 .0 2 -.7 2 -.8 2 .6 2 .8 2 -.3 2 -.1 2 -.1 2 -.9 2 -.3 2 1.0 2 .5 2 -.3 2 .2 2 -.3 2 -.8 2 .5 2 1.2 2 .0 2 -.2 2 .1 2 -.5 2 .0 2 1.3 2 .5 2 -.8 2 -.3 2 .3 2 .1 2 .6 2 .5 2 -1.0 2 -.7 2 .7 2 .6 2 -.3 2 -.3 2 -.5 2 -.7 2 .5 2 .9 2 -.8 2 -1.0 2 -.1 2 -.1 2 .0 2 .6 2 -.2 2 -1.3 2 -.3 2 .5 2 .0M35 662.5l2 -.6 2 -1.5 2 -.1 2 -.2 2 -.6 2 .7 2 .3 2 -1.6 2 -.8 2 .4 2 -.3 2 -.1 2 1.0 2 -.5 2 -1.5 2 .1 2 .4 2 -.4 2 .7 2 .8 2 -1.0 2 -.8 2 .6 2 .1 2 -.1 2 1.2 2 .1 2 -1.3 2 -.1 2 .8 2 -.1 2 .4 2 .7 2 -1.1 2 -1.0 2 1.1 2 .7 2 -.6 2 .0 2 -.2 2 -.9 2 .5 2 1.3 2 -.9 2 -1.2 2 .5 2 .3 2 -.2 2 .7 2 -.2 2 -1.4 2 .3 2 1.4 2 -.1 2 -.3 2 .3 2 -.6 2 -.3 2 1.5 2 .8 2 -.7 2 .0 2 .4 2 -.6 2 .6 2 1.6 2 .0 2 -.7 2 .4 2 -.1 2 -.5 2 1.2 2 1.0 2 -.7 2 -.3 2 .2 2 -.7 2 .0 2 1.4 2 .0 2 -1.1 2 -.1 2 -.1 2 -.7 2 .8 2 .9 2 -1.2 2 -1.1 2 .5 2 .1 2 -.1 2 .6 2 -.5 2 -1.4 2 .5 2 1.3 2 -.4 2 -.5 2 .1 2 -.4 2 .1 2 1.5 2 -.1 2 -1.3 2 .2 2 .8 2 .0 2 .5 2 .6 2 -1.2 2 -.6 2 1.3 2 .5 2 -.3 2 .4 2 -.3 2 -1.2 2 .3 2 1.2 2 -.2 2 -.3 2 .4 2 -1.0 2 -.9 2 .9 2 .7 2 -.5 2 .2 2 .0 2 -1.3 2 -.1 2 1.3 2 .1 2 -.3 2 .4 2 -.5 2 -.9 2 1.2 2 1.2 2 -.5 2 -.3 2 .4 2 -.3 2 .5 2 1.6 2 -.1 2 -1.2 2 .6 2 1.0 2 .1 2 .6 2 .2 2 -1.0 2 .1 2 1.7 2 .2 2 -.9 2 .1 2 .0 2 -.4 2 1.1 2 .6 2 -1.3 2 -.7 2 .6 2 -.1 2 .0 2 .9 2 -.6 2 -1.5 2 .2 2 .6 2 -.4 2 .4 2 .6 2 -1.1 2 -1.0 2 .7 2 .2 2 -.2 2 1.0 2 .0 2 -1.4 2 -.1 2 .8 2 -.1 2 .3 2 .8 2 -.9 2 -1.2 2 .8 2 .7 2 -.4 2 .3 2 -.2 2 -1.4 2 .1 2 1.4 2 -.4 2 -1.1 2 -.1 2 -.4 2 -.4 2 .8 2 .0 2 -1.8 2 -.5 2 .8 2 -.2 2 -.5 2 .1 2 -1.1 2 -.9 2 1.0 2 .6 2 -1.0 2 -.5 2 .1 2 -.8 2 .3 2 1.4 2 -.4 2 -1.0 2 .2 2 .0 2 -.4 2 1.2 2 .9 2 -.9 2 -.5 2 .5 2 -.4 2 .1 2 1.5 2 .2 2 -1.1 2 .0 2 .2 2 -.6 2 .8 2 1.1 2 -.9 2 -1.0 2 .4 2 -.1 2 -.1 2 1.0 2 -.2 2 -1.6 2 .0 2 1.0 2 -.2 2 -.1 2 .2 2 -1.0 2 -.4 2 1.4 2 .5 2 -1.2 2 -.1 2 .4 2 -.1 2 .7 2 .8 2 -1.0 2 -.8 2 1.2 2 .7 2 -.2 2 .5 2 -.2 2 -1.1 2 .5 2 1.5 2 -.2 2 -.4 2 .4 2 -.8 2 -.7 2 1.1 2 .7 2 -.7 2 -.1 2 -.1 2 -1.3 2 -.1 2 1.2 2 -.1 2 -.8 2 .1 2 -.7 2 -1.1 2 .7 2 .9 2 -.7 2 -.5 2 .1 2 -.9 2 -.1M19 666.5l2 .2 2 .0 2 .3 2 -.5 2 -1.3 2 -.3 2 .2 2 -.2 2 .2 2 .1 2 -1.1 2 -1.1 2 .1 2 .1 2 -.2 2 .3 2 -.4 2 -1.3 2 -.4 2 .7 2 .1 2 -.1 2 -.1 2 -.8 2 -.5 2 1.0 2 .7 2 -.7 2 -.5 2 .1 2 .0 2 .6 2 .7 2 -.7 2 -.9 2 .6 2 .8 2 .0 2 .0 2 -.4 2 -.7 2 .4 2 1.1 2 -.2 2 -.7 2 -.2 2 -.3 2 -.2 2 .9 2 .4 2 -.9 2 -.5 2 .0 2 -.3 2 .3 2 1.0 2 -.2 2 -.8 2 -.1 2 .0 2 -.2 2 .9 2 .9 2 -.5 2 -.5 2 .2 2 .0 2 .4 2 1.3 2 .3 2 -.8 2 -.1 2 .5 2 .3 2 .8 2 .6 2 -.7 2 -.7 2 .9 2 .7 2 .0 2 .1 2 -.5 2 -.6 2 .7 2 1.0 2 -.6 2 -.9 2 .0 2 .1 2 .1 2 .6 2 -.5 2 -1.3 2 .0 2 .8 2 .0 2 -.2 2 -.1 2 -.9 2 -.4 2 .9 2 .6 2 -.4 2 -.1 2 -.2 2 -.7 2 .4 2 1.1 2 .2 2 -.3 2 .1 2 -.5 2 -.4 2 .9 2 .9 2 -.1 2 -.1 2 -.1 2 -.7 2 .0 2 1.2 2 .3 2 -.6 2 -.2 2 -.4 2 -.3 2 .8 2 .7 2 -.8 2 -.8 2 .1 2 .0 2 .3 2 .6 2 -.7 2 -1.1 2 .4 2 1.0 2 -.1 2 -.2 2 -.2 2 -.4 2 .4 2 1.2 2 .1 2 -.9 2 .1 2 .5 2 .4 2 .8 2 .5 2 -.7 2 -.4 2 1.0 2 .6 2 .4 2 .6 2 -.2 2 -.8 2 .2 2 1.0 2 .2 2 .3 2 .4 2 -.8 2 -.7 2 .5 2 .5 2 .0 2 .4 2 -.2 2 -1.2 2 -.3 2 .7 2 .2 2 .0 2 .0 2 -.8 2 -.9 2 .7 2 .8 2 -.3 2 -.4 2 -.3 2 -.5 2 .4 2 1.1 2 -.3 2 -1.0 2 .0 2 .5 2 .2 2 .5 2 -.2 2 -1.1 2 .0 2 1.1 2 .2 2 -.6 2 -.2 2 -.5 2 -.2 2 .8 2 .4 2 -1.0 2 -.8 2 .0 2 -.3 2 .1 2 .6 2 -.6 2 -1.3 2 -.3 2 -.1 2 -.3 2 .4 2 .3 2 -1.0 2 -1.0 2 .0 2 -.2 2 .0 2 .8 2 -.1 2 -1.1 2 -.4 2 .3 2 -.1 2 .6 2 .7 2 -.7 2 -.9 2 .5 2 .6 2 .2 2 .5 2 -.3 2 -.9 2 .3 2 1.2 2 .1 2 -.5 2 -.1 2 -.3 2 .1 2 1.1 2 .1 2 -1.3 2 -.3 2 .6 2 .2 2 .1 2 .0 2 -.9 2 -.7 2 .9 2 .6 2 -.5 2 -.2 2 -.4 2 -.6 2 .4 2 1.1 2 -.1 2 -.5 2 -.1 2 -.3 2 -.2 2 1.0 2 .8 2 -.3 2 -.2 2 .0 2 -.4 2 .2 2 1.3 2 .3 2 -.4 2 -.1 2 -.2 2 -.4 2 .8 2 1.0 2 -.5 2 -.7 2 .0 2 -.3 2 .2 2 .9 2 -.3 2 -1.3 2 -.3 2 .5 2 .1 2 .0 2 -.3 2 -1.1 2 -.4 2 .9 2 .3 2 -.9 2 -.5 2 -.1 2 -.2 2 .7 2 .5" fill="none"/><g opacity="0.13"><use href="#st2" xlink:href="#st2" stroke="#000" stroke-width="1.1" stroke-dasharray="9 6 14 5" transform="translate(0,62)"/><use href="#st2" xlink:href="#st2" stroke="#fff" stroke-width="1.0" stroke-dasharray="9 6 14 5" transform="translate(0,63.6)"/><use href="#st2" xlink:href="#st2" stroke="#000" stroke-width="1.1" stroke-dasharray="9 6 14 5" transform="translate(0,118)"/><use href="#st2" xlink:href="#st2" stroke="#fff" stroke-width="1.0" stroke-dasharray="9 6 14 5" transform="translate(0,119.6)"/></g><g clip-path="url(#zone2)" mask="url(#mk2)"><use href="#st2" xlink:href="#st2" stroke="#fafafa" stroke-opacity="0.85" stroke-width="1.15" stroke-dasharray="41 3 29 2 33 3" transform="translate(0,1.8)"/><use href="#st2" xlink:href="#st2" stroke="#000" stroke-opacity="0.92" stroke-width="1.6" stroke-dasharray="37 2 27 3 45 2"/></g><g style="mix-blend-mode:overlay"><path d="M55.06 599.50h6.53v6.70h-6.53zM81.17 599.50h6.53v6.70h-6.53zM94.23 599.50h6.53v6.70h-6.53zM107.29 599.50h6.53v6.70h-6.53zM166.05 599.50h6.53v6.70h-6.53zM179.11 599.50h13.06v6.70h-13.06zM250.92 599.50h19.59v6.70h-19.59zM277.04 599.50h6.53v6.70h-6.53zM290.10 599.50h6.53v6.70h-6.53zM322.74 599.50h6.53v6.70h-6.53zM342.33 599.50h6.53v6.70h-6.53zM414.15 599.50h6.53v6.70h-6.53zM472.91 599.50h6.53v6.70h-6.53zM603.48 599.50h6.53v6.70h-6.53zM616.54 599.50h6.53v6.70h-6.53zM42.00 606.21h13.06v6.70h-13.06zM146.46 606.21h13.06v6.70h-13.06zM205.22 606.21h6.53v6.70h-6.53zM414.15 606.21h6.53v6.70h-6.53zM453.32 606.21h6.53v6.70h-6.53zM485.96 606.21h6.53v6.70h-6.53zM603.48 606.21h6.53v6.70h-6.53zM87.70 612.91h6.53v6.70h-6.53zM126.88 612.91h13.06v6.70h-13.06zM159.52 612.91h6.53v6.70h-6.53zM322.74 612.91h13.06v6.70h-13.06zM433.73 612.91h6.53v6.70h-6.53zM596.96 612.91h6.53v6.70h-6.53zM81.17 619.62h13.06v6.70h-13.06zM296.63 619.62h6.53v6.70h-6.53zM309.68 619.62h26.12v6.70h-26.12zM361.92 619.62h19.59v6.70h-19.59zM440.26 619.62h6.53v6.70h-6.53zM623.07 619.62h6.53v6.70h-6.53zM61.59 626.32h13.06v6.70h-13.06zM159.52 626.32h6.53v6.70h-6.53zM198.69 626.32h6.53v6.70h-6.53zM277.04 626.32h19.59v6.70h-19.59zM544.72 626.32h6.53v6.70h-6.53zM596.96 626.32h6.53v6.70h-6.53zM623.07 626.32h6.53v6.70h-6.53zM61.59 633.02h6.53v6.70h-6.53zM113.82 633.02h19.59v6.70h-19.59zM139.93 633.02h19.59v6.70h-19.59zM166.05 633.02h19.59v6.70h-19.59zM192.16 633.02h13.06v6.70h-13.06zM211.75 633.02h6.53v6.70h-6.53zM277.04 633.02h13.06v6.70h-13.06zM518.61 633.02h6.53v6.70h-6.53zM603.48 633.02h6.53v6.70h-6.53zM113.82 639.73h13.06v6.70h-13.06zM283.57 639.73h6.53v6.70h-6.53zM518.61 639.73h13.06v6.70h-13.06zM583.90 639.73h6.53v6.70h-6.53zM237.87 646.43h6.53v6.70h-6.53zM283.57 646.43h6.53v6.70h-6.53zM322.74 646.43h6.53v6.70h-6.53zM361.92 646.43h6.53v6.70h-6.53zM374.97 646.43h32.64v6.70h-32.64zM433.73 646.43h6.53v6.70h-6.53zM446.79 646.43h13.06v6.70h-13.06zM485.96 646.43h19.59v6.70h-19.59zM525.14 646.43h13.06v6.70h-13.06zM583.90 646.43h6.53v6.70h-6.53zM374.97 653.14h19.59v6.70h-19.59zM440.26 653.14h13.06v6.70h-13.06zM466.38 653.14h19.59v6.70h-19.59zM525.14 653.14h6.53v6.70h-6.53zM616.54 653.14h13.06v6.70h-13.06zM361.92 659.84h6.53v6.70h-6.53zM374.97 659.84h6.53v6.70h-6.53zM414.15 659.84h13.06v6.70h-13.06zM368.44 666.54h13.06v6.70h-13.06zM414.15 666.54h13.06v6.70h-13.06zM459.85 666.54h13.06v6.70h-13.06zM81.17 673.25h6.53v6.70h-6.53zM179.11 673.25h13.06v6.70h-13.06zM414.15 673.25h13.06v6.70h-13.06zM466.38 673.25h13.06v6.70h-13.06zM81.17 679.95h6.53v6.70h-6.53zM107.29 679.95h6.53v6.70h-6.53zM133.40 679.95h19.59v6.70h-19.59zM159.52 679.95h6.53v6.70h-6.53zM172.58 679.95h13.06v6.70h-13.06zM420.68 679.95h6.53v6.70h-6.53zM472.91 679.95h6.53v6.70h-6.53zM107.29 686.66h6.53v6.70h-6.53zM146.46 686.66h6.53v6.70h-6.53zM166.05 686.66h13.06v6.70h-13.06zM374.97 686.66h32.64v6.70h-32.64zM459.85 686.66h19.59v6.70h-19.59zM100.76 693.36h13.06v6.70h-13.06zM146.46 693.36h13.06v6.70h-13.06zM381.50 693.36h26.12v6.70h-26.12zM459.85 693.36h19.59v6.70h-19.59zM518.61 693.36h13.06v6.70h-13.06zM146.46 700.06h13.06v6.70h-13.06zM499.02 700.06h6.53v6.70h-6.53z" fill="#88f692"/><path d="M61.59 599.50h13.06v6.70h-13.06zM87.70 599.50h6.53v6.70h-6.53zM211.75 599.50h13.06v6.70h-13.06zM479.44 599.50h13.06v6.70h-13.06zM81.17 606.21h13.06v6.70h-13.06zM342.33 606.21h6.53v6.70h-6.53zM407.62 606.21h6.53v6.70h-6.53zM505.55 606.21h6.53v6.70h-6.53zM94.23 612.91h6.53v6.70h-6.53zM146.46 612.91h6.53v6.70h-6.53zM192.16 612.91h13.06v6.70h-13.06zM407.62 612.91h6.53v6.70h-6.53zM55.06 619.62h6.53v6.70h-6.53zM94.23 619.62h6.53v6.70h-6.53zM139.93 619.62h26.12v6.70h-26.12zM198.69 619.62h6.53v6.70h-6.53zM250.92 619.62h13.06v6.70h-13.06zM388.03 619.62h6.53v6.70h-6.53zM420.68 619.62h13.06v6.70h-13.06zM531.67 619.62h6.53v6.70h-6.53zM596.96 619.62h13.06v6.70h-13.06zM55.06 626.32h6.53v6.70h-6.53zM87.70 626.32h19.59v6.70h-19.59zM133.40 626.32h19.59v6.70h-19.59zM244.40 626.32h26.12v6.70h-26.12zM296.63 626.32h39.17v6.70h-39.17zM342.33 626.32h26.12v6.70h-26.12zM374.97 626.32h19.59v6.70h-19.59zM407.62 626.32h32.64v6.70h-32.64zM446.79 626.32h19.59v6.70h-19.59zM472.91 626.32h26.12v6.70h-26.12zM512.08 626.32h6.53v6.70h-6.53zM531.67 626.32h13.06v6.70h-13.06zM42.00 633.02h6.53v6.70h-6.53zM55.06 633.02h6.53v6.70h-6.53zM68.12 633.02h13.06v6.70h-13.06zM87.70 633.02h13.06v6.70h-13.06zM133.40 633.02h6.53v6.70h-6.53zM244.40 633.02h19.59v6.70h-19.59zM296.63 633.02h26.12v6.70h-26.12zM329.27 633.02h13.06v6.70h-13.06zM355.39 633.02h78.35v6.70h-78.35zM446.79 633.02h65.29v6.70h-65.29zM531.67 633.02h6.53v6.70h-6.53zM610.01 633.02h19.59v6.70h-19.59zM42.00 639.73h19.59v6.70h-19.59zM263.98 639.73h6.53v6.70h-6.53zM296.63 639.73h26.12v6.70h-26.12zM335.80 639.73h13.06v6.70h-13.06zM374.97 639.73h19.59v6.70h-19.59zM407.62 639.73h26.12v6.70h-26.12zM453.32 639.73h45.70v6.70h-45.70zM570.84 639.73h13.06v6.70h-13.06zM610.01 639.73h19.59v6.70h-19.59zM42.00 646.43h19.59v6.70h-19.59zM329.27 646.43h19.59v6.70h-19.59zM368.44 646.43h6.53v6.70h-6.53zM414.15 646.43h19.59v6.70h-19.59zM466.38 646.43h6.53v6.70h-6.53zM570.84 646.43h13.06v6.70h-13.06zM616.54 646.43h13.06v6.70h-13.06zM48.53 653.14h13.06v6.70h-13.06zM361.92 653.14h6.53v6.70h-6.53zM407.62 653.14h19.59v6.70h-19.59zM570.84 653.14h13.06v6.70h-13.06zM394.56 659.84h19.59v6.70h-19.59zM453.32 659.84h13.06v6.70h-13.06zM94.23 666.54h13.06v6.70h-13.06zM244.40 666.54h6.53v6.70h-6.53zM433.73 666.54h6.53v6.70h-6.53zM446.79 666.54h13.06v6.70h-13.06zM479.44 666.54h13.06v6.70h-13.06zM87.70 673.25h19.59v6.70h-19.59zM146.46 673.25h13.06v6.70h-13.06zM368.44 673.25h6.53v6.70h-6.53zM446.79 673.25h13.06v6.70h-13.06zM87.70 679.95h6.53v6.70h-6.53zM113.82 679.95h13.06v6.70h-13.06zM368.44 679.95h6.53v6.70h-6.53zM81.17 686.66h13.06v6.70h-13.06zM113.82 686.66h13.06v6.70h-13.06zM159.52 686.66h6.53v6.70h-6.53zM368.44 686.66h6.53v6.70h-6.53zM407.62 686.66h13.06v6.70h-13.06zM42.00 693.36h6.53v6.70h-6.53zM94.23 693.36h6.53v6.70h-6.53zM166.05 693.36h6.53v6.70h-6.53zM368.44 693.36h6.53v6.70h-6.53zM407.62 693.36h6.53v6.70h-6.53zM42.00 700.06h13.06v6.70h-13.06zM94.23 700.06h6.53v6.70h-6.53zM42.00 706.77h13.06v6.70h-13.06z" fill="#6ff5f9"/><path d="M74.64 599.50h6.53v6.70h-6.53zM100.76 599.50h6.53v6.70h-6.53zM113.82 599.50h6.53v6.70h-6.53zM139.93 599.50h6.53v6.70h-6.53zM152.99 599.50h13.06v6.70h-13.06zM172.58 599.50h6.53v6.70h-6.53zM244.40 599.50h6.53v6.70h-6.53zM296.63 599.50h6.53v6.70h-6.53zM309.68 599.50h13.06v6.70h-13.06zM329.27 599.50h13.06v6.70h-13.06zM348.86 599.50h6.53v6.70h-6.53zM368.44 599.50h13.06v6.70h-13.06zM401.09 599.50h13.06v6.70h-13.06zM420.68 599.50h13.06v6.70h-13.06zM453.32 599.50h13.06v6.70h-13.06zM512.08 599.50h6.53v6.70h-6.53zM531.67 599.50h13.06v6.70h-13.06zM577.37 599.50h13.06v6.70h-13.06zM596.96 599.50h6.53v6.70h-6.53zM610.01 599.50h6.53v6.70h-6.53zM623.07 599.50h6.53v6.70h-6.53zM55.06 606.21h6.53v6.70h-6.53zM94.23 606.21h6.53v6.70h-6.53zM107.29 606.21h13.06v6.70h-13.06zM139.93 606.21h6.53v6.70h-6.53zM159.52 606.21h6.53v6.70h-6.53zM172.58 606.21h6.53v6.70h-6.53zM185.64 606.21h6.53v6.70h-6.53zM198.69 606.21h6.53v6.70h-6.53zM211.75 606.21h13.06v6.70h-13.06zM290.10 606.21h13.06v6.70h-13.06zM322.74 606.21h13.06v6.70h-13.06zM348.86 606.21h32.64v6.70h-32.64zM446.79 606.21h6.53v6.70h-6.53zM466.38 606.21h19.59v6.70h-19.59zM577.37 606.21h6.53v6.70h-6.53zM596.96 606.21h6.53v6.70h-6.53zM610.01 606.21h19.59v6.70h-19.59zM48.53 612.91h6.53v6.70h-6.53zM113.82 612.91h13.06v6.70h-13.06zM296.63 612.91h6.53v6.70h-6.53zM335.80 612.91h13.06v6.70h-13.06zM368.44 612.91h13.06v6.70h-13.06zM401.09 612.91h6.53v6.70h-6.53zM414.15 612.91h19.59v6.70h-19.59zM472.91 612.91h6.53v6.70h-6.53zM590.43 612.91h6.53v6.70h-6.53zM603.48 612.91h6.53v6.70h-6.53zM126.88 619.62h13.06v6.70h-13.06zM166.05 619.62h6.53v6.70h-6.53zM303.16 619.62h6.53v6.70h-6.53zM335.80 619.62h13.06v6.70h-13.06zM355.39 619.62h6.53v6.70h-6.53zM394.56 619.62h6.53v6.70h-6.53zM407.62 619.62h13.06v6.70h-13.06zM433.73 619.62h6.53v6.70h-6.53zM446.79 619.62h6.53v6.70h-6.53zM466.38 619.62h13.06v6.70h-13.06zM499.02 619.62h19.59v6.70h-19.59zM616.54 619.62h6.53v6.70h-6.53zM166.05 626.32h6.53v6.70h-6.53zM192.16 626.32h6.53v6.70h-6.53zM218.28 626.32h6.53v6.70h-6.53zM335.80 626.32h6.53v6.70h-6.53zM518.61 626.32h6.53v6.70h-6.53zM610.01 626.32h13.06v6.70h-13.06zM218.28 633.02h19.59v6.70h-19.59zM290.10 633.02h6.53v6.70h-6.53zM525.14 633.02h6.53v6.70h-6.53zM538.20 633.02h13.06v6.70h-13.06zM577.37 633.02h6.53v6.70h-6.53zM590.43 633.02h13.06v6.70h-13.06zM218.28 639.73h19.59v6.70h-19.59zM250.92 639.73h13.06v6.70h-13.06zM290.10 639.73h6.53v6.70h-6.53zM538.20 639.73h26.12v6.70h-26.12zM590.43 639.73h13.06v6.70h-13.06zM244.40 646.43h6.53v6.70h-6.53zM270.51 646.43h13.06v6.70h-13.06zM250.92 653.14h32.64v6.70h-32.64zM348.86 653.14h13.06v6.70h-13.06zM368.44 653.14h6.53v6.70h-6.53zM433.73 653.14h6.53v6.70h-6.53zM453.32 653.14h13.06v6.70h-13.06zM485.96 653.14h13.06v6.70h-13.06zM531.67 653.14h6.53v6.70h-6.53zM257.45 659.84h19.59v6.70h-19.59zM348.86 659.84h13.06v6.70h-13.06zM368.44 659.84h6.53v6.70h-6.53zM446.79 659.84h6.53v6.70h-6.53zM472.91 659.84h13.06v6.70h-13.06zM531.67 659.84h13.06v6.70h-13.06zM172.58 666.54h19.59v6.70h-19.59zM166.05 673.25h13.06v6.70h-13.06zM94.23 679.95h13.06v6.70h-13.06zM166.05 679.95h6.53v6.70h-6.53zM185.64 679.95h6.53v6.70h-6.53zM100.76 686.66h6.53v6.70h-6.53zM139.93 686.66h6.53v6.70h-6.53zM179.11 686.66h13.06v6.70h-13.06zM427.20 686.66h6.53v6.70h-6.53zM427.20 693.36h6.53v6.70h-6.53zM368.44 700.06h13.06v6.70h-13.06zM407.62 700.06h13.06v6.70h-13.06zM427.20 700.06h6.53v6.70h-6.53zM440.26 700.06h6.53v6.70h-6.53zM492.49 700.06h6.53v6.70h-6.53z" fill="#b1f357"/><path d="M120.35 599.50h13.06v6.70h-13.06zM492.49 599.50h6.53v6.70h-6.53zM120.35 606.21h13.06v6.70h-13.06zM74.64 612.91h6.53v6.70h-6.53zM179.11 612.91h6.53v6.70h-6.53zM185.64 619.62h6.53v6.70h-6.53zM577.37 619.62h6.53v6.70h-6.53zM205.22 626.32h6.53v6.70h-6.53zM355.39 646.43h6.53v6.70h-6.53zM538.20 646.43h6.53v6.70h-6.53zM538.20 653.14h6.53v6.70h-6.53zM427.20 666.54h6.53v6.70h-6.53zM407.62 673.25h6.53v6.70h-6.53zM479.44 673.25h6.53v6.70h-6.53zM479.44 679.95h6.53v6.70h-6.53zM211.75 686.66h13.06v6.70h-13.06zM211.75 693.36h13.06v6.70h-13.06zM211.75 700.06h13.06v6.70h-13.06z" fill="#f0781e"/><path d="M133.40 599.50h6.53v6.70h-6.53zM192.16 599.50h13.06v6.70h-13.06zM381.50 599.50h6.53v6.70h-6.53zM440.26 599.50h6.53v6.70h-6.53zM68.12 606.21h6.53v6.70h-6.53zM224.81 606.21h13.06v6.70h-13.06zM244.40 606.21h19.59v6.70h-19.59zM309.68 606.21h6.53v6.70h-6.53zM381.50 606.21h6.53v6.70h-6.53zM394.56 606.21h6.53v6.70h-6.53zM531.67 606.21h6.53v6.70h-6.53zM551.25 606.21h6.53v6.70h-6.53zM68.12 612.91h6.53v6.70h-6.53zM185.64 612.91h6.53v6.70h-6.53zM218.28 612.91h6.53v6.70h-6.53zM231.34 612.91h6.53v6.70h-6.53zM309.68 612.91h6.53v6.70h-6.53zM381.50 612.91h6.53v6.70h-6.53zM440.26 612.91h13.06v6.70h-13.06zM531.67 612.91h6.53v6.70h-6.53zM544.72 612.91h13.06v6.70h-13.06zM107.29 619.62h6.53v6.70h-6.53zM179.11 619.62h6.53v6.70h-6.53zM479.44 619.62h6.53v6.70h-6.53zM544.72 619.62h19.59v6.70h-19.59zM107.29 626.32h6.53v6.70h-6.53zM185.64 626.32h6.53v6.70h-6.53zM557.78 626.32h6.53v6.70h-6.53zM577.37 626.32h6.53v6.70h-6.53zM355.39 639.73h6.53v6.70h-6.53zM564.31 646.43h6.53v6.70h-6.53zM414.15 679.95h6.53v6.70h-6.53zM381.50 700.06h6.53v6.70h-6.53z" fill="#f4bb26"/><path d="M146.46 599.50h6.53v6.70h-6.53zM205.22 599.50h6.53v6.70h-6.53zM237.87 599.50h6.53v6.70h-6.53zM303.16 599.50h6.53v6.70h-6.53zM355.39 599.50h13.06v6.70h-13.06zM388.03 599.50h13.06v6.70h-13.06zM433.73 599.50h6.53v6.70h-6.53zM446.79 599.50h6.53v6.70h-6.53zM499.02 599.50h6.53v6.70h-6.53zM518.61 599.50h13.06v6.70h-13.06zM544.72 599.50h13.06v6.70h-13.06zM564.31 599.50h13.06v6.70h-13.06zM590.43 599.50h6.53v6.70h-6.53zM61.59 606.21h6.53v6.70h-6.53zM100.76 606.21h6.53v6.70h-6.53zM133.40 606.21h6.53v6.70h-6.53zM166.05 606.21h6.53v6.70h-6.53zM179.11 606.21h6.53v6.70h-6.53zM192.16 606.21h6.53v6.70h-6.53zM237.87 606.21h6.53v6.70h-6.53zM303.16 606.21h6.53v6.70h-6.53zM316.21 606.21h6.53v6.70h-6.53zM388.03 606.21h6.53v6.70h-6.53zM401.09 606.21h6.53v6.70h-6.53zM420.68 606.21h13.06v6.70h-13.06zM459.85 606.21h6.53v6.70h-6.53zM492.49 606.21h13.06v6.70h-13.06zM512.08 606.21h19.59v6.70h-19.59zM538.20 606.21h13.06v6.70h-13.06zM564.31 606.21h13.06v6.70h-13.06zM583.90 606.21h13.06v6.70h-13.06zM55.06 612.91h13.06v6.70h-13.06zM81.17 612.91h6.53v6.70h-6.53zM100.76 612.91h13.06v6.70h-13.06zM166.05 612.91h13.06v6.70h-13.06zM205.22 612.91h13.06v6.70h-13.06zM224.81 612.91h6.53v6.70h-6.53zM303.16 612.91h6.53v6.70h-6.53zM316.21 612.91h6.53v6.70h-6.53zM348.86 612.91h19.59v6.70h-19.59zM388.03 612.91h13.06v6.70h-13.06zM453.32 612.91h19.59v6.70h-19.59zM479.44 612.91h52.23v6.70h-52.23zM538.20 612.91h6.53v6.70h-6.53zM564.31 612.91h26.12v6.70h-26.12zM610.01 612.91h19.59v6.70h-19.59zM61.59 619.62h19.59v6.70h-19.59zM113.82 619.62h13.06v6.70h-13.06zM172.58 619.62h6.53v6.70h-6.53zM205.22 619.62h6.53v6.70h-6.53zM218.28 619.62h26.12v6.70h-26.12zM263.98 619.62h13.06v6.70h-13.06zM348.86 619.62h6.53v6.70h-6.53zM401.09 619.62h6.53v6.70h-6.53zM453.32 619.62h13.06v6.70h-13.06zM485.96 619.62h13.06v6.70h-13.06zM518.61 619.62h13.06v6.70h-13.06zM564.31 619.62h13.06v6.70h-13.06zM583.90 619.62h13.06v6.70h-13.06zM610.01 619.62h6.53v6.70h-6.53zM74.64 626.32h13.06v6.70h-13.06zM113.82 626.32h19.59v6.70h-19.59zM172.58 626.32h13.06v6.70h-13.06zM224.81 626.32h19.59v6.70h-19.59zM525.14 626.32h6.53v6.70h-6.53zM564.31 626.32h13.06v6.70h-13.06zM583.90 626.32h13.06v6.70h-13.06zM81.17 633.02h6.53v6.70h-6.53zM205.22 633.02h6.53v6.70h-6.53zM237.87 633.02h6.53v6.70h-6.53zM551.25 633.02h13.06v6.70h-13.06zM570.84 633.02h6.53v6.70h-6.53zM583.90 633.02h6.53v6.70h-6.53zM61.59 639.73h13.06v6.70h-13.06zM237.87 639.73h13.06v6.70h-13.06zM361.92 639.73h6.53v6.70h-6.53zM250.92 646.43h19.59v6.70h-19.59zM348.86 646.43h6.53v6.70h-6.53zM610.01 646.43h6.53v6.70h-6.53zM499.02 653.14h6.53v6.70h-6.53zM557.78 653.14h13.06v6.70h-13.06zM610.01 653.14h6.53v6.70h-6.53zM433.73 659.84h13.06v6.70h-13.06zM485.96 659.84h19.59v6.70h-19.59zM492.49 666.54h13.06v6.70h-13.06zM538.20 666.54h19.59v6.70h-19.59zM538.20 673.25h19.59v6.70h-19.59zM361.92 679.95h6.53v6.70h-6.53zM407.62 679.95h6.53v6.70h-6.53zM433.73 679.95h13.06v6.70h-13.06zM544.72 679.95h13.06v6.70h-13.06zM94.23 686.66h6.53v6.70h-6.53zM133.40 686.66h6.53v6.70h-6.53zM361.92 686.66h6.53v6.70h-6.53zM433.73 686.66h13.06v6.70h-13.06zM133.40 693.36h13.06v6.70h-13.06zM361.92 693.36h6.53v6.70h-6.53zM433.73 693.36h13.06v6.70h-13.06zM166.05 700.06h6.53v6.70h-6.53zM355.39 700.06h13.06v6.70h-13.06zM433.73 700.06h6.53v6.70h-6.53z" fill="#e9f038"/><path d="M283.57 599.50h6.53v6.70h-6.53zM466.38 599.50h6.53v6.70h-6.53zM505.55 599.50h6.53v6.70h-6.53zM335.80 606.21h6.53v6.70h-6.53zM139.93 612.91h6.53v6.70h-6.53zM152.99 612.91h6.53v6.70h-6.53zM100.76 619.62h6.53v6.70h-6.53zM192.16 619.62h6.53v6.70h-6.53zM211.75 619.62h6.53v6.70h-6.53zM244.40 619.62h6.53v6.70h-6.53zM381.50 619.62h6.53v6.70h-6.53zM538.20 619.62h6.53v6.70h-6.53zM152.99 626.32h6.53v6.70h-6.53zM211.75 626.32h6.53v6.70h-6.53zM270.51 626.32h6.53v6.70h-6.53zM368.44 626.32h6.53v6.70h-6.53zM394.56 626.32h13.06v6.70h-13.06zM440.26 626.32h6.53v6.70h-6.53zM466.38 626.32h6.53v6.70h-6.53zM499.02 626.32h13.06v6.70h-13.06zM603.48 626.32h6.53v6.70h-6.53zM263.98 633.02h13.06v6.70h-13.06zM433.73 633.02h13.06v6.70h-13.06zM512.08 633.02h6.53v6.70h-6.53zM211.75 639.73h6.53v6.70h-6.53zM270.51 639.73h13.06v6.70h-13.06zM394.56 639.73h13.06v6.70h-13.06zM433.73 639.73h19.59v6.70h-19.59zM499.02 639.73h19.59v6.70h-19.59zM531.67 639.73h6.53v6.70h-6.53zM407.62 646.43h6.53v6.70h-6.53zM440.26 646.43h6.53v6.70h-6.53zM459.85 646.43h6.53v6.70h-6.53zM472.91 646.43h13.06v6.70h-13.06zM244.40 653.14h6.53v6.70h-6.53zM394.56 653.14h13.06v6.70h-13.06zM244.40 659.84h13.06v6.70h-13.06zM466.38 659.84h6.53v6.70h-6.53zM459.85 673.25h6.53v6.70h-6.53zM42.00 679.95h19.59v6.70h-19.59zM152.99 679.95h6.53v6.70h-6.53zM192.16 679.95h13.06v6.70h-13.06zM459.85 679.95h13.06v6.70h-13.06zM42.00 686.66h19.59v6.70h-19.59zM152.99 686.66h6.53v6.70h-6.53zM192.16 686.66h13.06v6.70h-13.06zM48.53 693.36h13.06v6.70h-13.06zM113.82 693.36h19.59v6.70h-19.59zM172.58 693.36h6.53v6.70h-6.53zM374.97 693.36h6.53v6.70h-6.53zM414.15 693.36h6.53v6.70h-6.53zM531.67 693.36h6.53v6.70h-6.53zM120.35 700.06h13.06v6.70h-13.06zM518.61 700.06h19.59v6.70h-19.59zM120.35 706.77h6.53v6.70h-6.53z" fill="#77f8d4"/><path d="M557.78 599.50h6.53v6.70h-6.53zM74.64 606.21h6.53v6.70h-6.53zM433.73 606.21h13.06v6.70h-13.06zM557.78 612.91h6.53v6.70h-6.53zM551.25 626.32h6.53v6.70h-6.53zM505.55 646.43h13.06v6.70h-13.06zM544.72 646.43h6.53v6.70h-6.53z" fill="#f83e16"/><path d="M557.78 606.21h6.53v6.70h-6.53zM551.25 646.43h13.06v6.70h-13.06zM505.55 653.14h13.06v6.70h-13.06zM544.72 653.14h13.06v6.70h-13.06zM381.50 659.84h13.06v6.70h-13.06zM505.55 659.84h6.53v6.70h-6.53zM381.50 666.54h13.06v6.70h-13.06zM381.50 673.25h13.06v6.70h-13.06z" fill="#ed2514"/><path d="M42.00 619.62h6.53v6.70h-6.53zM42.00 626.32h6.53v6.70h-6.53zM159.52 693.36h6.53v6.70h-6.53z" fill="#1611ff"/><path d="M48.53 619.62h6.53v6.70h-6.53zM48.53 626.32h6.53v6.70h-6.53zM48.53 633.02h6.53v6.70h-6.53zM322.74 633.02h6.53v6.70h-6.53zM342.33 633.02h13.06v6.70h-13.06zM322.74 639.73h13.06v6.70h-13.06zM348.86 639.73h6.53v6.70h-6.53zM368.44 639.73h6.53v6.70h-6.53zM81.17 693.36h13.06v6.70h-13.06z" fill="#3780ff"/></g><g opacity="0.45"><path d="M75.4 690.0V760.0" stroke="#e8e8e8" stroke-width="0.9" stroke-dasharray="1 1.2"/><path d="M75.8 690.0V760.0" stroke="#333" stroke-width="0.6" stroke-dasharray="1 1.2" stroke-dashoffset="1.1"/></g><g opacity="0.60"><path d="M609.3 670.0V760.0" stroke="#e8e8e8" stroke-width="0.9" stroke-dasharray="1 1.2"/><path d="M609.7 670.0V760.0" stroke="#333" stroke-width="0.6" stroke-dasharray="1 1.2" stroke-dashoffset="1.1"/></g><rect x="42.0" y="592.8" width="5" height="167.6" fill="#858585"/></g><text x="135.7" y="660.2" font-size="12.2" font-weight="bold">E4</text><text x="589.9" y="674.5" font-size="12.2" font-weight="bold">E5</text><rect x="42.0" y="592.8" width="14.4" height="14.6" fill="#fff"/><text x="46.0" y="605.0" font-size="12.8" font-weight="bold">e</text><rect x="42.0" y="749.6" width="29" height="10.8" fill="#fff"/><text x="45.8" y="758.1" font-size="9.8">1300</text><rect x="510.2" y="737.7" width="117.9" height="22.7" fill="#fff" stroke="#555" stroke-width="0.7"/><text x="515.3" y="750.4" font-size="10">log</text><text x="527.1" y="758.0" font-size="8.6">10</text><text x="536.4" y="750.4" font-size="9.2">K</text><text x="542.3" y="755.4" font-size="13" font-style="italic" font-family="Liberation Serif">&#961;</text><text x="551.2" y="750.4" font-size="10">=</text><text x="559.4" y="750.4" font-size="10" textLength="37.6" lengthAdjust="spacingAndGlyphs">-4.9±0.4</text><text x="599.6" y="750.4" font-size="10">m</text><text x="607.3" y="745.4" font-size="8.6">2</text><text x="612.2" y="750.4" font-size="10">s</text><text x="617.2" y="745.9" font-size="8.6">-1</text><path d="M42.0 592.8H629.6" stroke="#222" stroke-width="1"/><path d="M42.0 760.4H629.6" stroke="#222" stroke-width="1"/><path d="M42.0 592.8V760.4" stroke="#555" stroke-width="1"/><path d="M629.6 592.8V760.4" stroke="#555" stroke-width="1"/><path d="M42.0 592.8v-2.3M42.0 760.4v2.3M42.0 769.0v-2.3M42.0 836.3v2.3M64.5 592.8v-2.3M64.5 760.4v2.3M64.5 769.0v-2.3M64.5 836.3v2.3M87.0 592.8v-2.3M87.0 760.4v2.3M87.0 769.0v-2.3M87.0 836.3v2.3M109.6 592.8v-2.3M109.6 760.4v2.3M109.6 769.0v-2.3M109.6 836.3v2.3M132.1 592.8v-2.3M132.1 760.4v2.3M132.1 769.0v-2.3M132.1 836.3v2.3M154.6 592.8v-2.3M154.6 760.4v2.3M154.6 769.0v-2.3M154.6 836.3v2.3M177.1 592.8v-2.3M177.1 760.4v2.3M177.1 769.0v-2.3M177.1 836.3v2.3M199.7 592.8v-2.3M199.7 760.4v2.3M199.7 769.0v-2.3M199.7 836.3v2.3M222.2 592.8v-2.3M222.2 760.4v2.3M222.2 769.0v-2.3M222.2 836.3v2.3M244.7 592.8v-2.3M244.7 760.4v2.3M244.7 769.0v-2.3M244.7 836.3v2.3M267.2 592.8v-2.3M267.2 760.4v2.3M267.2 769.0v-2.3M267.2 836.3v2.3M289.7 592.8v-2.3M289.7 760.4v2.3M289.7 769.0v-2.3M289.7 836.3v2.3M312.3 592.8v-2.3M312.3 760.4v2.3M312.3 769.0v-2.3M312.3 836.3v2.3M334.8 592.8v-2.3M334.8 760.4v2.3M334.8 769.0v-2.3M334.8 836.3v2.3M357.3 592.8v-2.3M357.3 760.4v2.3M357.3 769.0v-2.3M357.3 836.3v2.3M379.8 592.8v-2.3M379.8 760.4v2.3M379.8 769.0v-2.3M379.8 836.3v2.3M402.4 592.8v-2.3M402.4 760.4v2.3M402.4 769.0v-2.3M402.4 836.3v2.3M424.9 592.8v-2.3M424.9 760.4v2.3M424.9 769.0v-2.3M424.9 836.3v2.3M447.4 592.8v-2.3M447.4 760.4v2.3M447.4 769.0v-2.3M447.4 836.3v2.3M469.9 592.8v-2.3M469.9 760.4v2.3M469.9 769.0v-2.3M469.9 836.3v2.3M492.4 592.8v-2.3M492.4 760.4v2.3M492.4 769.0v-2.3M492.4 836.3v2.3M515.0 592.8v-2.3M515.0 760.4v2.3M515.0 769.0v-2.3M515.0 836.3v2.3M537.5 592.8v-2.3M537.5 760.4v2.3M537.5 769.0v-2.3M537.5 836.3v2.3M560.0 592.8v-2.3M560.0 760.4v2.3M560.0 769.0v-2.3M560.0 836.3v2.3M582.5 592.8v-2.3M582.5 760.4v2.3M582.5 769.0v-2.3M582.5 836.3v2.3M605.1 592.8v-2.3M605.1 760.4v2.3M605.1 769.0v-2.3M605.1 836.3v2.3M627.6 592.8v-2.3M627.6 760.4v2.3M627.6 769.0v-2.3M627.6 836.3v2.3" stroke="#333" stroke-width="0.8"/><text x="42.0" y="585.5" font-size="10.2" text-anchor="middle">0</text><text x="154.6" y="585.5" font-size="10.2" text-anchor="middle">50</text><text x="267.2" y="585.5" font-size="10.2" text-anchor="middle">100</text><text x="379.8" y="585.5" font-size="10.2" text-anchor="middle">150</text><text x="492.4" y="585.5" font-size="10.2" text-anchor="middle">200</text><text x="605.1" y="585.5" font-size="10.2" text-anchor="middle">250</text><text x="335.8" y="572.8" font-size="11.2" text-anchor="middle">Distance (km)</text><text x="36.5" y="596.5" font-size="10.2" text-anchor="end">200</text><text x="36.5" y="630.0" font-size="10.2" text-anchor="end">400</text><text x="36.5" y="663.5" font-size="10.2" text-anchor="end">600</text><text x="36.5" y="697.1" font-size="10.2" text-anchor="end">800</text><text x="36.5" y="730.6" font-size="10.2" text-anchor="end">1000</text><text x="36.5" y="764.1" font-size="10.2" text-anchor="end">1200</text><path d="M42.0 592.8h-2.5M629.6 592.8h2.5M42.0 626.3h-2.5M629.6 626.3h2.5M42.0 659.8h-2.5M629.6 659.8h2.5M42.0 693.4h-2.5M629.6 693.4h2.5M42.0 726.9h-2.5M629.6 726.9h2.5M42.0 760.4h-2.5M629.6 760.4h2.5" stroke="#333" stroke-width="0.8"/><text transform="translate(8.6,676.6) rotate(-90)" font-size="11.2" text-anchor="middle">Depth (m)</text><rect x="643.5" y="592.8" width="19.0" height="167.6" fill="url(#cbar)" stroke="#555" stroke-width="0.8"/><text x="666.3" y="597.2" font-size="10.2">-3</text><text x="666.3" y="618.1" font-size="10.2">-3.5</text><text x="666.3" y="639.1" font-size="10.2">-4</text><text x="666.3" y="660.0" font-size="10.2">-4.5</text><text x="666.3" y="681.0" font-size="10.2">-5</text><text x="666.3" y="701.9" font-size="10.2">-5.5</text><text x="666.3" y="722.9" font-size="10.2">-6</text><text x="666.3" y="743.9" font-size="10.2">-6.5</text><text x="666.3" y="764.8" font-size="10.2">-7</text><path d="M662.5 592.8h2.3M662.5 613.8h2.3M662.5 634.7h2.3M662.5 655.6h2.3M662.5 676.6h2.3M662.5 697.5h2.3M662.5 718.5h2.3M662.5 739.5h2.3M662.5 760.4h2.3" stroke="#333" stroke-width="0.8"/><text x="623.7" y="584.5" font-size="8.9">log<tspan font-size="7.4" dy="3.2">10</tspan><tspan dy="-3.2">K</tspan><tspan font-size="6.6" font-style="italic" dy="4.4">&#961;</tspan><tspan dy="-4.4"> (m</tspan><tspan font-size="7" dy="-3.6">2</tspan><tspan dy="3.6">s</tspan><tspan font-size="7" dy="-3.6">-1</tspan><tspan dy="3.6">)</tspan></text><rect x="42.0" y="769.0" width="587.6" height="67.3" fill="#fff"/><path d="M154.6 769.0V836.3M267.2 769.0V836.3M379.8 769.0V836.3M492.4 769.0V836.3M605.1 769.0V836.3M42.0 791.4H629.6M42.0 813.9H629.6" stroke="#e2e2e2" stroke-width="0.9"/><g clip-path="url(#kclip2)"><polygon points="46.1,799.7 51.2,801.3 55.3,800.7 59.4,789.5 62.4,782.3 65.5,783.8 68.6,785.4 70.6,795.6 74.7,795.6 77.8,779.3 79.8,777.2 82.9,785.4 85.9,791.5 89.0,797.7 94.1,796.6 99.2,795.6 104.3,795.6 107.0,776.2 109.4,776.2 112.5,778.9 116.6,782.9 119.7,784.4 121.7,783.8 125.8,786.4 129.9,789.5 134.0,795.6 138.1,796.6 142.1,793.2 146.2,792.5 151.3,791.5 155.4,790.5 160.5,789.1 164.6,789.1 169.7,790.5 169.7,800.7 164.6,802.2 160.5,799.7 155.4,795.6 151.3,793.2 146.2,795.2 142.1,797.7 138.1,802.2 134.0,800.1 129.9,793.2 125.8,789.1 121.7,786.4 119.7,787.0 116.6,791.5 112.5,791.5 109.4,777.2 107.0,777.2 104.3,797.7 99.2,798.7 94.1,799.7 89.0,803.4 85.9,798.7 82.9,790.5 79.8,784.4 77.8,789.5 74.7,802.8 70.6,800.7 66.5,796.6 62.4,795.6 59.4,800.7 55.3,806.9 51.2,809.9 46.1,811.6" fill="#e58a96" fill-opacity="0.45" stroke="#f06070" stroke-width="0.6" stroke-opacity="0.9"/><polygon points="188.1,790.5 191.2,788.5 196.3,787.0 201.4,786.4 203.5,774.2 204.9,773.1 206.5,775.2 209.6,784.4 212.7,788.5 216.7,791.1 219.8,785.0 223.9,783.3 227.0,785.8 231.0,787.0 236.2,784.4 239.6,778.9 242.3,783.3 244.9,786.4 247.4,786.4 252.5,785.8 257.6,785.0 261.7,783.8 265.8,785.0 269.9,786.4 275.0,785.8 278.1,785.0 280.1,789.5 285.2,788.5 289.3,785.4 292.4,782.3 294.4,784.4 298.5,793.6 302.6,799.3 307.7,802.2 312.8,802.2 316.9,797.7 322.0,799.7 326.1,800.1 330.2,801.7 334.3,797.7 339.4,793.2 343.5,799.3 347.5,805.4 350.6,806.9 353.7,783.3 356.7,776.2 358.8,776.2 361.9,782.3 365.9,791.5 370.0,799.3 374.1,795.6 378.2,789.5 383.3,792.5 387.4,793.6 391.5,792.5 394.6,789.9 398.6,789.1 404.8,791.5 409.9,791.1 415.0,793.6 420.1,796.6 425.2,793.6 430.3,793.6 435.4,793.2 439.5,789.9 444.6,787.4 448.7,788.5 452.8,795.6 456.9,798.7 462.0,795.6 467.0,793.8 473.2,793.8 478.1,790.6 483.1,788.1 488.1,791.8 491.8,794.3 496.7,793.1 501.7,781.9 505.4,770.0 511.6,769.5 515.4,781.9 520.3,785.6 524.1,784.9 527.8,788.1 531.5,789.3 536.5,780.7 541.4,772.5 547.6,769.0 556.3,769.0 561.3,772.0 567.5,773.9 576.2,775.7 581.1,779.4 587.3,783.1 592.3,782.4 597.3,781.9 601.0,784.4 604.7,785.6 610.9,781.4 614.6,782.4 620.8,788.1 627.1,794.8 627.1,803.0 623.3,800.5 618.4,798.0 614.6,795.5 610.9,794.3 607.2,798.0 603.5,796.8 601.0,789.3 597.3,787.4 592.3,786.9 587.3,788.1 583.6,799.3 578.7,801.3 573.7,801.7 571.2,785.6 567.5,783.1 562.5,785.6 558.8,780.7 553.8,778.2 550.1,779.4 546.4,780.7 541.4,788.1 536.5,793.1 531.5,796.3 527.8,794.3 524.1,790.6 520.3,793.1 515.4,801.7 510.4,796.8 506.7,791.8 501.7,789.3 496.7,799.3 491.8,802.2 488.1,798.8 483.1,790.6 478.1,793.1 473.2,799.8 467.0,799.3 462.0,801.7 456.9,806.9 452.8,803.8 448.7,794.6 444.6,792.5 439.5,794.0 435.4,797.2 430.3,799.3 425.2,801.7 420.1,804.8 415.0,801.7 409.9,798.7 404.8,801.3 398.6,796.0 394.6,794.0 391.5,799.3 387.4,801.3 383.3,800.7 378.2,799.7 374.1,804.2 370.0,807.9 365.9,800.7 361.9,792.5 358.8,790.5 356.7,793.6 353.7,804.8 350.6,814.4 347.5,812.4 343.5,807.9 339.4,801.3 334.3,804.8 330.2,809.5 326.1,813.6 322.0,810.9 316.9,806.9 312.8,805.4 307.7,805.8 302.6,803.4 298.5,797.7 294.4,788.5 292.4,785.8 289.3,789.5 285.2,794.6 281.7,800.1 279.1,793.6 275.0,795.6 269.9,797.2 265.8,794.6 261.7,792.5 257.6,795.6 252.5,798.7 247.4,799.7 244.9,799.3 242.3,787.4 239.6,783.3 236.2,786.4 231.0,788.5 227.0,787.4 223.9,785.0 219.8,787.0 216.7,792.5 212.7,791.5 209.6,787.4 206.5,779.3 204.9,778.2 203.5,781.3 201.4,789.1 196.3,789.9 191.2,790.5 188.1,791.9" fill="#e58a96" fill-opacity="0.45" stroke="#f06070" stroke-width="0.6" stroke-opacity="0.9"/><polyline points="46.1,805.4 51.2,805.4 55.3,803.4 59.4,795.6 62.4,789.9 66.5,791.1 70.6,797.2 74.7,797.7 77.8,785.4 79.8,781.3 82.9,787.4 85.9,794.6 89.0,799.7 94.1,798.1 99.2,796.6 104.3,796.6 107.0,776.2 109.4,776.2 112.5,786.4 116.6,787.4 119.7,785.8 121.7,785.0 125.8,787.4 129.9,791.1 134.0,798.1 138.1,799.3 142.1,795.6 146.2,793.6 151.3,792.5 155.4,792.5 160.5,794.6 164.6,795.2 169.7,794.6" fill="none" stroke="#ff1010" stroke-width="2.2" stroke-linejoin="round" stroke-linecap="round"/><polyline points="188.1,791.5 191.2,789.5 196.3,788.5 201.4,787.4 203.5,779.3 204.9,776.2 206.5,777.2 209.6,785.4 212.7,789.9 216.7,791.9 219.8,785.8 223.9,784.4 227.0,786.4 231.0,787.4 236.2,785.4 239.6,781.7 242.3,785.4 244.9,793.6 247.4,793.2 252.5,793.2 257.6,790.5 261.7,788.1 265.8,789.5 269.9,791.5 275.0,791.1 279.1,790.5 281.7,794.6 285.2,791.5 289.3,787.4 292.4,784.4 294.4,786.4 298.5,795.6 302.6,800.7 307.7,803.8 312.8,804.2 316.9,802.2 322.0,805.8 326.1,806.9 330.2,805.4 334.3,801.3 339.4,798.1 343.5,803.8 347.5,808.9 350.6,810.3 353.7,795.6 356.7,786.4 358.8,783.8 361.9,786.4 365.9,795.6 370.0,802.8 374.1,800.1 378.2,795.2 383.3,796.6 387.4,797.2 391.5,796.0 394.6,791.5 398.6,792.5 404.8,796.0 409.9,794.6 415.0,797.2 420.1,800.1 425.2,797.7 430.3,796.6 435.4,795.6 439.5,792.5 444.6,790.5 448.7,791.9 452.8,799.7 456.9,802.8 462.0,798.7 467.0,797.3 473.2,796.8 478.1,791.8 483.1,789.8 488.1,795.5 491.8,798.0 496.7,795.5 501.7,786.9 506.2,779.4 510.4,782.4 515.4,791.8 520.3,789.3 524.1,788.1 527.8,790.6 531.5,792.3 536.5,788.1 541.4,782.4 546.4,773.9 550.1,774.4 553.8,773.2 558.8,776.4 563.8,778.9 567.5,778.2 571.2,779.4 573.7,787.4 578.7,788.1 583.6,788.8 587.3,784.9 592.3,784.4 597.3,785.6 601.0,785.6 603.5,790.6 607.2,791.8 610.9,788.1 614.6,788.8 618.4,792.3 623.3,796.3 627.1,799.3" fill="none" stroke="#ff1010" stroke-width="2.2" stroke-linejoin="round" stroke-linecap="round"/></g><rect x="42.0" y="769.0" width="587.6" height="67.3" fill="none" stroke="#444" stroke-width="0.9"/><text x="35.2" y="772.7" font-size="10.2" text-anchor="end">-4</text><text x="35.2" y="795.1" font-size="10.2" text-anchor="end">-5</text><text x="35.2" y="817.6" font-size="10.2" text-anchor="end">-6</text><text x="35.2" y="840.0" font-size="10.2" text-anchor="end">-7</text><path d="M42.0 769.0h-2.5M629.6 769.0h2.5M42.0 791.4h-2.5M629.6 791.4h2.5M42.0 813.9h-2.5M629.6 813.9h2.5M42.0 836.3h-2.5M629.6 836.3h2.5" stroke="#333" stroke-width="0.8"/><text x="46.2" y="781.4" font-size="12.4" font-weight="bold">f</text><text transform="translate(17.3,802.6) rotate(-90)" font-size="11.6" text-anchor="middle">log<tspan font-size="9.2" dy="5">10</tspan><tspan dy="-5">K</tspan><tspan font-size="8" font-style="italic" font-family="Liberation Serif" dy="4">&#961;</tspan></text></svg></body></html>
